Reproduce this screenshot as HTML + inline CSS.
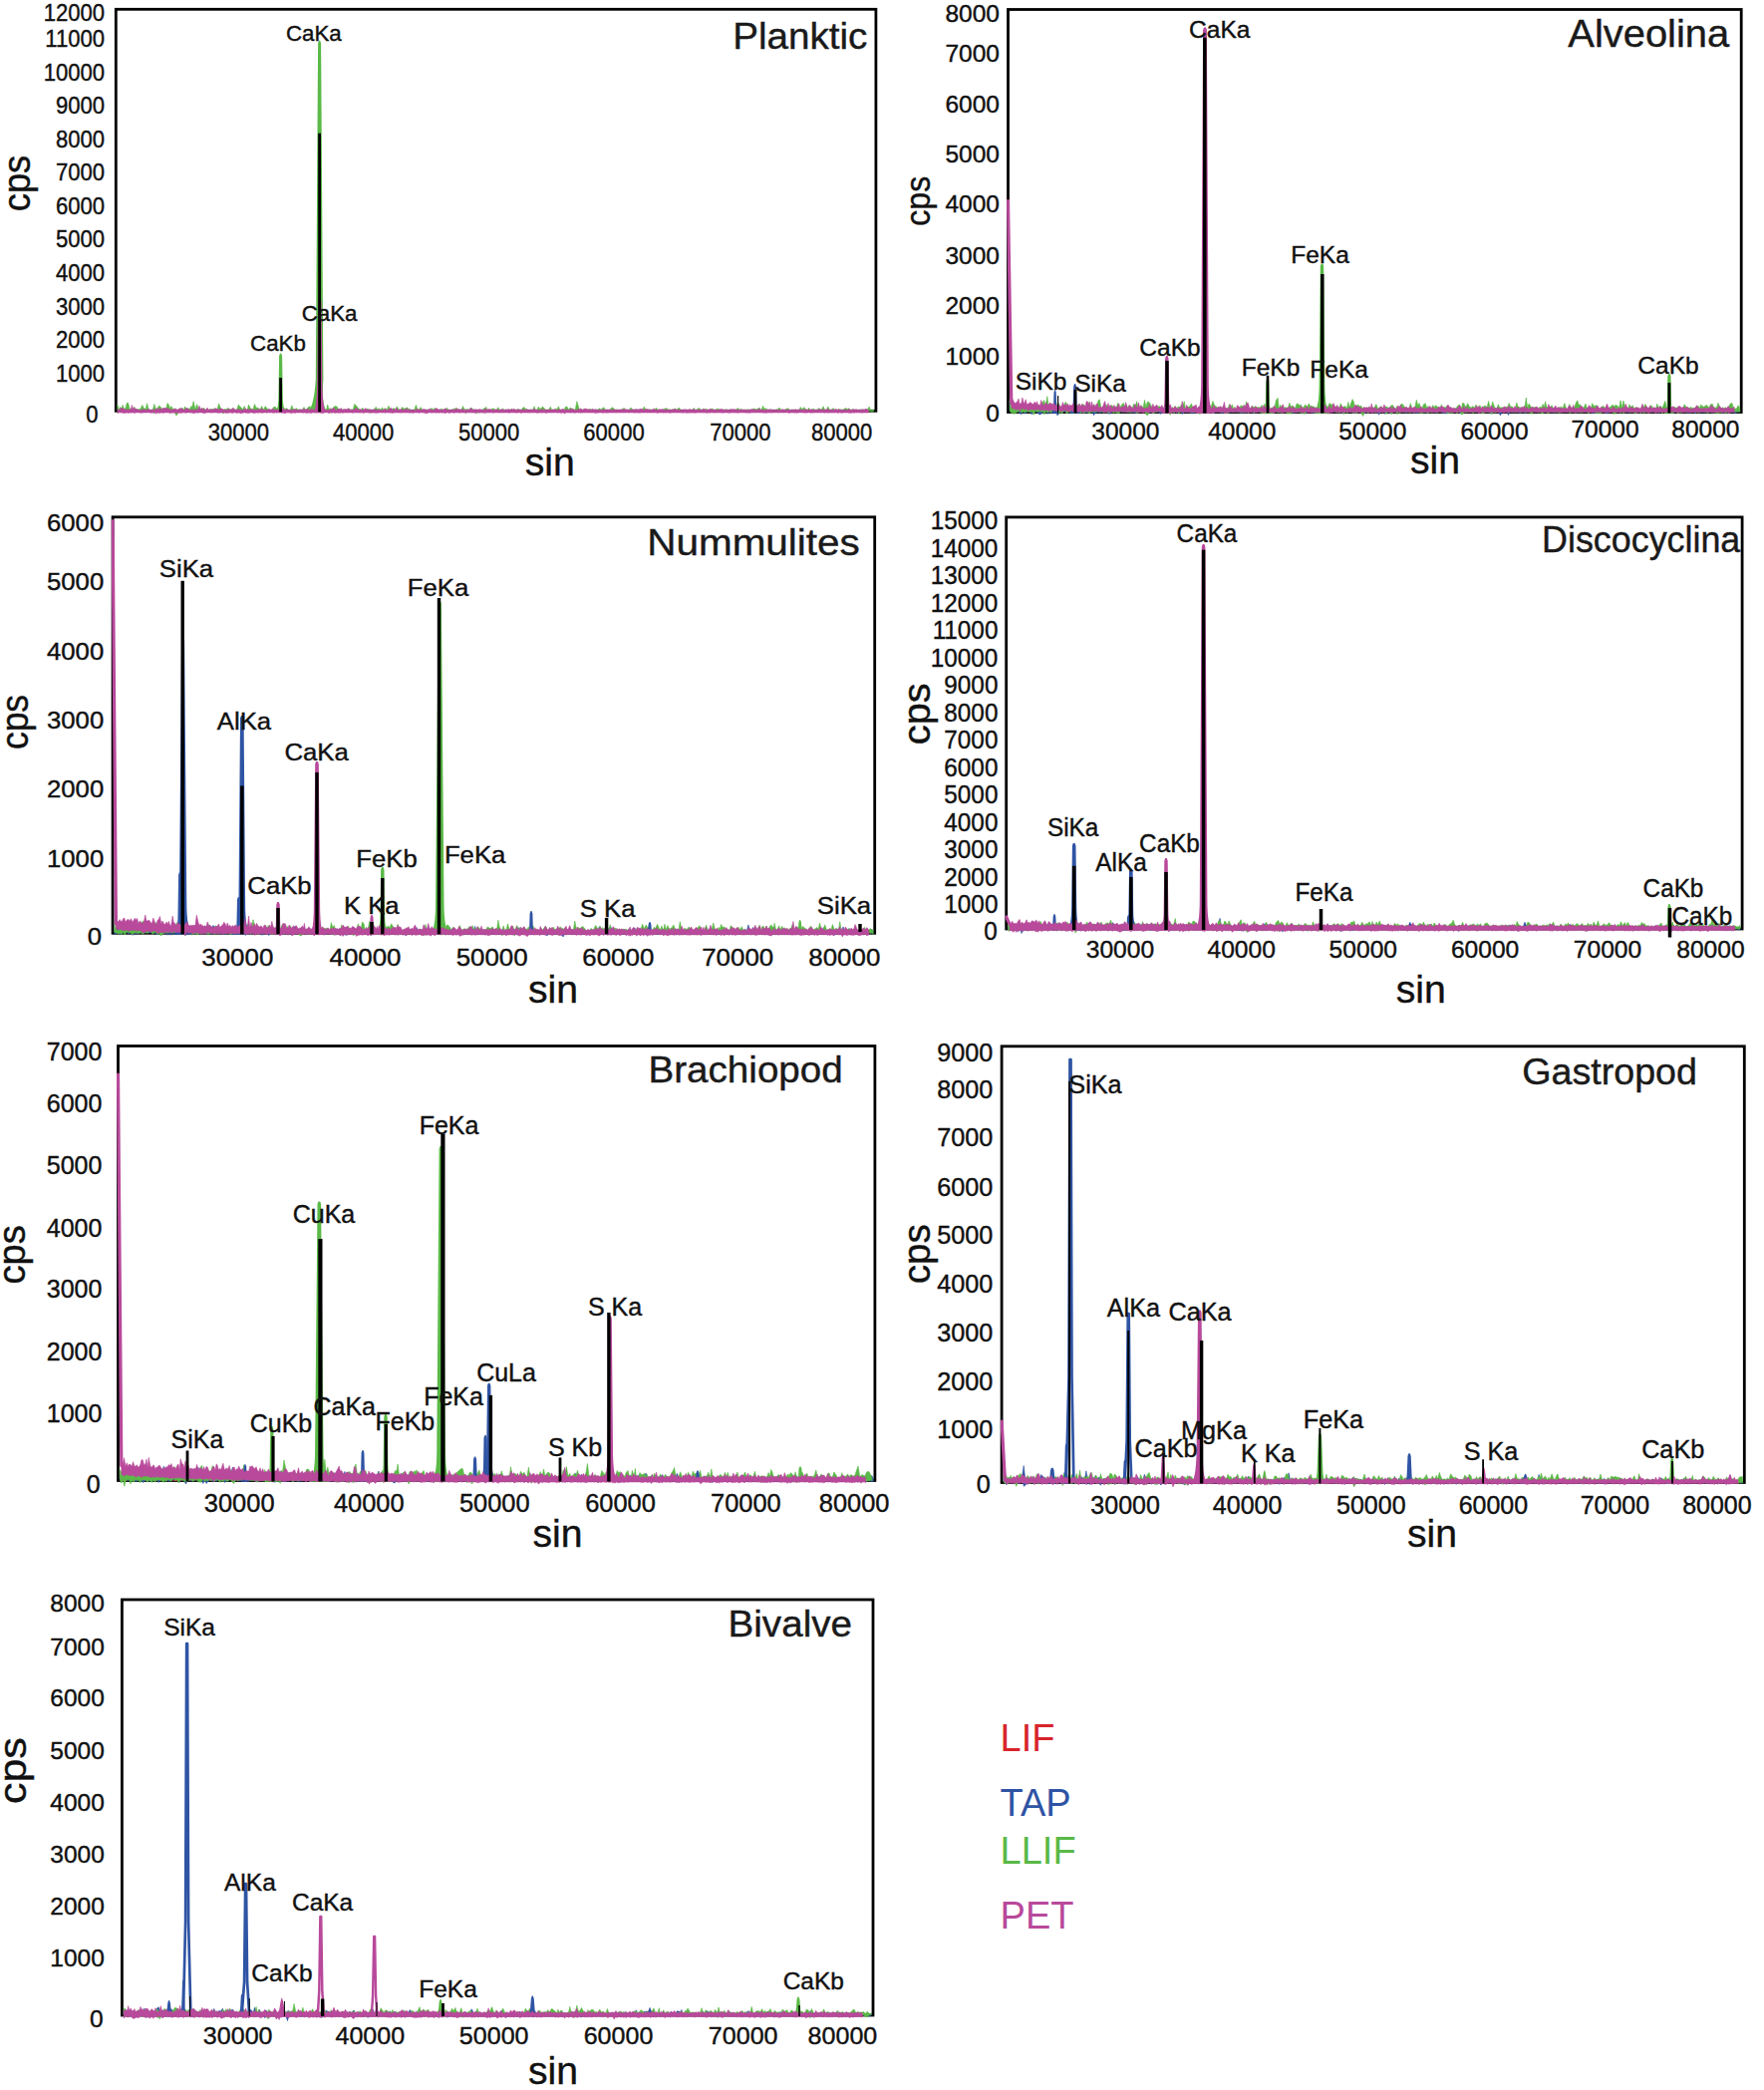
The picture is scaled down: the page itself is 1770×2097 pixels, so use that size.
<!DOCTYPE html>
<html><head><meta charset="utf-8"><title>WDS spectra</title>
<style>html,body{margin:0;padding:0;background:#fff}svg{display:block}text{font-family:"Liberation Sans",sans-serif}</style>
</head><body>
<svg width="1770" height="2097" viewBox="0 0 1770 2097">
<rect width="1770" height="2097" fill="#fff"/>
<rect x="116.3" y="9.3" width="762.6" height="403.0" fill="none" stroke="#000" stroke-width="2.8"/>
<clipPath id="c1"><rect x="114.89999999999999" y="7.9" width="764.0" height="411.0"/></clipPath>
<g clip-path="url(#c1)">
<path d="M117.9,406.0 L119.4,411.4 L120.5,408.3 L122.0,410.1 L123.1,406.3 L124.4,410.2 L125.9,409.7 L127.3,404.4 L128.5,404.1 L130.2,410.6 L131.8,410.4 L133.3,410.2 L134.8,408.3 L136.2,411.2 L137.6,410.5 L139.5,410.9 L141.3,409.6 L142.8,406.4 L144.4,409.8 L146.2,410.2 L147.6,404.7 L149.1,411.0 L150.7,411.6 L152.0,411.8 L153.7,410.2 L154.8,405.4 L156.4,410.4 L157.7,410.4 L159.2,407.4 L160.4,407.5 L162.1,409.6 L163.3,410.6 L165.2,409.2 L166.6,411.0 L168.0,404.6 L169.3,406.0 L170.5,409.7 L172.0,407.6 L173.5,410.9 L175.0,409.8 L176.5,411.1 L177.7,411.6 L179.0,411.1 L180.8,410.7 L182.5,408.9 L184.2,411.8 L185.5,407.8 L186.8,411.1 L188.5,409.1 L190.2,411.2 L191.6,407.7 L192.9,408.3 L194.1,402.8 L196.0,410.8 L197.6,405.7 L199.4,410.6 L201.1,410.0 L202.6,411.1 L204.5,409.1 L206.3,411.8 L207.9,410.7 L209.7,411.7 L211.2,410.7 L213.0,410.7 L214.5,410.4 L216.1,409.5 L217.8,412.3 L219.5,404.9 L221.4,409.5 L223.2,411.0 L224.3,411.3 L226.1,410.5 L227.3,410.8 L229.2,409.3 L230.6,411.1 L232.3,411.5 L233.5,409.1 L234.9,411.4 L236.4,411.1 L237.7,411.5 L239.3,405.9 L240.4,407.8 L242.1,408.9 L243.5,411.0 L245.3,407.4 L246.6,413.0 L248.3,411.2 L249.4,406.1 L251.2,409.3 L252.9,410.9 L254.3,409.7 L255.5,405.4 L256.9,409.1 L258.0,408.9 L259.6,409.8 L261.0,411.2 L262.7,407.6 L264.4,411.4 L266.1,407.7 L267.8,409.3 L269.2,411.4 L270.6,411.3 L272.3,411.9 L273.4,410.9 L274.9,408.0 L276.6,408.6 L278.1,410.7 L279.5,408.7 L281.2,412.1 L282.8,411.7 L284.5,408.4 L285.9,410.8 L287.2,409.4 L288.7,410.7 L289.8,412.7 L291.4,411.2 L292.8,406.8 L294.3,410.8 L296.0,410.9 L297.3,409.6 L299.1,411.5 L300.7,411.1 L302.0,411.1 L303.8,410.9 L305.0,408.4 L306.3,411.0 L307.7,411.1 L309.3,408.6 L311.1,407.7 L312.3,410.9 L313.7,410.0 L315.2,409.9 L317.0,410.1 L318.4,411.6 L320.2,410.7 L321.4,410.9 L322.9,406.1 L324.7,409.1 L325.8,411.6 L327.4,411.7 L328.7,406.0 L330.3,411.7 L331.7,409.4 L333.4,410.9 L335.3,407.9 L336.4,407.4 L338.3,408.2 L339.7,411.6 L340.9,410.3 L342.6,411.0 L344.3,411.1 L345.7,411.6 L346.9,411.3 L348.7,411.1 L350.0,409.7 L351.4,411.1 L352.8,411.1 L354.3,411.3 L355.6,405.4 L357.5,407.0 L359.2,409.2 L360.9,411.2 L362.5,411.6 L363.8,409.0 L365.0,412.7 L366.6,410.9 L368.1,410.2 L369.3,410.6 L371.0,411.2 L372.8,411.9 L374.5,411.1 L375.8,410.9 L377.2,408.2 L379.0,411.4 L380.1,409.6 L382.0,411.8 L383.5,408.8 L384.8,411.2 L386.7,409.4 L388.2,411.4 L389.9,407.2 L391.3,410.4 L392.7,411.3 L393.9,410.2 L395.2,409.4 L396.8,412.1 L398.3,407.8 L400.2,410.9 L402.0,411.9 L403.6,408.4 L405.4,410.0 L407.1,409.8 L408.8,408.8 L410.2,411.3 L411.4,410.4 L412.7,411.7 L414.0,412.5 L415.7,411.7 L417.4,406.3 L418.8,410.8 L420.5,411.3 L422.0,408.6 L423.5,411.2 L424.9,411.6 L426.7,411.5 L428.3,411.8 L429.8,411.2 L431.0,412.0 L432.3,410.2 L433.4,409.4 L434.7,411.8 L436.2,409.3 L437.9,411.1 L439.1,411.4 L440.4,412.3 L442.0,411.1 L443.4,410.1 L445.2,411.9 L446.7,411.7 L448.2,408.9 L449.7,411.5 L451.2,411.3 L452.7,412.3 L453.9,411.4 L455.1,410.1 L456.5,410.2 L457.9,409.1 L459.6,411.1 L461.2,411.7 L463.0,411.6 L464.5,407.4 L465.7,410.2 L467.1,411.3 L468.8,410.5 L470.3,411.3 L471.7,409.8 L473.4,409.2 L475.1,412.0 L476.3,411.7 L477.8,411.6 L479.6,412.0 L480.8,412.0 L482.3,411.8 L483.5,411.8 L485.3,410.0 L486.5,409.8 L487.8,408.3 L488.9,411.8 L490.5,411.1 L492.3,411.4 L494.1,410.0 L495.5,409.9 L497.2,411.5 L498.4,411.5 L499.9,408.7 L501.2,411.2 L502.9,411.4 L504.3,410.2 L506.1,411.3 L507.8,411.8 L509.1,411.4 L510.3,411.1 L511.6,412.2 L513.0,410.3 L514.2,411.1 L515.4,411.3 L516.7,412.1 L518.0,411.3 L519.8,410.6 L521.4,411.9 L523.1,411.6 L524.3,409.6 L525.8,408.4 L527.2,410.3 L528.4,410.3 L529.8,411.5 L531.7,412.3 L533.1,411.2 L534.6,411.3 L536.2,407.7 L537.3,411.7 L538.6,411.9 L540.4,408.1 L541.8,410.6 L543.2,409.2 L544.6,408.1 L546.0,409.5 L547.8,411.8 L549.1,412.1 L550.8,410.9 L552.3,408.1 L553.7,411.7 L555.2,411.9 L556.9,410.1 L558.7,410.7 L560.5,407.8 L561.7,411.9 L563.2,411.9 L565.0,411.2 L566.3,410.8 L567.7,407.9 L569.1,408.2 L570.5,411.2 L572.2,409.0 L573.7,410.1 L575.3,410.2 L577.1,411.9 L578.9,402.7 L580.5,408.3 L581.6,411.6 L583.0,411.8 L584.7,411.6 L585.8,410.4 L587.6,412.0 L589.1,411.5 L590.6,411.8 L592.2,410.0 L593.8,411.9 L595.1,411.7 L596.9,411.0 L598.6,411.6 L600.0,411.1 L601.3,409.7 L603.1,411.0 L604.7,409.5 L606.0,408.7 L607.5,411.7 L609.0,412.3 L610.9,411.8 L612.3,411.0 L614.1,408.7 L615.7,409.7 L617.2,411.5 L618.7,411.2 L620.2,412.3 L622.1,411.2 L623.6,411.5 L624.8,410.6 L626.0,409.2 L627.1,410.9 L628.4,411.1 L630.0,411.7 L631.2,411.8 L633.0,408.9 L634.8,410.9 L636.3,412.1 L637.6,411.2 L638.9,411.3 L640.1,411.2 L641.8,411.6 L643.3,411.1 L644.9,410.7 L646.4,408.0 L647.8,411.5 L649.1,410.2 L650.3,411.9 L651.9,411.0 L653.2,411.8 L655.0,411.3 L656.9,411.3 L658.4,409.1 L660.0,411.4 L661.3,412.3 L663.1,411.5 L664.9,411.2 L666.3,410.6 L667.8,409.7 L669.3,409.8 L670.7,411.4 L671.9,411.0 L673.3,411.8 L674.9,410.8 L676.5,410.9 L677.7,409.8 L678.9,411.6 L680.4,409.7 L681.6,409.2 L682.9,411.4 L684.2,412.5 L685.4,412.3 L687.0,411.9 L688.4,411.5 L690.2,411.7 L691.5,411.3 L693.0,412.0 L694.5,411.3 L696.2,409.4 L697.9,412.0 L699.1,411.2 L700.9,409.4 L702.4,410.1 L704.0,412.8 L705.3,409.9 L706.9,411.5 L708.4,410.2 L710.1,411.3 L711.4,411.8 L712.8,410.6 L714.5,410.0 L715.9,411.0 L717.4,412.1 L719.0,410.2 L720.2,410.3 L721.9,410.8 L723.4,411.5 L725.2,411.3 L727.1,411.5 L728.5,410.7 L729.8,411.5 L731.3,412.0 L732.6,411.2 L734.1,411.8 L735.9,411.9 L737.5,411.8 L738.8,411.2 L740.5,409.2 L741.9,411.7 L743.6,410.5 L745.2,411.4 L747.1,411.9 L748.3,411.6 L749.7,411.0 L751.2,411.4 L752.7,411.9 L754.5,411.0 L756.4,409.9 L757.7,410.6 L759.1,410.8 L761.0,409.8 L762.4,409.3 L763.8,412.3 L765.6,407.3 L766.9,410.5 L768.3,409.5 L769.9,411.4 L771.6,411.6 L772.8,411.2 L774.4,411.4 L775.5,412.0 L777.2,411.8 L778.3,412.0 L779.7,410.7 L781.0,410.5 L782.1,409.0 L783.6,411.4 L785.4,411.6 L786.9,412.0 L788.5,410.4 L790.3,409.7 L792.1,411.1 L793.7,411.4 L795.2,411.6 L797.1,411.8 L798.8,411.9 L800.4,411.1 L801.9,411.9 L803.2,408.4 L804.9,410.8 L806.8,408.6 L808.6,411.5 L810.3,411.4 L811.6,409.2 L813.3,411.8 L814.7,411.7 L816.0,410.1 L817.4,411.1 L818.6,411.7 L819.8,411.6 L821.6,409.4 L823.1,410.9 L824.7,410.6 L826.1,407.8 L827.9,411.9 L829.2,411.7 L830.8,407.9 L832.6,411.7 L834.2,411.4 L836.0,409.5 L837.6,411.8 L839.2,410.7 L841.0,411.8 L842.6,410.6 L844.2,411.5 L845.5,411.0 L847.1,410.6 L848.8,409.3 L850.1,410.8 L851.7,409.7 L853.4,411.2 L854.6,411.7 L856.0,410.4 L857.3,411.9 L858.6,411.9 L860.5,411.7 L862.2,411.6 L864.0,411.1 L865.3,411.0 L867.1,411.6 L868.2,410.8 L869.5,411.6 L870.7,410.4 L872.2,408.1 L873.5,411.2 L874.8,411.7 L876.6,410.9 L876.9,412.1 L875.1,413.2 L873.8,412.7 L872.5,412.2 L871.0,412.4 L869.8,411.9 L868.5,413.5 L867.4,412.0 L865.6,412.6 L864.3,412.0 L862.5,412.7 L860.8,411.8 L858.9,411.7 L857.6,412.0 L856.3,412.2 L854.9,411.6 L853.7,412.3 L852.0,413.1 L850.4,411.6 L849.1,411.9 L847.4,410.9 L845.8,412.0 L844.5,412.0 L842.9,412.1 L841.3,412.5 L839.5,412.8 L837.9,412.5 L836.3,413.3 L834.5,412.2 L832.9,411.3 L831.1,411.8 L829.5,411.5 L828.2,413.3 L826.4,411.7 L825.0,411.9 L823.4,411.8 L821.9,412.3 L820.1,412.0 L818.9,413.1 L817.7,412.0 L816.3,412.2 L815.0,411.9 L813.6,411.9 L811.9,412.0 L810.6,412.0 L808.9,412.1 L807.1,412.1 L805.2,411.8 L803.5,412.0 L802.2,412.3 L800.7,411.7 L799.1,412.4 L797.4,412.2 L795.5,412.4 L794.0,412.3 L792.4,412.8 L790.6,412.9 L788.8,411.9 L787.2,412.3 L785.7,411.9 L783.9,412.0 L782.4,412.7 L781.3,412.2 L780.0,411.9 L778.6,412.5 L777.5,411.6 L775.8,412.7 L774.7,412.1 L773.1,412.3 L771.9,412.5 L770.2,412.0 L768.6,412.9 L767.2,411.7 L765.9,412.1 L764.1,412.0 L762.7,413.5 L761.3,412.7 L759.4,412.7 L758.0,411.7 L756.7,412.9 L754.8,412.6 L753.0,412.0 L751.5,411.3 L750.0,412.0 L748.6,411.9 L747.4,411.8 L745.5,412.0 L743.9,411.9 L742.2,413.0 L740.8,411.9 L739.1,412.7 L737.8,412.3 L736.2,412.0 L734.4,412.0 L732.9,411.9 L731.6,412.6 L730.1,413.2 L728.8,412.0 L727.4,412.0 L725.5,411.8 L723.7,412.1 L722.2,412.3 L720.5,412.0 L719.3,413.5 L717.7,413.3 L716.2,412.0 L714.8,412.6 L713.1,411.8 L711.7,413.0 L710.4,412.6 L708.7,413.2 L707.2,413.1 L705.6,412.1 L704.3,412.1 L702.7,412.1 L701.2,412.0 L699.4,411.9 L698.2,412.6 L696.5,413.1 L694.8,412.1 L693.3,411.9 L691.8,411.7 L690.5,412.7 L688.7,412.8 L687.3,412.0 L685.7,412.9 L684.5,412.3 L683.2,412.8 L681.9,413.1 L680.7,411.9 L679.2,413.4 L678.0,412.4 L676.8,412.1 L675.2,412.9 L673.6,411.8 L672.2,413.1 L671.0,412.2 L669.6,411.8 L668.1,411.9 L666.6,412.0 L665.2,412.1 L663.4,413.7 L661.6,411.6 L660.3,412.9 L658.7,411.7 L657.2,411.9 L655.3,412.0 L653.5,412.6 L652.2,413.4 L650.6,412.4 L649.4,413.1 L648.1,413.5 L646.7,411.8 L645.2,412.3 L643.6,413.8 L642.1,411.8 L640.4,412.7 L639.2,412.8 L637.9,412.0 L636.6,412.7 L635.1,412.3 L633.3,413.0 L631.5,411.7 L630.3,412.6 L628.7,412.7 L627.4,412.7 L626.3,412.2 L625.1,412.1 L623.9,412.1 L622.4,413.0 L620.5,412.1 L619.0,412.2 L617.5,413.2 L616.0,412.3 L614.4,412.1 L612.6,412.6 L611.2,411.9 L609.3,412.5 L607.8,412.0 L606.3,412.0 L605.0,413.1 L603.4,412.5 L601.6,412.2 L600.3,412.1 L598.9,411.9 L597.2,413.1 L595.4,413.3 L594.1,412.0 L592.5,411.9 L590.9,412.0 L589.4,411.6 L587.9,412.7 L586.1,412.2 L585.0,414.2 L583.3,413.0 L581.9,412.1 L580.8,412.2 L579.2,412.3 L577.4,414.2 L575.6,412.6 L574.0,412.1 L572.5,412.4 L570.8,412.0 L569.4,411.8 L568.0,411.5 L566.6,412.8 L565.3,412.5 L563.5,411.9 L562.0,411.7 L560.8,412.1 L559.0,412.5 L557.2,412.1 L555.5,411.7 L554.0,413.0 L552.6,412.9 L551.1,411.8 L549.4,411.8 L548.1,412.2 L546.3,411.9 L544.9,412.1 L543.5,412.4 L542.1,411.9 L540.7,412.0 L538.9,412.1 L537.6,412.6 L536.5,411.8 L534.9,412.2 L533.4,412.5 L532.0,412.1 L530.1,411.9 L528.7,412.5 L527.5,412.0 L526.1,413.6 L524.6,411.8 L523.4,413.7 L521.7,411.8 L520.1,413.2 L518.3,411.8 L517.0,411.4 L515.7,412.1 L514.5,411.8 L513.3,413.4 L511.9,413.0 L510.6,412.8 L509.4,412.7 L508.1,411.8 L506.4,412.5 L504.6,413.0 L503.2,413.2 L501.5,413.1 L500.2,412.1 L498.7,411.9 L497.5,411.8 L495.8,411.4 L494.4,412.1 L492.6,411.9 L490.8,412.2 L489.2,413.0 L488.1,414.3 L486.8,413.7 L485.6,413.7 L483.8,412.6 L482.6,412.3 L481.1,414.4 L479.9,413.4 L478.1,414.8 L476.6,411.5 L475.4,412.7 L473.7,412.5 L472.0,411.9 L470.6,412.6 L469.1,411.9 L467.4,415.0 L466.0,412.2 L464.8,412.5 L463.3,411.9 L461.5,413.0 L459.9,412.1 L458.2,413.0 L456.8,412.0 L455.4,412.0 L454.2,413.6 L453.0,411.9 L451.5,412.4 L450.0,412.0 L448.5,412.5 L447.0,412.0 L445.5,413.0 L443.7,411.7 L442.3,413.3 L440.7,413.5 L439.4,413.6 L438.2,412.0 L436.5,412.2 L435.0,411.3 L433.7,412.2 L432.6,413.4 L431.3,412.0 L430.1,412.6 L428.6,411.6 L427.0,411.7 L425.2,412.3 L423.8,413.7 L422.3,412.0 L420.8,412.4 L419.1,411.5 L417.7,411.7 L416.0,413.2 L414.3,412.2 L413.0,412.1 L411.7,412.0 L410.5,411.9 L409.1,411.7 L407.4,412.7 L405.7,412.1 L403.9,412.1 L402.3,413.1 L400.5,412.3 L398.6,412.0 L397.1,412.9 L395.5,412.1 L394.2,412.8 L393.0,412.2 L391.6,411.8 L390.2,411.7 L388.5,412.9 L387.0,413.4 L385.1,413.3 L383.8,411.4 L382.3,412.0 L380.4,412.7 L379.3,412.3 L377.5,411.3 L376.1,411.5 L374.8,411.5 L373.1,412.9 L371.3,414.4 L369.6,412.0 L368.4,412.3 L366.9,412.6 L365.3,413.1 L364.1,413.5 L362.8,412.8 L361.2,411.6 L359.5,413.1 L357.8,412.0 L355.9,413.4 L354.6,412.1 L353.1,413.1 L351.7,412.1 L350.3,413.0 L349.0,411.7 L347.2,411.8 L346.0,413.8 L344.6,413.2 L342.9,412.7 L341.2,412.0 L340.0,411.4 L338.6,412.5 L336.7,413.2 L335.6,414.2 L333.7,411.5 L332.0,414.4 L330.6,411.9 L329.0,413.1 L327.7,413.1 L326.1,411.7 L325.0,412.3 L323.2,411.5 L321.7,412.0 L320.5,411.7 L318.7,413.1 L317.3,412.1 L315.5,413.9 L314.0,412.8 L312.6,412.0 L311.4,412.0 L309.6,411.9 L308.0,412.1 L306.6,411.5 L305.3,413.5 L304.1,411.6 L302.3,411.9 L301.0,413.3 L299.4,411.4 L297.6,411.4 L296.3,413.7 L294.6,411.9 L293.1,413.1 L291.7,411.9 L290.1,412.1 L289.0,411.7 L287.5,411.4 L286.2,414.0 L284.8,411.6 L283.1,413.0 L281.5,412.2 L279.8,411.7 L278.4,412.2 L276.9,412.1 L275.2,412.1 L273.7,413.7 L272.6,412.2 L270.9,412.4 L269.5,412.1 L268.1,412.1 L266.4,413.5 L264.7,411.9 L263.0,412.0 L261.3,412.0 L259.9,411.9 L258.3,413.4 L257.2,412.8 L255.8,411.6 L254.6,411.7 L253.2,411.7 L251.5,412.0 L249.7,412.0 L248.6,413.3 L246.9,411.8 L245.6,412.0 L243.8,411.5 L242.4,411.9 L240.7,412.8 L239.6,411.6 L238.0,412.1 L236.7,411.8 L235.2,411.9 L233.8,412.8 L232.6,412.9 L230.9,413.5 L229.5,411.6 L227.6,411.5 L226.4,411.5 L224.6,414.7 L223.5,414.8 L221.7,411.8 L219.8,413.6 L218.1,412.2 L216.4,412.3 L214.8,412.4 L213.3,413.2 L211.5,413.2 L210.0,412.7 L208.2,413.0 L206.6,411.9 L204.8,412.1 L202.9,412.5 L201.4,412.1 L199.7,413.1 L197.9,413.9 L196.3,412.4 L194.4,414.0 L193.2,411.4 L191.9,411.8 L190.5,413.3 L188.8,411.4 L187.1,412.0 L185.8,411.7 L184.5,411.6 L182.8,412.5 L181.1,411.7 L179.3,411.4 L178.0,415.7 L176.8,417.1 L175.3,412.7 L173.8,413.0 L172.3,414.6 L170.8,412.0 L169.6,411.8 L168.3,411.9 L166.9,411.9 L165.5,411.6 L163.6,411.5 L162.4,412.1 L160.7,411.8 L159.5,412.3 L158.0,414.3 L156.7,412.5 L155.1,412.3 L154.0,414.8 L152.3,411.7 L151.0,411.8 L149.4,412.2 L147.9,413.1 L146.5,411.3 L144.7,412.1 L143.1,411.9 L141.6,411.6 L139.8,411.9 L137.9,412.1 L136.5,412.8 L135.1,413.7 L133.6,412.0 L132.1,413.9 L130.5,411.1 L128.8,412.1 L127.6,412.5 L126.2,413.2 L124.7,412.3 L123.4,412.4 L122.3,411.8 L120.8,411.3 L119.7,412.8 L118.2,414.3Z" fill="#5ab947" stroke="#5ab947" stroke-width="0.6" stroke-linejoin="round"/>
<path d="M276.1,413.5 Q279.6,411.0 279.5,395.1 L280.1,357.0 L281.0,354.5 L282.2,354.5 L283.1,357.0 L283.7,395.1 Q283.6,411.0 287.1,413.5 Z" fill="#5ab947"/>
<path d="M307.6,413.5 Q314.9,411.0 316.8,380.5 L319.1,43.3 L320.0,40.8 L321.2,40.8 L322.1,43.3 L324.4,380.5 Q322.3,411.0 329.6,413.5 Z" fill="#5ab947"/>
<path d="M117.9,410.7 L119.3,411.3 L120.8,410.0 L122.3,409.6 L123.7,409.5 L124.8,410.9 L126.0,410.9 L127.5,410.7 L128.5,411.5 L129.9,410.5 L131.1,411.3 L132.4,406.4 L133.4,411.3 L134.6,408.7 L136.0,410.7 L137.0,410.2 L138.4,411.3 L139.6,411.3 L141.0,411.8 L142.3,411.3 L143.5,410.7 L144.5,410.7 L145.9,411.3 L147.0,411.5 L148.0,411.1 L149.1,410.1 L150.1,411.3 L151.1,411.3 L152.5,411.5 L153.7,410.4 L154.8,411.4 L156.2,410.7 L157.6,409.6 L158.6,411.3 L159.9,409.8 L161.2,409.8 L162.5,411.3 L164.0,409.1 L165.1,410.3 L166.1,409.1 L167.4,410.0 L168.7,409.6 L170.0,411.0 L171.3,410.9 L172.3,411.1 L173.6,410.8 L175.0,410.6 L176.4,410.0 L177.6,411.2 L178.7,411.0 L180.2,409.7 L181.7,409.9 L182.7,410.2 L184.0,410.8 L185.2,412.0 L186.3,409.7 L187.5,409.4 L188.7,410.6 L189.7,410.7 L190.9,411.3 L191.9,411.1 L193.3,411.4 L194.5,411.1 L195.9,411.4 L197.3,410.6 L198.7,411.5 L200.0,407.2 L201.4,411.5 L202.3,409.3 L203.7,410.3 L205.2,411.0 L206.7,411.2 L208.1,409.1 L209.4,411.7 L210.8,410.5 L211.8,411.1 L213.1,410.9 L214.5,410.6 L215.4,411.1 L216.4,409.8 L217.8,410.3 L218.8,410.5 L220.1,411.3 L221.0,409.7 L222.4,410.3 L223.9,410.8 L224.9,411.4 L226.4,411.4 L227.7,411.1 L229.2,410.6 L230.6,411.1 L231.8,410.8 L232.9,410.6 L234.3,409.4 L235.2,410.8 L236.2,411.4 L237.2,411.1 L238.5,410.6 L239.7,410.9 L241.0,411.1 L242.3,411.5 L243.8,411.2 L245.1,411.3 L246.2,409.5 L247.4,411.3 L248.8,410.3 L250.2,411.5 L251.5,410.5 L252.6,410.6 L253.7,411.3 L255.0,411.1 L256.1,411.2 L257.4,411.3 L258.5,410.5 L259.9,411.3 L261.1,410.3 L262.3,410.1 L263.2,411.0 L264.4,410.9 L265.8,411.1 L267.2,411.2 L268.6,411.3 L270.1,410.2 L271.1,411.2 L272.4,410.9 L273.6,409.9 L274.9,411.1 L276.3,411.2 L277.3,411.1 L278.2,411.1 L279.2,411.1 L280.5,411.6 L281.4,410.1 L282.8,409.2 L283.8,410.3 L285.1,410.7 L286.2,411.1 L287.3,411.1 L288.5,410.5 L289.5,411.3 L290.8,411.5 L292.3,411.3 L293.5,411.1 L294.5,411.2 L295.9,410.3 L296.8,411.3 L298.2,411.4 L299.3,411.4 L300.6,411.3 L301.6,410.9 L302.6,411.2 L303.6,411.3 L304.7,410.0 L306.0,411.1 L306.9,411.3 L308.2,410.1 L309.6,410.6 L310.6,411.6 L311.8,410.7 L313.1,410.1 L314.4,411.4 L315.4,411.4 L316.7,410.1 L318.0,411.3 L319.3,410.8 L320.7,411.5 L321.7,410.8 L323.0,411.2 L324.2,410.7 L325.2,411.2 L326.1,411.1 L327.3,411.2 L328.5,411.5 L329.7,411.8 L331.0,409.9 L331.9,410.9 L332.9,411.1 L333.9,409.6 L335.0,409.1 L336.5,411.3 L337.9,411.5 L338.9,410.1 L340.2,410.3 L341.3,410.5 L342.3,409.4 L343.3,411.6 L344.2,410.9 L345.2,410.7 L346.5,410.6 L348.0,411.0 L349.5,409.7 L351.0,411.2 L352.5,411.3 L353.6,411.2 L354.8,411.1 L356.1,410.7 L357.2,408.9 L358.6,410.9 L360.1,411.0 L361.1,410.5 L362.1,411.0 L363.4,411.2 L364.6,411.2 L365.6,410.6 L367.1,409.7 L368.5,411.2 L369.7,410.9 L370.8,411.2 L371.9,410.8 L373.0,411.5 L374.4,411.4 L375.6,410.1 L376.7,411.3 L378.2,411.4 L379.2,411.0 L380.3,411.2 L381.2,411.2 L382.5,411.5 L383.5,411.8 L384.9,411.3 L386.1,410.0 L387.1,411.2 L388.3,411.3 L389.3,411.8 L390.3,410.2 L391.6,409.8 L392.5,409.2 L393.6,411.3 L394.7,411.2 L396.1,411.3 L397.5,409.3 L398.9,411.5 L400.1,411.0 L401.4,411.0 L402.7,410.5 L403.7,411.0 L405.2,411.2 L406.1,411.2 L407.5,410.0 L408.5,410.3 L409.6,411.7 L410.6,410.4 L411.9,411.4 L412.9,411.7 L414.2,411.2 L415.4,411.4 L416.8,411.7 L418.1,410.5 L419.1,410.7 L420.5,410.9 L421.5,411.1 L422.7,411.3 L423.9,410.9 L425.0,410.5 L426.2,410.7 L427.7,411.4 L429.2,411.3 L430.1,411.0 L431.3,410.0 L432.7,411.2 L433.8,411.3 L435.0,411.4 L436.1,411.2 L437.4,409.7 L438.8,409.9 L440.1,411.3 L441.2,410.7 L442.2,411.2 L443.4,411.4 L444.4,411.5 L445.7,410.3 L446.9,410.1 L448.1,411.1 L449.3,411.2 L450.8,411.2 L451.9,411.4 L452.9,411.4 L454.0,410.8 L455.4,411.4 L456.3,410.9 L457.3,410.4 L458.4,410.3 L459.5,410.7 L460.8,410.4 L461.8,411.2 L462.9,410.8 L464.0,410.7 L464.9,410.9 L466.4,411.4 L467.8,411.2 L469.1,411.3 L470.2,411.3 L471.3,410.8 L472.7,409.2 L474.1,411.5 L475.2,411.1 L476.4,410.7 L477.6,410.9 L478.9,411.2 L480.4,411.0 L481.6,410.6 L482.9,411.3 L484.2,411.5 L485.6,411.4 L486.7,409.9 L488.1,411.3 L489.4,410.7 L490.7,410.7 L492.0,410.7 L493.5,411.2 L494.5,411.4 L496.0,411.5 L497.3,411.1 L498.2,410.7 L499.6,411.3 L500.8,411.6 L502.0,411.3 L503.0,411.3 L504.0,410.3 L504.9,411.2 L506.4,411.6 L507.3,410.9 L508.5,411.0 L509.6,411.0 L510.9,410.6 L511.8,411.6 L513.3,410.6 L514.4,410.9 L515.8,410.3 L517.0,411.1 L517.9,411.4 L519.3,411.3 L520.4,410.4 L521.6,411.4 L522.8,411.3 L523.8,411.3 L524.8,411.0 L525.8,411.3 L527.3,411.2 L528.4,410.7 L529.5,411.2 L530.6,411.4 L531.8,411.0 L533.2,411.2 L534.4,411.3 L535.8,410.2 L537.0,411.0 L538.4,411.2 L539.8,411.2 L540.9,411.5 L542.3,411.2 L543.3,411.2 L544.4,410.3 L545.5,411.4 L546.6,410.9 L547.8,411.4 L549.3,411.4 L550.6,411.0 L552.0,410.9 L553.2,411.2 L554.5,410.9 L555.7,411.3 L557.1,410.7 L558.3,411.4 L559.7,411.3 L560.6,411.1 L561.7,410.5 L562.9,411.5 L564.0,410.6 L565.1,410.6 L566.0,411.0 L567.5,411.7 L568.7,410.5 L570.1,411.5 L571.1,411.5 L572.2,410.6 L573.3,410.2 L574.8,410.7 L576.1,411.5 L577.3,411.3 L578.3,411.3 L579.3,411.4 L580.3,410.3 L581.5,411.1 L582.6,409.8 L583.9,411.0 L585.4,411.3 L586.5,410.0 L587.8,409.9 L588.8,410.8 L589.7,410.4 L590.9,410.9 L592.0,411.1 L593.1,411.4 L594.5,410.0 L595.7,411.4 L597.2,410.7 L598.1,411.2 L599.0,411.1 L600.4,411.4 L601.8,411.1 L603.0,411.5 L603.9,411.2 L605.0,411.1 L606.4,410.9 L607.4,411.1 L608.4,411.2 L609.6,411.2 L610.9,411.3 L612.0,410.8 L613.1,411.2 L614.3,411.2 L615.5,411.1 L616.5,410.8 L617.5,411.3 L618.4,411.3 L619.6,411.4 L620.8,411.1 L621.9,411.5 L623.3,410.8 L624.4,410.9 L625.5,410.9 L627.0,410.5 L628.4,411.2 L629.5,411.1 L630.5,411.0 L631.9,411.1 L633.2,411.2 L634.3,411.1 L635.4,410.9 L636.5,411.2 L638.0,410.3 L639.0,411.3 L639.9,410.8 L641.0,411.0 L642.4,410.3 L643.7,410.4 L644.9,410.5 L645.9,411.5 L647.1,411.3 L648.5,410.1 L649.7,411.3 L650.9,410.7 L652.4,411.2 L653.3,411.4 L654.6,411.2 L655.8,409.9 L657.1,411.1 L658.1,411.3 L659.2,411.4 L660.7,411.1 L662.0,410.8 L663.1,410.9 L664.1,410.7 L665.4,410.8 L666.5,411.2 L667.4,411.2 L668.7,411.0 L670.2,411.2 L671.5,411.3 L672.4,411.1 L673.6,411.4 L674.8,411.2 L676.2,410.4 L677.1,410.6 L678.4,411.0 L679.6,411.2 L680.6,410.9 L682.0,411.1 L683.5,411.4 L685.0,411.2 L686.4,411.1 L687.4,410.8 L688.8,411.2 L690.0,411.3 L691.0,411.1 L692.4,410.6 L693.4,411.3 L694.8,411.2 L696.1,410.5 L697.4,411.4 L698.8,411.1 L700.1,411.2 L701.3,411.3 L702.3,410.8 L703.5,411.3 L704.8,411.3 L706.2,410.3 L707.5,410.8 L708.6,411.6 L709.7,411.0 L710.7,411.5 L711.8,410.5 L713.2,410.6 L714.1,411.1 L715.3,411.1 L716.2,411.0 L717.6,411.6 L718.7,411.2 L720.1,411.2 L721.5,411.3 L722.5,410.5 L723.6,410.6 L725.1,410.8 L726.6,411.6 L727.6,411.1 L728.8,411.3 L730.0,411.2 L731.3,411.4 L732.6,411.1 L733.5,410.3 L734.5,411.5 L735.4,410.0 L736.6,411.3 L737.6,410.7 L738.9,411.0 L740.0,411.2 L741.1,411.4 L742.0,410.9 L742.9,411.2 L744.4,411.0 L745.4,411.4 L746.9,411.1 L748.2,411.4 L749.5,411.4 L750.7,411.3 L752.2,411.2 L753.1,411.3 L754.1,410.3 L755.2,411.1 L756.6,410.7 L757.6,411.3 L758.7,411.2 L760.2,411.3 L761.5,410.1 L762.4,410.9 L763.3,411.3 L764.4,410.8 L765.4,411.3 L766.6,411.4 L767.7,411.5 L768.8,411.5 L769.8,410.8 L771.0,411.2 L772.2,410.9 L773.2,410.9 L774.2,411.0 L775.3,411.4 L776.3,411.3 L777.6,411.4 L778.9,411.2 L780.4,411.2 L781.4,411.1 L782.8,411.4 L784.0,411.3 L785.3,410.7 L786.7,411.3 L787.7,411.2 L789.1,411.2 L790.3,411.2 L791.6,410.7 L792.6,411.8 L793.9,411.3 L794.8,411.2 L796.0,411.2 L797.2,411.3 L798.2,410.7 L799.1,411.3 L800.4,411.4 L801.5,411.0 L802.6,410.7 L804.0,411.2 L805.3,411.2 L806.5,411.1 L807.6,411.3 L808.7,410.3 L809.6,411.6 L810.9,411.1 L812.3,411.1 L813.5,411.3 L814.8,410.4 L815.8,411.4 L816.8,411.3 L818.1,411.3 L819.2,411.2 L820.6,411.2 L821.5,411.0 L822.6,410.5 L823.8,411.3 L825.1,411.0 L826.2,410.9 L827.3,411.3 L828.6,411.3 L829.8,410.4 L830.9,410.5 L832.1,411.4 L833.5,411.3 L834.5,411.2 L835.7,411.2 L837.0,411.2 L838.2,410.4 L839.3,411.2 L840.5,411.2 L841.5,410.3 L842.6,411.7 L843.8,411.1 L845.0,411.7 L846.2,411.3 L847.6,411.2 L848.9,411.2 L850.2,411.5 L851.3,410.3 L852.6,411.0 L853.5,411.4 L854.4,411.6 L855.6,410.9 L856.7,410.8 L858.1,411.1 L859.2,410.7 L860.5,411.4 L862.0,411.3 L862.9,411.1 L864.0,411.4 L865.2,410.9 L866.2,410.9 L867.6,411.0 L868.9,410.1 L870.0,410.9 L871.4,411.3 L871.7,414.0 L870.3,414.1 L869.2,414.0 L867.9,414.0 L866.5,414.0 L865.5,414.3 L864.3,414.1 L863.2,414.1 L862.3,414.0 L860.8,413.9 L859.5,414.0 L858.4,413.9 L857.0,414.2 L855.9,413.9 L854.7,414.2 L853.8,414.3 L852.9,414.3 L851.6,414.2 L850.5,414.0 L849.2,414.0 L847.9,414.0 L846.5,414.0 L845.3,414.3 L844.1,414.2 L842.9,413.9 L841.8,414.0 L840.8,414.4 L839.6,413.9 L838.5,414.0 L837.3,414.0 L836.0,414.1 L834.8,414.1 L833.8,414.0 L832.4,414.1 L831.2,414.2 L830.1,414.0 L828.9,414.0 L827.6,414.2 L826.5,414.1 L825.4,413.9 L824.1,414.0 L822.9,414.0 L821.8,413.8 L820.9,414.1 L819.5,414.0 L818.4,414.0 L817.1,413.9 L816.1,414.2 L815.1,414.0 L813.8,414.3 L812.6,414.0 L811.2,413.9 L809.9,413.9 L809.0,414.4 L807.9,413.9 L806.8,414.2 L805.6,413.9 L804.3,413.9 L802.9,413.8 L801.8,413.9 L800.7,414.0 L799.4,414.4 L798.5,413.9 L797.5,414.3 L796.3,414.0 L795.1,414.1 L794.2,414.0 L792.9,414.0 L791.9,414.6 L790.6,414.0 L789.4,413.9 L788.0,414.0 L787.0,413.9 L785.6,414.1 L784.3,413.9 L783.1,413.9 L781.7,414.1 L780.7,414.0 L779.2,413.9 L777.9,414.0 L776.6,413.9 L775.6,413.9 L774.5,414.2 L773.5,414.1 L772.5,414.0 L771.3,414.1 L770.1,414.0 L769.1,414.2 L768.0,414.3 L766.9,414.1 L765.7,414.3 L764.7,413.9 L763.6,414.1 L762.7,413.9 L761.8,414.0 L760.5,413.9 L759.0,414.0 L757.9,414.0 L756.9,413.9 L755.5,414.0 L754.4,414.0 L753.4,414.1 L752.5,414.2 L751.0,414.3 L749.8,414.1 L748.5,414.2 L747.2,413.9 L745.7,414.0 L744.7,414.0 L743.2,413.9 L742.3,414.0 L741.4,414.1 L740.3,414.5 L739.2,414.0 L737.9,414.1 L736.9,414.1 L735.7,414.1 L734.8,414.1 L733.8,413.9 L732.9,414.2 L731.6,414.3 L730.3,414.0 L729.1,414.0 L727.9,414.0 L726.9,414.0 L725.4,414.3 L723.9,414.1 L722.8,414.1 L721.8,413.9 L720.4,414.1 L719.0,414.0 L717.9,414.0 L716.5,414.2 L715.6,413.9 L714.4,413.9 L713.5,413.9 L712.1,414.2 L711.0,413.9 L710.0,414.2 L708.9,414.3 L707.8,414.1 L706.5,414.1 L705.1,414.1 L703.8,413.9 L702.6,414.1 L701.6,414.1 L700.4,413.9 L699.1,414.1 L697.7,414.3 L696.4,414.2 L695.1,413.9 L693.7,414.2 L692.7,414.0 L691.3,414.3 L690.3,414.1 L689.1,414.4 L687.7,413.9 L686.7,414.1 L685.3,414.2 L683.8,414.0 L682.3,414.0 L680.9,414.0 L679.9,414.1 L678.7,414.0 L677.4,414.0 L676.5,414.0 L675.1,413.9 L673.9,414.0 L672.7,414.3 L671.8,414.2 L670.5,414.0 L669.0,413.9 L667.7,414.2 L666.8,414.0 L665.7,414.2 L664.4,413.9 L663.4,414.0 L662.3,414.0 L661.0,414.0 L659.5,414.6 L658.4,413.9 L657.4,414.0 L656.1,414.0 L654.9,414.0 L653.6,414.0 L652.7,414.0 L651.2,414.0 L650.0,414.0 L648.8,414.0 L647.4,413.9 L646.2,414.0 L645.2,414.1 L644.0,413.9 L642.7,414.1 L641.3,414.3 L640.2,413.9 L639.3,414.2 L638.3,413.9 L636.8,414.2 L635.7,414.0 L634.6,414.0 L633.5,413.9 L632.2,413.9 L630.8,414.1 L629.8,413.9 L628.7,413.9 L627.3,414.0 L625.8,414.0 L624.7,414.1 L623.6,414.0 L622.2,414.0 L621.1,414.0 L619.9,413.9 L618.7,414.1 L617.8,414.1 L616.8,414.1 L615.8,413.9 L614.6,414.1 L613.4,414.1 L612.3,414.0 L611.2,414.1 L609.9,414.1 L608.7,414.3 L607.7,414.1 L606.7,414.1 L605.3,414.2 L604.2,414.2 L603.3,413.9 L602.1,414.0 L600.7,414.0 L599.3,414.3 L598.4,414.2 L597.5,414.5 L596.0,414.0 L594.8,414.0 L593.4,414.1 L592.3,414.0 L591.2,414.0 L590.0,414.0 L589.1,414.0 L588.1,413.9 L586.8,414.0 L585.7,413.9 L584.2,413.9 L582.9,414.2 L581.8,414.0 L580.6,414.1 L579.6,413.9 L578.6,414.0 L577.6,414.1 L576.4,414.2 L575.1,414.1 L573.6,413.9 L572.5,414.2 L571.4,414.0 L570.4,413.9 L569.0,414.0 L567.8,414.0 L566.3,414.9 L565.4,414.2 L564.3,413.9 L563.2,414.5 L562.0,414.1 L560.9,413.9 L560.0,414.3 L558.6,413.9 L557.4,413.9 L556.0,413.9 L554.8,414.0 L553.5,414.0 L552.3,414.1 L550.9,414.0 L549.6,414.0 L548.1,414.4 L546.9,414.0 L545.8,414.0 L544.7,414.0 L543.6,414.2 L542.6,414.0 L541.2,414.1 L540.1,414.2 L538.7,414.2 L537.3,414.0 L536.1,413.9 L534.7,414.1 L533.5,414.0 L532.1,414.1 L530.9,414.0 L529.8,414.1 L528.7,414.0 L527.6,414.0 L526.1,414.1 L525.1,413.9 L524.1,413.9 L523.1,414.4 L521.9,413.9 L520.7,413.9 L519.6,414.1 L518.2,414.3 L517.3,414.0 L516.1,414.0 L514.7,414.0 L513.6,413.9 L512.1,414.0 L511.2,414.3 L509.9,414.0 L508.8,414.0 L507.6,413.9 L506.7,414.0 L505.2,414.1 L504.3,414.0 L503.3,414.1 L502.3,414.1 L501.1,414.1 L499.9,414.0 L498.5,413.9 L497.6,413.9 L496.3,414.0 L494.8,414.2 L493.8,414.0 L492.3,413.9 L491.0,414.0 L489.7,413.9 L488.4,413.9 L487.0,414.0 L485.9,414.4 L484.5,414.0 L483.2,414.1 L481.9,413.9 L480.7,414.0 L479.2,413.9 L477.9,413.9 L476.7,414.6 L475.5,414.0 L474.4,414.1 L473.0,414.0 L471.6,413.9 L470.5,414.0 L469.4,414.0 L468.1,414.0 L466.7,414.0 L465.2,414.1 L464.3,414.0 L463.2,413.9 L462.1,414.0 L461.1,414.3 L459.8,413.9 L458.7,413.8 L457.6,414.0 L456.6,414.0 L455.7,414.4 L454.3,413.9 L453.2,413.9 L452.2,413.9 L451.1,414.4 L449.6,414.1 L448.4,413.9 L447.2,414.4 L446.0,414.4 L444.7,413.9 L443.7,414.3 L442.5,414.0 L441.5,414.0 L440.4,414.3 L439.1,413.9 L437.7,414.2 L436.4,414.0 L435.3,414.0 L434.1,414.0 L433.0,414.2 L431.6,413.9 L430.4,414.0 L429.5,414.2 L428.0,414.8 L426.5,414.6 L425.3,414.0 L424.2,414.0 L423.0,413.9 L421.8,413.9 L420.8,414.3 L419.4,414.1 L418.4,413.9 L417.1,414.0 L415.7,413.9 L414.5,414.5 L413.2,414.1 L412.2,414.1 L410.9,414.3 L409.9,414.0 L408.8,414.1 L407.8,414.0 L406.4,413.9 L405.5,414.1 L404.0,414.0 L403.0,414.0 L401.7,414.2 L400.4,414.0 L399.2,414.1 L397.8,413.9 L396.4,414.1 L395.0,414.1 L393.9,414.6 L392.8,414.1 L391.9,414.3 L390.6,414.1 L389.6,414.0 L388.6,413.9 L387.4,414.0 L386.4,414.2 L385.2,414.0 L383.8,414.0 L382.8,414.0 L381.5,413.9 L380.6,413.9 L379.5,414.2 L378.5,414.3 L377.0,414.3 L375.9,414.2 L374.7,413.8 L373.3,414.4 L372.2,413.9 L371.1,414.1 L370.0,414.2 L368.8,413.8 L367.4,414.0 L365.9,413.9 L364.9,414.6 L363.7,414.1 L362.4,414.0 L361.4,414.1 L360.4,414.1 L358.9,414.1 L357.5,413.9 L356.4,414.0 L355.1,414.0 L353.9,414.3 L352.8,414.1 L351.3,413.9 L349.8,414.1 L348.3,414.0 L346.8,414.0 L345.5,413.9 L344.5,414.2 L343.6,414.3 L342.6,413.9 L341.6,414.3 L340.5,414.2 L339.2,414.3 L338.2,413.9 L336.8,414.4 L335.3,414.0 L334.2,413.9 L333.2,414.3 L332.2,414.0 L331.3,414.0 L330.0,414.6 L328.8,414.0 L327.6,413.6 L326.4,413.9 L325.5,413.9 L324.5,414.5 L323.3,414.5 L322.0,414.3 L321.0,414.1 L319.6,414.0 L318.3,414.2 L317.0,414.0 L315.7,414.0 L314.7,414.0 L313.4,414.0 L312.1,414.4 L310.9,414.3 L309.9,414.1 L308.5,414.3 L307.2,414.5 L306.3,414.0 L305.0,414.0 L303.9,414.3 L302.9,413.9 L301.9,414.0 L300.9,413.8 L299.6,414.1 L298.5,414.1 L297.1,413.9 L296.2,414.6 L294.8,414.0 L293.8,414.2 L292.6,414.5 L291.1,414.3 L289.8,413.9 L288.8,414.0 L287.6,413.9 L286.5,414.8 L285.4,414.4 L284.1,414.2 L283.1,414.2 L281.7,414.0 L280.8,414.0 L279.5,414.0 L278.5,414.0 L277.6,414.2 L276.6,413.9 L275.2,414.2 L273.9,414.2 L272.7,413.9 L271.4,414.0 L270.4,414.0 L268.9,413.9 L267.5,414.2 L266.1,413.8 L264.7,414.0 L263.5,414.3 L262.6,414.3 L261.4,414.0 L260.2,414.0 L258.8,414.2 L257.7,414.0 L256.4,414.2 L255.3,414.4 L254.0,414.4 L252.9,413.8 L251.8,413.9 L250.5,414.2 L249.1,414.4 L247.7,414.2 L246.5,414.2 L245.4,413.8 L244.1,414.2 L242.6,414.4 L241.3,414.7 L240.0,414.0 L238.8,414.2 L237.5,414.6 L236.5,413.9 L235.5,413.9 L234.6,414.0 L233.2,414.6 L232.1,414.1 L230.9,414.1 L229.5,414.2 L228.0,414.3 L226.7,414.4 L225.2,413.9 L224.2,413.9 L222.7,414.1 L221.3,414.0 L220.4,414.5 L219.1,413.9 L218.1,414.3 L216.7,413.8 L215.7,414.0 L214.8,414.0 L213.4,414.0 L212.1,414.2 L211.1,413.9 L209.7,413.9 L208.4,413.9 L207.0,414.1 L205.5,414.5 L204.0,414.4 L202.6,413.9 L201.7,413.9 L200.3,413.8 L199.0,414.2 L197.6,413.9 L196.2,414.2 L194.8,414.5 L193.6,414.5 L192.2,414.1 L191.2,414.0 L190.0,414.0 L189.0,413.8 L187.8,413.8 L186.6,414.6 L185.5,414.0 L184.3,413.9 L183.0,414.0 L182.0,414.4 L180.5,414.2 L179.0,414.2 L177.9,414.3 L176.7,414.0 L175.3,414.4 L173.9,414.0 L172.6,414.1 L171.6,414.1 L170.3,414.7 L169.0,413.8 L167.7,413.9 L166.4,414.0 L165.4,413.9 L164.3,414.3 L162.8,414.2 L161.5,414.0 L160.2,414.6 L158.9,414.1 L157.9,414.1 L156.5,414.9 L155.1,413.9 L154.0,414.0 L152.8,414.1 L151.4,414.4 L150.4,413.9 L149.4,414.0 L148.3,413.8 L147.3,413.9 L146.2,414.1 L144.8,413.8 L143.8,414.0 L142.6,414.3 L141.3,414.3 L139.9,414.0 L138.7,413.8 L137.3,413.9 L136.3,414.0 L134.9,414.4 L133.7,414.0 L132.7,413.9 L131.4,414.2 L130.2,414.0 L128.8,414.4 L127.8,414.1 L126.3,414.2 L125.1,414.4 L124.0,414.5 L122.6,414.0 L121.1,414.0 L119.6,413.8 L118.2,414.7Z" fill="#b8499b" stroke="#b8499b" stroke-width="0.6" stroke-linejoin="round"/>
<path d="M313.9,413.5 Q318.2,411.0 318.3,380.5 L319.1,302.5 L320.0,300.0 L321.6,300.0 L322.5,302.5 L323.3,380.5 Q323.4,411.0 327.7,413.5 Z" fill="#b8499b"/>
</g>
<rect x="280.20" y="379.0" width="2.8" height="34.3" fill="#000"/>
<rect x="319.20" y="133.7" width="2.8" height="279.6" fill="#000"/>
<text transform="translate(105.0,21.2) scale(0.935,1)" font-size="23.6" text-anchor="end" fill="#111" stroke="#111" stroke-width="0.4">12000</text>
<text transform="translate(105.0,46.8) scale(0.935,1)" font-size="23.6" text-anchor="end" fill="#111" stroke="#111" stroke-width="0.4">11000</text>
<text transform="translate(105.0,80.6) scale(0.935,1)" font-size="23.6" text-anchor="end" fill="#111" stroke="#111" stroke-width="0.4">10000</text>
<text transform="translate(105.0,114.0) scale(0.935,1)" font-size="23.6" text-anchor="end" fill="#111" stroke="#111" stroke-width="0.4">9000</text>
<text transform="translate(105.0,147.7) scale(0.935,1)" font-size="23.6" text-anchor="end" fill="#111" stroke="#111" stroke-width="0.4">8000</text>
<text transform="translate(105.0,181.4) scale(0.935,1)" font-size="23.6" text-anchor="end" fill="#111" stroke="#111" stroke-width="0.4">7000</text>
<text transform="translate(105.0,215.0) scale(0.935,1)" font-size="23.6" text-anchor="end" fill="#111" stroke="#111" stroke-width="0.4">6000</text>
<text transform="translate(105.0,248.2) scale(0.935,1)" font-size="23.6" text-anchor="end" fill="#111" stroke="#111" stroke-width="0.4">5000</text>
<text transform="translate(105.0,282.4) scale(0.935,1)" font-size="23.6" text-anchor="end" fill="#111" stroke="#111" stroke-width="0.4">4000</text>
<text transform="translate(105.0,316.1) scale(0.935,1)" font-size="23.6" text-anchor="end" fill="#111" stroke="#111" stroke-width="0.4">3000</text>
<text transform="translate(105.0,349.2) scale(0.935,1)" font-size="23.6" text-anchor="end" fill="#111" stroke="#111" stroke-width="0.4">2000</text>
<text transform="translate(105.0,383.4) scale(0.935,1)" font-size="23.6" text-anchor="end" fill="#111" stroke="#111" stroke-width="0.4">1000</text>
<text transform="translate(92.3,424.2) scale(0.935,1)" font-size="23.6" text-anchor="middle" fill="#111" stroke="#111" stroke-width="0.4">0</text>
<text transform="translate(239.4,441.7) scale(0.935,1)" font-size="23.6" text-anchor="middle" fill="#111" stroke="#111" stroke-width="0.4">30000</text>
<text transform="translate(364.7,441.7) scale(0.935,1)" font-size="23.6" text-anchor="middle" fill="#111" stroke="#111" stroke-width="0.4">40000</text>
<text transform="translate(490.6,441.7) scale(0.935,1)" font-size="23.6" text-anchor="middle" fill="#111" stroke="#111" stroke-width="0.4">50000</text>
<text transform="translate(616.0,441.7) scale(0.935,1)" font-size="23.6" text-anchor="middle" fill="#111" stroke="#111" stroke-width="0.4">60000</text>
<text transform="translate(742.8,441.7) scale(0.935,1)" font-size="23.6" text-anchor="middle" fill="#111" stroke="#111" stroke-width="0.4">70000</text>
<text transform="translate(844.7,441.7) scale(0.935,1)" font-size="23.6" text-anchor="middle" fill="#111" stroke="#111" stroke-width="0.4">80000</text>
<text transform="translate(551.7,476.6) scale(1.030,1)" font-size="38" text-anchor="middle" fill="#111" stroke="#111" stroke-width="0.4">sin</text>
<text transform="translate(29.9,184.0) rotate(-90) scale(0.915,1)" font-size="39.7" text-anchor="middle" fill="#111" stroke="#111" stroke-width="0.4">cps</text>
<text transform="translate(870.4,48.5) scale(1.030,1)" font-size="37.5" text-anchor="end" fill="#1a1a1a" stroke="#1a1a1a" stroke-width="0.4">Planktic</text>
<text transform="translate(314.8,40.5) scale(0.970,1)" font-size="23" text-anchor="middle" fill="#111" stroke="#111" stroke-width="0.4">CaKa</text>
<text transform="translate(330.6,322.4) scale(0.970,1)" font-size="23" text-anchor="middle" fill="#111" stroke="#111" stroke-width="0.4">CaKa</text>
<text transform="translate(279.0,351.5) scale(0.970,1)" font-size="23" text-anchor="middle" fill="#111" stroke="#111" stroke-width="0.4">CaKb</text>
<rect x="1011.5" y="9.5" width="735.7" height="404.0" fill="none" stroke="#000" stroke-width="2.8"/>
<clipPath id="c2"><rect x="1010.1" y="8.1" width="737.1" height="412.0"/></clipPath>
<g clip-path="url(#c2)">
<path d="M1013.1,403.3 L1015.0,411.8 L1016.7,412.1 L1018.4,406.9 L1019.8,411.3 L1021.4,409.9 L1022.6,412.0 L1024.3,410.1 L1026.2,411.5 L1028.2,410.1 L1029.8,413.4 L1031.3,408.8 L1033.2,412.0 L1035.0,409.8 L1036.5,409.0 L1038.2,412.4 L1040.1,412.1 L1042.0,409.9 L1043.5,411.4 L1045.4,411.9 L1047.1,410.2 L1048.4,411.6 L1049.8,411.6 L1051.3,406.5 L1052.8,412.8 L1054.0,413.1 L1055.8,410.1 L1057.5,412.2 L1058.8,412.6 L1060.8,412.1 L1062.5,411.4 L1063.7,412.6 L1065.7,411.9 L1067.4,411.2 L1069.0,411.6 L1070.8,412.1 L1072.2,412.9 L1073.6,408.2 L1075.2,412.3 L1076.5,409.4 L1078.5,412.6 L1079.7,412.3 L1081.4,410.2 L1082.8,412.4 L1084.7,409.5 L1086.2,413.3 L1087.5,409.1 L1089.3,409.6 L1090.9,412.7 L1092.5,413.8 L1094.4,412.4 L1095.9,412.9 L1097.2,413.6 L1098.5,409.0 L1099.8,412.4 L1101.3,412.6 L1103.1,410.5 L1105.0,413.2 L1106.9,412.6 L1108.5,411.5 L1110.1,412.7 L1112.0,412.8 L1113.9,412.0 L1115.9,412.4 L1117.8,413.5 L1119.6,413.4 L1121.4,412.2 L1122.8,412.0 L1124.2,413.0 L1125.4,410.4 L1127.2,413.3 L1128.9,411.7 L1130.7,412.0 L1132.5,411.7 L1134.0,410.2 L1135.6,412.9 L1137.3,413.2 L1139.2,412.7 L1140.7,412.0 L1142.3,410.6 L1143.7,412.8 L1145.0,411.7 L1146.3,412.8 L1148.2,410.8 L1149.6,411.4 L1151.1,413.1 L1152.8,413.3 L1154.8,413.4 L1156.6,409.8 L1158.0,413.1 L1159.4,411.0 L1160.7,411.0 L1162.2,409.5 L1163.8,412.2 L1165.5,411.6 L1166.9,412.1 L1168.3,412.5 L1169.8,412.4 L1171.4,412.3 L1172.8,412.2 L1174.4,413.3 L1176.0,413.1 L1177.9,413.1 L1179.2,411.7 L1181.1,411.3 L1182.4,412.7 L1183.7,408.3 L1185.1,413.2 L1186.3,411.4 L1188.1,411.9 L1189.4,411.0 L1190.9,413.3 L1192.5,411.7 L1194.2,412.1 L1195.7,413.3 L1197.3,412.7 L1199.1,413.0 L1200.4,411.8 L1202.2,412.9 L1204.1,410.6 L1205.4,413.0 L1207.3,411.1 L1209.2,412.7 L1210.7,413.3 L1212.0,412.7 L1213.5,413.1 L1214.9,412.2 L1216.4,412.9 L1218.0,411.9 L1219.3,413.4 L1221.1,410.8 L1222.9,412.6 L1224.4,412.8 L1225.9,414.2 L1227.2,411.3 L1228.9,410.7 L1230.8,411.8 L1232.2,412.9 L1233.8,412.5 L1235.1,413.0 L1236.6,413.1 L1238.3,412.3 L1239.5,412.7 L1241.1,413.5 L1242.9,412.5 L1244.2,412.9 L1246.2,411.0 L1247.7,411.8 L1249.7,412.9 L1251.0,412.3 L1252.8,411.2 L1254.3,412.5 L1256.1,412.2 L1257.6,413.4 L1259.3,409.8 L1261.2,411.5 L1262.7,412.0 L1264.1,412.6 L1265.5,412.7 L1267.1,411.9 L1268.6,410.7 L1270.1,410.1 L1271.8,410.9 L1273.8,413.1 L1275.3,413.0 L1277.3,411.0 L1279.2,410.8 L1280.6,412.7 L1282.3,413.2 L1284.1,413.2 L1285.8,411.9 L1287.4,408.9 L1289.2,412.8 L1290.5,413.0 L1292.5,412.1 L1294.0,413.2 L1295.8,412.8 L1297.7,413.1 L1299.6,412.7 L1301.5,413.0 L1303.1,412.7 L1305.0,409.7 L1306.4,412.9 L1308.1,412.7 L1309.7,412.5 L1311.1,411.8 L1312.5,411.4 L1314.0,413.1 L1315.8,410.2 L1317.1,411.6 L1318.9,412.4 L1320.1,411.8 L1321.4,411.8 L1323.0,412.2 L1324.3,412.0 L1325.5,411.9 L1327.2,413.2 L1329.0,412.1 L1330.8,413.3 L1332.0,412.2 L1334.0,409.2 L1335.9,412.7 L1337.2,413.2 L1338.5,412.8 L1339.9,410.8 L1341.8,411.6 L1343.2,413.6 L1345.1,413.4 L1346.4,412.1 L1348.3,413.2 L1349.6,409.1 L1351.1,413.4 L1352.8,412.2 L1354.1,413.0 L1355.6,413.0 L1356.8,412.5 L1358.6,412.7 L1360.0,409.5 L1361.3,411.7 L1362.8,413.0 L1364.7,413.0 L1366.1,412.7 L1367.5,413.2 L1369.5,411.5 L1371.1,413.1 L1373.1,411.5 L1374.7,413.3 L1376.5,412.8 L1378.4,413.7 L1380.3,411.6 L1381.7,412.6 L1383.3,413.2 L1385.2,411.0 L1386.6,412.8 L1388.1,412.3 L1389.6,413.0 L1390.9,411.4 L1392.7,412.4 L1394.1,413.2 L1395.5,412.8 L1397.4,409.5 L1399.3,413.1 L1401.3,413.2 L1402.6,412.8 L1403.9,410.9 L1405.8,412.2 L1407.5,413.0 L1409.3,412.8 L1410.7,412.3 L1412.6,409.3 L1414.0,413.0 L1415.9,412.7 L1417.2,412.7 L1419.0,412.9 L1420.2,412.8 L1421.9,413.4 L1423.4,412.8 L1424.8,412.9 L1426.4,412.2 L1427.9,412.3 L1429.6,413.4 L1430.9,411.9 L1432.7,411.5 L1433.9,413.3 L1435.8,412.7 L1437.6,410.9 L1439.0,412.3 L1440.8,409.6 L1442.1,413.4 L1443.8,410.8 L1445.0,411.9 L1446.4,412.2 L1448.4,412.8 L1450.0,412.3 L1451.7,413.0 L1453.5,413.0 L1455.1,413.7 L1456.7,412.9 L1458.6,410.5 L1459.9,413.0 L1461.7,413.1 L1463.0,412.8 L1464.9,412.7 L1466.4,411.5 L1467.7,412.7 L1469.5,411.9 L1471.1,407.2 L1472.7,413.0 L1474.3,412.3 L1475.6,412.9 L1477.5,413.2 L1479.4,413.2 L1481.1,409.2 L1482.5,412.9 L1484.1,413.2 L1485.5,413.0 L1487.0,412.8 L1488.5,410.2 L1490.4,413.1 L1491.8,412.5 L1493.2,412.9 L1495.1,413.3 L1496.8,413.0 L1498.4,413.4 L1500.0,413.2 L1501.5,411.2 L1503.3,412.8 L1505.2,412.8 L1506.8,413.3 L1508.7,410.3 L1510.5,410.9 L1511.9,413.1 L1513.3,412.8 L1514.7,412.3 L1516.6,412.8 L1517.9,412.8 L1519.6,413.1 L1521.0,413.5 L1522.8,411.6 L1524.4,412.8 L1525.9,412.7 L1527.8,412.8 L1529.8,413.1 L1531.8,411.4 L1533.6,412.1 L1535.2,413.2 L1536.7,411.4 L1538.6,413.1 L1540.0,413.1 L1541.9,412.9 L1543.8,413.1 L1545.6,412.5 L1547.2,411.2 L1548.8,411.7 L1550.3,413.2 L1551.8,413.2 L1553.3,412.6 L1554.7,412.9 L1555.9,412.7 L1557.4,413.3 L1558.8,411.7 L1560.2,412.8 L1562.0,413.2 L1563.6,412.8 L1565.1,412.9 L1566.7,413.9 L1568.7,412.1 L1570.4,411.5 L1572.2,412.7 L1574.0,413.3 L1575.9,413.1 L1577.7,413.4 L1579.6,412.9 L1581.0,411.5 L1582.3,413.6 L1583.6,412.6 L1585.0,412.8 L1586.2,412.8 L1587.5,412.8 L1588.8,412.9 L1590.6,412.8 L1592.1,413.3 L1593.6,413.0 L1595.6,413.0 L1597.4,412.9 L1599.1,413.0 L1600.3,410.5 L1601.6,412.5 L1603.3,413.0 L1604.6,411.3 L1606.5,412.8 L1607.7,413.2 L1609.4,412.6 L1611.2,411.5 L1613.2,413.0 L1614.8,413.3 L1616.6,412.9 L1618.2,412.2 L1619.4,413.1 L1621.1,412.2 L1622.7,412.8 L1624.4,412.0 L1626.3,413.0 L1628.2,413.6 L1629.4,413.5 L1631.0,412.8 L1632.7,413.4 L1634.6,411.8 L1636.5,413.4 L1637.9,413.4 L1639.4,413.4 L1641.1,413.0 L1642.8,413.1 L1644.6,413.6 L1646.4,412.9 L1648.0,413.0 L1649.6,412.8 L1651.0,411.8 L1652.6,411.2 L1654.2,411.6 L1656.1,412.7 L1658.0,413.4 L1659.7,410.8 L1661.1,412.3 L1662.6,410.6 L1664.4,412.6 L1665.9,411.2 L1667.8,412.0 L1669.7,411.0 L1671.4,412.2 L1672.9,412.3 L1674.8,413.0 L1676.6,412.4 L1678.2,413.4 L1680.1,412.8 L1681.6,413.0 L1683.2,413.0 L1684.8,412.9 L1686.6,412.2 L1688.1,410.8 L1690.0,411.2 L1691.5,412.8 L1693.1,413.5 L1694.4,413.4 L1696.0,413.3 L1697.3,412.8 L1699.2,413.0 L1700.6,411.9 L1702.5,412.7 L1704.4,413.2 L1705.9,413.7 L1707.6,412.4 L1709.6,412.1 L1711.1,412.0 L1712.4,412.0 L1714.1,412.9 L1715.7,411.2 L1717.5,412.5 L1719.2,411.0 L1721.2,412.6 L1722.8,412.7 L1724.1,412.5 L1725.4,411.4 L1726.9,409.0 L1728.8,412.4 L1730.4,413.5 L1731.9,412.5 L1733.2,410.5 L1734.7,412.6 L1736.3,412.6 L1737.8,413.4 L1739.6,412.7 L1741.4,413.6 L1742.7,412.8 L1744.1,411.1 L1745.5,411.8 L1745.8,413.1 L1744.4,413.2 L1743.0,412.7 L1741.7,414.9 L1739.9,414.0 L1738.1,413.0 L1736.6,413.2 L1735.0,413.2 L1733.5,413.2 L1732.2,413.5 L1730.7,413.2 L1729.1,414.4 L1727.2,413.8 L1725.7,413.3 L1724.4,413.2 L1723.1,413.7 L1721.5,413.2 L1719.5,413.7 L1717.8,414.0 L1716.0,413.4 L1714.4,413.2 L1712.7,413.1 L1711.4,413.8 L1709.9,414.0 L1707.9,412.9 L1706.2,414.4 L1704.7,412.8 L1702.8,413.0 L1700.9,415.0 L1699.5,413.2 L1697.6,413.2 L1696.3,414.4 L1694.7,413.2 L1693.4,414.2 L1691.8,413.2 L1690.3,413.6 L1688.4,413.4 L1686.9,413.1 L1685.1,413.6 L1683.5,413.0 L1681.9,413.5 L1680.4,413.3 L1678.5,413.8 L1676.9,414.5 L1675.1,412.9 L1673.2,413.3 L1671.7,413.4 L1670.0,412.9 L1668.1,413.3 L1666.2,413.2 L1664.7,414.5 L1662.9,413.3 L1661.4,414.1 L1660.0,413.2 L1658.3,413.0 L1656.4,413.6 L1654.5,413.9 L1652.9,413.7 L1651.3,413.0 L1649.9,413.1 L1648.3,413.2 L1646.7,414.6 L1644.9,413.1 L1643.1,413.3 L1641.4,413.8 L1639.7,413.3 L1638.2,413.0 L1636.8,413.4 L1634.9,414.0 L1633.0,413.2 L1631.3,412.7 L1629.7,413.6 L1628.5,413.0 L1626.6,413.2 L1624.7,413.1 L1623.0,413.9 L1621.4,413.1 L1619.7,413.7 L1618.5,413.8 L1616.9,413.3 L1615.1,413.2 L1613.5,414.8 L1611.5,415.0 L1609.7,413.1 L1608.0,413.3 L1606.8,413.7 L1604.9,414.1 L1603.6,414.2 L1601.9,413.1 L1600.6,413.5 L1599.4,414.9 L1597.7,414.0 L1595.9,413.1 L1593.9,413.1 L1592.4,413.4 L1590.9,413.3 L1589.1,413.1 L1587.8,413.1 L1586.5,412.9 L1585.3,413.2 L1583.9,413.1 L1582.6,414.2 L1581.3,413.5 L1579.9,413.3 L1578.0,413.7 L1576.2,413.1 L1574.3,412.8 L1572.5,413.2 L1570.7,413.5 L1569.0,413.6 L1567.0,412.6 L1565.4,413.6 L1563.9,413.8 L1562.3,413.3 L1560.5,413.1 L1559.1,414.1 L1557.7,413.9 L1556.2,413.7 L1555.0,413.1 L1553.6,413.3 L1552.1,413.1 L1550.6,413.9 L1549.1,413.2 L1547.5,413.4 L1545.9,413.1 L1544.1,413.2 L1542.2,413.0 L1540.3,412.7 L1538.9,413.1 L1537.0,413.4 L1535.5,413.0 L1533.9,413.2 L1532.1,413.7 L1530.1,414.5 L1528.1,413.2 L1526.2,413.9 L1524.7,414.5 L1523.1,413.2 L1521.3,413.2 L1519.9,413.7 L1518.2,413.9 L1516.9,413.3 L1515.0,413.0 L1513.6,416.5 L1512.2,412.9 L1510.8,413.2 L1509.0,413.5 L1507.1,413.2 L1505.5,416.9 L1503.6,413.2 L1501.8,413.3 L1500.3,413.1 L1498.7,413.2 L1497.1,415.1 L1495.4,414.8 L1493.5,413.2 L1492.1,412.1 L1490.7,413.8 L1488.8,413.3 L1487.3,412.9 L1485.8,413.3 L1484.4,413.1 L1482.8,413.2 L1481.4,413.2 L1479.7,413.1 L1477.8,413.1 L1475.9,413.3 L1474.6,413.2 L1473.0,413.1 L1471.4,413.1 L1469.8,413.2 L1468.0,413.4 L1466.7,413.7 L1465.2,414.7 L1463.3,413.2 L1462.0,413.9 L1460.2,412.8 L1458.9,413.3 L1457.0,413.5 L1455.4,412.9 L1453.8,413.0 L1452.0,414.7 L1450.3,414.9 L1448.7,414.5 L1446.7,414.1 L1445.3,413.2 L1444.1,412.7 L1442.4,412.7 L1441.1,414.6 L1439.3,412.8 L1437.9,414.0 L1436.1,413.1 L1434.2,413.2 L1433.0,414.9 L1431.2,413.8 L1429.9,413.4 L1428.2,414.0 L1426.7,413.8 L1425.1,413.2 L1423.7,413.2 L1422.2,415.1 L1420.5,413.6 L1419.3,414.7 L1417.5,413.7 L1416.2,413.7 L1414.3,412.8 L1412.9,413.3 L1411.0,414.6 L1409.6,413.3 L1407.8,413.6 L1406.1,413.2 L1404.2,413.4 L1402.9,412.8 L1401.6,412.8 L1399.6,412.9 L1397.7,413.2 L1395.8,413.2 L1394.4,414.2 L1393.0,413.2 L1391.2,413.6 L1389.9,415.4 L1388.4,413.3 L1386.9,414.0 L1385.5,413.2 L1383.6,416.2 L1382.0,413.2 L1380.6,414.1 L1378.7,413.3 L1376.8,412.5 L1375.0,413.5 L1373.4,413.1 L1371.4,413.1 L1369.8,414.7 L1367.8,413.8 L1366.4,414.0 L1365.0,413.8 L1363.1,412.3 L1361.6,414.2 L1360.3,413.1 L1358.9,414.5 L1357.1,414.1 L1355.9,413.3 L1354.4,413.0 L1353.1,413.2 L1351.4,414.0 L1349.9,413.2 L1348.6,415.1 L1346.7,414.2 L1345.4,413.1 L1343.5,413.1 L1342.1,413.1 L1340.2,413.8 L1338.8,412.5 L1337.5,413.0 L1336.2,412.9 L1334.3,413.2 L1332.3,413.6 L1331.1,412.9 L1329.3,413.9 L1327.5,413.4 L1325.8,413.2 L1324.6,413.0 L1323.3,413.3 L1321.7,413.3 L1320.4,413.1 L1319.2,413.9 L1317.4,414.7 L1316.1,413.1 L1314.3,413.5 L1312.8,413.0 L1311.4,412.9 L1310.0,415.1 L1308.4,413.0 L1306.7,413.2 L1305.3,413.2 L1303.4,413.2 L1301.8,413.6 L1299.9,413.7 L1298.0,414.3 L1296.1,413.5 L1294.3,412.9 L1292.8,413.0 L1290.8,412.9 L1289.5,413.0 L1287.7,413.1 L1286.1,413.3 L1284.4,413.9 L1282.6,413.2 L1280.9,413.0 L1279.5,413.2 L1277.6,412.9 L1275.6,413.7 L1274.1,413.0 L1272.1,414.0 L1270.4,413.1 L1268.9,413.2 L1267.4,413.2 L1265.8,413.2 L1264.4,413.4 L1263.0,413.2 L1261.5,413.5 L1259.6,413.2 L1257.9,415.0 L1256.4,413.2 L1254.6,413.3 L1253.1,412.9 L1251.3,413.0 L1250.0,414.0 L1248.0,414.0 L1246.5,414.1 L1244.5,414.4 L1243.2,413.5 L1241.4,413.2 L1239.8,413.0 L1238.6,413.2 L1236.9,413.5 L1235.4,413.1 L1234.1,414.0 L1232.5,412.7 L1231.1,414.0 L1229.2,413.1 L1227.5,414.5 L1226.2,414.3 L1224.7,414.0 L1223.2,413.5 L1221.4,413.0 L1219.6,412.9 L1218.3,414.4 L1216.7,414.3 L1215.2,412.8 L1213.8,413.2 L1212.3,413.1 L1211.0,414.2 L1209.5,413.1 L1207.6,413.1 L1205.7,413.0 L1204.4,412.9 L1202.5,412.9 L1200.7,414.6 L1199.4,412.8 L1197.6,415.1 L1196.0,414.5 L1194.5,414.3 L1192.8,413.2 L1191.2,412.8 L1189.7,413.8 L1188.4,413.2 L1186.6,415.6 L1185.4,413.5 L1184.0,413.2 L1182.7,413.8 L1181.4,414.2 L1179.5,413.3 L1178.2,413.9 L1176.3,413.1 L1174.7,413.6 L1173.1,412.8 L1171.7,413.1 L1170.1,413.2 L1168.6,414.1 L1167.2,414.1 L1165.8,414.1 L1164.1,415.4 L1162.5,413.0 L1161.0,413.3 L1159.7,413.2 L1158.3,412.9 L1156.9,412.7 L1155.1,413.3 L1153.1,414.6 L1151.4,414.9 L1149.9,413.8 L1148.5,413.1 L1146.6,413.5 L1145.3,413.0 L1144.0,413.5 L1142.6,412.8 L1141.0,413.2 L1139.5,414.9 L1137.6,413.4 L1135.9,414.2 L1134.3,413.4 L1132.8,413.8 L1131.0,412.9 L1129.2,413.4 L1127.5,413.5 L1125.7,413.3 L1124.5,413.1 L1123.1,413.1 L1121.7,413.1 L1119.9,412.8 L1118.1,412.8 L1116.2,413.3 L1114.2,415.0 L1112.3,415.1 L1110.4,412.5 L1108.8,413.1 L1107.2,413.1 L1105.3,413.8 L1103.4,414.1 L1101.6,413.3 L1100.1,414.2 L1098.8,414.7 L1097.5,416.7 L1096.2,412.5 L1094.7,414.2 L1092.8,413.7 L1091.2,414.4 L1089.6,413.6 L1087.8,414.5 L1086.5,413.8 L1085.0,414.3 L1083.1,413.2 L1081.7,413.4 L1080.0,413.1 L1078.8,413.1 L1076.8,414.6 L1075.5,413.2 L1073.9,412.8 L1072.5,413.2 L1071.1,413.9 L1069.3,413.3 L1067.7,412.7 L1066.0,414.7 L1064.0,413.0 L1062.8,413.6 L1061.1,416.9 L1059.1,413.1 L1057.8,413.9 L1056.1,412.8 L1054.3,414.0 L1053.1,412.9 L1051.6,415.4 L1050.1,413.1 L1048.7,413.2 L1047.4,413.6 L1045.7,414.2 L1043.8,416.0 L1042.3,415.4 L1040.4,413.2 L1038.5,413.1 L1036.8,413.1 L1035.3,415.9 L1033.5,412.8 L1031.6,412.7 L1030.1,413.5 L1028.5,415.2 L1026.5,412.6 L1024.6,415.9 L1022.9,414.0 L1021.7,413.0 L1020.1,413.4 L1018.7,413.3 L1017.0,413.2 L1015.3,412.7 L1013.4,413.0Z" fill="#2f54a4" stroke="#2f54a4" stroke-width="0.6" stroke-linejoin="round"/>
<path d="M1013.1,401.9 L1014.5,408.6 L1015.9,408.2 L1017.3,405.1 L1018.8,409.2 L1020.2,403.9 L1021.5,410.6 L1023.0,409.4 L1024.8,409.7 L1026.1,407.5 L1027.4,405.8 L1029.1,408.8 L1030.4,408.5 L1032.2,409.0 L1033.9,409.2 L1035.3,410.0 L1037.1,405.6 L1038.4,404.2 L1040.1,408.9 L1041.6,406.4 L1043.0,406.9 L1044.8,408.6 L1046.2,403.8 L1047.5,401.6 L1049.2,407.3 L1050.8,397.7 L1052.3,408.9 L1053.9,403.9 L1055.6,409.6 L1057.1,406.6 L1058.7,408.8 L1060.0,409.1 L1061.2,403.5 L1062.3,404.5 L1063.6,407.6 L1065.1,408.1 L1066.6,409.2 L1068.4,404.7 L1069.7,403.3 L1071.0,407.5 L1072.2,407.8 L1073.9,409.1 L1075.2,408.4 L1076.6,409.0 L1078.1,408.7 L1079.9,407.5 L1081.3,408.8 L1082.5,405.2 L1083.7,409.3 L1085.0,408.3 L1086.3,405.4 L1087.5,405.9 L1089.1,408.4 L1090.8,410.0 L1092.4,403.6 L1093.6,408.5 L1095.4,409.8 L1096.6,408.9 L1097.7,405.5 L1099.0,409.1 L1100.6,407.3 L1102.0,401.8 L1103.3,400.8 L1104.8,408.7 L1106.3,410.0 L1107.7,409.1 L1109.1,406.3 L1110.7,406.6 L1112.1,408.6 L1113.5,408.9 L1115.2,406.3 L1116.9,408.0 L1118.7,408.4 L1120.0,409.7 L1121.6,404.2 L1122.8,408.6 L1124.1,408.4 L1125.8,405.7 L1127.4,404.3 L1129.2,410.2 L1130.5,406.4 L1131.8,409.6 L1133.2,406.3 L1134.5,408.1 L1136.0,409.9 L1137.6,405.3 L1139.3,407.5 L1140.7,402.6 L1142.1,409.6 L1143.3,409.0 L1145.1,406.6 L1146.8,409.9 L1148.6,401.3 L1149.9,409.0 L1151.3,403.3 L1153.0,403.4 L1154.8,406.4 L1156.2,408.8 L1157.7,410.4 L1159.2,408.7 L1160.5,408.4 L1162.2,407.7 L1163.8,407.8 L1165.1,409.9 L1166.2,408.9 L1167.4,409.2 L1168.8,407.7 L1169.9,410.8 L1171.4,405.8 L1172.6,405.9 L1173.9,409.0 L1175.0,410.7 L1176.5,408.5 L1177.8,409.8 L1179.0,407.3 L1180.8,410.3 L1182.3,407.7 L1183.9,409.5 L1185.3,405.8 L1186.6,407.2 L1188.3,402.7 L1189.4,410.0 L1191.0,408.1 L1192.2,408.3 L1194.0,407.6 L1195.4,404.9 L1196.7,408.7 L1198.2,409.1 L1199.4,408.5 L1200.9,409.2 L1202.5,411.4 L1204.3,407.9 L1206.2,406.8 L1207.5,404.5 L1209.1,405.8 L1210.4,405.9 L1211.7,409.5 L1212.8,409.8 L1214.0,409.3 L1215.2,408.2 L1216.9,402.4 L1218.8,407.1 L1220.4,408.0 L1221.5,408.9 L1223.2,408.2 L1224.5,410.4 L1226.2,409.6 L1227.4,407.4 L1228.8,409.3 L1230.3,409.8 L1232.1,409.6 L1233.6,405.6 L1234.7,409.2 L1236.5,405.8 L1237.6,411.5 L1238.8,408.2 L1240.5,410.0 L1242.0,409.2 L1243.5,409.9 L1245.0,406.8 L1246.7,407.5 L1248.1,407.2 L1249.4,408.6 L1250.6,402.7 L1251.8,409.0 L1253.6,410.3 L1254.8,409.4 L1256.5,406.9 L1257.9,409.1 L1259.4,407.5 L1261.2,408.8 L1262.7,408.6 L1264.5,409.1 L1266.2,406.4 L1267.3,410.2 L1269.0,405.2 L1270.2,410.0 L1271.6,409.0 L1273.3,409.5 L1274.9,410.3 L1276.3,408.9 L1277.9,408.7 L1279.2,408.3 L1280.4,401.8 L1282.1,399.3 L1283.3,410.2 L1284.6,406.5 L1285.8,407.5 L1287.2,407.9 L1288.6,408.7 L1290.4,408.9 L1292.2,409.6 L1293.9,404.3 L1295.2,408.3 L1296.3,407.0 L1297.7,407.4 L1299.4,410.0 L1301.2,404.9 L1302.5,405.2 L1304.0,407.0 L1305.1,405.8 L1306.7,409.4 L1308.0,408.4 L1309.8,405.9 L1311.7,408.7 L1313.2,404.9 L1314.9,407.6 L1316.6,407.6 L1318.5,408.2 L1319.7,408.7 L1320.8,409.6 L1322.0,407.5 L1323.2,403.8 L1325.0,409.1 L1326.2,409.1 L1327.4,403.6 L1329.0,411.5 L1330.8,407.1 L1332.5,408.4 L1333.9,404.7 L1335.7,405.6 L1337.4,406.5 L1339.0,408.8 L1340.2,408.2 L1342.0,407.5 L1343.8,409.4 L1345.4,404.8 L1346.9,409.1 L1348.0,408.2 L1349.8,407.4 L1351.5,409.7 L1352.8,403.3 L1354.2,409.0 L1355.4,405.0 L1357.1,400.6 L1358.5,403.5 L1359.6,410.1 L1361.3,407.0 L1362.8,406.1 L1364.2,407.7 L1365.5,407.0 L1367.3,409.4 L1369.0,408.8 L1370.5,409.9 L1372.3,409.1 L1373.8,408.6 L1375.6,410.2 L1377.4,408.8 L1379.2,409.1 L1380.8,405.5 L1382.4,409.6 L1384.2,409.2 L1386.1,407.5 L1387.2,409.7 L1389.1,409.3 L1390.6,407.7 L1392.4,408.8 L1394.3,409.3 L1395.8,406.8 L1397.6,406.6 L1398.8,408.9 L1400.3,410.2 L1401.7,407.6 L1403.1,409.1 L1404.3,409.0 L1406.0,405.3 L1407.3,405.4 L1408.8,407.5 L1410.0,409.0 L1411.7,408.7 L1413.6,410.4 L1415.4,404.7 L1416.6,409.3 L1418.1,409.5 L1419.6,409.5 L1421.3,401.2 L1422.8,407.0 L1424.2,404.6 L1425.4,409.4 L1427.3,408.7 L1428.5,405.7 L1430.3,404.7 L1431.7,409.4 L1433.0,407.4 L1434.3,409.1 L1436.0,410.1 L1437.8,406.6 L1439.0,409.1 L1440.4,406.8 L1441.8,407.8 L1443.4,408.8 L1445.1,409.6 L1446.4,405.9 L1447.6,409.0 L1448.8,408.5 L1450.2,408.9 L1452.1,406.9 L1453.8,408.8 L1455.6,408.8 L1457.2,410.6 L1458.7,410.3 L1460.1,409.8 L1461.7,408.8 L1462.9,406.9 L1464.4,406.0 L1466.3,410.9 L1467.5,404.4 L1469.1,404.8 L1470.3,409.2 L1471.5,407.3 L1472.6,404.7 L1474.5,408.0 L1476.3,409.1 L1477.9,407.4 L1479.3,409.7 L1481.0,405.9 L1482.3,409.6 L1483.6,408.1 L1484.9,406.7 L1486.2,409.2 L1487.7,408.9 L1489.1,407.4 L1490.6,407.1 L1492.0,409.1 L1493.6,402.4 L1495.0,408.8 L1496.5,409.4 L1497.6,402.9 L1499.0,406.7 L1500.2,409.5 L1501.9,409.7 L1503.4,405.7 L1504.6,408.8 L1506.2,408.9 L1508.0,408.7 L1509.8,409.6 L1511.3,407.9 L1512.6,409.0 L1514.1,404.5 L1515.7,408.2 L1517.2,407.8 L1518.9,409.9 L1520.4,410.1 L1521.9,404.1 L1523.2,408.1 L1524.9,408.7 L1526.7,409.1 L1528.3,408.8 L1530.0,408.1 L1531.3,399.0 L1532.7,409.2 L1534.1,405.0 L1535.5,407.1 L1537.0,409.3 L1538.5,408.7 L1540.0,408.5 L1541.2,409.0 L1542.3,408.7 L1543.9,410.0 L1545.0,408.0 L1546.5,409.2 L1548.1,405.6 L1549.4,408.7 L1550.6,402.8 L1551.9,408.5 L1553.2,408.3 L1554.4,408.7 L1556.0,408.0 L1557.2,406.7 L1558.4,409.8 L1560.2,409.4 L1561.9,410.4 L1563.3,408.7 L1565.0,408.9 L1566.6,408.2 L1568.3,409.5 L1569.8,404.6 L1571.6,410.1 L1573.3,410.5 L1574.7,405.5 L1576.4,409.7 L1578.2,408.6 L1579.5,409.3 L1580.9,405.3 L1582.6,401.8 L1584.3,406.6 L1585.5,405.7 L1587.3,408.8 L1589.1,409.1 L1591.0,405.1 L1592.1,409.0 L1593.9,409.2 L1595.1,409.2 L1596.4,410.2 L1597.6,404.7 L1598.8,406.5 L1600.2,407.7 L1601.6,406.2 L1603.4,409.0 L1605.2,410.3 L1606.8,408.8 L1608.5,407.0 L1610.3,409.4 L1611.6,408.1 L1613.2,409.6 L1614.9,408.9 L1616.3,408.1 L1618.1,406.1 L1619.4,407.8 L1621.1,406.5 L1622.9,407.1 L1624.5,409.6 L1626.1,401.7 L1627.4,409.2 L1628.9,402.1 L1630.6,408.6 L1632.3,410.2 L1633.7,410.1 L1634.9,405.8 L1636.5,408.6 L1638.1,406.7 L1640.0,410.2 L1641.4,408.4 L1643.0,409.3 L1644.2,412.6 L1645.8,409.9 L1646.9,409.0 L1648.0,406.9 L1649.2,408.4 L1651.0,405.4 L1652.8,409.8 L1653.9,409.1 L1655.5,408.9 L1656.7,406.4 L1658.3,409.0 L1660.1,409.0 L1661.5,410.8 L1662.7,405.2 L1664.5,409.2 L1665.7,407.0 L1667.5,409.3 L1669.0,407.3 L1670.8,402.2 L1672.3,409.6 L1673.7,410.3 L1675.1,400.2 L1676.7,408.5 L1678.3,410.1 L1680.2,408.2 L1681.7,409.3 L1683.6,408.5 L1684.8,408.7 L1686.0,409.5 L1687.2,409.3 L1688.7,409.2 L1690.4,405.7 L1691.6,408.1 L1693.1,408.8 L1694.8,409.4 L1696.5,408.4 L1698.3,409.6 L1699.4,409.4 L1700.9,409.2 L1702.5,407.3 L1704.3,407.4 L1705.6,409.4 L1706.7,406.0 L1708.2,407.5 L1709.9,408.3 L1711.8,406.4 L1713.1,407.1 L1714.7,409.2 L1716.5,405.7 L1718.4,405.4 L1719.5,409.7 L1720.8,408.8 L1722.3,409.3 L1724.0,404.3 L1725.7,408.8 L1727.4,410.9 L1728.6,408.7 L1730.0,409.9 L1731.4,408.6 L1732.7,409.8 L1734.2,408.7 L1736.1,405.2 L1737.8,404.2 L1739.4,408.9 L1740.9,410.3 L1742.7,409.5 L1744.1,406.8 L1745.6,409.1 L1745.9,413.1 L1744.4,413.2 L1743.0,413.0 L1741.2,413.2 L1739.7,412.8 L1738.1,412.8 L1736.4,413.7 L1734.5,414.3 L1733.0,413.8 L1731.7,414.5 L1730.3,414.1 L1728.9,413.0 L1727.7,414.1 L1726.0,414.1 L1724.3,414.3 L1722.6,415.2 L1721.1,413.8 L1719.8,414.0 L1718.7,413.6 L1716.8,413.2 L1715.0,413.6 L1713.4,414.5 L1712.1,413.7 L1710.2,413.3 L1708.5,412.9 L1707.0,413.2 L1705.9,413.1 L1704.6,414.2 L1702.8,413.4 L1701.2,413.4 L1699.7,413.1 L1698.6,413.1 L1696.8,413.4 L1695.1,413.3 L1693.4,413.2 L1691.9,414.1 L1690.7,413.0 L1689.0,413.1 L1687.5,413.8 L1686.3,414.3 L1685.1,413.6 L1683.9,415.1 L1682.0,413.1 L1680.5,413.0 L1678.6,413.2 L1677.0,413.1 L1675.4,413.5 L1674.0,413.2 L1672.6,414.1 L1671.1,413.4 L1669.3,413.5 L1667.8,414.6 L1666.0,413.1 L1664.8,412.9 L1663.0,413.6 L1661.8,413.8 L1660.4,413.6 L1658.6,412.8 L1657.0,413.3 L1655.8,413.6 L1654.2,413.5 L1653.1,414.0 L1651.3,413.2 L1649.5,414.8 L1648.3,413.1 L1647.2,413.9 L1646.1,414.4 L1644.5,413.1 L1643.3,413.8 L1641.7,414.2 L1640.3,414.5 L1638.4,413.1 L1636.8,413.7 L1635.2,413.5 L1634.0,412.7 L1632.6,412.8 L1630.9,413.1 L1629.2,414.9 L1627.7,412.9 L1626.4,414.6 L1624.8,413.0 L1623.2,413.4 L1621.4,414.0 L1619.7,415.8 L1618.4,413.4 L1616.6,413.4 L1615.2,413.1 L1613.5,413.5 L1611.9,413.1 L1610.6,413.4 L1608.8,413.1 L1607.1,414.1 L1605.5,415.1 L1603.7,414.1 L1601.9,414.7 L1600.5,414.1 L1599.1,413.1 L1597.9,413.3 L1596.7,413.2 L1595.4,413.2 L1594.2,415.0 L1592.4,413.3 L1591.3,413.1 L1589.4,412.9 L1587.6,413.9 L1585.8,413.8 L1584.6,413.9 L1582.9,413.2 L1581.2,414.0 L1579.8,413.5 L1578.5,413.1 L1576.7,413.7 L1575.0,414.4 L1573.6,413.1 L1571.9,413.4 L1570.1,412.3 L1568.6,412.8 L1566.9,413.2 L1565.3,414.2 L1563.6,414.0 L1562.2,413.6 L1560.5,414.0 L1558.7,413.0 L1557.5,413.3 L1556.3,413.0 L1554.7,414.1 L1553.5,414.6 L1552.2,414.1 L1550.9,413.2 L1549.7,413.1 L1548.4,414.5 L1546.8,414.7 L1545.3,413.3 L1544.2,414.2 L1542.6,413.3 L1541.5,413.0 L1540.3,413.0 L1538.8,412.7 L1537.3,415.3 L1535.8,414.2 L1534.4,413.8 L1533.0,413.2 L1531.6,413.8 L1530.3,413.3 L1528.6,413.1 L1527.0,413.2 L1525.2,414.0 L1523.5,412.6 L1522.2,414.0 L1520.7,413.0 L1519.2,413.3 L1517.5,413.2 L1516.0,413.2 L1514.4,413.0 L1512.9,413.4 L1511.6,413.1 L1510.1,412.9 L1508.3,413.3 L1506.5,413.1 L1504.9,412.8 L1503.7,412.9 L1502.2,413.5 L1500.5,414.1 L1499.3,414.0 L1497.9,413.0 L1496.8,415.7 L1495.3,413.1 L1493.9,413.7 L1492.3,413.6 L1490.9,412.9 L1489.4,414.2 L1488.0,414.5 L1486.5,414.6 L1485.2,413.4 L1483.9,414.2 L1482.6,413.1 L1481.3,413.2 L1479.6,413.2 L1478.2,414.5 L1476.6,413.3 L1474.8,413.6 L1472.9,413.2 L1471.8,413.7 L1470.6,414.0 L1469.4,413.1 L1467.8,415.5 L1466.6,416.0 L1464.7,413.0 L1463.2,413.4 L1462.0,414.8 L1460.4,413.0 L1459.0,413.1 L1457.5,414.6 L1455.9,414.0 L1454.1,414.8 L1452.4,414.6 L1450.5,413.5 L1449.1,413.6 L1447.9,413.3 L1446.7,413.2 L1445.4,412.6 L1443.7,413.3 L1442.1,414.2 L1440.7,413.2 L1439.3,413.1 L1438.1,413.2 L1436.3,414.1 L1434.6,413.1 L1433.3,414.5 L1432.0,413.8 L1430.6,413.8 L1428.8,413.7 L1427.6,414.0 L1425.7,414.7 L1424.5,414.0 L1423.1,413.8 L1421.6,413.0 L1419.9,414.0 L1418.4,413.4 L1416.9,413.0 L1415.7,413.8 L1413.9,414.0 L1412.0,412.8 L1410.3,413.7 L1409.1,413.4 L1407.6,413.2 L1406.3,412.9 L1404.6,414.7 L1403.4,413.3 L1402.0,415.7 L1400.6,413.1 L1399.1,413.0 L1397.9,413.2 L1396.1,415.8 L1394.6,413.3 L1392.7,413.5 L1390.9,415.5 L1389.4,412.8 L1387.5,413.2 L1386.4,412.8 L1384.5,414.0 L1382.7,413.2 L1381.1,413.9 L1379.5,414.1 L1377.7,413.1 L1375.9,413.2 L1374.1,412.9 L1372.6,415.1 L1370.8,412.4 L1369.3,413.5 L1367.6,417.5 L1365.8,414.1 L1364.5,413.1 L1363.1,413.1 L1361.6,414.5 L1359.9,414.3 L1358.8,413.3 L1357.4,414.3 L1355.7,412.9 L1354.5,412.9 L1353.1,413.3 L1351.8,414.5 L1350.1,412.9 L1348.3,415.6 L1347.2,413.1 L1345.7,413.3 L1344.1,414.3 L1342.3,413.7 L1340.5,413.8 L1339.3,412.9 L1337.7,413.1 L1336.0,413.2 L1334.2,413.0 L1332.8,415.5 L1331.1,412.9 L1329.3,413.2 L1327.7,413.3 L1326.5,413.0 L1325.3,413.7 L1323.5,414.2 L1322.3,413.3 L1321.1,413.3 L1320.0,413.5 L1318.8,413.6 L1316.9,413.0 L1315.2,413.3 L1313.5,413.0 L1312.0,412.8 L1310.1,414.5 L1308.3,415.6 L1307.0,413.7 L1305.4,414.8 L1304.3,413.3 L1302.8,413.3 L1301.5,413.5 L1299.7,413.5 L1298.0,413.3 L1296.6,413.7 L1295.5,415.5 L1294.2,414.1 L1292.5,415.2 L1290.7,413.8 L1288.9,413.2 L1287.5,412.9 L1286.1,414.3 L1284.9,413.8 L1283.6,413.8 L1282.4,414.0 L1280.7,413.1 L1279.5,413.2 L1278.2,413.6 L1276.6,413.5 L1275.2,413.5 L1273.6,413.7 L1271.9,413.0 L1270.5,414.1 L1269.3,415.3 L1267.6,413.1 L1266.5,413.4 L1264.8,413.8 L1263.0,413.0 L1261.5,412.9 L1259.7,413.6 L1258.2,414.2 L1256.8,413.0 L1255.1,413.1 L1253.9,413.4 L1252.1,414.5 L1250.9,413.1 L1249.7,412.4 L1248.4,413.0 L1247.0,414.1 L1245.3,413.3 L1243.8,413.5 L1242.3,413.1 L1240.8,413.1 L1239.1,413.0 L1237.9,413.3 L1236.8,413.1 L1235.0,412.8 L1233.9,412.3 L1232.4,414.7 L1230.6,413.3 L1229.1,414.7 L1227.7,413.1 L1226.5,413.6 L1224.8,413.2 L1223.5,412.8 L1221.8,412.8 L1220.7,413.1 L1219.1,412.8 L1217.2,414.8 L1215.5,412.9 L1214.3,413.3 L1213.1,413.0 L1212.0,414.8 L1210.7,413.1 L1209.4,413.2 L1207.8,413.2 L1206.5,413.7 L1204.6,415.0 L1202.8,415.2 L1201.2,413.0 L1199.7,413.0 L1198.5,414.0 L1197.0,413.3 L1195.7,413.5 L1194.3,413.3 L1192.5,413.1 L1191.3,413.0 L1189.7,412.7 L1188.6,413.1 L1186.9,412.9 L1185.6,413.2 L1184.2,413.6 L1182.6,414.8 L1181.1,413.2 L1179.3,413.1 L1178.1,414.6 L1176.8,413.8 L1175.3,413.6 L1174.2,416.3 L1172.9,414.2 L1171.7,414.5 L1170.2,414.2 L1169.1,413.5 L1167.7,414.3 L1166.5,413.5 L1165.4,413.1 L1164.1,412.9 L1162.5,412.9 L1160.8,413.2 L1159.5,413.3 L1158.0,414.5 L1156.5,415.0 L1155.1,412.9 L1153.3,413.3 L1151.6,416.6 L1150.2,416.2 L1148.9,413.5 L1147.1,412.8 L1145.4,412.8 L1143.6,413.4 L1142.4,413.3 L1141.0,414.9 L1139.6,413.0 L1137.9,413.2 L1136.3,413.0 L1134.8,413.6 L1133.5,413.8 L1132.1,413.4 L1130.8,413.7 L1129.5,412.8 L1127.7,412.8 L1126.1,413.1 L1124.4,412.7 L1123.1,414.7 L1121.9,414.3 L1120.3,414.5 L1119.0,413.3 L1117.2,414.5 L1115.5,412.9 L1113.8,413.6 L1112.4,413.9 L1111.0,413.8 L1109.4,412.1 L1108.0,414.5 L1106.6,413.3 L1105.1,413.1 L1103.6,413.0 L1102.3,413.1 L1100.9,412.8 L1099.3,413.5 L1098.0,413.0 L1096.9,412.9 L1095.7,413.6 L1093.9,414.1 L1092.7,414.9 L1091.1,412.7 L1089.4,413.8 L1087.8,413.9 L1086.6,414.3 L1085.3,412.7 L1084.0,415.3 L1082.8,413.2 L1081.6,413.4 L1080.2,413.0 L1078.4,414.4 L1076.9,414.6 L1075.5,415.1 L1074.2,413.3 L1072.5,413.0 L1071.3,414.5 L1070.0,414.7 L1068.7,411.5 L1066.9,413.1 L1065.4,414.9 L1063.9,413.0 L1062.6,415.7 L1061.5,413.0 L1060.3,414.4 L1059.0,413.1 L1057.4,412.6 L1055.9,413.1 L1054.2,414.1 L1052.6,413.1 L1051.1,413.9 L1049.5,412.6 L1047.8,416.0 L1046.5,412.5 L1045.1,413.3 L1043.3,412.6 L1041.9,413.0 L1040.4,413.0 L1038.7,412.6 L1037.4,416.3 L1035.6,412.9 L1034.2,413.2 L1032.5,413.2 L1030.7,413.0 L1029.4,413.2 L1027.7,413.7 L1026.4,413.2 L1025.1,413.6 L1023.3,412.7 L1021.8,413.0 L1020.5,413.2 L1019.1,414.6 L1017.6,415.4 L1016.2,414.0 L1014.8,414.4 L1013.4,412.4Z" fill="#5ab947" stroke="#5ab947" stroke-width="0.6" stroke-linejoin="round"/>
<path d="M1053.9,414.7 Q1057.2,412.2 1057.1,406.9 L1057.5,393.5 L1058.4,391.0 L1058.8,391.0 L1059.7,393.5 L1060.1,406.9 Q1060.0,412.2 1063.3,414.7 Z" fill="#2f54a4"/>
<path d="M1072.5,414.7 Q1076.8,412.2 1076.7,405.1 L1077.2,387.5 L1078.1,385.0 L1079.1,385.0 L1080.0,387.5 L1080.5,405.1 Q1080.4,412.2 1084.7,414.7 Z" fill="#2f54a4"/>
<path d="M1264.6,414.7 Q1269.9,412.2 1269.8,403.6 L1270.3,382.5 L1271.2,380.0 L1272.4,380.0 L1273.3,382.5 L1273.8,403.6 Q1273.7,412.2 1279.0,414.7 Z" fill="#5ab947"/>
<path d="M1318.4,414.7 Q1323.7,412.2 1323.7,381.7 L1324.8,266.9 L1325.7,264.4 L1327.3,264.4 L1328.2,266.9 L1329.3,381.7 Q1329.3,412.2 1334.6,414.7 Z" fill="#5ab947"/>
<path d="M1669.8,414.7 Q1672.9,412.2 1672.8,402.1 L1673.3,377.5 L1674.2,375.0 L1675.6,375.0 L1676.5,377.5 L1677.0,402.1 Q1676.9,412.2 1680.0,414.7 Z" fill="#5ab947"/>
<path d="M1011.5,201.7 L1014.8,404.9" stroke="#b8499b" stroke-width="3.2" fill="none" stroke-linecap="round"/>
<path d="M1014.7,403.9 L1015.9,400.6 L1016.9,402.3 L1018.3,404.7 L1019.4,404.0 L1020.8,403.0 L1022.0,400.1 L1022.9,405.0 L1023.9,404.9 L1024.9,404.5 L1025.9,399.1 L1026.8,402.7 L1028.0,405.5 L1029.1,400.8 L1030.6,406.1 L1031.7,405.1 L1032.8,404.5 L1033.9,403.5 L1034.9,404.5 L1036.0,405.6 L1037.2,405.6 L1038.1,403.2 L1039.6,405.2 L1040.5,402.7 L1041.6,406.5 L1042.5,406.0 L1043.7,406.7 L1044.7,401.5 L1046.1,406.0 L1047.4,406.5 L1048.6,405.6 L1049.6,403.7 L1051.0,406.3 L1052.1,406.0 L1053.4,404.2 L1054.8,405.2 L1056.1,405.4 L1057.3,404.3 L1058.7,406.6 L1060.1,406.8 L1061.4,406.0 L1062.9,406.5 L1064.3,408.1 L1065.3,407.7 L1066.4,403.5 L1067.8,407.3 L1068.9,405.6 L1070.3,406.9 L1071.5,404.9 L1072.5,408.0 L1073.4,405.9 L1074.7,407.1 L1076.0,406.2 L1077.0,404.7 L1078.0,406.0 L1079.0,407.5 L1080.2,407.2 L1081.2,406.2 L1082.2,408.5 L1083.1,404.9 L1084.4,407.5 L1085.6,405.5 L1086.8,407.5 L1087.9,406.4 L1089.0,408.3 L1090.2,402.7 L1091.4,402.9 L1092.6,407.0 L1093.6,403.0 L1094.6,408.7 L1095.5,402.9 L1096.7,408.0 L1098.0,406.3 L1099.2,408.1 L1100.2,405.2 L1101.3,404.8 L1102.6,409.9 L1103.8,408.2 L1105.3,408.9 L1106.7,407.7 L1107.8,404.4 L1108.7,402.5 L1109.7,408.1 L1110.9,409.2 L1111.9,404.5 L1113.2,408.6 L1114.1,406.4 L1115.5,408.9 L1116.6,409.7 L1117.8,406.4 L1118.9,408.6 L1119.9,407.9 L1121.3,408.8 L1122.8,404.8 L1123.8,409.2 L1125.3,408.9 L1126.4,408.1 L1127.8,407.8 L1128.7,407.6 L1129.7,403.7 L1130.8,408.1 L1131.8,410.7 L1133.1,406.5 L1134.3,407.4 L1135.7,409.0 L1136.6,409.8 L1137.6,409.4 L1138.9,405.4 L1140.1,408.2 L1141.3,409.5 L1142.6,403.9 L1143.6,409.6 L1144.8,406.9 L1145.9,408.6 L1147.3,409.6 L1148.6,410.1 L1149.9,409.5 L1150.9,409.0 L1152.3,409.8 L1153.3,405.7 L1154.7,409.2 L1155.6,409.6 L1156.8,405.3 L1157.9,408.3 L1159.3,407.6 L1160.7,406.0 L1161.9,409.3 L1163.4,409.9 L1164.5,408.4 L1165.9,406.5 L1167.0,409.5 L1168.2,409.9 L1169.4,409.5 L1170.6,409.4 L1171.9,407.6 L1173.3,407.0 L1174.4,406.0 L1175.5,409.5 L1176.7,409.8 L1177.9,409.2 L1179.2,408.0 L1180.5,408.9 L1182.0,410.4 L1183.1,409.8 L1184.2,408.0 L1185.2,409.9 L1186.2,402.6 L1187.3,409.1 L1188.6,409.9 L1189.7,409.6 L1190.7,406.3 L1191.8,409.1 L1193.0,409.3 L1194.1,410.3 L1195.6,409.3 L1196.6,407.9 L1197.7,407.8 L1198.7,407.1 L1200.2,406.2 L1201.1,410.2 L1202.1,408.6 L1203.3,407.8 L1204.8,409.3 L1205.8,409.3 L1207.2,409.2 L1208.3,407.3 L1209.3,409.1 L1210.6,408.6 L1211.8,407.5 L1212.9,406.0 L1214.1,406.5 L1215.5,409.9 L1216.6,409.6 L1218.0,406.7 L1219.2,409.6 L1220.2,409.1 L1221.2,409.6 L1222.4,408.2 L1223.3,409.1 L1224.8,407.4 L1225.8,409.5 L1227.2,408.5 L1228.4,403.3 L1229.3,408.6 L1230.4,409.5 L1231.5,410.3 L1232.4,408.9 L1233.4,409.8 L1234.4,405.6 L1235.6,409.9 L1236.9,409.7 L1237.9,410.1 L1239.0,409.7 L1240.3,410.3 L1241.5,406.7 L1242.6,407.3 L1244.1,409.2 L1245.0,409.7 L1245.9,408.7 L1246.9,409.6 L1248.2,406.3 L1249.1,408.2 L1250.2,407.3 L1251.1,404.7 L1252.3,404.3 L1253.8,409.5 L1255.1,409.8 L1256.3,407.6 L1257.7,410.1 L1259.2,409.0 L1260.5,408.3 L1261.8,409.5 L1263.1,410.3 L1264.3,409.3 L1265.5,408.3 L1267.0,409.8 L1267.9,406.7 L1269.3,409.1 L1270.3,408.3 L1271.3,411.0 L1272.6,405.9 L1273.7,409.6 L1274.7,410.3 L1276.0,409.4 L1277.4,410.4 L1278.5,406.8 L1279.6,409.6 L1280.7,409.8 L1282.1,410.5 L1283.2,409.3 L1284.7,408.6 L1285.9,409.2 L1287.2,405.6 L1288.2,409.4 L1289.2,410.8 L1290.4,409.7 L1291.7,409.0 L1292.7,409.6 L1294.1,407.3 L1295.2,410.0 L1296.4,410.0 L1297.5,407.9 L1298.6,409.5 L1299.7,409.9 L1301.0,410.0 L1302.3,409.9 L1303.5,409.5 L1304.6,409.9 L1305.8,407.3 L1306.8,410.0 L1307.9,409.7 L1309.3,409.8 L1310.3,409.8 L1311.6,407.5 L1312.7,410.5 L1313.8,410.4 L1314.9,407.7 L1315.8,409.2 L1316.9,408.8 L1318.2,409.1 L1319.5,409.8 L1320.9,409.0 L1322.1,409.9 L1323.6,409.4 L1324.6,410.3 L1326.1,409.2 L1327.1,410.3 L1328.3,408.3 L1329.7,405.9 L1330.7,409.5 L1331.7,410.6 L1332.6,409.8 L1333.9,407.1 L1334.8,409.2 L1335.7,410.3 L1336.6,409.6 L1337.9,404.6 L1339.4,407.4 L1340.5,409.7 L1341.7,406.5 L1343.2,408.9 L1344.5,409.2 L1345.8,406.9 L1347.3,408.7 L1348.4,409.4 L1349.8,410.1 L1351.0,410.0 L1352.0,410.2 L1353.2,410.0 L1354.6,408.2 L1356.0,410.2 L1357.3,409.4 L1358.3,409.0 L1359.8,406.5 L1360.9,406.4 L1362.3,408.5 L1363.6,408.3 L1364.8,408.7 L1366.2,409.8 L1367.1,410.8 L1368.2,409.0 L1369.4,408.7 L1370.8,409.2 L1371.8,408.5 L1372.7,410.0 L1374.0,407.9 L1375.2,409.7 L1376.2,405.0 L1377.3,409.5 L1378.7,409.8 L1379.9,408.5 L1381.1,409.9 L1382.1,410.9 L1383.1,410.3 L1384.0,409.6 L1385.0,408.1 L1386.5,408.6 L1387.6,409.9 L1388.9,405.8 L1390.1,409.7 L1391.0,410.2 L1392.1,409.9 L1393.2,409.5 L1394.4,409.1 L1395.4,408.1 L1396.9,410.9 L1398.0,408.3 L1399.2,409.5 L1400.4,410.6 L1401.6,409.8 L1403.0,406.8 L1404.2,409.0 L1405.5,406.3 L1406.6,409.9 L1407.9,409.6 L1409.0,408.9 L1410.1,409.1 L1411.2,408.3 L1412.6,409.7 L1413.7,409.8 L1414.9,407.3 L1415.9,409.2 L1417.0,409.1 L1417.9,409.6 L1419.1,408.1 L1420.0,408.7 L1420.9,408.9 L1422.1,410.0 L1423.6,409.8 L1424.7,409.6 L1425.7,407.6 L1426.9,409.9 L1428.3,409.7 L1429.4,410.3 L1430.6,410.0 L1431.7,409.5 L1432.6,409.7 L1433.8,408.6 L1434.8,407.4 L1436.1,409.9 L1437.5,408.6 L1439.0,409.4 L1439.9,410.6 L1441.2,410.4 L1442.6,409.5 L1443.9,408.1 L1445.0,409.1 L1446.3,407.5 L1447.8,408.3 L1449.0,409.3 L1450.0,409.9 L1451.3,410.2 L1452.4,406.6 L1453.4,406.4 L1454.6,408.9 L1456.0,408.7 L1457.3,409.8 L1458.7,409.1 L1459.6,410.1 L1461.0,410.2 L1461.9,410.1 L1463.0,409.2 L1464.4,406.7 L1465.6,408.0 L1466.9,410.8 L1468.0,409.7 L1469.0,407.8 L1470.0,410.4 L1471.2,409.7 L1472.5,408.4 L1473.7,411.2 L1475.2,410.1 L1476.7,409.7 L1478.0,410.1 L1479.3,409.1 L1480.7,409.6 L1481.8,407.3 L1482.9,409.5 L1483.9,407.5 L1485.2,409.6 L1486.6,409.4 L1487.5,407.7 L1488.9,409.9 L1489.8,409.7 L1491.3,408.0 L1492.3,410.1 L1493.5,407.9 L1494.8,410.3 L1496.3,406.7 L1497.5,408.4 L1498.6,409.8 L1500.0,409.6 L1501.4,410.0 L1502.9,408.5 L1503.8,409.8 L1504.7,409.8 L1505.7,410.1 L1507.1,410.0 L1508.4,409.3 L1509.5,407.8 L1510.5,408.4 L1511.5,410.4 L1512.8,408.2 L1514.2,407.7 L1515.4,409.3 L1516.7,409.5 L1517.9,409.5 L1518.9,409.8 L1520.0,407.6 L1520.9,409.6 L1522.1,408.9 L1523.1,408.4 L1524.4,410.2 L1525.6,410.0 L1527.1,408.2 L1528.3,409.7 L1529.3,407.2 L1530.6,410.0 L1531.7,408.5 L1533.0,409.8 L1534.0,411.0 L1535.1,408.9 L1536.2,409.5 L1537.6,407.9 L1538.9,409.7 L1539.9,409.6 L1541.4,408.1 L1542.4,408.4 L1543.5,409.5 L1544.7,410.3 L1545.7,409.5 L1546.8,409.5 L1548.1,409.9 L1549.1,408.3 L1550.2,409.2 L1551.3,410.1 L1552.8,410.1 L1553.8,405.6 L1554.9,408.2 L1556.2,408.3 L1557.4,409.5 L1558.6,409.4 L1559.5,409.0 L1560.9,407.1 L1562.4,409.9 L1563.6,408.6 L1565.0,409.5 L1566.2,409.6 L1567.5,410.1 L1568.6,409.8 L1569.6,409.7 L1570.9,409.3 L1571.9,410.0 L1573.1,410.0 L1574.1,407.3 L1575.1,407.6 L1576.0,407.9 L1577.4,410.6 L1578.7,406.4 L1579.7,410.0 L1580.6,409.9 L1581.7,409.7 L1583.1,409.6 L1584.4,409.5 L1585.6,408.3 L1587.0,407.3 L1588.5,409.6 L1589.9,410.1 L1591.2,410.9 L1592.4,409.5 L1593.6,408.4 L1594.7,406.6 L1595.9,408.5 L1597.2,409.3 L1598.7,409.0 L1599.7,409.8 L1600.6,410.7 L1601.8,408.3 L1603.2,407.0 L1604.4,409.8 L1605.5,409.8 L1606.5,408.4 L1607.8,409.1 L1609.2,409.6 L1610.2,409.7 L1611.4,408.1 L1612.5,405.2 L1613.6,407.9 L1614.8,409.9 L1616.2,409.9 L1617.3,410.5 L1618.7,408.0 L1619.7,409.5 L1620.7,409.7 L1622.0,410.7 L1623.4,409.8 L1624.7,409.1 L1626.0,410.2 L1627.5,409.8 L1628.7,408.6 L1629.9,409.6 L1631.2,405.3 L1632.6,408.8 L1633.6,409.2 L1635.0,409.5 L1636.1,408.4 L1637.0,408.8 L1638.0,409.2 L1639.2,409.5 L1640.2,410.2 L1641.5,409.1 L1642.5,409.0 L1643.5,408.9 L1644.6,409.2 L1645.7,410.0 L1646.6,409.9 L1648.0,405.3 L1649.1,409.2 L1650.3,409.4 L1651.2,408.0 L1652.4,407.8 L1653.5,409.5 L1654.5,410.1 L1655.5,407.1 L1657.0,409.3 L1658.4,409.6 L1659.4,408.9 L1660.6,409.2 L1662.1,409.6 L1663.4,408.0 L1664.5,410.2 L1665.9,407.8 L1667.1,409.7 L1668.0,410.2 L1669.2,410.0 L1670.5,410.0 L1671.6,409.9 L1672.6,409.8 L1673.7,408.7 L1674.9,408.0 L1676.4,408.5 L1677.7,408.6 L1679.1,407.7 L1680.4,410.1 L1681.7,409.6 L1683.0,410.0 L1684.4,407.5 L1685.8,407.7 L1687.2,409.0 L1688.2,408.9 L1689.4,408.2 L1690.6,409.9 L1692.1,408.4 L1693.5,408.4 L1694.5,409.8 L1695.4,409.9 L1696.4,410.5 L1697.7,410.2 L1699.2,409.8 L1700.4,409.6 L1701.4,408.7 L1702.5,406.7 L1703.9,409.5 L1705.0,409.8 L1706.2,409.9 L1707.4,410.0 L1708.7,410.1 L1709.7,409.6 L1711.0,409.8 L1712.5,409.8 L1713.6,409.8 L1715.1,408.8 L1716.0,409.5 L1717.1,406.5 L1718.1,408.7 L1719.3,407.9 L1720.6,410.5 L1721.6,410.6 L1722.7,410.2 L1723.6,409.9 L1725.1,407.5 L1726.3,408.4 L1727.3,409.6 L1728.8,409.5 L1729.8,410.2 L1730.7,409.6 L1731.8,409.9 L1732.9,409.6 L1734.1,407.5 L1735.2,409.5 L1736.2,409.6 L1737.6,409.8 L1739.1,409.8 L1740.0,408.1 L1740.3,413.9 L1739.4,413.2 L1737.9,413.3 L1736.5,414.1 L1735.5,413.6 L1734.4,414.6 L1733.2,413.3 L1732.1,413.3 L1731.0,413.4 L1730.1,413.2 L1729.1,414.1 L1727.6,413.7 L1726.6,413.1 L1725.4,413.3 L1723.9,413.6 L1723.0,413.8 L1721.9,413.8 L1720.9,413.8 L1719.6,413.6 L1718.4,413.9 L1717.4,413.3 L1716.3,413.4 L1715.4,413.6 L1713.9,413.4 L1712.8,413.4 L1711.3,413.3 L1710.0,413.2 L1709.0,413.2 L1707.7,413.3 L1706.5,413.2 L1705.3,413.4 L1704.2,413.6 L1702.8,413.2 L1701.7,413.5 L1700.7,413.5 L1699.5,413.3 L1698.0,413.9 L1696.7,413.4 L1695.7,413.5 L1694.8,414.1 L1693.8,413.8 L1692.4,413.3 L1690.9,413.4 L1689.7,413.4 L1688.5,414.2 L1687.5,413.2 L1686.1,413.5 L1684.7,414.1 L1683.3,413.8 L1682.0,413.3 L1680.7,413.3 L1679.4,413.4 L1678.0,413.1 L1676.7,413.5 L1675.2,413.3 L1674.0,413.4 L1672.9,413.2 L1671.9,413.3 L1670.8,413.9 L1669.5,413.6 L1668.3,413.8 L1667.4,413.4 L1666.2,413.4 L1664.8,414.0 L1663.7,413.3 L1662.4,413.9 L1660.9,414.3 L1659.7,413.4 L1658.7,413.1 L1657.3,413.7 L1655.8,413.2 L1654.8,414.6 L1653.8,414.2 L1652.7,413.5 L1651.5,413.3 L1650.6,413.2 L1649.4,413.4 L1648.3,413.4 L1646.9,413.4 L1646.0,413.7 L1644.9,413.4 L1643.8,413.3 L1642.8,414.4 L1641.8,413.2 L1640.5,413.2 L1639.5,413.9 L1638.3,413.6 L1637.3,413.5 L1636.4,413.2 L1635.3,413.3 L1633.9,413.3 L1632.9,413.3 L1631.5,413.6 L1630.2,413.2 L1629.0,413.8 L1627.8,413.2 L1626.3,413.3 L1625.0,414.2 L1623.7,413.3 L1622.3,413.3 L1621.0,413.5 L1620.0,413.3 L1619.0,413.6 L1617.6,413.4 L1616.5,413.6 L1615.1,413.6 L1613.9,413.3 L1612.8,413.7 L1611.7,413.6 L1610.5,414.2 L1609.5,413.3 L1608.1,413.7 L1606.8,413.4 L1605.8,413.5 L1604.7,413.4 L1603.5,413.3 L1602.1,413.3 L1600.9,413.5 L1600.0,413.9 L1599.0,413.6 L1597.5,413.9 L1596.2,413.9 L1595.0,413.1 L1593.9,413.9 L1592.7,413.3 L1591.5,413.3 L1590.2,413.4 L1588.8,413.3 L1587.3,413.3 L1585.9,413.3 L1584.7,413.8 L1583.4,413.3 L1582.0,413.3 L1580.9,414.6 L1580.0,413.3 L1579.0,413.4 L1577.7,413.4 L1576.3,413.3 L1575.4,413.8 L1574.4,413.1 L1573.4,413.3 L1572.2,413.6 L1571.2,413.6 L1569.9,413.2 L1568.9,413.7 L1567.8,413.9 L1566.5,413.8 L1565.3,413.5 L1563.9,413.3 L1562.7,413.5 L1561.2,413.4 L1559.8,413.3 L1558.9,413.6 L1557.7,413.4 L1556.5,413.5 L1555.2,413.4 L1554.1,413.4 L1553.1,413.4 L1551.6,413.5 L1550.5,413.4 L1549.4,413.4 L1548.4,413.4 L1547.1,413.2 L1546.0,413.2 L1545.0,413.3 L1543.8,413.4 L1542.7,413.8 L1541.7,413.4 L1540.2,413.7 L1539.2,413.1 L1537.9,413.3 L1536.5,413.1 L1535.4,413.5 L1534.3,413.6 L1533.3,413.2 L1532.0,413.6 L1530.9,413.2 L1529.6,413.3 L1528.6,413.3 L1527.4,413.4 L1525.9,413.3 L1524.7,413.2 L1523.4,413.4 L1522.4,413.4 L1521.2,413.1 L1520.3,414.1 L1519.2,413.1 L1518.2,413.2 L1517.0,413.4 L1515.7,413.2 L1514.5,413.4 L1513.1,413.7 L1511.8,413.6 L1510.8,413.9 L1509.8,413.8 L1508.7,414.5 L1507.4,413.2 L1506.0,413.5 L1505.0,413.3 L1504.1,414.0 L1503.2,413.8 L1501.7,413.5 L1500.3,413.2 L1498.9,413.9 L1497.8,413.5 L1496.6,413.2 L1495.1,414.0 L1493.8,413.4 L1492.6,413.3 L1491.6,413.4 L1490.1,413.9 L1489.2,413.3 L1487.8,413.2 L1486.9,413.7 L1485.5,413.9 L1484.2,414.5 L1483.2,414.0 L1482.1,413.2 L1481.0,413.4 L1479.6,413.2 L1478.3,413.2 L1477.0,413.6 L1475.5,413.4 L1474.0,413.3 L1472.8,413.3 L1471.5,413.3 L1470.3,413.2 L1469.3,413.9 L1468.3,413.2 L1467.2,413.2 L1465.9,413.2 L1464.7,413.2 L1463.3,413.5 L1462.2,413.2 L1461.3,413.7 L1459.9,413.4 L1459.0,413.9 L1457.6,413.5 L1456.3,413.3 L1454.9,413.9 L1453.7,413.4 L1452.7,413.3 L1451.6,413.3 L1450.3,414.0 L1449.3,413.7 L1448.1,413.5 L1446.6,413.3 L1445.3,413.3 L1444.2,413.2 L1442.9,413.2 L1441.5,413.8 L1440.2,413.3 L1439.3,414.0 L1437.8,413.7 L1436.4,413.2 L1435.1,413.3 L1434.1,413.6 L1432.9,413.8 L1432.0,413.2 L1430.9,413.3 L1429.7,413.5 L1428.6,413.3 L1427.2,413.6 L1426.0,413.7 L1425.0,413.6 L1423.9,413.8 L1422.4,413.3 L1421.2,413.4 L1420.3,413.5 L1419.4,413.8 L1418.2,413.9 L1417.3,413.3 L1416.2,413.6 L1415.2,413.4 L1414.0,413.4 L1412.9,413.3 L1411.5,413.4 L1410.4,413.3 L1409.3,413.3 L1408.2,413.3 L1406.9,413.6 L1405.8,413.5 L1404.5,413.3 L1403.3,413.3 L1401.9,413.1 L1400.7,413.3 L1399.5,413.4 L1398.3,413.5 L1397.2,414.0 L1395.7,413.6 L1394.7,414.1 L1393.5,413.2 L1392.4,413.3 L1391.3,413.3 L1390.4,413.6 L1389.2,413.4 L1387.9,414.0 L1386.8,413.7 L1385.3,413.5 L1384.3,413.2 L1383.4,414.5 L1382.4,413.3 L1381.4,414.1 L1380.2,413.4 L1379.0,413.4 L1377.6,414.3 L1376.5,414.3 L1375.5,413.9 L1374.3,413.6 L1373.0,414.1 L1372.1,413.4 L1371.1,413.2 L1369.7,413.3 L1368.5,414.1 L1367.4,412.7 L1366.5,413.8 L1365.1,413.2 L1363.9,414.1 L1362.6,413.5 L1361.2,413.3 L1360.1,413.4 L1358.6,414.7 L1357.6,413.3 L1356.3,413.1 L1354.9,413.7 L1353.5,413.2 L1352.3,413.3 L1351.3,413.3 L1350.1,413.6 L1348.7,413.5 L1347.6,413.7 L1346.1,414.1 L1344.8,413.3 L1343.5,413.2 L1342.0,414.0 L1340.8,413.3 L1339.7,412.9 L1338.2,413.3 L1336.9,413.5 L1336.0,414.3 L1335.1,414.1 L1334.2,414.1 L1332.9,414.4 L1332.0,413.5 L1331.0,414.3 L1330.0,413.7 L1328.6,413.8 L1327.4,413.4 L1326.4,413.7 L1324.9,413.4 L1323.9,413.4 L1322.4,413.4 L1321.2,413.5 L1319.8,413.8 L1318.5,413.3 L1317.2,413.6 L1316.1,414.2 L1315.2,413.9 L1314.1,413.3 L1313.0,414.5 L1311.9,413.6 L1310.6,413.1 L1309.6,413.1 L1308.2,414.5 L1307.1,413.8 L1306.1,413.3 L1304.9,413.2 L1303.8,413.2 L1302.6,412.9 L1301.3,413.8 L1300.0,413.5 L1298.9,413.9 L1297.8,413.3 L1296.7,413.0 L1295.5,413.7 L1294.4,413.4 L1293.0,413.4 L1292.0,413.2 L1290.7,413.4 L1289.5,413.3 L1288.5,413.6 L1287.5,414.6 L1286.2,413.8 L1285.0,413.5 L1283.5,413.4 L1282.4,413.1 L1281.0,413.2 L1279.9,413.1 L1278.8,414.1 L1277.7,414.5 L1276.3,413.3 L1275.0,414.0 L1274.0,413.0 L1272.9,413.7 L1271.6,413.7 L1270.6,413.6 L1269.6,413.2 L1268.2,414.7 L1267.3,413.3 L1265.8,413.2 L1264.6,413.2 L1263.4,413.2 L1262.1,413.1 L1260.8,414.1 L1259.5,413.8 L1258.0,413.3 L1256.6,413.2 L1255.4,413.8 L1254.1,413.5 L1252.6,414.1 L1251.4,413.7 L1250.5,413.1 L1249.4,414.4 L1248.5,413.2 L1247.2,413.3 L1246.2,413.6 L1245.3,414.0 L1244.4,412.7 L1242.9,413.4 L1241.8,413.2 L1240.6,413.2 L1239.3,413.3 L1238.2,413.0 L1237.2,413.4 L1235.9,413.3 L1234.7,413.2 L1233.7,413.2 L1232.7,413.2 L1231.8,413.3 L1230.7,414.9 L1229.6,414.0 L1228.7,414.5 L1227.5,413.0 L1226.1,413.3 L1225.1,413.9 L1223.6,413.4 L1222.7,413.3 L1221.5,413.2 L1220.5,413.7 L1219.5,413.3 L1218.3,414.4 L1216.9,413.6 L1215.8,413.5 L1214.4,413.2 L1213.2,413.4 L1212.1,413.3 L1210.9,413.0 L1209.6,413.1 L1208.6,413.1 L1207.5,414.6 L1206.1,413.1 L1205.1,413.4 L1203.6,413.5 L1202.4,413.2 L1201.4,413.9 L1200.5,414.6 L1199.0,413.3 L1198.0,413.4 L1196.9,413.4 L1195.9,413.6 L1194.4,413.2 L1193.3,413.3 L1192.1,414.0 L1191.0,413.2 L1190.0,413.7 L1188.9,412.9 L1187.6,414.1 L1186.5,413.2 L1185.5,413.2 L1184.5,413.2 L1183.4,413.1 L1182.3,413.1 L1180.8,413.8 L1179.5,413.2 L1178.2,413.2 L1177.0,414.1 L1175.8,413.0 L1174.7,412.8 L1173.6,414.4 L1172.2,413.0 L1170.9,413.1 L1169.7,413.7 L1168.5,413.3 L1167.3,413.1 L1166.2,413.1 L1164.8,413.1 L1163.7,412.7 L1162.2,412.9 L1161.0,412.9 L1159.6,413.0 L1158.2,412.9 L1157.1,414.4 L1155.9,413.9 L1155.0,413.2 L1153.6,413.2 L1152.6,414.0 L1151.2,414.0 L1150.2,412.9 L1148.9,413.0 L1147.6,414.3 L1146.2,413.9 L1145.1,413.5 L1143.9,412.5 L1142.9,414.3 L1141.6,413.0 L1140.4,413.6 L1139.2,412.9 L1137.9,413.1 L1136.9,412.9 L1136.0,412.9 L1134.6,413.6 L1133.4,412.8 L1132.1,413.0 L1131.1,413.3 L1130.0,413.5 L1129.0,412.8 L1128.1,413.2 L1126.7,413.3 L1125.6,412.7 L1124.1,412.7 L1123.1,413.2 L1121.6,412.7 L1120.2,413.0 L1119.2,412.8 L1118.1,413.0 L1116.9,413.1 L1115.8,413.1 L1114.4,413.6 L1113.5,413.8 L1112.2,412.7 L1111.2,412.8 L1110.0,414.5 L1109.0,412.8 L1108.1,414.0 L1107.0,413.1 L1105.6,412.4 L1104.1,412.7 L1102.9,412.8 L1101.6,412.9 L1100.5,412.5 L1099.5,412.6 L1098.3,412.5 L1097.0,412.7 L1095.8,412.3 L1094.9,413.4 L1093.9,412.7 L1092.9,413.1 L1091.7,412.6 L1090.5,412.9 L1089.3,413.2 L1088.2,412.3 L1087.1,414.1 L1085.9,413.5 L1084.7,412.5 L1083.4,413.0 L1082.5,413.1 L1081.5,413.6 L1080.5,411.9 L1079.3,412.1 L1078.3,413.1 L1077.3,413.6 L1076.3,412.4 L1075.0,412.0 L1073.7,412.2 L1072.8,413.4 L1071.8,412.4 L1070.6,412.7 L1069.2,412.0 L1068.1,411.9 L1066.7,412.0 L1065.6,412.8 L1064.6,413.3 L1063.2,411.7 L1061.7,411.9 L1060.4,412.4 L1059.0,411.7 L1057.6,412.2 L1056.4,411.4 L1055.1,411.4 L1053.7,411.7 L1052.4,413.0 L1051.3,411.4 L1049.9,411.4 L1048.9,411.5 L1047.7,411.7 L1046.4,411.3 L1045.0,411.3 L1044.0,412.0 L1042.8,411.1 L1041.9,410.6 L1040.8,411.0 L1039.9,410.9 L1038.4,411.6 L1037.5,410.9 L1036.3,411.0 L1035.2,410.9 L1034.2,411.1 L1033.1,410.7 L1032.0,412.2 L1030.9,411.6 L1029.4,410.0 L1028.3,411.0 L1027.1,410.5 L1026.2,409.8 L1025.2,410.4 L1024.2,410.1 L1023.2,412.8 L1022.3,410.2 L1021.1,410.7 L1019.7,411.6 L1018.6,409.9 L1017.2,410.5 L1016.2,409.5 L1015.0,409.5Z" fill="#b8499b" stroke="#b8499b" stroke-width="0.6" stroke-linejoin="round"/>
<path d="M1165.1,414.7 Q1168.6,412.2 1168.5,396.7 L1169.1,359.5 L1170.0,357.0 L1171.6,357.0 L1172.5,359.5 L1173.1,396.7 Q1173.0,412.2 1176.5,414.7 Z" fill="#b8499b"/>
<path d="M1200.0,414.7 Q1205.3,412.2 1205.2,381.7 L1207.1,30.1 L1208.0,27.6 L1210.0,27.6 L1210.9,30.1 L1212.8,381.7 Q1212.7,412.2 1218.0,414.7 Z" fill="#b8499b"/>
</g>
<rect x="1061.00" y="397.0" width="1.2" height="17.5" fill="#000"/>
<rect x="1077.60" y="391.0" width="2.8" height="23.5" fill="#000"/>
<rect x="1169.30" y="362.0" width="3.4" height="52.5" fill="#000"/>
<rect x="1207.00" y="37.6" width="3.6" height="376.9" fill="#000"/>
<rect x="1270.70" y="376.8" width="2.6" height="37.7" fill="#000"/>
<rect x="1325.10" y="275.0" width="3.4" height="139.5" fill="#000"/>
<rect x="1673.50" y="384.0" width="2.8" height="30.5" fill="#000"/>
<text transform="translate(1003.0,22.4)" font-size="24.5" text-anchor="end" fill="#111" stroke="#111" stroke-width="0.4">8000</text>
<text transform="translate(1003.0,62.3)" font-size="24.5" text-anchor="end" fill="#111" stroke="#111" stroke-width="0.4">7000</text>
<text transform="translate(1003.0,112.6)" font-size="24.5" text-anchor="end" fill="#111" stroke="#111" stroke-width="0.4">6000</text>
<text transform="translate(1003.0,162.7)" font-size="24.5" text-anchor="end" fill="#111" stroke="#111" stroke-width="0.4">5000</text>
<text transform="translate(1003.0,213.4)" font-size="24.5" text-anchor="end" fill="#111" stroke="#111" stroke-width="0.4">4000</text>
<text transform="translate(1003.0,265.1)" font-size="24.5" text-anchor="end" fill="#111" stroke="#111" stroke-width="0.4">3000</text>
<text transform="translate(1003.0,315.2)" font-size="24.5" text-anchor="end" fill="#111" stroke="#111" stroke-width="0.4">2000</text>
<text transform="translate(1003.0,365.9)" font-size="24.5" text-anchor="end" fill="#111" stroke="#111" stroke-width="0.4">1000</text>
<text transform="translate(996.0,422.7)" font-size="24.5" text-anchor="middle" fill="#111" stroke="#111" stroke-width="0.4">0</text>
<text transform="translate(1129.4,441.4)" font-size="24.5" text-anchor="middle" fill="#111" stroke="#111" stroke-width="0.4">30000</text>
<text transform="translate(1246.3,441.4)" font-size="24.5" text-anchor="middle" fill="#111" stroke="#111" stroke-width="0.4">40000</text>
<text transform="translate(1377.3,441.4)" font-size="24.5" text-anchor="middle" fill="#111" stroke="#111" stroke-width="0.4">50000</text>
<text transform="translate(1499.5,441.4)" font-size="24.5" text-anchor="middle" fill="#111" stroke="#111" stroke-width="0.4">60000</text>
<text transform="translate(1610.5,439.0)" font-size="24.5" text-anchor="middle" fill="#111" stroke="#111" stroke-width="0.4">70000</text>
<text transform="translate(1711.4,439.0)" font-size="24.5" text-anchor="middle" fill="#111" stroke="#111" stroke-width="0.4">80000</text>
<text transform="translate(1440.0,474.9) scale(1.030,1)" font-size="38" text-anchor="middle" fill="#111" stroke="#111" stroke-width="0.4">sin</text>
<text transform="translate(933.3,201.7) rotate(-90) scale(0.905,1)" font-size="35.5" text-anchor="middle" fill="#111" stroke="#111" stroke-width="0.4">cps</text>
<text transform="translate(1735.2,47.1) scale(1.050,1)" font-size="38" text-anchor="end" fill="#1a1a1a" stroke="#1a1a1a" stroke-width="0.4">Alveolina</text>
<text transform="translate(1223.7,37.6)" font-size="24.5" text-anchor="middle" fill="#111" stroke="#111" stroke-width="0.4">CaKa</text>
<text transform="translate(1324.5,264.4)" font-size="24.5" text-anchor="middle" fill="#111" stroke="#111" stroke-width="0.4">FeKa</text>
<text transform="translate(1174.0,357.0)" font-size="24.5" text-anchor="middle" fill="#111" stroke="#111" stroke-width="0.4">CaKb</text>
<text transform="translate(1044.5,391.0)" font-size="24.5" text-anchor="middle" fill="#111" stroke="#111" stroke-width="0.4">SiKb</text>
<text transform="translate(1104.0,393.0)" font-size="24.5" text-anchor="middle" fill="#111" stroke="#111" stroke-width="0.4">SiKa</text>
<text transform="translate(1275.0,377.0)" font-size="24.5" text-anchor="middle" fill="#111" stroke="#111" stroke-width="0.4">FeKb</text>
<text transform="translate(1343.6,379.0)" font-size="24.5" text-anchor="middle" fill="#111" stroke="#111" stroke-width="0.4">FeKa</text>
<text transform="translate(1674.0,375.0)" font-size="24.5" text-anchor="middle" fill="#111" stroke="#111" stroke-width="0.4">CaKb</text>
<rect x="113.1" y="518.8" width="764.6" height="417.5" fill="none" stroke="#000" stroke-width="2.8"/>
<clipPath id="c3"><rect x="111.69999999999999" y="517.4" width="766.0" height="425.5"/></clipPath>
<g clip-path="url(#c3)">
<path d="M114.7,932.2 L116.4,932.1 L117.8,929.2 L119.5,930.1 L121.3,932.8 L122.7,926.8 L124.6,933.2 L126.2,927.1 L127.6,929.6 L129.2,933.4 L131.1,933.7 L132.8,929.7 L134.5,932.9 L135.9,927.5 L137.8,933.3 L139.7,925.8 L141.1,926.8 L142.6,926.6 L144.1,933.7 L145.5,926.9 L147.2,933.7 L149.1,934.0 L150.6,929.5 L152.1,933.1 L153.3,933.7 L155.1,933.0 L157.1,933.0 L158.6,933.4 L160.1,932.9 L161.5,932.2 L163.1,933.2 L164.9,934.9 L166.6,930.8 L168.3,931.2 L169.7,931.7 L171.0,933.6 L172.5,934.0 L173.7,927.7 L175.7,931.4 L177.4,934.0 L178.7,933.9 L180.6,934.0 L182.3,928.7 L184.0,934.2 L185.5,933.3 L186.9,932.2 L188.8,928.9 L190.5,932.7 L192.1,934.3 L193.3,932.3 L195.2,930.6 L196.7,934.1 L198.2,930.9 L199.4,932.2 L200.9,932.2 L202.5,933.7 L203.9,934.8 L205.5,928.8 L207.3,933.5 L209.0,929.8 L210.7,928.3 L212.5,932.3 L213.9,928.4 L215.6,930.1 L216.8,933.1 L218.6,932.6 L220.5,933.4 L222.3,934.2 L223.8,930.8 L225.6,931.4 L227.2,934.9 L228.5,933.6 L230.3,932.8 L231.7,933.1 L233.5,935.1 L234.9,930.6 L236.4,934.3 L237.9,934.5 L239.6,935.1 L241.4,930.8 L243.2,934.7 L244.5,933.7 L246.4,933.7 L248.2,932.7 L249.7,935.8 L251.2,934.3 L252.8,934.1 L254.0,929.4 L255.5,933.1 L257.3,933.0 L259.0,934.2 L260.8,934.2 L262.5,931.4 L264.4,932.3 L266.1,934.4 L267.3,934.1 L268.8,933.9 L270.4,933.7 L271.9,935.3 L273.2,933.9 L275.0,933.2 L276.9,933.8 L278.2,935.0 L280.0,929.4 L281.6,934.9 L283.3,934.4 L285.1,929.6 L286.7,934.4 L288.3,934.4 L290.2,931.0 L291.7,933.8 L293.2,931.3 L294.8,930.4 L296.7,929.4 L298.3,933.3 L299.6,935.3 L301.3,934.2 L302.7,930.8 L304.3,934.8 L306.1,932.3 L307.5,934.7 L308.8,934.5 L310.3,934.0 L311.5,932.3 L312.9,934.5 L314.7,934.2 L316.1,934.0 L317.6,930.9 L318.8,933.0 L320.0,935.0 L321.6,932.2 L323.0,935.6 L324.9,932.2 L326.9,932.2 L328.5,932.0 L330.3,934.7 L332.0,934.2 L333.8,931.4 L335.1,933.7 L337.0,935.7 L338.5,931.9 L340.1,933.3 L341.4,932.1 L342.7,932.4 L344.6,935.2 L345.9,930.2 L347.9,932.5 L349.3,932.5 L351.1,934.7 L353.0,935.3 L354.6,934.1 L355.8,935.4 L357.5,933.6 L359.1,932.7 L360.9,929.3 L362.5,935.8 L364.1,933.8 L365.5,932.8 L366.9,936.2 L368.4,934.8 L369.8,932.6 L371.1,933.9 L373.0,934.5 L374.6,934.9 L376.2,931.0 L378.1,932.9 L379.4,932.7 L381.4,931.6 L382.6,935.4 L383.9,934.4 L385.3,931.8 L387.2,933.6 L389.0,935.7 L390.4,930.9 L391.9,935.1 L393.5,934.7 L395.5,935.0 L397.3,936.1 L398.9,935.5 L400.6,931.3 L402.0,934.6 L403.5,935.9 L404.9,933.0 L406.3,934.5 L407.9,934.3 L409.1,934.0 L410.9,932.6 L412.3,933.4 L413.8,934.5 L415.1,933.1 L416.8,933.8 L418.1,930.6 L419.8,934.5 L421.2,933.4 L423.1,933.0 L425.1,934.2 L426.9,934.3 L428.7,935.0 L430.3,933.5 L432.2,931.8 L433.6,934.0 L435.5,934.0 L437.5,934.6 L439.1,934.7 L440.7,934.7 L442.7,930.3 L444.7,934.3 L446.2,934.7 L447.8,935.8 L449.3,934.5 L451.1,930.3 L452.6,933.7 L454.5,934.5 L456.0,935.1 L457.4,933.9 L458.6,934.8 L460.6,935.5 L462.5,935.4 L464.0,935.9 L465.9,934.8 L467.1,933.6 L468.7,935.3 L469.9,931.0 L471.7,932.9 L473.3,931.1 L475.0,933.2 L476.7,929.4 L477.9,934.1 L479.4,931.2 L480.8,933.4 L482.3,933.8 L483.6,932.2 L485.5,933.5 L487.5,934.7 L489.1,935.4 L490.6,934.7 L492.4,934.5 L494.0,934.2 L495.7,932.8 L497.4,935.3 L499.3,935.3 L501.0,933.7 L503.0,934.8 L504.8,934.7 L506.4,935.8 L508.0,933.7 L509.7,934.9 L511.7,932.6 L513.4,934.4 L514.8,934.7 L516.5,934.9 L517.8,935.2 L519.4,933.6 L521.0,930.6 L522.3,934.5 L524.2,935.1 L525.6,935.2 L527.6,933.5 L529.3,934.4 L530.8,934.3 L532.4,935.4 L534.2,935.6 L535.8,934.5 L537.2,934.3 L539.0,934.5 L540.9,934.0 L542.5,934.4 L544.2,933.8 L545.5,933.5 L547.1,931.6 L548.3,934.6 L549.9,935.3 L551.4,933.6 L552.8,935.6 L554.3,932.9 L556.0,934.5 L557.3,934.9 L559.1,934.5 L560.3,933.7 L562.0,934.9 L563.3,936.2 L564.9,934.3 L566.5,931.2 L567.7,934.7 L569.2,932.5 L570.4,933.1 L572.0,934.1 L573.8,937.7 L575.5,932.5 L577.0,936.1 L578.8,934.5 L580.5,934.5 L582.0,933.0 L583.4,934.0 L584.8,932.5 L586.0,934.5 L587.4,934.1 L589.2,934.5 L590.7,935.2 L592.4,934.8 L594.2,934.9 L596.1,932.5 L598.0,932.6 L599.9,935.0 L601.3,929.6 L603.3,934.5 L604.6,933.1 L606.1,933.9 L607.7,934.8 L609.5,933.1 L611.5,930.8 L613.1,930.4 L615.0,933.1 L616.3,932.8 L618.0,934.4 L619.9,934.7 L621.3,935.1 L622.9,934.1 L624.2,932.6 L625.8,933.3 L627.0,935.2 L628.6,934.5 L630.5,932.8 L632.1,932.4 L633.4,934.7 L635.2,932.4 L636.8,930.8 L638.7,934.8 L640.5,932.2 L642.2,934.5 L643.4,933.6 L645.1,931.8 L646.8,932.4 L648.3,934.3 L649.8,935.5 L651.6,934.2 L653.4,935.0 L654.7,933.0 L656.7,934.9 L658.4,935.3 L659.7,934.1 L661.3,935.4 L662.6,935.9 L664.0,932.4 L665.7,932.5 L667.3,931.2 L669.0,935.1 L670.5,932.2 L672.0,933.9 L673.9,934.9 L675.1,934.4 L676.5,934.4 L677.8,936.2 L679.7,931.8 L681.1,934.6 L682.4,934.5 L684.2,934.1 L685.7,935.1 L687.5,935.0 L689.0,935.0 L690.2,934.9 L691.7,930.6 L693.6,932.6 L695.5,934.8 L697.3,935.6 L699.2,934.8 L700.9,935.0 L702.7,934.5 L704.4,933.8 L706.1,935.4 L707.4,935.9 L709.3,931.2 L710.7,934.7 L712.7,933.7 L714.3,932.5 L715.5,934.3 L716.8,935.7 L718.6,935.3 L720.6,933.2 L722.3,932.9 L724.1,935.3 L726.1,934.4 L727.9,934.1 L729.9,935.8 L731.8,935.2 L733.4,934.9 L734.7,935.3 L736.1,934.8 L738.0,935.3 L739.3,934.6 L741.2,932.3 L743.0,935.6 L744.4,934.8 L746.1,933.4 L747.6,932.1 L749.1,934.7 L750.9,927.9 L752.3,933.0 L754.0,934.8 L755.7,930.4 L757.1,933.0 L758.8,932.4 L760.2,933.2 L761.7,935.2 L763.1,934.6 L764.6,932.0 L766.4,934.6 L768.0,935.2 L769.3,934.7 L770.6,932.7 L772.1,935.2 L774.0,934.8 L775.9,930.2 L777.4,933.4 L779.3,934.0 L781.1,934.8 L782.9,932.3 L784.5,935.4 L786.3,934.4 L787.6,933.2 L789.4,935.0 L791.1,934.9 L792.7,935.5 L794.7,933.1 L796.6,934.7 L798.5,934.9 L800.0,932.7 L801.3,933.6 L802.9,935.8 L804.8,934.4 L806.7,933.7 L808.6,935.0 L810.5,932.9 L812.1,934.8 L813.8,934.5 L815.5,933.3 L816.8,935.5 L818.1,932.5 L820.0,932.6 L821.4,934.1 L823.3,934.6 L824.9,935.0 L826.4,930.6 L827.9,933.5 L829.8,934.9 L831.1,933.2 L832.5,934.7 L834.0,933.0 L835.3,934.3 L836.7,934.7 L838.5,932.6 L840.3,935.0 L841.6,934.4 L843.3,934.5 L844.6,933.6 L846.1,929.9 L847.6,935.0 L849.0,934.5 L850.7,934.5 L852.2,931.6 L853.7,935.1 L855.1,934.3 L856.7,932.2 L858.6,932.1 L860.0,935.6 L861.5,935.1 L862.9,936.0 L864.5,933.9 L865.9,934.7 L867.3,934.0 L869.0,935.1 L870.8,934.7 L872.6,935.6 L874.3,932.3 L875.9,935.0 L876.2,936.0 L874.6,935.8 L872.9,935.7 L871.1,936.4 L869.3,937.9 L867.6,936.9 L866.2,936.9 L864.8,936.6 L863.2,936.4 L861.8,935.8 L860.3,936.8 L858.9,936.0 L857.0,936.4 L855.4,935.8 L854.0,936.4 L852.5,935.9 L851.0,936.1 L849.3,935.8 L847.9,936.1 L846.4,936.0 L844.9,936.5 L843.6,937.7 L841.9,936.8 L840.6,936.3 L838.8,936.6 L837.0,938.6 L835.6,936.2 L834.3,935.9 L832.8,936.7 L831.4,936.8 L830.1,937.6 L828.2,936.6 L826.7,937.3 L825.2,936.0 L823.6,936.0 L821.7,935.9 L820.3,936.3 L818.4,935.9 L817.1,937.9 L815.8,935.9 L814.1,937.7 L812.4,936.4 L810.8,936.8 L808.9,936.3 L807.0,935.9 L805.1,936.6 L803.2,937.0 L801.6,936.0 L800.3,937.1 L798.8,937.7 L796.9,936.0 L795.0,936.2 L793.0,936.2 L791.4,936.0 L789.7,937.0 L787.9,937.1 L786.6,936.2 L784.8,936.1 L783.2,937.0 L781.4,937.3 L779.6,936.4 L777.7,936.4 L776.2,937.0 L774.3,937.2 L772.4,936.5 L770.9,936.1 L769.6,935.5 L768.3,935.7 L766.7,936.0 L764.9,936.0 L763.4,936.0 L762.0,936.0 L760.5,936.9 L759.1,935.8 L757.4,936.2 L756.0,936.8 L754.3,937.5 L752.6,935.7 L751.2,937.0 L749.4,936.0 L747.9,937.1 L746.4,936.0 L744.7,936.2 L743.3,936.0 L741.5,935.8 L739.6,936.1 L738.3,935.8 L736.4,936.0 L735.0,937.4 L733.7,937.5 L732.1,936.4 L730.2,936.5 L728.2,936.5 L726.4,936.1 L724.4,935.9 L722.6,935.9 L720.9,936.4 L718.9,937.4 L717.1,936.9 L715.8,936.1 L714.6,937.4 L713.0,935.9 L711.0,936.0 L709.6,936.4 L707.7,935.9 L706.4,936.5 L704.7,937.3 L703.0,936.6 L701.2,936.1 L699.5,935.9 L697.6,935.9 L695.8,936.4 L693.9,937.4 L692.0,936.0 L690.5,935.9 L689.3,936.9 L687.8,936.8 L686.0,935.7 L684.5,936.0 L682.7,935.9 L681.4,936.5 L680.0,935.9 L678.1,936.6 L676.8,937.7 L675.4,935.9 L674.2,936.0 L672.3,936.1 L670.8,936.5 L669.3,936.0 L667.6,936.5 L666.0,935.8 L664.3,936.0 L662.9,936.0 L661.6,936.5 L660.0,935.9 L658.7,936.1 L657.0,935.9 L655.0,936.5 L653.7,936.0 L651.9,935.9 L650.1,936.1 L648.6,936.6 L647.1,937.1 L645.4,937.2 L643.7,937.0 L642.5,935.8 L640.8,936.3 L639.0,937.3 L637.1,936.9 L635.5,935.2 L633.7,936.4 L632.4,935.7 L630.8,937.4 L628.9,935.9 L627.3,936.0 L626.1,935.9 L624.5,937.5 L623.2,935.8 L621.6,936.0 L620.2,936.5 L618.3,936.9 L616.6,936.0 L615.3,937.9 L613.4,936.7 L611.8,935.8 L609.8,936.4 L608.0,937.6 L606.4,937.1 L604.9,936.0 L603.6,936.4 L601.6,936.3 L600.2,936.4 L598.3,936.0 L596.4,936.9 L594.5,935.4 L592.7,935.6 L591.0,936.1 L589.5,936.0 L587.7,936.7 L586.3,935.7 L585.1,935.9 L583.7,936.4 L582.3,936.3 L580.8,935.5 L579.1,937.0 L577.3,936.3 L575.8,936.0 L574.1,936.0 L572.3,935.8 L570.7,936.1 L569.5,937.0 L568.0,935.9 L566.8,936.1 L565.2,939.9 L563.6,938.5 L562.3,935.9 L560.6,935.8 L559.4,935.8 L557.6,936.0 L556.3,936.3 L554.6,936.5 L553.1,936.6 L551.7,935.8 L550.2,938.1 L548.6,938.7 L547.4,936.1 L545.8,936.1 L544.5,936.5 L542.8,936.0 L541.2,936.6 L539.3,936.3 L537.5,935.8 L536.1,936.3 L534.5,936.8 L532.7,937.4 L531.1,935.9 L529.6,935.9 L527.9,935.7 L525.9,936.0 L524.5,936.2 L522.6,936.9 L521.3,935.9 L519.7,937.1 L518.1,936.7 L516.8,937.4 L515.1,935.8 L513.7,935.9 L512.0,935.3 L510.0,937.9 L508.3,935.9 L506.7,936.0 L505.1,936.0 L503.3,936.2 L501.3,937.7 L499.6,936.2 L497.7,935.9 L496.0,937.4 L494.3,937.5 L492.7,936.5 L490.9,936.5 L489.4,937.3 L487.8,936.8 L485.8,937.7 L483.9,936.5 L482.6,935.5 L481.1,936.0 L479.7,936.1 L478.2,937.1 L477.0,936.5 L475.3,936.0 L473.6,935.8 L472.0,936.1 L470.2,936.0 L469.0,936.6 L467.4,935.9 L466.2,936.0 L464.3,936.4 L462.8,936.6 L460.9,936.0 L458.9,936.8 L457.7,937.0 L456.3,937.1 L454.8,935.8 L452.9,937.2 L451.4,936.8 L449.6,936.0 L448.1,936.0 L446.5,935.9 L445.0,936.6 L443.0,935.9 L441.0,936.7 L439.4,936.3 L437.8,935.8 L435.8,936.2 L433.9,936.4 L432.5,938.3 L430.6,935.9 L429.0,936.0 L427.2,936.3 L425.4,937.0 L423.4,936.4 L421.5,936.5 L420.1,936.4 L418.4,935.6 L417.1,936.4 L415.4,936.0 L414.1,936.1 L412.6,936.1 L411.2,935.4 L409.4,936.7 L408.2,936.6 L406.6,938.5 L405.2,936.0 L403.8,936.0 L402.3,935.5 L400.9,936.3 L399.2,937.1 L397.6,936.8 L395.8,936.0 L393.8,936.1 L392.2,935.5 L390.7,936.3 L389.3,936.1 L387.5,935.9 L385.6,936.4 L384.2,936.8 L382.9,936.5 L381.7,935.3 L379.7,936.3 L378.4,936.1 L376.5,935.7 L374.9,936.0 L373.3,936.5 L371.4,935.6 L370.1,936.6 L368.7,936.5 L367.2,936.0 L365.8,936.0 L364.4,935.8 L362.8,937.3 L361.2,935.5 L359.4,936.5 L357.8,937.0 L356.1,935.9 L354.9,936.0 L353.3,935.8 L351.4,937.3 L349.6,935.7 L348.2,938.2 L346.2,937.9 L344.9,935.8 L343.0,936.1 L341.7,938.6 L340.4,936.4 L338.8,936.6 L337.3,936.8 L335.4,938.1 L334.1,936.3 L332.3,935.8 L330.6,936.2 L328.8,936.0 L327.2,937.6 L325.2,936.8 L323.3,935.6 L321.9,934.8 L320.3,935.5 L319.1,936.3 L317.9,937.0 L316.4,936.9 L315.0,938.0 L313.2,935.9 L311.8,936.1 L310.6,936.0 L309.1,936.1 L307.8,936.5 L306.4,937.0 L304.6,936.0 L303.0,935.8 L301.6,937.2 L299.9,936.1 L298.6,936.3 L297.0,935.8 L295.1,935.9 L293.5,935.7 L292.0,936.5 L290.5,937.6 L288.6,935.8 L287.0,936.5 L285.4,936.1 L283.6,938.2 L281.9,936.0 L280.3,936.5 L278.5,936.0 L277.2,935.6 L275.3,936.8 L273.5,936.6 L272.2,935.9 L270.7,938.0 L269.1,938.3 L267.6,935.5 L266.4,935.8 L264.7,936.9 L262.8,938.3 L261.1,935.7 L259.3,936.1 L257.6,935.8 L255.8,935.5 L254.3,935.6 L253.1,936.1 L251.5,936.2 L250.0,935.8 L248.5,936.4 L246.7,938.4 L244.8,936.9 L243.5,935.3 L241.7,936.0 L239.9,936.3 L238.2,935.9 L236.7,937.9 L235.2,936.3 L233.8,937.3 L232.0,937.9 L230.6,937.0 L228.8,935.3 L227.5,936.3 L225.9,937.7 L224.1,936.8 L222.6,936.8 L220.8,936.9 L218.9,936.0 L217.1,935.7 L215.9,935.3 L214.2,936.4 L212.8,936.2 L211.0,937.1 L209.3,935.7 L207.6,937.5 L205.8,935.5 L204.2,936.0 L202.8,935.7 L201.2,935.6 L199.7,937.2 L198.5,937.2 L197.0,935.7 L195.5,936.9 L193.6,936.6 L192.4,937.4 L190.8,936.0 L189.1,935.5 L187.2,937.6 L185.8,938.6 L184.3,936.0 L182.6,936.3 L180.9,935.3 L179.0,935.8 L177.7,936.1 L176.0,936.0 L174.0,935.8 L172.8,936.7 L171.3,938.3 L170.0,935.6 L168.6,938.3 L166.9,935.8 L165.2,937.1 L163.4,935.9 L161.8,938.4 L160.4,936.0 L158.9,937.3 L157.4,937.6 L155.4,936.0 L153.6,935.8 L152.4,936.1 L150.9,936.0 L149.4,936.1 L147.5,935.7 L145.8,935.9 L144.4,936.0 L142.9,936.9 L141.4,935.3 L140.0,936.6 L138.1,936.5 L136.2,937.1 L134.8,935.8 L133.1,938.4 L131.4,935.2 L129.5,936.9 L127.9,936.0 L126.5,935.8 L124.9,935.2 L123.0,936.6 L121.6,936.0 L119.8,937.7 L118.1,936.1 L116.7,936.2 L115.0,937.9Z" fill="#2f54a4" stroke="#2f54a4" stroke-width="0.6" stroke-linejoin="round"/>
<path d="M114.7,933.3 L115.9,927.5 L117.5,933.4 L118.9,933.4 L120.3,931.8 L121.5,925.7 L123.1,931.8 L124.8,932.2 L126.2,932.4 L127.5,931.2 L129.3,929.8 L130.7,931.0 L132.1,928.0 L133.3,929.3 L135.1,931.6 L136.9,925.2 L138.7,931.9 L140.0,932.4 L141.4,933.2 L142.7,924.6 L144.4,924.2 L145.9,931.7 L147.5,932.3 L148.9,933.6 L150.3,926.1 L151.5,931.4 L153.0,928.2 L154.6,928.7 L156.3,925.4 L158.0,933.1 L159.1,932.3 L160.5,930.3 L162.0,933.1 L163.7,932.3 L165.2,933.4 L166.7,930.5 L168.6,931.4 L170.5,930.2 L172.2,930.3 L173.8,929.6 L175.6,932.9 L177.2,925.5 L179.1,930.7 L180.5,932.4 L182.1,930.2 L183.7,929.0 L185.5,932.5 L187.2,933.2 L188.5,933.2 L189.7,932.0 L191.5,933.2 L193.3,932.0 L194.9,928.3 L196.3,930.0 L198.1,932.0 L199.6,932.5 L201.5,932.0 L203.0,929.9 L204.2,933.1 L206.1,929.6 L207.3,930.8 L208.7,926.2 L210.5,932.8 L211.8,932.3 L213.5,930.7 L215.2,932.4 L216.6,928.5 L218.2,930.1 L219.7,932.9 L221.0,931.5 L222.6,932.0 L224.2,934.3 L225.8,932.5 L227.3,933.6 L228.6,928.8 L230.4,931.6 L231.7,932.3 L233.5,929.0 L235.2,932.6 L236.6,932.2 L238.5,928.2 L240.0,930.4 L241.8,933.7 L243.6,928.2 L245.0,932.6 L246.3,930.2 L247.9,927.6 L249.6,932.4 L251.3,932.5 L252.7,930.7 L254.0,922.8 L255.2,927.4 L256.6,931.5 L258.2,932.6 L259.7,933.3 L260.9,931.6 L262.5,933.8 L263.8,932.8 L265.2,932.2 L266.5,928.4 L268.0,932.1 L269.2,928.4 L270.8,932.1 L272.1,932.0 L273.8,929.6 L275.2,931.1 L277.1,933.3 L278.2,932.7 L279.4,932.3 L281.3,932.6 L282.6,928.6 L283.8,927.3 L284.9,926.4 L286.6,931.9 L288.4,929.5 L290.1,933.2 L291.5,928.9 L292.8,931.9 L294.2,932.6 L295.9,933.1 L297.8,933.3 L299.3,932.7 L300.7,932.2 L301.8,933.3 L303.1,930.3 L304.5,931.8 L306.2,933.3 L307.5,931.9 L308.9,932.1 L310.1,931.8 L312.0,932.5 L313.4,934.2 L314.6,931.7 L316.1,933.0 L317.6,928.0 L318.8,934.0 L320.1,930.8 L321.3,928.8 L322.7,931.4 L323.9,933.6 L325.2,931.3 L326.7,932.0 L328.0,931.0 L329.7,932.2 L331.0,934.4 L332.3,925.6 L333.9,930.3 L335.4,928.6 L336.5,932.4 L338.3,932.4 L339.8,933.9 L341.3,933.7 L342.8,927.8 L344.2,933.0 L346.0,932.7 L347.4,934.1 L349.3,928.9 L350.7,932.1 L352.5,934.0 L354.3,931.2 L356.1,934.7 L357.9,932.5 L359.3,926.8 L360.7,930.9 L362.3,932.2 L363.4,925.0 L365.0,926.5 L366.4,934.1 L367.6,930.0 L368.9,933.9 L370.7,924.5 L372.2,926.9 L373.4,929.1 L375.1,928.3 L376.7,932.4 L378.0,933.9 L379.6,932.2 L381.2,931.2 L382.5,923.5 L384.2,933.6 L385.6,933.0 L386.9,930.1 L388.0,930.4 L389.5,928.9 L391.0,930.9 L392.6,926.8 L394.3,929.4 L396.2,933.0 L397.7,934.1 L399.2,927.2 L400.8,933.5 L402.2,932.4 L403.8,934.2 L405.1,932.5 L406.4,933.9 L407.8,932.4 L409.0,930.5 L410.4,936.2 L411.8,932.6 L413.0,932.5 L414.3,932.9 L416.1,933.2 L417.8,932.6 L419.3,934.8 L421.0,931.9 L422.4,933.1 L424.2,932.2 L425.8,933.3 L427.0,927.5 L428.1,932.9 L429.5,933.1 L430.8,931.6 L432.5,932.8 L433.8,931.3 L434.9,932.5 L436.7,932.6 L437.8,933.0 L439.2,932.5 L440.6,932.5 L442.1,927.9 L443.7,932.0 L445.4,932.8 L446.7,931.8 L448.5,927.9 L450.1,928.5 L451.9,932.5 L453.2,931.9 L454.8,930.1 L456.6,933.2 L457.9,933.4 L459.8,932.9 L461.5,928.5 L463.0,933.8 L464.7,932.2 L466.1,932.0 L467.6,932.1 L469.0,933.2 L470.9,929.4 L472.4,932.5 L474.2,928.6 L475.4,933.4 L476.7,931.3 L478.2,932.9 L479.4,929.7 L480.7,931.1 L482.5,932.8 L484.0,933.3 L485.8,932.9 L487.5,932.7 L489.3,929.9 L490.9,931.1 L492.4,931.6 L494.2,929.8 L495.5,932.2 L497.1,932.9 L498.5,933.1 L499.9,923.2 L501.1,929.5 L502.5,933.7 L503.6,933.7 L505.2,928.9 L507.0,934.6 L508.4,931.4 L509.5,926.8 L511.2,933.1 L513.0,931.8 L514.5,929.0 L515.8,932.6 L517.4,932.2 L518.7,928.5 L519.8,930.8 L521.1,932.8 L522.5,933.0 L523.8,930.7 L525.0,934.2 L526.4,933.5 L527.8,931.7 L529.2,932.6 L530.3,929.8 L532.1,933.7 L533.3,930.6 L534.9,928.7 L536.5,934.1 L538.0,931.8 L539.6,934.0 L541.4,934.0 L543.0,932.0 L544.6,933.0 L546.2,930.5 L547.9,929.6 L549.2,933.0 L551.0,933.8 L552.7,931.4 L554.2,931.5 L555.4,930.1 L556.6,932.8 L557.9,932.3 L559.4,931.6 L560.7,931.4 L562.2,930.0 L563.9,931.5 L565.8,932.5 L567.0,930.8 L568.5,934.2 L570.1,934.4 L571.7,933.3 L572.8,933.1 L574.1,932.5 L575.3,933.5 L576.8,924.1 L578.6,933.5 L579.7,930.1 L581.4,931.5 L582.9,931.1 L584.6,929.3 L586.1,930.9 L587.2,932.3 L588.5,934.0 L590.0,934.1 L591.7,933.4 L593.0,931.3 L594.8,934.2 L596.2,931.4 L597.6,928.4 L599.1,930.7 L600.9,933.0 L602.1,929.1 L603.5,932.6 L604.8,930.5 L606.2,933.1 L607.9,929.3 L609.1,929.6 L610.6,933.4 L612.2,927.7 L613.6,933.2 L615.1,933.2 L616.4,931.2 L618.2,931.4 L619.4,933.4 L620.7,932.4 L622.3,932.5 L624.0,933.4 L625.2,932.3 L626.8,932.5 L628.1,932.3 L629.5,933.2 L631.3,933.0 L632.5,934.2 L633.9,933.1 L635.0,933.2 L636.2,933.5 L637.4,934.3 L639.0,931.3 L640.3,933.5 L641.9,932.4 L643.2,931.8 L644.6,927.2 L646.4,931.7 L648.3,928.0 L650.0,931.6 L651.7,927.9 L653.1,933.0 L654.6,933.4 L656.4,930.3 L657.7,931.6 L659.5,927.3 L660.7,930.0 L662.4,933.3 L663.9,929.0 L665.7,934.3 L666.9,927.2 L668.4,932.6 L670.0,928.6 L671.8,932.5 L673.2,931.2 L674.5,930.4 L675.8,928.0 L677.5,932.5 L679.3,933.2 L680.8,934.0 L682.3,924.6 L683.6,930.9 L685.3,933.1 L687.2,931.3 L689.0,932.7 L690.7,930.4 L692.0,930.8 L693.3,933.2 L694.4,933.8 L695.9,932.8 L697.7,933.5 L699.0,932.2 L700.6,930.0 L702.1,928.8 L703.6,933.0 L705.5,933.5 L706.8,933.4 L708.6,928.1 L710.3,933.8 L712.0,933.1 L713.3,932.3 L714.6,931.2 L715.8,926.1 L717.2,931.7 L718.6,932.6 L719.9,935.1 L721.1,930.4 L722.4,932.2 L723.6,927.4 L725.1,930.5 L726.9,929.9 L728.6,933.1 L730.3,933.4 L731.5,934.4 L733.3,928.7 L734.9,930.0 L736.1,932.9 L737.8,932.9 L739.6,933.1 L741.0,930.2 L742.8,932.8 L744.3,929.6 L745.8,933.7 L746.9,933.1 L748.3,932.9 L749.6,933.3 L751.2,934.9 L752.8,933.3 L754.2,933.2 L755.9,932.8 L757.7,929.8 L759.6,932.6 L761.0,930.5 L762.2,928.1 L763.6,934.8 L764.8,929.5 L766.3,929.6 L767.5,932.4 L768.9,929.1 L770.3,933.0 L771.8,931.1 L773.3,928.2 L774.5,928.6 L775.8,932.6 L777.1,926.3 L778.4,932.0 L780.0,933.4 L781.5,928.8 L783.2,932.9 L784.6,929.1 L786.1,932.9 L787.3,930.7 L788.8,932.2 L790.0,933.4 L791.3,932.2 L792.4,932.3 L793.7,931.3 L795.2,927.5 L796.7,932.8 L798.0,933.2 L799.6,933.4 L800.9,929.8 L802.5,932.5 L804.0,932.0 L805.2,929.4 L807.0,930.7 L808.4,931.8 L810.2,934.4 L811.8,932.7 L813.5,928.9 L814.7,933.2 L816.5,932.7 L818.2,931.7 L819.9,930.4 L821.1,932.5 L822.5,926.0 L823.7,930.6 L825.0,933.5 L826.2,932.5 L827.7,927.8 L829.5,933.1 L831.2,932.8 L832.6,931.4 L833.9,933.4 L835.4,927.5 L837.2,932.8 L838.4,932.0 L839.9,931.4 L841.4,932.9 L842.8,924.7 L844.1,933.8 L845.7,932.5 L847.1,933.1 L848.4,933.5 L849.6,933.9 L851.1,931.7 L852.8,932.6 L854.0,933.1 L855.8,932.7 L857.6,932.8 L858.9,933.4 L860.5,932.7 L862.1,934.9 L863.3,932.6 L864.6,934.0 L866.1,933.4 L867.5,930.3 L868.7,933.8 L870.2,932.8 L872.1,933.0 L873.3,931.5 L874.5,933.0 L875.9,932.8 L876.2,937.4 L874.8,936.1 L873.6,936.5 L872.4,936.0 L870.5,936.2 L869.0,937.5 L867.8,936.7 L866.4,936.0 L864.9,937.0 L863.6,936.0 L862.4,936.9 L860.8,935.9 L859.2,936.2 L857.9,935.7 L856.1,935.9 L854.3,937.0 L853.1,935.9 L851.4,935.8 L849.9,936.3 L848.7,936.3 L847.4,936.6 L846.0,936.2 L844.4,936.7 L843.1,936.6 L841.7,935.9 L840.2,936.1 L838.7,936.6 L837.5,936.2 L835.7,936.8 L834.2,936.1 L832.9,935.9 L831.5,937.8 L829.8,935.9 L828.0,937.0 L826.5,936.5 L825.3,935.9 L824.0,936.3 L822.8,935.9 L821.4,935.6 L820.2,936.0 L818.5,937.7 L816.8,937.2 L815.0,936.0 L813.8,936.4 L812.1,936.7 L810.5,935.7 L808.7,935.9 L807.3,935.6 L805.5,936.9 L804.3,936.0 L802.8,936.7 L801.2,936.0 L799.9,935.9 L798.3,936.0 L797.0,937.0 L795.5,935.9 L794.0,936.0 L792.7,935.9 L791.6,936.0 L790.3,935.5 L789.1,936.7 L787.6,936.3 L786.4,937.4 L784.9,936.4 L783.5,936.8 L781.8,936.1 L780.3,936.3 L778.7,935.6 L777.4,936.5 L776.1,936.7 L774.8,936.9 L773.6,936.0 L772.1,936.3 L770.6,936.8 L769.2,935.9 L767.8,935.7 L766.6,935.9 L765.1,936.4 L763.9,936.5 L762.5,935.9 L761.3,935.8 L759.9,937.1 L758.0,936.4 L756.2,937.1 L754.5,937.8 L753.1,935.6 L751.5,935.5 L749.9,936.1 L748.6,936.6 L747.2,936.9 L746.1,936.8 L744.6,937.4 L743.1,936.3 L741.3,935.7 L739.9,935.9 L738.1,935.7 L736.4,935.7 L735.2,935.9 L733.6,938.0 L731.8,936.2 L730.6,936.5 L728.9,936.0 L727.2,936.1 L725.4,937.7 L723.9,936.7 L722.7,935.9 L721.4,935.9 L720.2,935.9 L718.9,937.3 L717.5,936.1 L716.1,936.3 L714.9,936.8 L713.6,936.2 L712.3,935.9 L710.6,936.6 L708.9,936.0 L707.1,936.5 L705.8,936.0 L703.9,936.3 L702.4,938.3 L700.9,936.1 L699.3,936.6 L698.0,937.2 L696.2,935.9 L694.7,936.6 L693.6,936.0 L692.3,936.1 L691.0,935.6 L689.3,936.2 L687.5,936.4 L685.6,936.7 L683.9,936.0 L682.6,935.9 L681.1,937.3 L679.6,936.8 L677.8,935.9 L676.1,936.5 L674.8,936.0 L673.5,936.6 L672.1,936.0 L670.3,937.9 L668.7,935.8 L667.2,937.4 L666.0,937.0 L664.2,935.6 L662.7,937.2 L661.0,935.0 L659.8,936.1 L658.0,935.9 L656.7,937.8 L654.9,936.1 L653.4,936.9 L652.0,938.2 L650.3,936.0 L648.6,936.3 L646.7,936.3 L644.9,935.9 L643.5,936.8 L642.2,936.8 L640.6,936.1 L639.3,936.1 L637.7,937.2 L636.5,936.2 L635.3,937.6 L634.2,936.0 L632.8,936.7 L631.6,936.7 L629.8,936.0 L628.4,937.0 L627.1,937.3 L625.5,935.8 L624.3,936.0 L622.6,936.6 L621.0,936.9 L619.7,936.5 L618.5,938.0 L616.7,937.5 L615.4,936.1 L613.9,935.9 L612.5,937.1 L610.9,936.5 L609.4,936.7 L608.2,935.9 L606.5,935.8 L605.1,936.3 L603.8,935.9 L602.4,936.7 L601.2,937.7 L599.4,937.0 L597.9,935.8 L596.5,936.0 L595.1,936.0 L593.3,935.8 L592.0,936.2 L590.3,935.6 L588.8,936.1 L587.5,935.6 L586.4,936.1 L584.9,935.9 L583.2,935.8 L581.7,936.0 L580.0,935.9 L578.9,937.2 L577.1,935.8 L575.6,935.2 L574.4,935.9 L573.1,936.4 L572.0,937.0 L570.4,937.4 L568.8,936.0 L567.3,936.0 L566.1,935.9 L564.2,935.7 L562.5,935.8 L561.0,938.4 L559.7,936.0 L558.2,935.7 L556.9,936.4 L555.7,935.7 L554.5,935.5 L553.0,936.3 L551.3,937.3 L549.5,936.9 L548.2,936.0 L546.5,936.3 L544.9,936.5 L543.3,936.1 L541.7,936.1 L539.9,936.1 L538.3,935.8 L536.8,936.0 L535.2,935.9 L533.6,936.5 L532.4,937.6 L530.6,935.8 L529.5,935.7 L528.1,935.6 L526.7,937.4 L525.3,936.6 L524.1,935.9 L522.8,935.8 L521.4,936.0 L520.1,936.1 L519.0,936.1 L517.7,936.5 L516.1,938.9 L514.8,935.9 L513.3,935.9 L511.5,936.4 L509.8,935.9 L508.7,935.7 L507.3,935.6 L505.5,935.7 L503.9,938.7 L502.8,936.2 L501.4,936.6 L500.2,935.7 L498.8,937.8 L497.4,935.7 L495.8,936.0 L494.5,936.1 L492.7,937.7 L491.2,936.6 L489.6,936.9 L487.8,936.3 L486.1,936.3 L484.3,936.2 L482.8,937.0 L481.0,936.1 L479.7,935.7 L478.5,936.2 L477.0,936.0 L475.7,936.3 L474.5,936.9 L472.7,937.8 L471.2,937.2 L469.3,936.1 L467.9,936.8 L466.4,937.0 L465.0,936.5 L463.3,938.4 L461.8,935.9 L460.1,937.1 L458.2,936.1 L456.9,935.9 L455.1,935.7 L453.5,936.1 L452.2,936.6 L450.4,935.5 L448.8,935.7 L447.0,936.4 L445.7,936.6 L444.0,937.8 L442.4,936.8 L440.9,936.6 L439.5,938.0 L438.1,935.9 L437.0,935.9 L435.2,937.3 L434.1,936.4 L432.8,935.9 L431.1,937.6 L429.8,936.9 L428.4,935.7 L427.3,935.8 L426.1,938.4 L424.5,938.0 L422.7,937.2 L421.3,935.8 L419.6,935.9 L418.1,935.6 L416.4,936.0 L414.6,935.9 L413.3,936.8 L412.1,936.0 L410.7,935.9 L409.3,936.4 L408.1,935.9 L406.7,936.4 L405.4,936.9 L404.1,935.7 L402.5,935.7 L401.1,938.0 L399.5,937.3 L398.0,935.9 L396.5,938.1 L394.6,935.5 L392.9,937.1 L391.3,935.7 L389.8,935.6 L388.3,935.8 L387.2,936.5 L385.9,936.7 L384.5,935.9 L382.8,936.9 L381.5,937.7 L379.9,936.7 L378.3,937.0 L377.0,935.9 L375.4,937.2 L373.7,936.7 L372.5,938.7 L371.0,935.6 L369.2,937.0 L367.9,936.0 L366.7,936.9 L365.3,936.6 L363.7,936.4 L362.6,937.5 L361.0,937.2 L359.6,936.8 L358.2,936.0 L356.4,936.7 L354.6,938.9 L352.8,936.1 L351.0,937.0 L349.6,936.2 L347.7,935.9 L346.3,937.3 L344.5,937.0 L343.1,937.3 L341.6,935.9 L340.1,936.1 L338.6,935.8 L336.8,937.9 L335.7,937.6 L334.2,937.9 L332.6,936.5 L331.3,935.9 L330.0,936.6 L328.3,935.0 L327.0,936.3 L325.5,935.6 L324.2,937.0 L323.0,935.4 L321.6,936.2 L320.4,935.8 L319.1,937.2 L317.9,935.6 L316.4,937.1 L314.9,936.7 L313.7,935.3 L312.3,935.6 L310.4,938.1 L309.2,936.3 L307.8,936.8 L306.5,935.7 L304.8,936.3 L303.4,938.0 L302.1,938.8 L301.0,938.9 L299.6,936.5 L298.1,935.9 L296.2,936.6 L294.5,935.7 L293.1,937.1 L291.8,935.9 L290.4,935.8 L288.7,935.8 L286.9,936.1 L285.2,936.4 L284.1,937.4 L282.9,935.9 L281.6,935.2 L279.7,937.5 L278.5,936.4 L277.4,935.7 L275.5,935.7 L274.1,937.4 L272.4,937.6 L271.1,937.1 L269.5,935.9 L268.3,936.5 L266.8,935.8 L265.5,935.8 L264.1,936.0 L262.8,935.4 L261.2,936.4 L260.0,936.9 L258.5,937.6 L256.9,935.8 L255.5,935.8 L254.3,935.9 L253.0,935.4 L251.6,937.6 L249.9,936.7 L248.2,935.7 L246.6,937.4 L245.3,936.8 L243.9,935.8 L242.1,935.7 L240.3,936.9 L238.8,937.4 L236.9,936.0 L235.5,936.6 L233.8,935.9 L232.0,937.6 L230.7,937.1 L228.9,935.6 L227.6,936.7 L226.1,935.9 L224.5,936.7 L222.9,935.5 L221.3,935.4 L220.0,935.9 L218.5,936.9 L216.9,936.1 L215.5,937.6 L213.8,935.8 L212.1,936.4 L210.8,936.0 L209.0,937.7 L207.6,936.4 L206.4,936.0 L204.5,936.5 L203.3,936.0 L201.8,936.9 L199.9,935.9 L198.4,938.1 L196.6,936.9 L195.2,936.6 L193.6,937.7 L191.8,938.0 L190.0,936.3 L188.8,936.0 L187.5,936.4 L185.8,937.4 L184.0,935.7 L182.4,935.5 L180.8,934.6 L179.4,936.4 L177.5,935.7 L175.9,935.6 L174.1,936.2 L172.5,935.8 L170.8,935.6 L168.9,935.8 L167.0,936.0 L165.5,936.1 L164.0,936.6 L162.3,938.3 L160.8,938.3 L159.4,935.4 L158.3,937.8 L156.6,935.7 L154.9,935.6 L153.3,937.4 L151.8,935.2 L150.6,934.6 L149.2,935.6 L147.8,936.3 L146.2,935.7 L144.7,936.1 L143.0,937.6 L141.7,936.0 L140.3,935.9 L139.0,936.4 L137.2,936.1 L135.4,935.9 L133.6,936.7 L132.4,937.6 L131.0,935.7 L129.6,936.0 L127.8,935.0 L126.5,935.9 L125.1,938.0 L123.4,935.3 L121.8,937.6 L120.6,936.2 L119.2,937.0 L117.8,936.6 L116.2,935.7 L115.0,935.9Z" fill="#5ab947" stroke="#5ab947" stroke-width="0.6" stroke-linejoin="round"/>
<path d="M174.2,937.5 Q178.5,935.0 178.5,918.0 L179.1,877.5 L180.0,875.0 L181.2,875.0 L182.1,877.5 L182.7,918.0 Q182.7,935.0 187.0,937.5 Z" fill="#2f54a4"/>
<path d="M173.6,937.5 Q179.9,935.0 179.9,904.5 L182.1,642.5 L183.0,640.0 L184.2,640.0 L185.1,642.5 L187.3,904.5 Q187.3,935.0 193.6,937.5 Z" fill="#2f54a4"/>
<path d="M234.6,937.5 Q237.6,935.0 237.5,925.5 L238.0,902.5 L238.9,900.0 L240.1,900.0 L241.0,902.5 L241.5,925.5 Q241.4,935.0 244.4,937.5 Z" fill="#2f54a4"/>
<path d="M234.2,937.5 Q239.5,935.0 239.5,904.5 L241.0,720.5 L241.9,718.0 L243.7,718.0 L244.6,720.5 L246.1,904.5 Q246.1,935.0 251.4,937.5 Z" fill="#2f54a4"/>
<path d="M376.2,937.5 Q381.5,935.0 381.5,916.5 L382.1,872.5 L383.0,870.0 L384.6,870.0 L385.5,872.5 L386.1,916.5 Q386.1,935.0 391.4,937.5 Z" fill="#5ab947"/>
<path d="M430.8,937.5 Q437.1,935.0 437.1,904.5 L439.7,605.5 L440.6,603.0 L442.0,603.0 L442.9,605.5 L445.5,904.5 Q445.5,935.0 451.8,937.5 Z" fill="#5ab947"/>
<path d="M528.5,937.5 Q531.3,935.0 531.2,929.8 L531.6,916.5 L532.5,914.0 L533.5,914.0 L534.4,916.5 L534.8,929.8 Q534.7,935.0 537.5,937.5 Z" fill="#2f54a4"/>
<path d="M647.8,937.5 Q650.3,935.0 650.2,933.0 L650.6,927.5 L651.5,925.0 L652.5,925.0 L653.4,927.5 L653.8,933.0 Q653.7,935.0 656.2,937.5 Z" fill="#2f54a4"/>
<path d="M798.5,937.5 Q801.1,935.0 801.0,932.5 L801.4,925.5 L802.3,923.0 L803.1,923.0 L804.0,925.5 L804.4,932.5 Q804.3,935.0 806.9,937.5 Z" fill="#5ab947"/>
<path d="M113.1,522.7 L116.4,926.8" stroke="#b8499b" stroke-width="3.2" fill="none" stroke-linecap="round"/>
<path d="M116.3,925.8 L117.4,925.2 L118.8,924.4 L120.2,922.6 L121.2,924.4 L122.3,924.6 L123.6,921.8 L124.8,921.1 L125.8,925.0 L127.1,923.6 L128.5,922.1 L129.9,924.3 L131.4,921.7 L132.9,925.3 L133.8,924.0 L135.3,921.2 L136.4,923.2 L137.6,921.3 L138.8,926.7 L140.2,924.1 L141.7,925.4 L143.1,926.6 L144.4,924.9 L145.8,918.0 L146.9,924.0 L147.9,924.0 L148.8,923.5 L149.9,923.4 L151.1,925.6 L152.4,926.7 L153.8,921.1 L154.9,924.2 L156.3,927.7 L157.3,926.2 L158.3,923.0 L159.4,922.2 L160.4,919.4 L161.8,926.9 L163.0,924.0 L164.5,926.9 L165.7,927.6 L167.0,925.1 L168.4,927.3 L169.4,924.3 L170.7,928.8 L171.8,928.2 L173.2,919.1 L174.1,924.9 L175.6,926.8 L177.0,928.4 L178.4,925.5 L179.4,927.2 L180.7,927.5 L181.8,927.7 L183.2,927.5 L184.4,927.7 L185.5,927.9 L186.7,925.9 L188.1,925.1 L189.0,928.1 L190.1,928.9 L191.2,928.3 L192.3,928.8 L193.7,928.2 L195.0,928.8 L196.0,928.3 L197.3,918.2 L198.5,923.4 L199.8,928.7 L201.2,926.9 L202.5,928.4 L203.4,928.7 L204.6,929.4 L205.9,929.1 L207.0,929.9 L208.2,924.9 L209.6,929.2 L210.9,928.8 L212.0,929.4 L213.1,930.3 L214.6,930.4 L215.9,929.9 L217.0,929.7 L218.4,929.1 L219.5,926.9 L220.6,930.6 L221.9,929.2 L223.3,928.2 L224.8,925.3 L226.0,927.1 L227.1,930.1 L228.2,926.0 L229.6,929.8 L230.8,928.3 L232.0,930.5 L233.4,928.6 L234.7,930.0 L236.2,927.8 L237.1,929.6 L238.5,930.3 L239.9,928.3 L241.0,929.8 L242.0,927.8 L243.5,930.7 L244.6,927.5 L246.0,921.9 L247.1,929.6 L248.3,930.3 L249.6,919.0 L250.7,930.4 L252.1,925.4 L253.4,931.1 L254.5,928.4 L255.5,926.7 L256.4,929.8 L257.5,926.3 L259.0,929.0 L260.5,930.0 L261.6,929.1 L262.6,929.4 L263.9,931.4 L265.0,928.2 L266.3,928.4 L267.4,930.5 L268.3,930.7 L269.4,930.5 L270.6,928.1 L271.5,930.9 L272.8,924.4 L274.3,930.9 L275.3,931.0 L276.3,930.4 L277.2,931.4 L278.4,930.9 L279.4,931.1 L280.4,931.5 L281.7,931.2 L282.9,930.7 L283.9,926.5 L285.0,927.3 L286.1,926.5 L287.6,930.6 L288.7,931.6 L290.2,928.0 L291.6,931.1 L292.5,931.1 L293.7,930.0 L294.8,928.7 L296.1,931.9 L297.1,928.5 L298.3,930.2 L299.4,931.9 L300.9,930.9 L302.1,931.1 L303.4,928.9 L304.5,930.9 L305.4,926.4 L306.3,932.0 L307.5,932.4 L309.0,931.4 L309.9,929.8 L311.1,931.5 L312.2,932.3 L313.6,931.1 L314.8,929.4 L316.2,931.8 L317.4,931.6 L318.4,931.7 L319.7,930.7 L321.2,931.5 L322.5,932.1 L323.8,929.8 L324.7,931.4 L325.9,932.0 L327.2,932.7 L328.2,931.8 L329.2,930.9 L330.7,932.6 L331.9,931.4 L333.1,932.0 L334.5,930.8 L335.6,931.8 L336.9,931.5 L338.1,932.0 L339.2,932.4 L340.2,931.6 L341.6,931.5 L342.7,931.5 L343.7,928.5 L344.7,928.5 L345.7,931.1 L347.2,930.1 L348.6,929.4 L349.9,931.5 L351.1,931.1 L352.3,931.5 L353.7,929.4 L355.2,930.3 L356.3,931.3 L357.3,931.7 L358.8,929.6 L359.8,929.8 L361.2,929.4 L362.3,930.6 L363.4,931.8 L364.7,932.9 L365.9,932.0 L367.3,931.8 L368.6,931.7 L370.0,929.9 L371.0,934.1 L372.4,932.4 L373.7,931.7 L375.1,929.4 L376.2,929.9 L377.4,932.3 L378.4,929.4 L379.5,932.2 L380.4,928.6 L381.4,931.1 L382.6,927.0 L384.0,930.1 L385.1,930.2 L386.4,931.2 L387.9,931.9 L389.2,932.3 L390.2,931.1 L391.4,932.2 L392.6,932.4 L393.5,930.9 L394.9,930.0 L395.9,931.4 L397.0,930.0 L398.0,932.6 L398.9,928.3 L399.9,930.2 L401.0,929.8 L402.3,930.6 L403.2,932.8 L404.2,933.4 L405.4,931.9 L406.3,932.2 L407.7,931.1 L408.7,931.6 L409.9,929.7 L411.1,932.4 L412.1,932.2 L413.2,931.3 L414.5,932.2 L415.7,928.9 L416.7,928.2 L417.8,932.2 L419.3,932.8 L420.5,932.1 L421.4,932.3 L422.6,932.6 L423.9,932.9 L425.1,927.7 L426.3,930.4 L427.7,932.1 L428.7,930.8 L429.8,926.6 L430.7,930.2 L431.9,933.1 L433.2,929.6 L434.5,931.6 L435.8,931.8 L437.1,932.3 L438.6,932.4 L439.9,932.8 L440.9,930.7 L441.9,929.9 L443.3,931.5 L444.7,930.7 L445.7,931.5 L446.9,932.2 L448.2,932.4 L449.4,932.5 L450.5,933.2 L451.5,932.6 L452.9,933.3 L454.2,931.7 L455.7,930.5 L456.7,931.3 L457.6,932.6 L458.7,932.9 L459.6,931.8 L460.6,929.4 L461.9,931.3 L463.3,932.7 L464.5,933.6 L465.9,931.9 L467.3,932.4 L468.6,932.3 L470.0,932.8 L471.4,930.2 L472.9,929.4 L473.9,932.3 L475.4,932.9 L476.7,932.5 L477.9,932.8 L479.1,929.7 L480.6,932.9 L481.6,933.1 L483.1,929.2 L484.4,933.5 L485.4,932.4 L486.4,932.6 L487.7,932.7 L489.1,932.0 L490.5,933.1 L491.6,932.0 L492.8,932.7 L494.1,931.3 L495.1,932.6 L496.5,932.6 L497.9,931.0 L499.0,932.8 L500.1,933.4 L501.3,931.1 L502.3,932.2 L503.6,932.9 L504.7,932.4 L506.2,933.2 L507.7,932.8 L509.1,932.5 L510.1,932.9 L511.5,932.6 L512.5,929.8 L513.7,928.6 L515.2,932.5 L516.3,932.7 L517.3,932.6 L518.4,929.8 L519.8,932.6 L521.1,933.3 L522.5,930.1 L523.7,932.8 L524.8,930.7 L526.0,929.6 L527.4,932.5 L528.9,933.4 L530.0,932.6 L531.1,932.5 L532.4,931.3 L533.7,932.8 L535.2,933.2 L536.6,930.7 L538.1,933.1 L539.1,932.3 L540.2,932.6 L541.3,933.2 L542.2,929.5 L543.4,932.1 L544.7,933.3 L545.8,933.1 L547.1,929.2 L548.2,931.3 L549.1,933.0 L550.2,932.8 L551.6,930.4 L552.8,932.5 L554.0,930.3 L555.1,932.6 L556.3,932.9 L557.2,933.1 L558.3,932.8 L559.7,929.0 L561.1,932.9 L562.2,930.8 L563.2,933.2 L564.7,931.7 L566.1,933.8 L567.2,930.2 L568.1,929.3 L569.2,933.0 L570.4,931.8 L571.7,928.5 L573.2,932.8 L574.6,932.4 L575.5,933.1 L576.9,931.8 L577.9,933.4 L579.1,930.4 L580.2,931.8 L581.4,932.6 L582.8,930.9 L584.0,931.1 L585.0,933.2 L586.0,932.4 L587.3,933.1 L588.5,933.5 L589.9,932.5 L591.0,932.8 L591.9,933.9 L593.2,932.5 L594.4,932.5 L595.7,933.0 L597.0,932.9 L598.1,931.0 L599.1,932.9 L600.0,931.7 L601.4,932.1 L602.5,930.6 L603.9,932.5 L605.3,933.2 L606.6,931.5 L607.9,930.8 L609.0,933.0 L610.3,932.8 L611.7,932.6 L613.0,931.5 L614.0,932.3 L615.3,929.6 L616.8,933.1 L617.8,933.4 L619.1,931.6 L620.1,933.0 L621.6,931.8 L622.6,933.2 L623.6,931.8 L624.9,932.8 L625.9,932.9 L627.0,932.5 L628.1,933.4 L629.5,933.7 L630.7,932.8 L632.2,930.1 L633.2,933.7 L634.3,931.9 L635.5,930.4 L637.0,931.9 L638.4,934.0 L639.6,930.0 L640.9,931.6 L642.3,931.0 L643.3,932.9 L644.3,930.9 L645.3,932.6 L646.7,931.8 L647.8,933.3 L649.0,931.1 L650.3,932.6 L651.8,932.6 L653.1,932.9 L654.5,932.9 L655.9,932.2 L657.0,932.9 L658.1,931.4 L659.0,931.0 L660.0,933.1 L661.4,932.8 L662.9,932.9 L664.2,933.3 L665.4,932.0 L666.8,933.2 L668.2,933.1 L669.4,933.8 L670.8,931.5 L671.8,932.7 L673.2,933.3 L674.6,931.1 L676.0,934.4 L677.2,931.5 L678.3,932.2 L679.6,932.8 L680.5,931.9 L681.7,932.8 L682.9,933.0 L684.2,929.3 L685.3,932.7 L686.4,931.9 L687.8,933.3 L688.7,933.1 L689.8,932.4 L690.8,932.6 L692.2,932.1 L693.7,929.9 L695.1,933.1 L696.4,932.4 L697.6,931.4 L698.6,930.3 L699.7,931.8 L700.9,932.8 L702.0,931.7 L703.5,930.0 L704.8,933.3 L705.9,930.3 L707.1,934.1 L708.4,930.4 L709.5,934.0 L710.9,932.7 L711.9,931.3 L713.0,928.3 L714.3,933.1 L715.5,933.1 L716.4,932.0 L717.3,932.1 L718.4,932.6 L719.6,931.0 L720.6,933.4 L721.8,933.4 L723.3,933.6 L724.6,933.1 L726.1,931.7 L727.4,932.8 L728.8,930.6 L730.0,932.6 L731.3,932.8 L732.2,933.2 L733.2,932.2 L734.3,929.9 L735.4,931.7 L736.8,930.8 L737.8,933.1 L738.9,931.1 L740.1,930.6 L741.1,933.1 L742.6,932.7 L743.8,934.1 L744.9,932.8 L746.3,933.3 L747.7,932.7 L748.6,933.6 L749.9,933.6 L750.9,931.2 L751.9,931.0 L753.0,931.9 L754.1,933.1 L755.1,930.9 L756.5,932.8 L757.7,928.2 L759.2,931.4 L760.1,932.9 L761.4,929.9 L762.7,929.6 L764.2,934.5 L765.5,930.4 L766.8,931.7 L768.1,931.6 L769.1,929.0 L770.1,931.8 L771.4,931.1 L772.7,931.6 L773.8,934.2 L775.2,933.6 L776.7,931.3 L777.8,933.2 L779.3,933.0 L780.4,931.8 L781.6,931.1 L782.5,933.0 L783.6,932.5 L784.8,932.8 L786.0,931.1 L787.3,931.8 L788.7,932.5 L789.8,931.1 L790.7,933.3 L792.0,933.3 L793.1,931.1 L794.6,932.7 L795.9,924.6 L797.1,932.8 L798.6,929.3 L799.8,930.3 L801.1,932.5 L802.5,931.9 L803.9,932.8 L805.3,931.9 L806.5,932.5 L807.9,932.7 L809.4,932.0 L810.5,933.8 L812.0,930.7 L813.2,932.2 L814.5,930.0 L815.6,932.6 L817.0,933.1 L818.3,933.1 L819.7,932.0 L820.9,933.0 L821.8,933.4 L823.3,930.6 L824.7,930.9 L826.1,932.8 L827.4,933.0 L828.8,933.6 L830.2,932.8 L831.2,933.1 L832.5,931.9 L833.7,932.2 L834.8,932.7 L836.0,932.9 L837.3,932.8 L838.8,931.9 L840.1,933.1 L841.5,931.6 L842.7,930.0 L843.8,933.4 L845.0,931.5 L846.2,932.8 L847.2,932.8 L848.4,930.0 L849.7,932.1 L850.8,932.8 L851.7,933.0 L853.1,932.5 L854.3,931.1 L855.6,933.0 L856.6,932.5 L858.0,927.6 L859.4,930.7 L860.5,933.3 L861.5,933.2 L862.7,931.9 L863.8,934.0 L865.2,932.0 L866.2,931.1 L867.1,932.2 L868.4,932.7 L869.5,930.8 L870.6,931.3 L871.6,933.3 L871.9,938.0 L870.9,938.2 L869.8,938.8 L868.7,937.7 L867.4,937.3 L866.5,938.2 L865.5,937.6 L864.1,938.2 L863.0,938.5 L861.8,938.5 L860.8,938.2 L859.7,937.6 L858.3,937.8 L856.9,938.3 L855.9,938.2 L854.6,938.2 L853.4,938.1 L852.0,937.8 L851.1,938.0 L850.0,938.6 L848.7,938.1 L847.5,938.1 L846.5,937.8 L845.3,939.9 L844.1,937.6 L843.0,937.7 L841.8,938.0 L840.4,937.6 L839.1,937.7 L837.6,937.8 L836.3,938.7 L835.1,937.9 L834.0,937.8 L832.8,938.6 L831.5,938.0 L830.5,938.3 L829.1,937.7 L827.7,937.8 L826.4,937.8 L825.0,937.8 L823.6,937.7 L822.1,937.6 L821.2,938.1 L820.0,938.5 L818.6,937.6 L817.3,938.5 L815.9,937.5 L814.8,937.7 L813.5,937.7 L812.3,938.5 L810.8,938.1 L809.7,937.5 L808.2,937.6 L806.8,938.2 L805.6,938.0 L804.2,938.4 L802.8,938.3 L801.4,937.7 L800.1,937.9 L798.9,937.8 L797.4,938.1 L796.2,937.8 L794.9,938.3 L793.4,937.8 L792.3,937.7 L791.0,938.1 L790.1,937.7 L789.0,937.8 L787.6,937.8 L786.3,937.7 L785.1,938.0 L783.9,937.5 L782.8,937.7 L781.9,938.1 L780.7,938.1 L779.6,937.6 L778.1,937.8 L777.0,937.6 L775.5,937.7 L774.1,939.0 L773.0,938.7 L771.7,938.4 L770.4,938.1 L769.4,937.8 L768.4,937.9 L767.1,938.1 L765.8,937.7 L764.5,937.8 L763.0,937.4 L761.7,937.8 L760.4,937.9 L759.5,938.2 L758.0,938.2 L756.8,938.0 L755.4,937.5 L754.4,937.9 L753.3,937.9 L752.2,937.7 L751.2,937.8 L750.2,937.6 L748.9,937.8 L748.0,937.9 L746.6,938.0 L745.2,938.1 L744.1,937.7 L742.9,937.8 L741.4,937.6 L740.4,937.9 L739.2,937.7 L738.1,938.6 L737.1,937.9 L735.7,937.8 L734.6,938.2 L733.5,937.5 L732.5,937.7 L731.6,938.3 L730.3,937.7 L729.1,937.7 L727.7,937.9 L726.4,938.4 L724.9,937.6 L723.6,938.5 L722.1,937.6 L720.9,937.6 L719.9,937.8 L718.7,938.5 L717.6,937.8 L716.7,938.0 L715.8,937.8 L714.6,937.8 L713.3,937.7 L712.2,937.6 L711.2,937.7 L709.8,937.6 L708.7,937.9 L707.4,937.7 L706.2,937.9 L705.1,937.6 L703.8,938.4 L702.3,937.7 L701.2,937.9 L700.0,938.0 L698.9,938.1 L697.9,937.8 L696.7,938.0 L695.4,937.8 L694.0,937.7 L692.5,938.2 L691.1,938.1 L690.1,938.0 L689.0,938.1 L688.1,937.7 L686.7,937.8 L685.6,937.7 L684.5,938.2 L683.2,937.6 L682.0,938.3 L680.8,937.9 L679.9,937.6 L678.6,938.1 L677.5,937.8 L676.3,938.3 L674.9,937.8 L673.5,937.8 L672.1,937.8 L671.1,938.4 L669.7,938.8 L668.5,938.3 L667.1,937.6 L665.7,938.9 L664.5,937.6 L663.2,937.7 L661.7,937.7 L660.3,937.6 L659.3,937.5 L658.4,937.5 L657.3,937.7 L656.2,937.5 L654.8,938.5 L653.4,937.7 L652.1,938.2 L650.6,938.2 L649.3,939.3 L648.1,937.5 L647.0,937.7 L645.6,938.8 L644.6,937.6 L643.6,938.1 L642.6,939.1 L641.2,937.7 L639.9,938.0 L638.7,939.0 L637.3,937.7 L635.8,937.5 L634.6,938.5 L633.5,937.9 L632.5,939.1 L631.0,938.6 L629.8,937.8 L628.4,938.8 L627.3,937.7 L626.2,937.5 L625.2,937.6 L623.9,937.6 L622.9,938.4 L621.9,938.6 L620.4,937.5 L619.4,937.7 L618.1,938.6 L617.1,937.7 L615.6,937.7 L614.3,937.4 L613.3,938.4 L612.0,937.7 L610.6,938.1 L609.3,938.2 L608.2,937.7 L606.9,937.5 L605.6,938.5 L604.2,937.5 L602.8,937.6 L601.7,938.9 L600.3,938.6 L599.4,938.1 L598.4,937.7 L597.3,937.7 L596.0,938.1 L594.7,937.9 L593.5,937.7 L592.2,938.7 L591.3,938.5 L590.2,937.8 L588.8,938.4 L587.6,938.2 L586.3,937.6 L585.3,937.6 L584.3,937.5 L583.1,938.3 L581.7,937.8 L580.5,938.0 L579.4,937.8 L578.2,938.5 L577.2,937.6 L575.8,937.4 L574.9,937.9 L573.5,937.6 L572.0,937.7 L570.7,937.6 L569.5,937.7 L568.4,937.8 L567.5,937.8 L566.4,937.8 L565.0,938.0 L563.5,938.0 L562.5,938.5 L561.4,938.5 L560.0,938.1 L558.6,937.6 L557.5,937.5 L556.6,937.8 L555.4,938.1 L554.3,938.6 L553.1,938.0 L551.9,937.8 L550.5,937.5 L549.4,937.6 L548.5,937.8 L547.4,938.4 L546.1,937.8 L545.0,937.7 L543.7,937.6 L542.5,937.9 L541.6,938.6 L540.5,937.7 L539.4,938.0 L538.4,937.7 L536.9,938.0 L535.5,938.0 L534.0,937.6 L532.7,938.0 L531.4,937.7 L530.3,938.1 L529.2,939.7 L527.7,938.6 L526.3,938.0 L525.1,937.9 L524.0,937.4 L522.8,938.2 L521.4,939.1 L520.1,938.5 L518.7,937.8 L517.6,937.7 L516.6,937.9 L515.5,937.7 L514.0,938.2 L512.8,937.4 L511.8,937.7 L510.4,938.1 L509.4,937.8 L508.0,938.8 L506.5,937.7 L505.0,937.8 L503.9,938.1 L502.6,937.6 L501.6,937.6 L500.4,937.7 L499.3,937.7 L498.2,937.9 L496.8,937.8 L495.4,937.7 L494.4,937.6 L493.1,937.6 L491.9,938.1 L490.8,938.5 L489.4,938.7 L488.0,937.6 L486.7,938.4 L485.7,937.2 L484.7,937.7 L483.4,937.9 L481.9,937.7 L480.9,937.4 L479.4,938.0 L478.2,937.6 L477.0,938.4 L475.7,937.7 L474.2,938.1 L473.2,938.1 L471.7,937.8 L470.3,937.6 L468.9,937.8 L467.6,937.6 L466.2,937.5 L464.8,938.3 L463.6,937.7 L462.2,939.3 L460.9,938.8 L459.9,937.5 L459.0,937.9 L457.9,938.2 L457.0,937.7 L456.0,937.8 L454.5,938.6 L453.2,938.0 L451.8,937.5 L450.8,938.1 L449.7,937.6 L448.5,937.6 L447.2,938.2 L446.0,937.5 L445.0,937.1 L443.6,937.7 L442.2,937.9 L441.2,937.7 L440.2,937.6 L438.9,937.4 L437.4,937.6 L436.1,939.0 L434.8,937.3 L433.5,937.9 L432.2,939.1 L431.0,938.1 L430.1,938.3 L429.0,937.7 L428.0,938.4 L426.6,937.9 L425.4,937.9 L424.2,938.8 L422.9,938.5 L421.7,937.6 L420.8,937.5 L419.6,937.9 L418.1,938.1 L417.0,938.4 L416.0,937.6 L414.8,937.6 L413.5,938.4 L412.4,937.9 L411.4,937.6 L410.2,937.6 L409.0,937.6 L408.0,938.7 L406.6,938.3 L405.7,937.3 L404.5,938.4 L403.5,937.5 L402.6,937.5 L401.3,937.7 L400.2,937.6 L399.2,938.3 L398.3,937.9 L397.3,937.6 L396.2,938.2 L395.2,937.4 L393.8,937.8 L392.9,937.2 L391.7,937.5 L390.5,938.4 L389.5,937.7 L388.2,938.1 L386.7,937.8 L385.4,939.1 L384.3,937.5 L382.9,938.1 L381.7,937.8 L380.7,937.6 L379.8,937.7 L378.7,937.3 L377.7,937.5 L376.5,937.5 L375.4,938.0 L374.0,937.5 L372.7,938.2 L371.3,938.3 L370.3,937.9 L368.9,938.8 L367.6,937.5 L366.2,937.8 L365.0,937.7 L363.7,938.2 L362.6,938.0 L361.5,937.8 L360.1,938.3 L359.1,938.2 L357.6,939.4 L356.6,937.5 L355.5,937.5 L354.0,937.4 L352.6,937.6 L351.4,937.8 L350.2,937.3 L348.9,938.1 L347.5,938.0 L346.0,937.3 L345.0,938.4 L344.0,939.4 L343.0,937.2 L341.9,938.7 L340.5,938.2 L339.5,937.5 L338.4,937.4 L337.2,938.0 L335.9,938.0 L334.8,937.3 L333.4,937.2 L332.2,937.4 L331.0,937.3 L329.5,937.1 L328.5,937.2 L327.5,937.2 L326.2,937.2 L325.0,938.4 L324.1,937.3 L322.8,937.4 L321.5,937.2 L320.0,938.1 L318.7,937.2 L317.7,937.3 L316.5,937.7 L315.1,938.9 L313.9,937.3 L312.5,937.0 L311.4,937.3 L310.2,937.3 L309.3,937.3 L307.8,936.9 L306.6,937.9 L305.7,937.1 L304.8,937.3 L303.7,937.7 L302.4,937.9 L301.2,936.6 L299.7,937.6 L298.6,937.0 L297.4,937.3 L296.4,937.1 L295.1,937.5 L294.0,938.2 L292.8,938.9 L291.9,936.8 L290.5,937.0 L289.0,938.2 L287.9,937.2 L286.4,936.9 L285.3,937.3 L284.2,937.0 L283.2,937.1 L282.0,938.2 L280.7,938.9 L279.7,937.4 L278.7,937.5 L277.5,936.7 L276.6,937.2 L275.6,936.9 L274.6,936.7 L273.1,937.1 L271.8,937.4 L270.9,936.5 L269.7,936.9 L268.6,937.4 L267.7,937.1 L266.6,937.6 L265.3,936.8 L264.2,936.8 L262.9,936.9 L261.9,936.8 L260.8,936.9 L259.3,937.5 L257.8,937.0 L256.7,936.9 L255.8,938.5 L254.8,936.9 L253.7,936.7 L252.4,936.6 L251.0,936.7 L249.9,937.0 L248.6,937.3 L247.4,937.5 L246.3,937.2 L244.9,936.5 L243.8,936.6 L242.3,937.5 L241.3,936.6 L240.2,936.4 L238.8,936.4 L237.4,936.5 L236.5,937.0 L235.0,936.8 L233.7,936.3 L232.3,936.4 L231.1,936.5 L229.9,937.1 L228.5,936.6 L227.4,936.6 L226.3,936.8 L225.1,936.8 L223.6,937.4 L222.2,936.3 L220.9,937.2 L219.8,936.2 L218.7,936.2 L217.3,936.7 L216.2,936.4 L214.9,936.4 L213.4,936.4 L212.3,936.5 L211.2,936.5 L209.9,935.6 L208.5,936.1 L207.3,935.6 L206.2,937.3 L204.9,936.2 L203.7,937.0 L202.8,936.7 L201.5,936.9 L200.1,936.2 L198.8,936.1 L197.6,936.0 L196.3,936.2 L195.3,935.6 L194.0,937.0 L192.6,936.4 L191.5,935.6 L190.4,936.7 L189.3,935.8 L188.4,936.0 L187.0,935.3 L185.8,938.5 L184.7,936.4 L183.5,937.3 L182.1,935.5 L181.0,935.3 L179.7,935.2 L178.7,935.6 L177.3,935.4 L175.9,935.1 L174.4,934.6 L173.5,935.7 L172.1,935.7 L171.0,934.7 L169.7,935.1 L168.7,936.0 L167.3,934.8 L166.0,935.2 L164.8,936.0 L163.3,935.7 L162.1,935.5 L160.7,935.5 L159.7,935.3 L158.6,937.0 L157.6,935.4 L156.6,934.4 L155.2,933.9 L154.1,934.3 L152.7,934.3 L151.4,935.2 L150.2,935.0 L149.1,934.2 L148.2,934.2 L147.2,934.6 L146.1,934.9 L144.7,935.8 L143.4,935.7 L142.0,934.7 L140.5,933.6 L139.1,933.7 L137.9,933.5 L136.7,934.3 L135.6,933.3 L134.1,933.2 L133.2,933.4 L131.7,933.3 L130.2,933.8 L128.8,934.4 L127.4,932.9 L126.1,933.5 L125.1,933.2 L123.9,933.7 L122.6,933.4 L121.5,932.5 L120.5,932.6 L119.1,932.6 L117.7,932.6 L116.6,932.0Z" fill="#b8499b" stroke="#b8499b" stroke-width="0.6" stroke-linejoin="round"/>
<path d="M274.0,937.5 Q276.9,935.0 276.8,927.0 L277.3,907.5 L278.2,905.0 L279.8,905.0 L280.7,907.5 L281.2,927.0 Q281.1,935.0 284.0,937.5 Z" fill="#b8499b"/>
<path d="M310.7,937.5 Q315.0,935.0 314.9,904.5 L316.2,766.5 L317.1,764.0 L318.9,764.0 L319.8,766.5 L321.1,904.5 Q321.0,935.0 325.3,937.5 Z" fill="#b8499b"/>
<path d="M368.5,937.5 Q371.2,935.0 371.1,931.0 L371.5,920.5 L372.4,918.0 L373.6,918.0 L374.5,920.5 L374.9,931.0 Q374.8,935.0 377.5,937.5 Z" fill="#b8499b"/>
</g>
<rect x="181.50" y="582.8" width="3.4" height="354.5" fill="#000"/>
<rect x="241.10" y="788.5" width="3.4" height="148.8" fill="#000"/>
<rect x="277.30" y="911.0" width="3.4" height="26.3" fill="#000"/>
<rect x="316.30" y="775.0" width="3.4" height="162.3" fill="#000"/>
<rect x="371.30" y="925.0" width="3.4" height="12.3" fill="#000"/>
<rect x="382.10" y="881.0" width="3.4" height="56.3" fill="#000"/>
<rect x="438.80" y="600.0" width="3.4" height="337.3" fill="#000"/>
<rect x="606.90" y="921.0" width="3.4" height="16.3" fill="#000"/>
<rect x="861.30" y="927.0" width="3.4" height="8.0" fill="#000"/>
<text transform="translate(104.2,533.3) scale(1.050,1)" font-size="24.5" text-anchor="end" fill="#111" stroke="#111" stroke-width="0.4">6000</text>
<text transform="translate(104.2,591.9) scale(1.050,1)" font-size="24.5" text-anchor="end" fill="#111" stroke="#111" stroke-width="0.4">5000</text>
<text transform="translate(104.2,661.7) scale(1.050,1)" font-size="24.5" text-anchor="end" fill="#111" stroke="#111" stroke-width="0.4">4000</text>
<text transform="translate(104.2,731.0) scale(1.050,1)" font-size="24.5" text-anchor="end" fill="#111" stroke="#111" stroke-width="0.4">3000</text>
<text transform="translate(104.2,800.2) scale(1.050,1)" font-size="24.5" text-anchor="end" fill="#111" stroke="#111" stroke-width="0.4">2000</text>
<text transform="translate(104.2,869.7) scale(1.050,1)" font-size="24.5" text-anchor="end" fill="#111" stroke="#111" stroke-width="0.4">1000</text>
<text transform="translate(95.0,947.7) scale(1.050,1)" font-size="24.5" text-anchor="middle" fill="#111" stroke="#111" stroke-width="0.4">0</text>
<text transform="translate(238.3,968.6) scale(1.065,1)" font-size="24.3" text-anchor="middle" fill="#111" stroke="#111" stroke-width="0.4">30000</text>
<text transform="translate(366.5,968.6) scale(1.065,1)" font-size="24.3" text-anchor="middle" fill="#111" stroke="#111" stroke-width="0.4">40000</text>
<text transform="translate(493.6,968.6) scale(1.065,1)" font-size="24.3" text-anchor="middle" fill="#111" stroke="#111" stroke-width="0.4">50000</text>
<text transform="translate(620.3,968.6) scale(1.065,1)" font-size="24.3" text-anchor="middle" fill="#111" stroke="#111" stroke-width="0.4">60000</text>
<text transform="translate(740.2,968.6) scale(1.065,1)" font-size="24.3" text-anchor="middle" fill="#111" stroke="#111" stroke-width="0.4">70000</text>
<text transform="translate(847.3,968.6) scale(1.065,1)" font-size="24.3" text-anchor="middle" fill="#111" stroke="#111" stroke-width="0.4">80000</text>
<text transform="translate(555.0,1006.0) scale(1.030,1)" font-size="38" text-anchor="middle" fill="#111" stroke="#111" stroke-width="0.4">sin</text>
<text transform="translate(27.8,724.5) rotate(-90) scale(0.920,1)" font-size="38.5" text-anchor="middle" fill="#111" stroke="#111" stroke-width="0.4">cps</text>
<text transform="translate(862.8,556.7) scale(1.076,1)" font-size="37.6" text-anchor="end" fill="#1a1a1a" stroke="#1a1a1a" stroke-width="0.4">Nummulites</text>
<text transform="translate(187.0,579.0) scale(1.050,1)" font-size="24.5" text-anchor="middle" fill="#111" stroke="#111" stroke-width="0.4">SiKa</text>
<text transform="translate(439.5,598.0) scale(1.050,1)" font-size="24.5" text-anchor="middle" fill="#111" stroke="#111" stroke-width="0.4">FeKa</text>
<text transform="translate(245.0,732.0) scale(1.050,1)" font-size="24.5" text-anchor="middle" fill="#111" stroke="#111" stroke-width="0.4">AlKa</text>
<text transform="translate(317.6,763.0) scale(1.050,1)" font-size="24.5" text-anchor="middle" fill="#111" stroke="#111" stroke-width="0.4">CaKa</text>
<text transform="translate(388.0,870.0) scale(1.050,1)" font-size="24.5" text-anchor="middle" fill="#111" stroke="#111" stroke-width="0.4">FeKb</text>
<text transform="translate(476.6,866.0) scale(1.050,1)" font-size="24.5" text-anchor="middle" fill="#111" stroke="#111" stroke-width="0.4">FeKa</text>
<text transform="translate(280.5,897.0) scale(1.050,1)" font-size="24.5" text-anchor="middle" fill="#111" stroke="#111" stroke-width="0.4">CaKb</text>
<text transform="translate(372.8,917.0) scale(1.050,1)" font-size="24.5" text-anchor="middle" fill="#111" stroke="#111" stroke-width="0.4">K Ka</text>
<text transform="translate(609.6,920.0) scale(1.050,1)" font-size="24.5" text-anchor="middle" fill="#111" stroke="#111" stroke-width="0.4">S Ka</text>
<text transform="translate(847.0,917.0) scale(1.050,1)" font-size="24.5" text-anchor="middle" fill="#111" stroke="#111" stroke-width="0.4">SiKa</text>
<rect x="1009.7" y="518.9" width="738.4" height="413.1" fill="none" stroke="#000" stroke-width="2.8"/>
<clipPath id="c4"><rect x="1008.3000000000001" y="517.5" width="739.8" height="421.1"/></clipPath>
<g clip-path="url(#c4)">
<path d="M1011.3,929.1 L1012.6,930.5 L1013.9,929.8 L1015.3,925.9 L1016.7,929.6 L1018.6,927.0 L1019.9,929.6 L1021.5,929.8 L1023.4,930.0 L1024.7,930.1 L1026.4,929.5 L1028.4,928.7 L1029.9,930.1 L1031.8,928.8 L1033.5,929.3 L1034.7,929.9 L1036.7,927.8 L1038.2,926.9 L1039.6,929.8 L1041.0,928.9 L1042.5,929.6 L1043.9,928.9 L1045.2,927.4 L1046.5,930.6 L1048.1,929.3 L1049.5,926.8 L1050.9,929.5 L1052.2,925.4 L1053.7,927.3 L1055.3,928.5 L1057.3,930.1 L1059.1,930.6 L1061.1,928.9 L1062.8,925.8 L1064.5,928.6 L1066.3,927.5 L1067.5,929.0 L1069.4,930.9 L1070.9,927.2 L1072.1,927.3 L1073.8,928.6 L1075.0,927.9 L1076.5,929.4 L1078.5,929.0 L1080.1,930.9 L1082.0,929.2 L1083.8,927.9 L1085.4,930.2 L1086.6,930.1 L1088.2,928.6 L1090.0,927.3 L1091.5,928.1 L1093.4,929.3 L1095.2,930.4 L1096.5,929.4 L1098.2,930.4 L1100.1,928.8 L1101.3,925.6 L1103.2,928.9 L1104.9,927.1 L1106.6,930.4 L1108.0,928.3 L1109.8,930.1 L1111.8,928.5 L1113.2,930.0 L1115.0,930.4 L1116.3,925.6 L1118.0,930.1 L1119.9,927.6 L1121.3,929.0 L1123.0,928.7 L1124.3,928.5 L1126.3,930.3 L1128.0,926.6 L1129.7,930.1 L1131.6,930.3 L1133.0,930.7 L1134.5,930.2 L1136.5,929.5 L1137.9,930.7 L1139.7,927.4 L1141.2,928.2 L1142.9,928.8 L1144.6,927.7 L1146.3,930.5 L1148.2,927.3 L1150.0,930.7 L1151.2,930.3 L1152.6,929.9 L1154.4,926.7 L1155.6,928.8 L1157.4,928.3 L1159.3,930.2 L1161.0,928.5 L1162.9,930.4 L1164.4,930.0 L1165.8,930.1 L1167.3,930.5 L1168.7,930.5 L1170.0,929.2 L1171.9,930.8 L1173.4,931.9 L1175.3,926.9 L1177.0,929.7 L1178.8,927.5 L1180.0,930.4 L1181.5,929.2 L1183.5,931.4 L1185.2,930.8 L1186.5,930.9 L1188.3,927.6 L1189.7,930.1 L1191.2,930.8 L1192.7,928.3 L1194.5,930.4 L1196.0,930.4 L1197.5,930.6 L1199.4,930.3 L1201.0,928.8 L1202.3,930.8 L1203.6,931.2 L1204.9,930.4 L1206.3,930.8 L1208.2,930.3 L1209.7,929.6 L1211.6,931.7 L1213.3,927.5 L1215.2,929.8 L1216.5,931.4 L1217.9,930.8 L1219.4,928.4 L1220.7,930.5 L1222.1,928.1 L1224.1,921.3 L1225.5,930.9 L1227.2,930.8 L1228.5,930.6 L1229.9,930.6 L1231.6,926.9 L1233.3,930.8 L1234.9,930.8 L1236.5,930.8 L1237.8,928.1 L1239.4,930.6 L1240.9,929.9 L1242.6,930.8 L1244.5,930.1 L1245.7,930.3 L1247.0,930.3 L1248.6,930.4 L1249.9,930.3 L1251.7,931.7 L1253.4,929.0 L1255.0,928.9 L1256.3,930.9 L1257.6,931.2 L1259.0,930.9 L1260.3,927.7 L1262.1,931.2 L1263.8,929.3 L1265.7,931.0 L1267.3,929.4 L1269.1,926.6 L1270.9,931.3 L1272.4,930.5 L1274.4,930.1 L1276.2,930.8 L1278.1,930.5 L1279.5,930.8 L1281.4,930.5 L1282.7,929.3 L1283.9,929.0 L1285.3,930.3 L1286.5,929.5 L1288.1,930.9 L1290.0,930.9 L1291.3,929.6 L1292.8,930.2 L1294.1,929.2 L1295.9,929.5 L1297.8,929.8 L1299.7,931.5 L1301.1,930.9 L1302.7,929.6 L1304.1,929.9 L1305.6,931.2 L1307.5,930.7 L1309.0,929.0 L1310.9,929.5 L1312.8,929.0 L1314.4,929.5 L1316.4,929.7 L1317.6,929.9 L1318.9,929.9 L1320.5,931.0 L1322.3,930.9 L1324.1,927.9 L1326.1,929.3 L1327.8,929.6 L1329.1,930.8 L1330.7,930.7 L1332.4,926.8 L1333.8,930.4 L1335.6,930.4 L1337.1,930.8 L1338.7,929.4 L1340.4,929.2 L1341.7,930.5 L1343.5,928.6 L1345.3,930.7 L1346.8,931.9 L1348.1,931.3 L1350.0,929.3 L1351.8,930.8 L1353.3,930.6 L1354.8,930.6 L1356.7,930.7 L1358.6,931.1 L1360.4,931.0 L1362.1,931.1 L1363.9,930.8 L1365.4,931.4 L1367.1,931.2 L1368.8,931.8 L1370.4,930.9 L1372.2,928.7 L1373.6,929.7 L1375.0,930.6 L1376.5,930.0 L1377.8,930.8 L1379.4,931.1 L1380.7,930.8 L1382.4,930.8 L1384.0,929.7 L1385.7,930.3 L1387.1,930.4 L1388.9,928.3 L1390.5,930.7 L1391.9,930.3 L1393.1,930.1 L1394.8,930.0 L1396.5,930.8 L1398.5,931.6 L1399.7,928.6 L1401.2,930.8 L1403.1,931.4 L1404.7,931.4 L1406.4,930.9 L1408.2,931.0 L1409.6,931.0 L1411.0,930.5 L1412.3,930.7 L1413.9,929.5 L1415.6,929.4 L1417.4,930.6 L1419.2,928.3 L1420.8,930.8 L1422.0,931.2 L1423.9,930.7 L1425.5,930.6 L1427.5,931.4 L1428.7,929.5 L1430.4,931.0 L1432.2,930.9 L1433.5,930.9 L1435.3,929.0 L1437.1,930.1 L1438.9,931.0 L1440.2,930.3 L1441.6,930.6 L1443.1,929.7 L1444.7,930.4 L1446.2,929.7 L1448.0,929.3 L1449.8,929.8 L1451.6,928.9 L1452.9,930.9 L1454.3,930.6 L1455.7,930.6 L1457.0,930.5 L1458.8,928.8 L1460.1,930.2 L1461.8,931.2 L1463.1,928.6 L1464.7,929.7 L1466.4,931.1 L1468.2,930.5 L1469.5,931.3 L1471.2,930.0 L1472.5,931.0 L1473.9,931.0 L1475.3,929.6 L1476.6,930.9 L1478.1,928.6 L1480.1,931.0 L1482.0,928.0 L1483.6,931.5 L1485.3,929.5 L1487.0,931.0 L1488.8,930.9 L1490.6,928.4 L1492.5,929.9 L1494.4,929.0 L1496.1,931.1 L1497.8,929.5 L1499.2,930.0 L1500.7,930.8 L1502.3,930.3 L1503.7,930.3 L1505.2,931.0 L1506.8,931.3 L1508.0,930.0 L1509.9,930.3 L1511.6,930.3 L1513.0,929.3 L1514.5,927.9 L1516.4,930.8 L1518.2,930.7 L1520.1,931.0 L1521.5,931.1 L1523.4,930.8 L1525.0,929.9 L1527.0,931.2 L1528.5,930.9 L1529.8,931.4 L1531.3,928.5 L1533.1,930.8 L1534.6,930.8 L1536.1,930.7 L1537.4,930.2 L1539.3,929.7 L1541.1,928.7 L1542.5,931.2 L1544.5,929.4 L1546.2,929.1 L1547.5,930.9 L1549.2,931.1 L1550.8,930.9 L1552.3,929.2 L1553.7,929.5 L1555.5,931.0 L1557.0,931.6 L1558.3,931.2 L1560.2,930.8 L1561.5,929.5 L1562.8,930.3 L1564.4,931.2 L1566.4,930.9 L1567.7,929.8 L1569.7,932.0 L1571.0,930.0 L1572.4,930.2 L1573.6,929.2 L1575.5,927.4 L1577.0,930.8 L1578.7,930.8 L1580.5,929.7 L1582.4,931.6 L1584.0,930.4 L1585.5,931.0 L1587.1,931.1 L1588.6,931.5 L1590.3,930.5 L1591.5,930.3 L1593.1,930.7 L1594.5,930.0 L1596.4,928.5 L1598.0,930.0 L1599.8,930.2 L1601.2,930.3 L1602.8,930.3 L1604.5,930.0 L1606.4,930.8 L1608.3,929.7 L1610.0,930.0 L1611.5,928.8 L1613.2,930.8 L1615.2,931.0 L1616.4,930.7 L1618.1,928.6 L1619.4,930.8 L1621.0,930.8 L1622.8,930.2 L1624.3,930.3 L1626.2,931.1 L1628.2,929.0 L1629.5,930.7 L1630.9,930.1 L1632.4,930.5 L1633.6,931.6 L1635.5,929.8 L1636.9,932.0 L1638.9,929.6 L1640.3,930.9 L1641.6,930.8 L1642.9,929.4 L1644.8,930.8 L1646.2,930.3 L1647.6,931.5 L1649.3,929.9 L1651.0,930.6 L1652.2,929.9 L1653.7,930.6 L1655.2,930.8 L1656.6,931.0 L1658.3,931.1 L1660.2,929.7 L1661.5,928.9 L1662.8,930.7 L1664.3,931.2 L1665.5,930.6 L1667.4,931.0 L1668.7,931.0 L1670.5,929.6 L1671.8,928.5 L1673.4,929.8 L1674.7,930.8 L1676.0,930.8 L1677.3,930.9 L1678.9,930.8 L1680.5,930.5 L1682.0,929.6 L1683.3,927.8 L1684.8,931.2 L1686.6,930.4 L1688.6,931.1 L1690.2,927.5 L1691.6,929.9 L1692.9,931.4 L1694.3,929.0 L1695.9,930.4 L1697.3,931.2 L1698.8,930.9 L1700.2,930.8 L1701.5,931.2 L1703.1,929.8 L1704.4,929.7 L1706.0,929.7 L1707.4,930.4 L1708.9,930.9 L1710.8,929.5 L1712.8,929.3 L1714.7,930.9 L1715.9,931.2 L1717.5,930.8 L1719.3,931.4 L1720.6,930.7 L1722.2,930.0 L1724.2,929.4 L1726.0,930.4 L1727.3,930.7 L1729.1,930.8 L1730.5,929.1 L1732.3,930.4 L1733.8,930.6 L1735.6,930.7 L1737.6,930.8 L1738.9,931.0 L1740.6,930.6 L1742.3,930.5 L1743.7,931.0 L1745.5,930.5 L1745.8,932.9 L1744.0,932.5 L1742.6,931.7 L1740.9,931.8 L1739.2,931.6 L1737.9,931.7 L1735.9,933.0 L1734.1,932.3 L1732.6,931.7 L1730.8,931.5 L1729.4,931.5 L1727.6,931.6 L1726.3,932.8 L1724.5,931.8 L1722.5,932.8 L1720.9,931.6 L1719.6,931.6 L1717.8,932.1 L1716.2,932.6 L1715.0,931.7 L1713.1,931.9 L1711.1,931.6 L1709.2,932.3 L1707.7,931.8 L1706.3,931.8 L1704.7,931.7 L1703.4,931.6 L1701.8,932.4 L1700.5,931.7 L1699.1,931.5 L1697.6,931.7 L1696.2,932.8 L1694.6,931.4 L1693.2,931.8 L1691.9,932.1 L1690.5,932.8 L1688.9,932.0 L1686.9,931.4 L1685.1,933.2 L1683.6,931.8 L1682.3,932.3 L1680.8,931.5 L1679.2,931.3 L1677.6,932.8 L1676.3,931.4 L1675.0,931.6 L1673.7,932.5 L1672.1,931.5 L1670.8,931.8 L1669.0,932.4 L1667.7,931.6 L1665.8,931.7 L1664.6,932.9 L1663.1,931.6 L1661.8,932.2 L1660.5,931.7 L1658.6,931.4 L1656.9,931.7 L1655.5,931.4 L1654.0,932.8 L1652.5,932.2 L1651.3,932.3 L1649.6,931.8 L1647.9,931.8 L1646.5,931.5 L1645.1,931.6 L1643.2,931.6 L1641.9,931.8 L1640.6,931.7 L1639.2,933.0 L1637.2,931.6 L1635.8,933.9 L1633.9,931.8 L1632.7,931.4 L1631.2,931.6 L1629.8,931.5 L1628.5,931.9 L1626.5,932.6 L1624.6,931.6 L1623.1,931.8 L1621.3,931.9 L1619.7,931.6 L1618.4,931.7 L1616.7,931.7 L1615.5,931.7 L1613.5,932.5 L1611.8,932.5 L1610.3,932.6 L1608.6,932.2 L1606.7,931.8 L1604.8,931.7 L1603.1,931.7 L1601.5,931.6 L1600.1,931.7 L1598.3,932.2 L1596.7,932.4 L1594.8,931.5 L1593.4,931.5 L1591.8,931.9 L1590.6,931.6 L1588.9,932.0 L1587.4,932.6 L1585.8,932.1 L1584.3,932.7 L1582.7,932.0 L1580.8,931.4 L1579.0,932.2 L1577.3,932.3 L1575.8,932.4 L1573.9,933.2 L1572.7,931.9 L1571.3,932.5 L1570.0,933.4 L1568.0,933.0 L1566.7,932.5 L1564.7,931.6 L1563.1,931.6 L1561.8,931.5 L1560.5,931.4 L1558.6,931.8 L1557.3,931.6 L1555.8,931.8 L1554.0,931.5 L1552.6,931.7 L1551.1,932.1 L1549.5,932.0 L1547.8,931.7 L1546.5,932.1 L1544.8,932.9 L1542.8,931.7 L1541.4,931.5 L1539.6,931.7 L1537.7,932.4 L1536.4,931.4 L1534.9,931.8 L1533.4,932.9 L1531.6,931.4 L1530.1,932.1 L1528.8,932.0 L1527.3,931.8 L1525.3,931.7 L1523.7,932.7 L1521.8,931.5 L1520.4,931.8 L1518.5,931.6 L1516.7,932.4 L1514.8,931.6 L1513.3,931.6 L1511.9,931.4 L1510.2,931.5 L1508.3,931.5 L1507.1,932.1 L1505.5,931.7 L1504.0,933.4 L1502.6,932.8 L1501.0,932.3 L1499.5,931.8 L1498.1,931.8 L1496.4,931.8 L1494.7,932.5 L1492.8,931.3 L1490.9,931.1 L1489.1,932.5 L1487.3,932.5 L1485.6,932.3 L1483.9,933.1 L1482.3,931.6 L1480.4,931.4 L1478.4,931.7 L1476.9,932.6 L1475.6,932.3 L1474.2,932.3 L1472.8,931.5 L1471.5,931.3 L1469.8,932.4 L1468.5,932.8 L1466.7,931.8 L1465.0,931.8 L1463.4,934.5 L1462.1,932.1 L1460.4,931.6 L1459.1,932.5 L1457.3,931.8 L1456.0,932.2 L1454.6,932.1 L1453.2,931.7 L1451.9,932.9 L1450.1,931.5 L1448.3,931.7 L1446.5,931.8 L1445.0,931.8 L1443.4,932.1 L1441.9,932.6 L1440.5,931.7 L1439.2,933.2 L1437.4,933.1 L1435.6,932.9 L1433.8,932.0 L1432.5,933.1 L1430.7,932.8 L1429.0,932.8 L1427.8,931.9 L1425.8,931.6 L1424.2,932.6 L1422.3,932.2 L1421.1,933.5 L1419.5,931.3 L1417.7,932.5 L1415.9,933.1 L1414.2,932.7 L1412.6,931.4 L1411.3,933.2 L1409.9,932.2 L1408.5,932.9 L1406.7,931.5 L1405.0,931.6 L1403.4,931.6 L1401.5,931.4 L1400.0,931.8 L1398.8,931.4 L1396.8,931.9 L1395.1,931.7 L1393.4,932.2 L1392.2,932.1 L1390.8,932.7 L1389.2,931.3 L1387.4,931.7 L1386.0,932.0 L1384.3,931.7 L1382.7,933.0 L1381.0,931.6 L1379.7,932.0 L1378.1,932.5 L1376.8,931.8 L1375.3,933.0 L1373.9,931.7 L1372.5,931.5 L1370.7,931.5 L1369.1,931.3 L1367.4,933.1 L1365.7,931.7 L1364.2,933.1 L1362.4,932.2 L1360.7,931.8 L1358.9,931.8 L1357.0,933.7 L1355.1,932.2 L1353.6,932.7 L1352.1,930.6 L1350.3,931.3 L1348.4,932.7 L1347.1,931.8 L1345.6,934.8 L1343.8,932.9 L1342.0,931.6 L1340.7,931.7 L1339.0,932.6 L1337.4,932.4 L1335.9,931.7 L1334.1,931.7 L1332.7,932.1 L1331.0,931.6 L1329.4,933.0 L1328.1,932.7 L1326.4,932.3 L1324.4,931.4 L1322.6,931.9 L1320.8,933.6 L1319.2,932.6 L1317.9,933.3 L1316.7,931.8 L1314.7,931.6 L1313.1,931.8 L1311.2,933.4 L1309.3,932.5 L1307.8,931.8 L1305.9,931.7 L1304.4,931.1 L1303.0,931.6 L1301.4,931.6 L1300.0,931.7 L1298.1,932.1 L1296.2,931.4 L1294.4,931.5 L1293.1,932.5 L1291.6,931.6 L1290.3,933.0 L1288.4,932.8 L1286.8,935.1 L1285.6,931.7 L1284.2,932.2 L1283.0,931.3 L1281.7,932.1 L1279.8,931.7 L1278.4,931.4 L1276.5,932.8 L1274.7,931.3 L1272.7,933.4 L1271.2,932.1 L1269.4,933.2 L1267.6,931.6 L1266.0,931.5 L1264.1,931.6 L1262.4,932.4 L1260.6,931.5 L1259.3,931.2 L1257.9,932.2 L1256.6,932.3 L1255.3,931.7 L1253.7,931.8 L1252.0,931.5 L1250.2,931.8 L1248.9,931.5 L1247.3,934.5 L1246.0,931.8 L1244.8,932.6 L1242.9,933.7 L1241.2,932.9 L1239.7,932.6 L1238.1,931.7 L1236.8,931.5 L1235.2,931.7 L1233.6,932.2 L1231.9,932.9 L1230.2,932.5 L1228.8,932.0 L1227.5,931.5 L1225.8,931.8 L1224.4,930.7 L1222.4,931.2 L1221.0,932.0 L1219.7,931.8 L1218.2,931.1 L1216.8,932.1 L1215.5,931.4 L1213.6,932.4 L1211.9,931.3 L1210.0,931.6 L1208.5,932.8 L1206.6,933.1 L1205.2,932.9 L1203.9,933.3 L1202.6,931.5 L1201.3,931.6 L1199.7,931.5 L1197.8,933.7 L1196.3,931.5 L1194.8,930.3 L1193.0,931.8 L1191.5,933.1 L1190.0,933.2 L1188.6,931.3 L1186.8,932.0 L1185.5,931.2 L1183.8,931.0 L1181.8,931.8 L1180.3,932.7 L1179.1,932.1 L1177.3,931.7 L1175.6,933.7 L1173.7,932.7 L1172.2,931.2 L1170.3,931.8 L1169.0,934.2 L1167.6,931.4 L1166.1,931.5 L1164.7,932.0 L1163.2,933.5 L1161.3,932.0 L1159.6,931.2 L1157.7,932.1 L1155.9,931.0 L1154.7,933.9 L1152.9,932.2 L1151.5,931.4 L1150.3,931.5 L1148.5,931.3 L1146.6,934.1 L1144.9,932.2 L1143.2,931.6 L1141.5,931.3 L1140.0,931.8 L1138.2,931.7 L1136.8,932.4 L1134.8,932.1 L1133.3,932.9 L1131.9,931.8 L1130.0,931.4 L1128.3,931.6 L1126.6,934.2 L1124.6,932.0 L1123.3,931.7 L1121.6,931.7 L1120.2,931.4 L1118.3,932.3 L1116.6,933.1 L1115.3,931.6 L1113.5,931.9 L1112.1,931.6 L1110.1,932.6 L1108.3,931.6 L1106.9,931.3 L1105.2,931.6 L1103.5,931.7 L1101.6,932.2 L1100.4,933.4 L1098.5,933.2 L1096.8,931.6 L1095.5,933.2 L1093.7,931.3 L1091.8,931.6 L1090.3,931.8 L1088.5,932.2 L1086.9,933.3 L1085.7,933.1 L1084.1,934.0 L1082.3,932.8 L1080.4,932.8 L1078.8,932.2 L1076.8,931.5 L1075.3,931.2 L1074.1,932.7 L1072.4,932.2 L1071.2,931.4 L1069.7,931.6 L1067.8,931.7 L1066.6,931.7 L1064.8,932.1 L1063.1,932.6 L1061.4,931.8 L1059.4,931.7 L1057.6,933.4 L1055.6,932.3 L1054.0,931.5 L1052.5,932.8 L1051.2,932.7 L1049.8,930.8 L1048.4,933.2 L1046.8,931.7 L1045.5,932.2 L1044.2,932.0 L1042.8,932.4 L1041.3,931.8 L1039.9,932.0 L1038.5,931.6 L1037.0,931.9 L1035.0,931.0 L1033.8,933.0 L1032.1,932.1 L1030.2,933.6 L1028.7,933.1 L1026.7,933.5 L1025.0,936.5 L1023.7,931.8 L1021.8,934.7 L1020.2,931.9 L1018.9,932.8 L1017.0,933.6 L1015.6,931.5 L1014.2,931.7 L1012.9,933.6 L1011.6,932.5Z" fill="#2f54a4" stroke="#2f54a4" stroke-width="0.6" stroke-linejoin="round"/>
<path d="M1011.3,927.0 L1012.6,927.1 L1014.3,928.0 L1016.0,928.3 L1017.8,928.9 L1019.3,928.1 L1020.5,928.5 L1021.8,930.0 L1023.1,928.7 L1024.7,926.2 L1026.0,928.7 L1027.2,929.7 L1028.8,929.0 L1030.5,925.2 L1031.8,929.7 L1033.2,928.3 L1034.6,928.5 L1036.4,928.8 L1038.0,929.2 L1039.5,928.8 L1041.1,925.9 L1042.6,929.5 L1044.2,924.2 L1045.6,928.6 L1047.4,929.9 L1049.0,925.3 L1050.2,928.7 L1051.9,927.2 L1053.4,928.9 L1054.8,930.3 L1056.4,929.4 L1057.6,929.2 L1058.9,929.1 L1060.5,926.2 L1062.3,926.3 L1064.1,928.6 L1065.3,929.3 L1066.5,929.0 L1068.1,928.0 L1069.2,926.2 L1070.9,925.3 L1072.6,927.6 L1074.2,929.8 L1075.8,927.6 L1077.5,924.4 L1078.7,928.6 L1080.1,929.9 L1081.6,926.2 L1082.9,929.2 L1084.5,929.9 L1085.9,928.5 L1087.8,928.2 L1089.0,928.9 L1090.5,925.1 L1092.2,927.6 L1093.5,928.2 L1095.3,928.2 L1096.6,927.4 L1098.1,926.8 L1099.4,928.5 L1101.1,928.7 L1102.4,925.7 L1103.7,928.4 L1105.1,925.0 L1106.5,929.3 L1108.3,927.8 L1109.7,926.4 L1111.4,925.8 L1113.1,927.5 L1114.5,923.0 L1116.4,929.2 L1117.7,928.5 L1118.9,928.6 L1120.3,928.0 L1121.7,929.3 L1123.1,928.8 L1124.7,929.0 L1126.1,927.4 L1127.4,928.1 L1129.3,929.5 L1130.5,929.8 L1132.2,928.7 L1133.7,930.7 L1135.3,929.3 L1136.8,927.5 L1138.2,925.0 L1140.0,928.4 L1141.8,927.7 L1143.4,928.5 L1145.2,928.9 L1146.5,924.7 L1147.7,929.0 L1149.1,927.7 L1150.8,926.5 L1152.2,927.6 L1153.8,928.5 L1155.7,925.7 L1157.3,929.3 L1158.7,926.7 L1159.9,927.0 L1161.1,927.7 L1162.8,928.1 L1164.3,927.2 L1165.6,930.1 L1167.0,924.3 L1168.2,928.0 L1169.9,929.1 L1171.5,929.0 L1172.8,926.0 L1174.1,926.2 L1175.8,927.7 L1177.6,927.8 L1179.2,921.6 L1180.4,928.6 L1182.2,927.6 L1183.6,930.2 L1185.2,930.1 L1186.4,926.9 L1188.2,929.3 L1189.7,928.1 L1191.2,927.9 L1192.8,924.9 L1194.1,926.0 L1195.8,928.7 L1197.0,924.1 L1198.8,924.7 L1200.5,927.1 L1201.7,927.4 L1203.3,926.1 L1204.9,930.4 L1206.1,928.2 L1207.6,919.9 L1208.8,929.2 L1210.2,929.5 L1211.9,928.0 L1213.1,928.6 L1214.6,928.8 L1215.8,927.2 L1217.3,928.7 L1218.7,928.3 L1219.9,928.2 L1221.3,928.7 L1223.0,923.5 L1224.3,924.1 L1225.8,928.3 L1227.4,928.6 L1228.8,924.1 L1230.0,925.3 L1231.7,928.6 L1233.1,923.9 L1234.9,927.8 L1236.2,929.6 L1237.5,928.9 L1239.1,929.2 L1241.0,928.4 L1242.3,928.7 L1244.1,924.2 L1245.3,922.7 L1246.4,928.9 L1247.8,925.7 L1249.5,926.4 L1250.9,930.0 L1252.6,929.0 L1253.8,930.1 L1255.6,930.1 L1257.1,926.7 L1258.7,924.2 L1260.1,928.7 L1261.9,927.0 L1263.7,929.0 L1264.9,928.2 L1266.2,929.2 L1267.4,929.0 L1268.8,929.3 L1270.5,925.1 L1271.7,927.8 L1273.5,928.9 L1274.7,926.8 L1276.3,929.7 L1277.8,929.3 L1279.1,928.4 L1280.9,924.9 L1282.8,923.5 L1284.2,928.6 L1285.3,925.3 L1286.7,925.3 L1288.4,929.0 L1289.8,928.9 L1291.5,925.7 L1293.1,929.1 L1294.9,927.0 L1296.3,926.2 L1297.4,929.4 L1299.0,928.8 L1300.3,928.2 L1301.6,928.6 L1303.4,926.9 L1304.6,929.4 L1305.9,929.0 L1307.6,929.2 L1309.2,926.6 L1310.9,927.2 L1312.2,929.6 L1313.4,927.8 L1314.6,928.6 L1316.3,929.5 L1317.5,924.8 L1319.1,929.1 L1320.4,927.5 L1322.2,928.9 L1323.8,928.9 L1325.2,928.1 L1326.4,927.5 L1328.0,929.1 L1329.5,928.0 L1330.9,929.8 L1332.7,929.2 L1334.4,928.6 L1335.6,928.4 L1337.3,928.0 L1338.7,926.6 L1340.4,928.6 L1342.1,926.8 L1343.5,927.2 L1344.8,929.3 L1346.2,926.4 L1348.0,928.8 L1349.2,928.8 L1350.8,929.7 L1352.5,929.5 L1354.0,929.7 L1355.6,925.3 L1357.1,925.5 L1358.8,923.9 L1359.9,929.1 L1361.1,929.5 L1362.3,926.8 L1363.7,928.7 L1365.1,928.6 L1366.8,925.0 L1368.2,928.9 L1369.5,927.8 L1370.9,926.8 L1372.5,927.1 L1374.0,924.8 L1375.8,928.6 L1377.0,924.5 L1378.2,929.1 L1379.7,928.9 L1381.1,925.1 L1382.5,927.7 L1384.4,923.9 L1385.9,928.4 L1387.4,927.9 L1389.1,929.3 L1390.7,929.3 L1392.3,926.9 L1393.8,929.5 L1395.1,929.6 L1397.0,929.1 L1398.1,929.6 L1399.5,926.2 L1401.2,928.7 L1402.3,926.8 L1403.5,928.1 L1405.4,929.2 L1407.1,928.8 L1408.5,931.4 L1410.2,929.0 L1411.4,927.9 L1413.2,929.2 L1414.8,929.0 L1416.1,927.3 L1417.8,929.1 L1419.3,927.9 L1420.9,929.7 L1422.7,927.9 L1424.3,926.7 L1425.7,926.7 L1427.1,928.7 L1428.4,925.0 L1430.0,929.1 L1431.3,929.1 L1432.8,927.0 L1434.5,929.2 L1436.1,926.8 L1437.8,929.2 L1439.1,926.0 L1440.6,928.3 L1442.2,929.2 L1444.0,929.3 L1445.7,929.4 L1447.0,929.5 L1448.9,927.7 L1450.4,927.6 L1451.8,929.4 L1453.4,929.1 L1454.8,927.1 L1456.4,926.8 L1458.2,923.2 L1459.4,927.1 L1461.0,929.6 L1462.7,928.9 L1464.1,928.3 L1465.9,929.3 L1467.6,925.3 L1468.8,928.7 L1470.2,929.3 L1471.4,929.5 L1472.9,929.6 L1474.0,928.3 L1475.1,927.9 L1477.0,928.1 L1478.3,926.7 L1479.9,928.4 L1481.2,929.5 L1482.6,926.8 L1484.4,929.1 L1485.6,926.7 L1487.4,930.7 L1489.2,928.1 L1490.5,926.2 L1492.3,926.2 L1494.0,928.2 L1495.2,929.3 L1496.7,928.9 L1498.5,928.2 L1500.3,928.7 L1501.6,928.9 L1503.3,929.1 L1505.1,929.4 L1506.9,927.7 L1508.2,929.1 L1510.0,928.7 L1511.7,928.1 L1513.6,929.4 L1515.3,928.6 L1516.5,928.6 L1518.2,928.6 L1519.7,927.5 L1520.9,929.2 L1522.2,924.5 L1523.6,927.6 L1525.1,928.6 L1526.8,930.3 L1528.0,928.7 L1529.8,930.2 L1531.4,928.5 L1533.2,925.0 L1534.9,926.4 L1536.3,928.6 L1537.4,929.2 L1539.2,928.4 L1540.4,927.7 L1542.0,927.0 L1543.4,929.1 L1545.0,929.9 L1546.3,930.3 L1547.8,928.1 L1549.5,928.2 L1550.7,929.1 L1552.0,927.8 L1553.5,928.4 L1555.0,926.4 L1556.7,928.8 L1558.5,925.0 L1560.2,929.6 L1561.8,929.0 L1563.3,929.6 L1564.8,928.9 L1566.0,927.0 L1567.7,929.5 L1569.3,929.6 L1570.7,926.8 L1572.1,928.7 L1573.4,925.8 L1574.9,929.0 L1576.6,928.6 L1578.1,927.2 L1579.5,929.2 L1581.3,927.5 L1582.6,926.5 L1584.4,928.8 L1585.6,928.8 L1587.4,926.4 L1589.0,928.9 L1590.4,928.5 L1592.0,928.5 L1593.6,926.2 L1594.9,928.8 L1596.5,926.9 L1597.6,929.8 L1599.1,925.2 L1601.0,928.6 L1602.1,928.1 L1603.5,923.9 L1604.9,929.1 L1606.3,929.4 L1608.2,928.0 L1609.7,926.8 L1611.4,928.9 L1613.2,927.2 L1615.0,925.8 L1616.2,928.8 L1617.6,928.1 L1619.2,929.5 L1620.6,928.8 L1621.9,929.5 L1623.3,927.3 L1624.8,928.8 L1626.6,924.7 L1627.8,928.9 L1629.2,926.9 L1630.4,925.6 L1631.6,929.1 L1633.3,925.3 L1635.0,928.8 L1636.7,929.5 L1638.0,929.0 L1639.6,929.4 L1641.1,928.6 L1642.6,929.6 L1644.2,928.2 L1646.0,928.6 L1647.3,925.3 L1648.5,927.3 L1650.1,926.5 L1651.5,928.9 L1652.9,928.9 L1654.1,928.4 L1655.4,930.2 L1657.1,929.6 L1658.8,929.9 L1660.1,929.0 L1661.7,930.2 L1662.8,929.2 L1664.2,929.2 L1666.0,926.5 L1667.2,926.5 L1668.3,929.7 L1669.9,929.2 L1671.1,928.7 L1672.2,928.0 L1673.7,927.2 L1675.5,929.4 L1676.7,928.8 L1678.3,925.0 L1679.5,928.9 L1680.9,929.2 L1682.4,927.6 L1684.2,928.7 L1685.9,928.7 L1687.2,927.5 L1689.1,926.3 L1690.9,929.3 L1692.5,929.8 L1694.3,928.8 L1695.9,926.1 L1697.6,927.6 L1699.1,927.1 L1700.6,928.4 L1702.2,927.7 L1703.9,928.3 L1705.6,926.6 L1707.5,929.1 L1708.8,927.4 L1710.3,929.8 L1712.0,929.6 L1713.6,929.8 L1715.2,927.4 L1716.3,928.1 L1718.1,922.6 L1719.9,928.8 L1721.7,925.3 L1723.2,929.7 L1724.9,926.2 L1726.1,928.7 L1727.3,929.7 L1728.8,928.9 L1730.4,928.5 L1731.6,926.3 L1733.0,929.1 L1734.2,929.6 L1735.5,928.6 L1737.2,930.0 L1738.4,928.7 L1739.7,928.8 L1741.4,929.1 L1742.8,929.9 L1744.7,929.7 L1745.9,928.3 L1746.2,931.9 L1745.0,931.7 L1743.1,932.1 L1741.7,931.9 L1740.0,931.5 L1738.7,931.5 L1737.5,932.0 L1735.8,933.5 L1734.5,931.9 L1733.3,931.6 L1731.9,931.3 L1730.7,931.8 L1729.1,931.9 L1727.6,931.3 L1726.4,931.5 L1725.2,931.9 L1723.5,932.0 L1722.0,931.6 L1720.2,932.1 L1718.4,931.7 L1716.6,931.7 L1715.5,932.4 L1713.9,933.2 L1712.3,931.6 L1710.6,931.8 L1709.1,932.2 L1707.8,932.7 L1705.9,932.0 L1704.2,933.3 L1702.5,931.6 L1700.9,931.7 L1699.4,931.4 L1697.9,932.0 L1696.2,931.6 L1694.6,932.5 L1692.8,931.7 L1691.2,932.9 L1689.4,931.4 L1687.5,931.7 L1686.2,932.6 L1684.5,932.4 L1682.7,933.2 L1681.2,932.0 L1679.8,932.2 L1678.6,931.6 L1677.0,931.6 L1675.8,934.1 L1674.0,931.8 L1672.5,931.5 L1671.4,931.9 L1670.2,933.0 L1668.6,932.1 L1667.5,931.7 L1666.3,931.5 L1664.5,932.0 L1663.1,932.4 L1662.0,931.8 L1660.4,931.5 L1659.1,933.3 L1657.4,931.4 L1655.7,933.1 L1654.4,932.5 L1653.2,931.9 L1651.8,931.7 L1650.4,933.0 L1648.8,931.6 L1647.6,933.3 L1646.3,932.5 L1644.5,931.5 L1642.9,932.0 L1641.4,932.6 L1639.9,931.5 L1638.3,932.6 L1637.0,931.8 L1635.3,931.4 L1633.6,931.8 L1631.9,932.9 L1630.7,931.2 L1629.5,931.7 L1628.1,932.2 L1626.9,931.8 L1625.1,932.0 L1623.6,931.6 L1622.2,933.3 L1620.9,931.7 L1619.5,931.6 L1617.9,932.5 L1616.5,931.5 L1615.3,932.6 L1613.5,932.4 L1611.7,932.5 L1610.0,931.6 L1608.5,932.9 L1606.6,931.4 L1605.2,931.0 L1603.8,931.7 L1602.4,933.3 L1601.3,931.8 L1599.4,931.8 L1597.9,931.8 L1596.8,932.3 L1595.2,933.4 L1593.9,931.7 L1592.3,934.7 L1590.7,932.8 L1589.3,931.7 L1587.7,931.5 L1585.9,932.3 L1584.7,932.1 L1582.9,931.5 L1581.6,931.7 L1579.8,931.7 L1578.4,931.5 L1576.9,932.4 L1575.2,931.4 L1573.7,933.0 L1572.4,931.4 L1571.0,932.4 L1569.6,931.7 L1568.0,933.3 L1566.3,932.7 L1565.1,931.5 L1563.6,931.8 L1562.1,931.6 L1560.5,933.4 L1558.8,931.7 L1557.0,931.7 L1555.3,931.6 L1553.8,932.0 L1552.3,931.7 L1551.0,931.6 L1549.8,931.7 L1548.1,931.8 L1546.6,932.3 L1545.3,932.9 L1543.7,932.1 L1542.3,931.7 L1540.7,931.8 L1539.5,931.7 L1537.7,931.4 L1536.6,931.6 L1535.2,933.4 L1533.5,932.4 L1531.7,932.6 L1530.1,932.9 L1528.3,931.5 L1527.1,933.1 L1525.4,931.7 L1523.9,931.6 L1522.5,931.4 L1521.2,931.6 L1520.0,932.0 L1518.5,931.3 L1516.8,931.1 L1515.6,931.5 L1513.9,931.7 L1512.0,932.5 L1510.3,931.5 L1508.5,932.5 L1507.2,931.7 L1505.4,932.5 L1503.6,931.7 L1501.9,932.3 L1500.6,931.6 L1498.8,931.9 L1497.0,931.7 L1495.5,931.5 L1494.3,931.8 L1492.6,931.6 L1490.8,931.8 L1489.5,932.1 L1487.7,931.4 L1485.9,932.0 L1484.7,932.8 L1482.9,933.7 L1481.5,932.3 L1480.2,932.7 L1478.6,931.7 L1477.3,931.6 L1475.4,931.8 L1474.3,931.9 L1473.2,932.0 L1471.7,931.9 L1470.5,931.9 L1469.1,932.2 L1467.9,931.5 L1466.2,931.8 L1464.4,932.1 L1463.0,932.4 L1461.3,931.6 L1459.7,931.6 L1458.5,931.9 L1456.7,931.7 L1455.1,932.0 L1453.7,932.2 L1452.1,931.8 L1450.7,931.6 L1449.2,931.7 L1447.3,931.5 L1446.0,933.6 L1444.3,931.7 L1442.5,931.5 L1440.9,931.8 L1439.4,933.2 L1438.1,932.6 L1436.4,932.5 L1434.8,931.5 L1433.1,931.4 L1431.6,932.1 L1430.3,931.5 L1428.7,931.5 L1427.4,932.5 L1426.0,933.1 L1424.6,931.6 L1423.0,931.8 L1421.2,931.6 L1419.6,933.1 L1418.1,931.7 L1416.4,931.3 L1415.1,931.7 L1413.5,931.7 L1411.7,932.6 L1410.5,931.5 L1408.8,931.8 L1407.4,931.4 L1405.7,931.5 L1403.8,932.0 L1402.6,932.3 L1401.5,932.2 L1399.8,932.1 L1398.4,931.7 L1397.3,932.4 L1395.4,932.7 L1394.1,931.5 L1392.6,932.3 L1391.0,931.7 L1389.4,931.7 L1387.7,932.2 L1386.2,932.7 L1384.7,931.8 L1382.8,931.7 L1381.4,931.6 L1380.0,931.4 L1378.5,931.8 L1377.3,931.5 L1376.1,931.6 L1374.3,931.4 L1372.8,931.6 L1371.2,932.8 L1369.8,931.9 L1368.5,931.5 L1367.1,932.6 L1365.4,931.4 L1364.0,931.7 L1362.6,931.7 L1361.4,933.1 L1360.2,931.1 L1359.1,931.9 L1357.4,931.5 L1355.9,931.7 L1354.3,931.9 L1352.8,932.4 L1351.1,932.2 L1349.5,931.6 L1348.3,931.7 L1346.5,931.1 L1345.1,931.9 L1343.8,933.2 L1342.4,933.6 L1340.7,932.6 L1339.0,931.5 L1337.6,932.6 L1335.9,931.5 L1334.7,932.1 L1333.0,931.7 L1331.2,931.6 L1329.8,931.7 L1328.3,931.5 L1326.7,932.4 L1325.5,932.8 L1324.1,934.3 L1322.5,932.5 L1320.7,932.3 L1319.4,931.6 L1317.8,931.7 L1316.6,933.9 L1314.9,931.7 L1313.7,931.6 L1312.5,934.5 L1311.2,932.1 L1309.5,931.5 L1307.9,931.8 L1306.2,932.5 L1304.9,932.9 L1303.7,932.7 L1301.9,931.4 L1300.6,932.7 L1299.3,931.3 L1297.7,932.6 L1296.6,932.4 L1295.2,933.2 L1293.4,932.5 L1291.8,931.3 L1290.1,931.7 L1288.7,932.2 L1287.0,932.9 L1285.6,930.7 L1284.5,933.6 L1283.1,934.6 L1281.2,932.3 L1279.4,932.7 L1278.1,931.7 L1276.6,931.8 L1275.0,931.6 L1273.8,931.4 L1272.0,933.8 L1270.8,932.1 L1269.1,932.5 L1267.7,931.6 L1266.5,934.3 L1265.2,931.7 L1264.0,932.0 L1262.2,934.1 L1260.4,931.3 L1259.0,931.4 L1257.4,931.5 L1255.9,931.8 L1254.1,932.8 L1252.9,931.9 L1251.2,935.4 L1249.8,932.4 L1248.1,931.5 L1246.7,932.3 L1245.6,932.5 L1244.4,932.2 L1242.6,931.7 L1241.3,931.5 L1239.4,932.0 L1237.8,932.1 L1236.5,932.0 L1235.2,932.5 L1233.4,933.3 L1232.0,932.5 L1230.3,933.2 L1229.1,931.4 L1227.7,932.1 L1226.1,931.3 L1224.6,932.4 L1223.3,933.4 L1221.6,931.1 L1220.2,932.0 L1219.0,933.7 L1217.6,932.3 L1216.1,931.8 L1214.9,931.9 L1213.4,931.5 L1212.2,931.7 L1210.5,932.2 L1209.1,931.5 L1207.9,932.6 L1206.4,932.1 L1205.2,932.8 L1203.6,931.3 L1202.0,931.5 L1200.8,931.4 L1199.1,932.5 L1197.3,931.8 L1196.1,931.7 L1194.4,932.3 L1193.1,932.0 L1191.5,931.8 L1190.0,931.7 L1188.5,931.3 L1186.7,931.7 L1185.5,932.2 L1183.9,932.3 L1182.5,932.0 L1180.7,932.5 L1179.5,931.3 L1177.9,931.5 L1176.1,933.0 L1174.4,931.4 L1173.1,932.6 L1171.8,931.8 L1170.2,932.7 L1168.5,931.5 L1167.3,931.4 L1165.9,931.8 L1164.6,932.2 L1163.1,931.7 L1161.4,932.0 L1160.2,931.9 L1159.0,931.2 L1157.6,931.5 L1156.0,931.5 L1154.1,932.8 L1152.5,932.3 L1151.1,931.3 L1149.4,931.9 L1148.0,931.5 L1146.8,932.4 L1145.5,931.9 L1143.7,931.8 L1142.1,933.9 L1140.3,932.5 L1138.5,932.9 L1137.1,930.9 L1135.6,932.1 L1134.0,931.5 L1132.5,931.7 L1130.8,931.5 L1129.6,933.1 L1127.7,931.7 L1126.4,931.9 L1125.0,931.9 L1123.4,931.7 L1122.0,931.4 L1120.6,931.6 L1119.2,932.5 L1118.0,931.5 L1116.7,931.8 L1114.8,932.6 L1113.4,932.0 L1111.7,931.6 L1110.0,931.8 L1108.6,930.8 L1106.8,931.1 L1105.4,933.0 L1104.0,932.9 L1102.7,931.0 L1101.4,933.2 L1099.7,932.4 L1098.4,931.9 L1096.9,933.5 L1095.6,931.5 L1093.8,932.8 L1092.5,931.9 L1090.8,932.4 L1089.3,931.5 L1088.1,932.8 L1086.2,932.3 L1084.8,930.9 L1083.2,931.3 L1081.9,933.1 L1080.4,932.5 L1079.0,936.1 L1077.8,932.4 L1076.1,931.5 L1074.5,933.4 L1072.9,931.7 L1071.2,931.4 L1069.5,931.8 L1068.4,933.6 L1066.8,931.9 L1065.6,931.6 L1064.4,933.3 L1062.6,932.0 L1060.8,934.2 L1059.2,931.2 L1057.9,931.6 L1056.7,932.7 L1055.1,931.8 L1053.7,931.6 L1052.2,931.8 L1050.5,931.3 L1049.3,933.0 L1047.7,931.6 L1045.9,931.0 L1044.5,930.8 L1042.9,931.8 L1041.4,931.6 L1039.8,932.7 L1038.3,931.3 L1036.7,931.6 L1034.9,931.3 L1033.5,932.5 L1032.1,931.2 L1030.8,933.0 L1029.1,930.7 L1027.5,933.8 L1026.3,931.8 L1025.0,931.6 L1023.4,931.3 L1022.1,933.2 L1020.8,931.1 L1019.6,931.7 L1018.1,931.1 L1016.3,931.0 L1014.6,932.1 L1012.9,934.2 L1011.6,933.1Z" fill="#5ab947" stroke="#5ab947" stroke-width="0.6" stroke-linejoin="round"/>
<path d="M1053.8,933.2 Q1056.4,930.7 1056.3,927.6 L1056.7,919.5 L1057.6,917.0 L1058.4,917.0 L1059.3,919.5 L1059.7,927.6 Q1059.6,930.7 1062.2,933.2 Z" fill="#2f54a4"/>
<path d="M1070.9,933.2 Q1075.2,930.7 1075.2,906.3 L1075.9,848.5 L1076.8,846.0 L1078.6,846.0 L1079.5,848.5 L1080.2,906.3 Q1080.2,930.7 1084.5,933.2 Z" fill="#2f54a4"/>
<path d="M1128.1,933.2 Q1130.7,930.7 1130.6,927.9 L1131.0,920.5 L1131.9,918.0 L1133.1,918.0 L1134.0,920.5 L1134.4,927.9 Q1134.3,930.7 1136.9,933.2 Z" fill="#2f54a4"/>
<path d="M1127.1,933.2 Q1132.4,930.7 1132.4,914.1 L1133.0,874.5 L1133.9,872.0 L1135.7,872.0 L1136.6,874.5 L1137.2,914.1 Q1137.2,930.7 1142.5,933.2 Z" fill="#2f54a4"/>
<path d="M1410.9,933.2 Q1413.4,930.7 1413.2,930.0 L1413.6,927.5 L1414.5,925.0 L1415.1,925.0 L1416.0,927.5 L1416.4,930.0 Q1416.2,930.7 1418.7,933.2 Z" fill="#2f54a4"/>
<path d="M1526.1,933.2 Q1528.6,930.7 1528.4,930.0 L1528.8,927.5 L1529.7,925.0 L1530.3,925.0 L1531.2,927.5 L1531.6,930.0 Q1531.4,930.7 1533.9,933.2 Z" fill="#2f54a4"/>
<path d="M1568.4,933.2 Q1570.8,930.7 1570.6,930.6 L1571.0,929.5 L1571.9,927.0 L1572.1,927.0 L1573.0,929.5 L1573.4,930.6 Q1573.2,930.7 1575.6,933.2 Z" fill="#5ab947"/>
<path d="M1670.3,933.2 Q1673.1,930.7 1673.0,924.6 L1673.5,909.5 L1674.4,907.0 L1675.6,907.0 L1676.5,909.5 L1677.0,924.6 Q1676.9,930.7 1679.7,933.2 Z" fill="#5ab947"/>
<path d="M1009.7,920.0 L1013.0,927.4" stroke="#b8499b" stroke-width="3.2" fill="none" stroke-linecap="round"/>
<path d="M1012.9,926.4 L1014.2,926.7 L1015.7,924.2 L1016.8,926.6 L1018.2,926.5 L1019.5,926.4 L1020.5,926.4 L1021.6,923.9 L1023.1,922.5 L1024.4,926.9 L1025.8,925.2 L1027.3,926.9 L1028.8,925.6 L1030.0,922.8 L1031.5,926.4 L1032.6,925.1 L1033.8,926.6 L1035.3,923.9 L1036.5,924.1 L1037.5,924.9 L1038.9,924.4 L1039.9,922.9 L1041.2,926.8 L1042.3,923.8 L1043.6,926.7 L1044.9,926.9 L1046.0,927.6 L1047.3,925.1 L1048.7,923.8 L1049.7,927.2 L1051.2,927.6 L1052.6,924.4 L1053.7,926.2 L1055.1,927.1 L1056.3,927.0 L1057.5,926.9 L1058.7,925.6 L1060.1,927.0 L1061.5,926.9 L1062.7,925.9 L1064.1,926.1 L1065.5,927.3 L1066.6,925.1 L1068.0,925.4 L1069.2,924.5 L1070.2,926.2 L1071.5,927.3 L1073.0,926.7 L1074.5,926.3 L1075.6,927.3 L1076.8,927.5 L1077.8,925.4 L1079.0,925.0 L1080.1,922.8 L1081.4,926.9 L1082.8,926.5 L1083.7,925.7 L1084.8,925.1 L1086.2,928.3 L1087.6,927.2 L1088.8,927.5 L1089.8,928.0 L1091.0,927.8 L1092.3,926.1 L1093.5,925.1 L1094.6,925.1 L1095.5,926.9 L1096.9,927.6 L1097.8,927.6 L1099.2,927.3 L1100.3,927.7 L1101.5,925.1 L1102.7,928.0 L1104.0,925.9 L1105.1,927.7 L1106.5,927.4 L1107.6,927.9 L1108.7,928.0 L1109.6,927.0 L1111.0,927.2 L1112.4,927.5 L1113.4,926.1 L1114.6,926.3 L1115.9,928.5 L1117.4,926.5 L1118.5,927.2 L1119.7,927.3 L1120.9,926.0 L1122.3,928.1 L1123.4,927.8 L1124.8,927.2 L1126.2,926.9 L1127.4,927.7 L1128.4,924.7 L1129.5,925.5 L1130.6,927.7 L1131.6,925.7 L1132.5,927.9 L1133.8,927.7 L1134.7,927.2 L1135.7,925.7 L1136.9,927.5 L1138.4,927.4 L1139.4,927.9 L1140.7,926.7 L1141.8,926.8 L1142.8,926.0 L1144.1,928.1 L1145.3,928.4 L1146.5,926.7 L1147.8,926.8 L1149.3,928.1 L1150.8,926.4 L1151.7,927.6 L1152.8,927.5 L1154.1,927.7 L1155.4,925.9 L1156.6,927.7 L1157.8,927.0 L1158.7,927.6 L1159.6,928.2 L1160.5,928.2 L1161.7,925.1 L1162.8,928.6 L1163.9,928.1 L1165.3,926.7 L1166.3,925.3 L1167.6,926.9 L1168.9,927.3 L1169.9,928.2 L1171.4,926.8 L1172.7,928.2 L1173.6,923.8 L1175.0,927.7 L1176.1,928.7 L1177.6,928.0 L1178.5,926.5 L1179.5,925.8 L1181.0,928.3 L1182.5,926.9 L1183.4,927.5 L1184.8,926.1 L1186.0,928.3 L1187.2,926.4 L1188.1,927.4 L1189.1,928.0 L1190.3,927.0 L1191.4,928.6 L1192.5,926.4 L1194.0,927.4 L1195.5,926.6 L1196.5,927.8 L1197.7,928.0 L1199.1,926.8 L1200.5,925.9 L1201.5,927.9 L1202.4,928.0 L1203.4,928.1 L1204.9,926.9 L1206.1,925.6 L1207.2,928.2 L1208.4,926.3 L1209.8,926.1 L1211.2,928.0 L1212.5,928.7 L1214.0,927.9 L1214.9,928.5 L1216.1,926.8 L1217.3,926.6 L1218.5,928.7 L1219.6,927.0 L1220.6,925.8 L1222.1,928.4 L1223.2,928.1 L1224.5,926.4 L1226.0,927.9 L1227.3,927.4 L1228.3,928.2 L1229.2,928.0 L1230.2,928.2 L1231.2,927.0 L1232.6,928.0 L1233.6,927.7 L1234.8,928.0 L1236.3,929.0 L1237.8,928.6 L1238.7,926.8 L1239.9,928.4 L1241.4,928.2 L1242.8,925.6 L1243.9,928.3 L1245.1,928.3 L1246.4,927.0 L1247.8,927.0 L1249.0,927.2 L1250.3,928.8 L1251.4,926.5 L1252.4,928.3 L1253.9,929.3 L1254.8,928.1 L1256.0,927.6 L1257.3,928.2 L1258.3,926.4 L1259.4,928.1 L1260.9,926.7 L1262.3,928.3 L1263.5,928.6 L1264.7,928.4 L1266.0,928.5 L1267.3,926.2 L1268.3,928.2 L1269.4,928.5 L1270.6,928.3 L1271.6,927.6 L1272.9,928.1 L1273.8,927.4 L1274.8,926.9 L1275.9,927.8 L1277.2,927.7 L1278.6,928.4 L1279.6,928.6 L1281.1,927.9 L1282.2,928.3 L1283.2,928.2 L1284.4,926.7 L1285.6,928.3 L1286.5,928.7 L1287.6,927.1 L1288.9,929.1 L1290.0,929.0 L1291.3,928.3 L1292.4,928.9 L1293.4,928.5 L1294.3,927.9 L1295.3,926.8 L1296.6,927.3 L1298.0,928.3 L1299.4,928.8 L1300.7,928.5 L1302.0,929.2 L1303.5,928.5 L1304.4,928.3 L1305.5,928.1 L1307.0,928.4 L1308.4,928.6 L1309.8,928.7 L1310.9,928.2 L1312.2,928.8 L1313.5,928.9 L1314.7,928.5 L1315.6,928.7 L1316.8,927.9 L1317.9,929.1 L1319.2,928.4 L1320.7,926.5 L1321.8,928.6 L1322.9,926.2 L1324.0,927.6 L1325.3,929.1 L1326.7,927.8 L1327.9,928.6 L1328.9,927.5 L1330.0,928.9 L1331.0,928.6 L1331.9,926.8 L1333.3,928.7 L1334.5,928.5 L1335.5,928.5 L1336.6,928.7 L1337.6,928.3 L1339.0,927.9 L1340.1,928.5 L1341.2,927.4 L1342.2,927.3 L1343.3,928.9 L1344.4,928.5 L1345.7,928.7 L1346.6,929.5 L1347.8,927.2 L1349.2,928.8 L1350.2,929.0 L1351.2,928.7 L1352.4,927.4 L1353.5,927.1 L1354.6,927.2 L1356.1,929.1 L1357.6,928.6 L1358.8,927.2 L1359.8,927.4 L1361.2,929.0 L1362.5,927.3 L1363.7,928.7 L1364.9,929.0 L1366.4,928.9 L1367.6,927.2 L1368.7,928.4 L1369.9,929.4 L1371.0,928.6 L1372.4,928.5 L1373.7,928.7 L1374.8,928.8 L1375.7,928.3 L1376.9,928.1 L1378.2,927.0 L1379.6,927.9 L1381.0,928.6 L1382.4,928.1 L1383.7,928.5 L1385.0,928.2 L1386.4,927.5 L1387.4,927.6 L1388.6,928.1 L1389.5,928.1 L1390.7,928.6 L1392.2,928.3 L1393.1,926.8 L1394.3,928.8 L1395.6,927.9 L1397.0,929.0 L1398.4,928.4 L1399.4,928.8 L1400.9,928.3 L1402.1,929.6 L1403.3,929.0 L1404.4,928.7 L1405.6,928.3 L1407.0,928.2 L1408.1,928.3 L1409.0,929.3 L1410.2,929.2 L1411.3,929.1 L1412.3,928.9 L1413.3,927.8 L1414.2,928.6 L1415.2,929.3 L1416.5,927.6 L1417.9,925.7 L1418.8,927.9 L1419.8,928.7 L1421.0,928.9 L1422.2,929.0 L1423.7,929.1 L1424.9,928.3 L1426.3,927.6 L1427.6,928.2 L1429.1,928.8 L1430.0,927.6 L1430.9,929.0 L1432.4,929.0 L1433.6,928.8 L1435.1,927.0 L1436.1,929.0 L1437.1,929.0 L1438.4,929.8 L1439.8,929.0 L1440.8,927.9 L1441.8,928.7 L1442.8,928.6 L1444.2,926.3 L1445.5,928.5 L1446.4,928.5 L1447.4,928.4 L1448.8,928.3 L1450.0,928.0 L1451.0,929.6 L1452.3,929.2 L1453.2,928.9 L1454.6,929.0 L1456.0,929.1 L1456.9,928.9 L1458.2,929.1 L1459.6,928.7 L1460.9,929.0 L1461.9,929.1 L1462.9,929.3 L1464.1,928.4 L1465.4,928.4 L1466.6,928.6 L1467.7,928.1 L1468.9,928.7 L1470.1,928.3 L1471.0,926.5 L1472.5,929.0 L1473.9,929.0 L1475.2,929.0 L1476.2,928.2 L1477.2,927.9 L1478.4,929.1 L1479.6,927.9 L1480.8,929.0 L1482.1,929.2 L1483.5,929.3 L1484.7,927.9 L1486.1,929.1 L1487.1,929.2 L1488.6,929.1 L1489.6,929.0 L1490.9,928.4 L1492.2,928.8 L1493.5,928.7 L1495.0,929.3 L1496.2,929.3 L1497.2,928.9 L1498.6,928.0 L1499.7,929.0 L1500.8,927.9 L1502.0,929.1 L1503.0,929.4 L1504.5,928.8 L1505.8,929.0 L1506.9,929.1 L1508.3,928.5 L1509.2,929.0 L1510.6,928.0 L1511.8,929.4 L1512.9,928.9 L1514.1,929.2 L1515.1,928.7 L1516.4,928.3 L1517.7,927.8 L1518.7,928.3 L1520.1,929.0 L1521.2,929.2 L1522.5,929.3 L1524.0,929.1 L1525.3,928.7 L1526.7,929.3 L1527.7,929.3 L1529.0,929.2 L1530.0,929.2 L1531.3,928.8 L1532.6,929.3 L1534.0,927.8 L1535.2,928.3 L1536.4,928.2 L1537.8,929.0 L1538.9,927.7 L1539.9,928.7 L1541.3,929.1 L1542.7,928.5 L1544.0,929.4 L1545.4,928.8 L1546.7,929.2 L1547.7,928.7 L1548.6,929.7 L1549.9,929.1 L1551.3,928.8 L1552.7,929.6 L1553.9,929.1 L1555.1,927.8 L1556.1,927.3 L1557.6,928.1 L1558.5,928.0 L1559.8,928.9 L1560.8,929.2 L1561.8,928.9 L1563.2,928.9 L1564.4,929.8 L1565.4,928.8 L1566.7,928.0 L1568.2,929.2 L1569.4,929.4 L1570.7,928.8 L1572.0,928.5 L1573.0,929.9 L1574.2,927.7 L1575.3,928.4 L1576.5,927.9 L1577.6,929.0 L1578.6,928.9 L1580.0,928.5 L1581.3,929.5 L1582.5,929.4 L1583.4,929.3 L1584.5,928.5 L1585.9,929.0 L1586.9,927.8 L1588.0,929.4 L1589.5,928.5 L1590.6,929.5 L1592.0,928.7 L1593.4,929.3 L1594.4,929.2 L1595.6,928.2 L1596.6,928.4 L1597.6,929.2 L1598.8,928.7 L1599.9,928.3 L1601.0,929.0 L1602.4,928.7 L1603.7,929.4 L1605.2,929.1 L1606.5,929.2 L1607.6,928.7 L1608.9,929.0 L1610.3,929.4 L1611.5,928.9 L1612.5,929.2 L1613.8,929.5 L1615.2,929.2 L1616.4,928.6 L1617.9,928.0 L1618.9,929.8 L1620.4,927.1 L1621.4,929.2 L1622.5,929.5 L1623.7,929.7 L1624.8,929.2 L1625.9,929.5 L1627.2,928.1 L1628.1,929.4 L1629.1,929.2 L1630.1,928.2 L1631.4,928.8 L1632.5,929.0 L1633.9,929.4 L1634.9,928.1 L1636.3,928.9 L1637.2,928.8 L1638.4,928.8 L1639.4,929.5 L1640.5,929.1 L1641.4,928.7 L1642.6,929.4 L1643.7,929.3 L1644.8,929.4 L1645.9,929.2 L1647.2,928.8 L1648.2,927.6 L1649.7,929.0 L1651.0,929.7 L1652.4,929.4 L1653.4,929.5 L1654.8,929.4 L1656.1,929.4 L1657.2,928.6 L1658.3,929.5 L1659.5,929.4 L1660.8,928.7 L1661.8,928.7 L1663.2,927.9 L1664.2,929.3 L1665.4,928.9 L1666.8,929.4 L1668.2,928.7 L1669.5,929.3 L1670.4,928.8 L1671.4,928.8 L1672.4,929.3 L1673.4,929.4 L1674.6,929.3 L1676.0,928.7 L1676.9,929.3 L1678.4,929.4 L1679.4,928.4 L1680.4,929.5 L1681.6,928.9 L1682.9,929.0 L1684.4,929.9 L1685.6,929.6 L1687.0,929.2 L1688.4,929.3 L1689.8,929.4 L1690.9,929.8 L1692.2,929.7 L1693.3,929.3 L1694.8,929.8 L1695.8,929.4 L1696.8,929.4 L1698.0,928.2 L1699.2,928.7 L1700.3,929.7 L1701.4,929.2 L1702.7,929.6 L1704.1,929.5 L1705.2,929.0 L1706.6,928.7 L1707.7,928.9 L1708.8,929.7 L1710.2,929.3 L1711.3,928.8 L1712.3,928.6 L1713.7,929.4 L1715.0,929.5 L1716.4,928.9 L1717.9,928.4 L1719.4,929.3 L1720.3,929.1 L1721.3,929.5 L1722.4,929.3 L1723.8,929.8 L1725.3,927.5 L1726.4,929.6 L1727.8,929.8 L1729.3,929.4 L1730.6,929.4 L1731.9,928.3 L1733.0,929.5 L1734.5,929.4 L1735.9,929.1 L1737.2,929.3 L1738.4,929.5 L1739.4,929.1 L1740.6,929.5 L1740.9,933.3 L1739.7,934.0 L1738.7,933.3 L1737.5,934.1 L1736.2,933.2 L1734.8,933.5 L1733.3,933.8 L1732.2,933.4 L1730.9,934.0 L1729.6,933.4 L1728.1,933.5 L1726.7,933.5 L1725.6,933.4 L1724.1,933.3 L1722.7,933.8 L1721.6,933.4 L1720.6,933.4 L1719.7,933.5 L1718.2,933.4 L1716.7,933.2 L1715.3,933.5 L1714.0,934.6 L1712.6,934.1 L1711.6,933.4 L1710.5,933.3 L1709.1,934.0 L1708.0,933.6 L1706.9,934.0 L1705.5,934.3 L1704.4,933.4 L1703.0,933.5 L1701.7,933.7 L1700.6,933.6 L1699.5,933.6 L1698.3,933.5 L1697.1,934.0 L1696.1,933.9 L1695.1,933.2 L1693.6,933.4 L1692.5,933.4 L1691.2,933.6 L1690.1,934.0 L1688.7,934.0 L1687.3,934.0 L1685.9,933.6 L1684.7,933.8 L1683.2,933.9 L1681.9,933.6 L1680.7,933.4 L1679.7,933.4 L1678.7,933.3 L1677.2,934.5 L1676.3,934.0 L1674.9,933.7 L1673.7,933.5 L1672.7,933.5 L1671.7,933.5 L1670.7,933.3 L1669.8,934.1 L1668.5,933.1 L1667.1,933.7 L1665.7,934.4 L1664.5,934.2 L1663.5,933.5 L1662.1,933.6 L1661.1,933.4 L1659.8,933.4 L1658.6,933.3 L1657.5,933.2 L1656.4,933.8 L1655.1,934.0 L1653.7,934.1 L1652.7,933.2 L1651.3,933.7 L1650.0,933.9 L1648.5,933.2 L1647.5,933.5 L1646.2,933.5 L1645.1,933.6 L1644.0,934.1 L1642.9,933.5 L1641.7,933.3 L1640.8,933.7 L1639.7,933.3 L1638.7,934.5 L1637.5,933.1 L1636.6,933.7 L1635.2,934.1 L1634.2,933.5 L1632.8,934.0 L1631.7,933.4 L1630.4,934.1 L1629.4,933.6 L1628.4,933.4 L1627.5,933.3 L1626.2,933.5 L1625.1,933.2 L1624.0,933.4 L1622.8,933.5 L1621.7,933.2 L1620.7,933.5 L1619.2,933.9 L1618.2,934.0 L1616.7,933.5 L1615.5,933.4 L1614.1,933.7 L1612.8,933.6 L1611.8,933.9 L1610.6,934.2 L1609.2,933.4 L1607.9,933.4 L1606.8,933.5 L1605.5,933.8 L1604.0,933.5 L1602.7,933.4 L1601.3,933.3 L1600.2,933.6 L1599.1,933.6 L1597.9,933.8 L1596.9,933.3 L1595.9,933.9 L1594.7,933.4 L1593.7,933.7 L1592.3,934.0 L1590.9,934.2 L1589.8,933.8 L1588.3,933.6 L1587.2,933.5 L1586.2,933.4 L1584.8,933.0 L1583.7,933.3 L1582.8,933.4 L1581.6,933.6 L1580.3,933.4 L1578.9,933.3 L1577.9,933.8 L1576.8,933.6 L1575.6,933.5 L1574.5,933.4 L1573.3,933.8 L1572.3,934.4 L1571.0,933.4 L1569.7,933.5 L1568.5,933.9 L1567.0,933.7 L1565.7,933.5 L1564.7,933.4 L1563.5,933.8 L1562.1,933.9 L1561.1,933.2 L1560.1,933.3 L1558.8,933.3 L1557.9,934.3 L1556.4,933.7 L1555.4,934.2 L1554.2,933.4 L1553.0,933.5 L1551.6,933.6 L1550.2,933.3 L1548.9,933.6 L1548.0,933.4 L1547.0,933.7 L1545.7,933.3 L1544.3,933.4 L1543.0,933.5 L1541.6,934.2 L1540.2,933.4 L1539.2,933.6 L1538.1,933.7 L1536.7,933.7 L1535.5,933.5 L1534.3,933.5 L1532.9,934.3 L1531.6,934.2 L1530.3,933.4 L1529.3,933.7 L1528.0,933.4 L1527.0,933.9 L1525.6,933.3 L1524.3,934.3 L1522.8,934.6 L1521.5,933.4 L1520.4,933.3 L1519.0,934.1 L1518.0,933.7 L1516.7,933.9 L1515.4,933.4 L1514.4,933.6 L1513.2,933.4 L1512.1,934.1 L1510.9,934.0 L1509.5,933.9 L1508.6,933.2 L1507.2,933.5 L1506.1,933.3 L1504.8,933.7 L1503.3,933.4 L1502.3,933.3 L1501.1,934.2 L1500.0,933.4 L1498.9,933.5 L1497.5,934.0 L1496.5,934.0 L1495.3,932.7 L1493.8,933.8 L1492.5,933.5 L1491.2,933.4 L1489.9,933.5 L1488.9,933.3 L1487.4,933.6 L1486.4,933.3 L1485.0,933.6 L1483.8,933.3 L1482.4,934.2 L1481.1,933.8 L1479.9,933.3 L1478.7,933.5 L1477.5,933.1 L1476.5,933.4 L1475.5,933.3 L1474.2,933.9 L1472.8,933.6 L1471.3,933.3 L1470.4,933.2 L1469.2,933.4 L1468.0,933.5 L1466.9,933.4 L1465.7,933.3 L1464.4,934.0 L1463.2,933.6 L1462.2,933.7 L1461.2,933.3 L1459.9,933.4 L1458.5,934.4 L1457.2,933.4 L1456.3,933.3 L1454.9,933.6 L1453.5,933.4 L1452.6,934.1 L1451.3,933.8 L1450.3,933.8 L1449.1,933.3 L1447.7,933.3 L1446.7,933.4 L1445.8,933.4 L1444.5,934.0 L1443.1,934.3 L1442.1,933.4 L1441.1,933.2 L1440.1,934.3 L1438.7,933.7 L1437.4,933.5 L1436.4,933.5 L1435.4,933.4 L1433.9,934.1 L1432.7,933.6 L1431.2,934.0 L1430.3,933.6 L1429.4,933.5 L1427.9,934.1 L1426.6,933.3 L1425.2,933.5 L1424.0,934.5 L1422.5,933.7 L1421.3,933.5 L1420.1,933.9 L1419.1,933.4 L1418.2,933.8 L1416.8,933.4 L1415.5,933.4 L1414.5,933.4 L1413.6,933.3 L1412.6,934.3 L1411.6,933.9 L1410.5,933.4 L1409.3,933.4 L1408.4,933.4 L1407.3,933.3 L1405.9,933.9 L1404.7,932.9 L1403.6,933.7 L1402.4,934.0 L1401.2,933.4 L1399.7,934.1 L1398.7,933.4 L1397.3,934.3 L1395.9,933.8 L1394.6,934.1 L1393.4,933.4 L1392.5,933.9 L1391.0,933.2 L1389.8,933.4 L1388.9,933.3 L1387.7,933.3 L1386.7,933.7 L1385.3,933.4 L1384.0,933.4 L1382.7,934.1 L1381.3,933.9 L1379.9,934.1 L1378.5,934.0 L1377.2,933.6 L1376.0,934.5 L1375.1,933.8 L1374.0,933.4 L1372.7,933.4 L1371.3,933.2 L1370.2,933.8 L1369.0,933.4 L1367.9,933.4 L1366.7,933.9 L1365.2,933.3 L1364.0,934.1 L1362.8,933.5 L1361.5,933.5 L1360.1,933.0 L1359.1,933.6 L1357.9,933.2 L1356.4,932.7 L1354.9,934.3 L1353.8,933.4 L1352.7,933.2 L1351.5,933.5 L1350.5,933.6 L1349.5,933.3 L1348.1,933.7 L1346.9,934.3 L1346.0,933.3 L1344.7,933.9 L1343.6,934.0 L1342.5,933.3 L1341.5,934.0 L1340.4,934.3 L1339.3,933.5 L1337.9,933.7 L1336.9,933.1 L1335.8,934.7 L1334.8,933.4 L1333.6,933.6 L1332.2,934.9 L1331.3,933.4 L1330.3,933.2 L1329.2,934.9 L1328.2,933.3 L1327.0,933.8 L1325.6,933.4 L1324.3,933.3 L1323.2,933.5 L1322.1,934.7 L1321.0,933.5 L1319.5,933.4 L1318.2,933.3 L1317.1,933.5 L1315.9,934.3 L1315.0,933.6 L1313.8,933.4 L1312.5,933.3 L1311.2,933.3 L1310.1,933.5 L1308.7,933.3 L1307.3,934.3 L1305.8,933.5 L1304.7,933.3 L1303.8,933.4 L1302.3,933.8 L1301.0,933.2 L1299.7,933.3 L1298.3,934.1 L1296.9,933.4 L1295.6,934.6 L1294.6,933.8 L1293.7,933.7 L1292.7,933.1 L1291.6,934.1 L1290.3,934.1 L1289.2,934.7 L1287.9,933.5 L1286.8,933.3 L1285.9,933.3 L1284.7,934.6 L1283.5,934.2 L1282.5,933.2 L1281.4,934.2 L1279.9,933.7 L1278.9,934.7 L1277.5,933.4 L1276.2,934.3 L1275.1,933.1 L1274.1,933.3 L1273.2,933.4 L1271.9,933.4 L1270.9,933.9 L1269.7,933.5 L1268.6,933.7 L1267.6,933.7 L1266.3,933.4 L1265.0,933.4 L1263.8,933.5 L1262.6,933.5 L1261.2,934.7 L1259.7,934.1 L1258.6,933.3 L1257.6,933.4 L1256.3,933.4 L1255.1,933.7 L1254.2,933.7 L1252.7,935.1 L1251.7,933.9 L1250.6,933.2 L1249.3,933.5 L1248.1,933.5 L1246.7,933.4 L1245.4,934.2 L1244.2,933.2 L1243.1,933.3 L1241.7,933.4 L1240.2,934.0 L1239.0,933.4 L1238.1,933.6 L1236.6,935.3 L1235.1,933.4 L1233.9,933.5 L1232.9,934.1 L1231.5,933.2 L1230.5,934.1 L1229.5,933.3 L1228.6,933.2 L1227.6,933.5 L1226.3,935.0 L1224.8,933.5 L1223.5,933.3 L1222.4,934.0 L1220.9,934.5 L1219.9,934.1 L1218.8,932.9 L1217.6,933.9 L1216.4,933.8 L1215.2,933.3 L1214.3,933.3 L1212.8,933.4 L1211.5,933.5 L1210.1,933.3 L1208.7,934.8 L1207.5,934.1 L1206.4,934.0 L1205.2,933.2 L1203.7,933.3 L1202.7,933.5 L1201.8,933.2 L1200.8,933.8 L1199.4,933.1 L1198.0,933.4 L1196.8,933.4 L1195.8,933.1 L1194.3,933.4 L1192.8,934.2 L1191.7,933.4 L1190.6,933.2 L1189.4,934.0 L1188.4,933.9 L1187.5,934.4 L1186.3,934.2 L1185.1,933.4 L1183.7,934.8 L1182.8,933.5 L1181.3,933.2 L1179.8,933.4 L1178.8,933.8 L1177.9,933.6 L1176.4,933.5 L1175.3,933.1 L1173.9,933.2 L1173.0,935.0 L1171.7,933.4 L1170.2,933.5 L1169.2,933.2 L1167.9,933.3 L1166.6,933.3 L1165.6,933.4 L1164.2,933.5 L1163.1,933.9 L1162.0,934.2 L1160.8,934.4 L1159.9,934.5 L1159.0,933.5 L1158.1,933.5 L1156.9,933.8 L1155.7,933.0 L1154.4,933.4 L1153.1,933.2 L1152.0,933.1 L1151.1,933.2 L1149.6,933.9 L1148.1,934.0 L1146.8,934.6 L1145.6,933.7 L1144.4,933.3 L1143.1,933.5 L1142.1,933.6 L1141.0,934.0 L1139.7,933.2 L1138.7,933.9 L1137.2,933.7 L1136.0,932.9 L1135.0,934.9 L1134.1,934.3 L1132.8,933.5 L1131.9,934.0 L1130.9,933.1 L1129.8,934.0 L1128.7,933.1 L1127.7,933.6 L1126.5,933.3 L1125.1,934.7 L1123.7,935.3 L1122.6,934.4 L1121.2,934.2 L1120.0,933.5 L1118.8,933.8 L1117.7,933.3 L1116.2,934.3 L1114.9,933.3 L1113.7,933.4 L1112.7,934.1 L1111.3,933.9 L1109.9,933.3 L1109.0,933.3 L1107.9,933.5 L1106.8,933.6 L1105.4,933.4 L1104.3,934.1 L1103.0,933.4 L1101.8,933.4 L1100.6,934.2 L1099.5,934.3 L1098.1,933.0 L1097.2,933.3 L1095.8,934.4 L1094.9,933.7 L1093.8,933.3 L1092.6,934.1 L1091.3,933.4 L1090.1,933.9 L1089.1,935.1 L1087.9,933.7 L1086.5,933.2 L1085.1,934.1 L1084.0,933.7 L1083.1,933.1 L1081.7,933.1 L1080.4,934.2 L1079.3,933.7 L1078.1,933.2 L1077.1,933.7 L1075.9,935.0 L1074.8,933.8 L1073.3,933.0 L1071.8,934.3 L1070.5,934.0 L1069.5,934.5 L1068.3,933.4 L1066.9,932.9 L1065.8,934.1 L1064.4,933.3 L1063.0,933.3 L1061.8,933.0 L1060.4,933.8 L1059.0,932.9 L1057.8,934.0 L1056.6,933.0 L1055.4,933.5 L1054.0,933.0 L1052.9,933.5 L1051.5,934.5 L1050.0,933.2 L1049.0,933.6 L1047.6,933.5 L1046.3,934.1 L1045.2,934.5 L1043.9,933.7 L1042.6,933.7 L1041.5,935.2 L1040.2,934.3 L1039.2,934.9 L1037.8,933.2 L1036.8,933.2 L1035.6,933.9 L1034.1,933.3 L1032.9,933.4 L1031.8,934.3 L1030.3,933.6 L1029.1,933.3 L1027.6,933.3 L1026.1,934.2 L1024.7,934.2 L1023.4,933.2 L1021.9,934.1 L1020.8,933.5 L1019.8,935.4 L1018.5,933.0 L1017.1,935.2 L1016.0,934.5 L1014.5,933.4 L1013.2,934.1Z" fill="#b8499b" stroke="#b8499b" stroke-width="0.6" stroke-linejoin="round"/>
<path d="M1163.9,933.2 Q1167.7,930.7 1167.7,910.8 L1168.3,863.5 L1169.2,861.0 L1170.8,861.0 L1171.7,863.5 L1172.3,910.8 Q1172.3,930.7 1176.1,933.2 Z" fill="#b8499b"/>
<path d="M1198.6,933.2 Q1203.9,930.7 1203.8,900.2 L1205.8,548.5 L1206.7,546.0 L1208.5,546.0 L1209.4,548.5 L1211.4,900.2 Q1211.3,930.7 1216.6,933.2 Z" fill="#b8499b"/>
</g>
<rect x="1075.95" y="868.8" width="3.5" height="64.2" fill="#000"/>
<rect x="1133.05" y="880.0" width="3.5" height="53.0" fill="#000"/>
<rect x="1168.25" y="875.0" width="3.5" height="58.0" fill="#000"/>
<rect x="1205.85" y="551.7" width="3.5" height="381.3" fill="#000"/>
<rect x="1323.75" y="912.0" width="3.5" height="21.0" fill="#000"/>
<rect x="1673.75" y="911.0" width="3.5" height="29.5" fill="#000"/>
<text transform="translate(1001.4,531.0) scale(0.935,1)" font-size="26" text-anchor="end" fill="#111" stroke="#111" stroke-width="0.4">15000</text>
<text transform="translate(1001.4,558.8) scale(0.935,1)" font-size="26" text-anchor="end" fill="#111" stroke="#111" stroke-width="0.4">14000</text>
<text transform="translate(1001.4,586.3) scale(0.935,1)" font-size="26" text-anchor="end" fill="#111" stroke="#111" stroke-width="0.4">13000</text>
<text transform="translate(1001.4,613.8) scale(0.935,1)" font-size="26" text-anchor="end" fill="#111" stroke="#111" stroke-width="0.4">12000</text>
<text transform="translate(1001.4,641.2) scale(0.935,1)" font-size="26" text-anchor="end" fill="#111" stroke="#111" stroke-width="0.4">11000</text>
<text transform="translate(1001.4,668.7) scale(0.935,1)" font-size="26" text-anchor="end" fill="#111" stroke="#111" stroke-width="0.4">10000</text>
<text transform="translate(1001.4,696.2) scale(0.935,1)" font-size="26" text-anchor="end" fill="#111" stroke="#111" stroke-width="0.4">9000</text>
<text transform="translate(1001.4,723.7) scale(0.935,1)" font-size="26" text-anchor="end" fill="#111" stroke="#111" stroke-width="0.4">8000</text>
<text transform="translate(1001.4,751.1) scale(0.935,1)" font-size="26" text-anchor="end" fill="#111" stroke="#111" stroke-width="0.4">7000</text>
<text transform="translate(1001.4,778.6) scale(0.935,1)" font-size="26" text-anchor="end" fill="#111" stroke="#111" stroke-width="0.4">6000</text>
<text transform="translate(1001.4,806.1) scale(0.935,1)" font-size="26" text-anchor="end" fill="#111" stroke="#111" stroke-width="0.4">5000</text>
<text transform="translate(1001.4,833.6) scale(0.935,1)" font-size="26" text-anchor="end" fill="#111" stroke="#111" stroke-width="0.4">4000</text>
<text transform="translate(1001.4,861.1) scale(0.935,1)" font-size="26" text-anchor="end" fill="#111" stroke="#111" stroke-width="0.4">3000</text>
<text transform="translate(1001.4,888.5) scale(0.935,1)" font-size="26" text-anchor="end" fill="#111" stroke="#111" stroke-width="0.4">2000</text>
<text transform="translate(1001.4,916.0) scale(0.935,1)" font-size="26" text-anchor="end" fill="#111" stroke="#111" stroke-width="0.4">1000</text>
<text transform="translate(994.0,943.2) scale(0.935,1)" font-size="26" text-anchor="middle" fill="#111" stroke="#111" stroke-width="0.4">0</text>
<text transform="translate(1123.9,961.3) scale(1.025,1)" font-size="24" text-anchor="middle" fill="#111" stroke="#111" stroke-width="0.4">30000</text>
<text transform="translate(1245.7,961.3) scale(1.025,1)" font-size="24" text-anchor="middle" fill="#111" stroke="#111" stroke-width="0.4">40000</text>
<text transform="translate(1367.8,961.3) scale(1.025,1)" font-size="24" text-anchor="middle" fill="#111" stroke="#111" stroke-width="0.4">50000</text>
<text transform="translate(1490.1,961.3) scale(1.025,1)" font-size="24" text-anchor="middle" fill="#111" stroke="#111" stroke-width="0.4">60000</text>
<text transform="translate(1613.0,961.3) scale(1.025,1)" font-size="24" text-anchor="middle" fill="#111" stroke="#111" stroke-width="0.4">70000</text>
<text transform="translate(1716.4,961.3) scale(1.025,1)" font-size="24" text-anchor="middle" fill="#111" stroke="#111" stroke-width="0.4">80000</text>
<text transform="translate(1425.7,1006.0) scale(1.030,1)" font-size="38" text-anchor="middle" fill="#111" stroke="#111" stroke-width="0.4">sin</text>
<text transform="translate(932.8,716.3) rotate(-90) scale(1.010,1)" font-size="39.3" text-anchor="middle" fill="#111" stroke="#111" stroke-width="0.4">cps</text>
<text transform="translate(1746.3,553.9) scale(0.980,1)" font-size="36.6" text-anchor="end" fill="#1a1a1a" stroke="#1a1a1a" stroke-width="0.4">Discocyclina</text>
<text transform="translate(1211.0,544.0) scale(0.935,1)" font-size="26" text-anchor="middle" fill="#111" stroke="#111" stroke-width="0.4">CaKa</text>
<text transform="translate(1076.6,838.6) scale(0.935,1)" font-size="26" text-anchor="middle" fill="#111" stroke="#111" stroke-width="0.4">SiKa</text>
<text transform="translate(1173.5,855.0) scale(0.935,1)" font-size="26" text-anchor="middle" fill="#111" stroke="#111" stroke-width="0.4">CaKb</text>
<text transform="translate(1125.0,873.8) scale(0.935,1)" font-size="26" text-anchor="middle" fill="#111" stroke="#111" stroke-width="0.4">AlKa</text>
<text transform="translate(1328.5,904.0) scale(0.935,1)" font-size="26" text-anchor="middle" fill="#111" stroke="#111" stroke-width="0.4">FeKa</text>
<text transform="translate(1679.0,900.0) scale(0.935,1)" font-size="26" text-anchor="middle" fill="#111" stroke="#111" stroke-width="0.4">CaKb</text>
<text transform="translate(1707.8,927.5) scale(0.935,1)" font-size="26" text-anchor="middle" fill="#111" stroke="#111" stroke-width="0.4">CaKb</text>
<rect x="118.5" y="1049.5" width="759.4" height="436.0" fill="none" stroke="#000" stroke-width="2.8"/>
<clipPath id="c5"><rect x="117.1" y="1048.1" width="760.8" height="444.0"/></clipPath>
<g clip-path="url(#c5)">
<path d="M120.5,1485.2 H378.5" stroke="#d8242b" stroke-width="1.6" stroke-dasharray="7 4 3 5 9 6" fill="none"/>
<path d="M120.1,1481.4 L121.9,1478.9 L123.6,1478.2 L125.2,1480.0 L127.2,1479.6 L128.9,1479.7 L130.2,1472.0 L131.9,1480.3 L133.9,1477.4 L135.2,1477.0 L136.9,1480.6 L138.4,1483.8 L139.6,1480.1 L141.1,1480.4 L143.0,1478.0 L144.5,1481.2 L146.3,1476.2 L147.6,1481.2 L149.5,1481.4 L150.8,1476.8 L152.0,1475.6 L153.7,1478.4 L155.6,1476.0 L157.4,1475.3 L159.0,1476.1 L161.0,1474.3 L162.7,1481.5 L164.3,1471.0 L165.7,1478.0 L167.2,1479.1 L169.0,1481.9 L170.8,1481.0 L172.5,1476.0 L174.1,1478.5 L175.8,1480.9 L177.7,1482.0 L179.3,1477.2 L181.1,1481.1 L182.7,1481.4 L184.4,1480.9 L186.2,1479.8 L187.7,1480.7 L189.1,1480.5 L190.8,1481.7 L192.3,1481.1 L193.8,1476.1 L195.3,1483.7 L197.1,1481.7 L198.8,1472.0 L200.7,1479.3 L202.0,1482.8 L203.4,1481.9 L205.3,1481.9 L206.8,1482.6 L208.4,1477.6 L210.2,1480.9 L212.2,1480.7 L214.2,1481.6 L215.9,1481.2 L217.5,1481.8 L219.0,1481.4 L220.5,1475.0 L222.4,1482.7 L223.9,1478.4 L225.3,1482.0 L227.1,1482.3 L228.4,1482.9 L229.7,1483.3 L231.6,1479.1 L233.5,1472.0 L234.9,1483.2 L236.3,1479.8 L237.7,1481.7 L238.9,1477.4 L240.2,1482.4 L242.2,1481.8 L243.9,1484.1 L245.3,1482.4 L246.6,1481.3 L248.4,1481.9 L249.7,1482.3 L251.1,1481.4 L252.5,1476.9 L254.4,1482.7 L255.9,1481.4 L257.4,1477.6 L259.0,1479.4 L260.8,1482.5 L262.0,1478.9 L263.6,1478.3 L264.9,1480.7 L266.8,1480.4 L268.2,1481.2 L269.7,1477.3 L271.6,1478.3 L273.4,1479.8 L274.7,1484.3 L276.3,1482.2 L277.7,1483.1 L279.6,1480.8 L280.9,1485.1 L282.1,1475.8 L283.4,1481.9 L284.8,1483.4 L286.8,1480.4 L288.0,1482.2 L289.7,1479.5 L291.3,1483.0 L293.2,1482.4 L294.5,1482.2 L296.0,1481.2 L297.5,1482.8 L298.8,1481.3 L300.3,1482.8 L302.0,1481.8 L303.7,1477.3 L305.6,1482.5 L307.0,1482.5 L308.7,1481.2 L310.5,1478.2 L312.0,1482.2 L313.8,1479.1 L315.4,1477.2 L317.3,1483.3 L319.3,1485.0 L321.1,1482.5 L322.8,1484.4 L324.2,1481.1 L325.6,1482.7 L327.5,1483.1 L329.1,1480.5 L331.0,1480.6 L332.9,1483.7 L334.5,1482.9 L335.7,1482.7 L337.2,1476.9 L338.9,1484.2 L340.7,1483.2 L342.2,1483.9 L344.1,1482.6 L345.9,1476.4 L347.6,1483.0 L349.0,1478.8 L350.6,1480.6 L352.2,1482.8 L354.0,1483.9 L355.4,1484.0 L357.2,1482.3 L359.1,1482.6 L361.1,1482.8 L362.4,1481.1 L363.8,1481.1 L365.5,1479.5 L367.0,1480.1 L368.8,1480.8 L370.1,1481.2 L371.9,1482.7 L373.8,1478.8 L375.1,1480.8 L376.9,1482.6 L378.4,1479.8 L380.0,1476.0 L381.7,1482.8 L383.5,1480.2 L385.3,1481.8 L387.2,1483.0 L388.9,1480.7 L390.9,1483.6 L392.4,1482.6 L393.6,1482.7 L394.8,1481.2 L396.1,1483.1 L397.3,1484.0 L399.2,1484.2 L401.1,1484.4 L402.6,1478.1 L404.4,1485.0 L405.9,1482.9 L407.2,1481.3 L409.1,1480.3 L411.1,1483.2 L413.1,1481.1 L414.9,1483.9 L416.8,1482.9 L418.3,1483.5 L419.7,1483.5 L421.0,1485.4 L422.6,1484.1 L424.2,1480.3 L425.6,1484.1 L427.2,1483.3 L428.7,1479.8 L430.5,1483.8 L432.1,1482.2 L433.8,1481.5 L435.2,1478.6 L437.1,1482.9 L438.6,1483.4 L440.1,1481.6 L441.9,1483.1 L443.5,1482.4 L445.3,1483.9 L446.6,1479.3 L448.2,1484.1 L449.9,1482.2 L451.3,1478.6 L452.9,1481.9 L454.2,1480.9 L455.9,1483.3 L457.7,1484.1 L459.1,1484.1 L460.8,1484.4 L462.1,1483.0 L463.8,1484.4 L465.3,1480.1 L466.5,1480.5 L467.9,1483.7 L469.7,1484.5 L471.1,1478.8 L472.3,1484.0 L473.8,1480.6 L475.3,1479.5 L476.6,1479.9 L478.3,1480.4 L480.2,1484.0 L482.0,1483.9 L483.6,1484.9 L485.0,1483.1 L486.7,1481.9 L488.0,1481.7 L489.6,1484.3 L490.8,1483.7 L492.6,1480.0 L494.3,1484.9 L495.8,1482.1 L497.8,1480.6 L499.0,1481.1 L500.5,1481.2 L502.1,1483.4 L503.7,1478.7 L505.0,1484.1 L506.9,1482.0 L508.4,1483.5 L510.2,1484.4 L511.6,1483.2 L513.2,1483.3 L514.5,1482.8 L516.1,1484.6 L517.3,1482.0 L519.0,1483.5 L520.9,1481.5 L522.2,1483.4 L523.7,1483.6 L525.7,1480.3 L527.2,1483.3 L529.0,1480.8 L530.9,1482.5 L532.8,1483.4 L534.2,1483.8 L536.1,1483.4 L537.4,1483.2 L538.7,1480.2 L540.1,1482.3 L541.4,1484.3 L543.0,1480.4 L544.5,1484.7 L546.3,1480.6 L548.0,1480.0 L549.9,1482.9 L551.5,1480.3 L552.8,1484.2 L554.2,1483.5 L555.6,1481.6 L556.9,1484.4 L558.3,1483.6 L559.7,1483.6 L561.1,1483.4 L562.6,1484.9 L564.3,1483.9 L565.9,1481.8 L567.5,1482.1 L568.8,1483.1 L570.5,1483.7 L571.8,1483.9 L573.7,1484.4 L575.2,1483.6 L577.0,1478.1 L579.0,1480.7 L580.4,1482.2 L581.8,1483.9 L583.3,1479.1 L584.9,1484.1 L586.3,1483.9 L587.5,1484.0 L588.9,1479.3 L590.1,1482.2 L591.5,1482.3 L593.5,1481.3 L594.9,1482.0 L596.1,1483.9 L597.9,1480.9 L599.3,1481.6 L600.6,1483.3 L602.4,1483.4 L603.9,1484.4 L605.2,1480.3 L606.7,1483.1 L608.1,1483.4 L609.8,1483.7 L611.5,1483.5 L613.1,1480.3 L614.7,1482.4 L616.4,1483.6 L618.2,1481.7 L619.4,1483.0 L620.7,1483.4 L621.9,1484.1 L623.3,1483.7 L624.9,1483.8 L626.5,1484.7 L627.7,1484.5 L629.2,1484.2 L631.0,1483.7 L632.7,1479.9 L634.3,1483.6 L635.8,1485.6 L637.8,1480.1 L639.6,1482.6 L641.4,1479.6 L642.9,1478.8 L644.8,1484.5 L646.5,1480.9 L648.2,1478.1 L649.4,1481.6 L651.3,1483.2 L652.8,1483.7 L654.1,1482.3 L655.6,1483.4 L656.9,1484.0 L658.2,1484.6 L659.6,1482.8 L660.9,1483.6 L662.7,1481.6 L664.6,1479.6 L665.9,1484.3 L667.9,1484.1 L669.4,1482.2 L671.0,1484.0 L672.3,1482.4 L674.1,1483.7 L675.4,1482.0 L677.3,1484.0 L679.3,1478.2 L681.1,1483.9 L682.7,1482.5 L684.3,1483.2 L685.9,1482.1 L687.9,1480.9 L689.3,1484.4 L690.8,1483.7 L692.3,1483.6 L694.1,1483.0 L695.4,1483.6 L697.2,1483.9 L698.4,1478.5 L699.9,1483.0 L701.8,1481.2 L703.3,1483.7 L704.9,1483.8 L706.7,1480.8 L708.5,1482.7 L710.2,1484.0 L712.0,1484.0 L713.7,1482.3 L715.4,1483.9 L716.7,1482.6 L718.2,1483.6 L719.8,1484.5 L721.1,1484.4 L723.0,1481.1 L724.4,1483.3 L726.1,1483.5 L727.4,1481.2 L729.2,1483.5 L731.0,1482.8 L732.2,1484.6 L733.6,1483.6 L735.0,1484.5 L736.6,1484.1 L738.3,1483.7 L740.1,1484.0 L741.6,1483.5 L742.8,1484.9 L744.6,1485.2 L746.3,1481.7 L748.1,1479.9 L750.1,1484.7 L751.5,1482.2 L753.3,1483.6 L754.7,1484.9 L756.0,1483.8 L757.4,1483.8 L758.9,1484.3 L760.6,1484.8 L762.5,1483.4 L764.4,1483.7 L766.1,1484.1 L767.7,1482.1 L769.1,1483.6 L770.5,1483.9 L772.0,1482.7 L773.5,1482.2 L775.4,1480.5 L776.7,1483.5 L778.3,1483.7 L779.9,1481.4 L781.3,1480.5 L783.2,1485.0 L784.6,1483.5 L786.2,1482.0 L787.9,1481.3 L789.6,1483.9 L791.2,1485.2 L792.6,1484.0 L794.6,1483.0 L796.5,1484.1 L797.8,1481.5 L799.5,1481.0 L801.3,1483.6 L802.8,1481.7 L804.0,1482.9 L805.4,1484.1 L807.1,1483.7 L808.6,1480.9 L810.3,1484.2 L811.9,1484.0 L813.7,1483.8 L815.1,1484.3 L816.6,1484.4 L818.0,1482.6 L819.6,1484.1 L820.8,1481.6 L822.6,1482.2 L824.6,1484.8 L826.2,1483.7 L828.1,1483.7 L830.0,1483.7 L831.6,1482.6 L833.5,1483.0 L835.1,1483.2 L836.6,1484.3 L838.2,1480.2 L840.0,1484.4 L841.7,1484.2 L843.5,1482.5 L844.8,1482.8 L846.4,1484.5 L848.0,1483.8 L849.4,1484.0 L850.9,1483.2 L852.3,1483.8 L853.8,1483.3 L855.3,1484.0 L856.6,1482.0 L858.5,1483.9 L860.4,1484.5 L862.2,1483.8 L863.4,1483.7 L864.8,1483.3 L866.3,1484.1 L867.6,1480.6 L869.4,1484.7 L871.3,1483.3 L872.7,1484.4 L874.7,1480.4 L876.1,1482.9 L876.4,1486.0 L875.0,1486.5 L873.0,1486.1 L871.6,1485.7 L869.7,1485.3 L867.9,1485.2 L866.6,1485.1 L865.1,1485.4 L863.7,1485.9 L862.5,1485.6 L860.7,1485.8 L858.8,1485.1 L856.9,1486.1 L855.6,1485.3 L854.1,1486.8 L852.6,1485.6 L851.2,1485.1 L849.7,1485.0 L848.3,1486.2 L846.7,1484.7 L845.1,1485.0 L843.8,1485.2 L842.0,1485.8 L840.3,1486.5 L838.5,1485.2 L836.9,1485.3 L835.4,1486.5 L833.8,1485.6 L831.9,1485.5 L830.3,1485.1 L828.4,1485.2 L826.5,1485.2 L824.9,1485.0 L822.9,1485.3 L821.1,1486.2 L819.9,1485.5 L818.3,1485.2 L816.9,1485.2 L815.4,1485.4 L814.0,1485.8 L812.2,1485.3 L810.6,1485.9 L808.9,1485.7 L807.4,1486.0 L805.7,1485.9 L804.3,1486.2 L803.1,1485.2 L801.6,1485.1 L799.8,1486.3 L798.1,1486.3 L796.8,1485.2 L794.9,1485.3 L792.9,1485.1 L791.5,1485.3 L789.9,1485.0 L788.2,1485.3 L786.5,1485.4 L784.9,1485.1 L783.5,1485.6 L781.6,1484.9 L780.2,1485.7 L778.6,1485.8 L777.0,1486.0 L775.7,1485.2 L773.8,1485.7 L772.3,1485.2 L770.8,1485.2 L769.4,1485.1 L768.0,1487.4 L766.4,1485.4 L764.7,1485.1 L762.8,1485.3 L760.9,1485.1 L759.2,1485.2 L757.7,1485.3 L756.3,1485.2 L755.0,1484.9 L753.6,1486.5 L751.8,1485.3 L750.4,1485.3 L748.4,1485.9 L746.6,1485.3 L744.9,1485.2 L743.1,1485.2 L741.9,1485.0 L740.4,1485.1 L738.6,1485.4 L736.9,1485.0 L735.3,1485.2 L733.9,1485.1 L732.5,1485.1 L731.3,1486.4 L729.5,1484.9 L727.7,1486.2 L726.4,1485.0 L724.7,1485.0 L723.3,1485.3 L721.4,1485.1 L720.1,1485.2 L718.5,1486.0 L717.0,1485.1 L715.7,1486.9 L714.0,1487.6 L712.3,1485.9 L710.5,1486.3 L708.8,1486.8 L707.0,1485.2 L705.2,1485.1 L703.6,1485.9 L702.1,1485.5 L700.2,1485.0 L698.7,1485.1 L697.5,1485.5 L695.7,1484.9 L694.4,1485.3 L692.6,1486.1 L691.1,1485.7 L689.6,1484.5 L688.2,1484.8 L686.2,1485.2 L684.6,1485.2 L683.0,1486.1 L681.4,1485.2 L679.6,1485.2 L677.6,1485.1 L675.7,1485.1 L674.4,1485.8 L672.6,1485.4 L671.3,1485.0 L669.7,1485.7 L668.2,1485.4 L666.2,1485.7 L664.9,1487.2 L663.0,1485.3 L661.2,1487.7 L659.9,1485.3 L658.5,1485.8 L657.2,1485.3 L655.9,1486.0 L654.4,1485.9 L653.1,1486.4 L651.6,1486.5 L649.7,1487.0 L648.5,1485.9 L646.8,1485.2 L645.1,1485.2 L643.2,1485.0 L641.7,1485.2 L639.9,1485.2 L638.1,1486.0 L636.1,1485.0 L634.6,1484.9 L633.0,1485.8 L631.3,1484.9 L629.5,1485.1 L628.0,1485.3 L626.8,1485.2 L625.2,1485.3 L623.6,1487.0 L622.2,1487.3 L621.0,1485.8 L619.7,1485.3 L618.5,1486.0 L616.7,1485.9 L615.0,1485.1 L613.4,1486.1 L611.8,1485.2 L610.1,1484.9 L608.4,1485.1 L607.0,1485.9 L605.5,1485.4 L604.2,1484.9 L602.7,1485.0 L600.9,1486.1 L599.6,1485.4 L598.2,1485.1 L596.4,1486.8 L595.2,1485.5 L593.8,1484.9 L591.8,1485.5 L590.4,1485.7 L589.2,1485.3 L587.8,1485.3 L586.6,1486.3 L585.2,1485.2 L583.6,1485.6 L582.1,1485.1 L580.7,1486.1 L579.3,1486.3 L577.3,1485.1 L575.5,1485.2 L574.0,1485.0 L572.1,1486.4 L570.8,1486.5 L569.1,1484.7 L567.8,1486.9 L566.2,1485.2 L564.6,1485.1 L562.9,1485.3 L561.4,1485.9 L560.0,1485.0 L558.6,1485.0 L557.2,1487.0 L555.9,1485.7 L554.5,1485.4 L553.1,1485.3 L551.8,1485.9 L550.2,1485.1 L548.3,1486.1 L546.6,1485.8 L544.8,1485.9 L543.3,1485.1 L541.7,1485.0 L540.4,1485.2 L539.0,1485.3 L537.7,1485.4 L536.4,1485.6 L534.5,1484.9 L533.1,1485.0 L531.2,1485.0 L529.3,1485.0 L527.5,1485.4 L526.0,1485.1 L524.0,1486.6 L522.5,1485.9 L521.2,1485.3 L519.3,1484.3 L517.6,1484.9 L516.4,1485.9 L514.8,1485.4 L513.5,1485.2 L511.9,1485.0 L510.5,1485.1 L508.7,1485.0 L507.2,1485.1 L505.3,1485.2 L504.0,1485.3 L502.4,1484.9 L500.8,1485.0 L499.3,1485.2 L498.1,1486.2 L496.1,1485.2 L494.6,1485.4 L492.9,1486.4 L491.1,1485.2 L489.9,1484.9 L488.3,1485.3 L487.0,1485.8 L485.3,1485.1 L483.9,1486.0 L482.3,1485.3 L480.5,1486.2 L478.6,1485.3 L476.9,1485.3 L475.6,1486.2 L474.1,1486.0 L472.6,1485.6 L471.4,1485.1 L470.0,1486.3 L468.2,1485.7 L466.8,1485.3 L465.6,1486.1 L464.1,1484.8 L462.4,1486.2 L461.1,1486.1 L459.4,1485.3 L458.0,1485.7 L456.2,1485.2 L454.5,1485.8 L453.2,1485.8 L451.6,1485.3 L450.2,1485.2 L448.5,1484.8 L446.9,1485.9 L445.6,1485.1 L443.8,1485.2 L442.2,1485.3 L440.4,1485.2 L438.9,1485.1 L437.4,1485.1 L435.5,1487.3 L434.1,1486.3 L432.4,1485.2 L430.8,1485.2 L429.0,1487.2 L427.5,1484.6 L425.9,1485.7 L424.5,1485.8 L422.9,1485.3 L421.3,1485.5 L420.0,1485.2 L418.6,1486.1 L417.1,1485.2 L415.2,1486.5 L413.4,1485.4 L411.4,1485.2 L409.4,1485.2 L407.5,1486.2 L406.2,1486.4 L404.7,1486.5 L402.9,1485.3 L401.4,1486.3 L399.5,1484.6 L397.6,1486.4 L396.4,1487.7 L395.1,1487.9 L393.9,1486.4 L392.7,1485.3 L391.2,1485.2 L389.2,1485.7 L387.5,1485.3 L385.6,1484.9 L383.8,1485.2 L382.0,1485.8 L380.3,1485.1 L378.7,1486.2 L377.2,1485.2 L375.4,1485.6 L374.1,1485.2 L372.2,1484.7 L370.4,1485.6 L369.1,1485.0 L367.3,1484.9 L365.8,1485.7 L364.1,1486.6 L362.7,1485.4 L361.4,1486.1 L359.4,1485.0 L357.5,1485.7 L355.7,1484.8 L354.3,1486.8 L352.5,1485.6 L350.9,1486.7 L349.3,1485.2 L347.9,1485.2 L346.2,1485.1 L344.4,1486.9 L342.5,1485.0 L341.0,1485.3 L339.2,1485.2 L337.5,1485.2 L336.0,1486.3 L334.8,1485.2 L333.2,1484.5 L331.3,1487.1 L329.4,1485.5 L327.8,1485.1 L325.9,1485.9 L324.5,1486.6 L323.1,1485.5 L321.4,1485.6 L319.6,1485.1 L317.6,1485.6 L315.7,1485.1 L314.1,1486.0 L312.3,1485.4 L310.8,1485.2 L309.0,1485.4 L307.3,1485.1 L305.9,1485.7 L304.0,1485.2 L302.3,1484.9 L300.6,1487.0 L299.1,1486.2 L297.8,1485.2 L296.3,1485.6 L294.8,1485.7 L293.5,1486.4 L291.6,1485.2 L290.0,1485.1 L288.3,1485.8 L287.1,1486.5 L285.1,1486.3 L283.7,1485.7 L282.4,1486.3 L281.2,1485.0 L279.9,1485.3 L278.0,1484.6 L276.6,1487.1 L275.0,1487.1 L273.7,1485.9 L271.9,1486.4 L270.0,1485.1 L268.5,1486.6 L267.1,1486.0 L265.2,1485.9 L263.9,1485.0 L262.3,1484.8 L261.1,1485.6 L259.3,1485.0 L257.7,1486.9 L256.2,1486.3 L254.7,1484.7 L252.8,1485.1 L251.4,1485.2 L250.0,1485.2 L248.7,1485.2 L246.9,1486.4 L245.6,1485.2 L244.2,1485.3 L242.5,1485.6 L240.5,1485.7 L239.2,1485.8 L238.0,1485.2 L236.6,1485.2 L235.2,1484.6 L233.8,1485.3 L231.9,1484.8 L230.0,1485.0 L228.7,1485.5 L227.4,1485.7 L225.6,1487.5 L224.2,1485.1 L222.7,1486.0 L220.8,1484.5 L219.3,1484.8 L217.8,1486.2 L216.2,1485.1 L214.5,1486.9 L212.5,1485.0 L210.5,1485.2 L208.7,1486.5 L207.1,1488.5 L205.6,1485.1 L203.7,1488.5 L202.3,1484.7 L201.0,1485.3 L199.1,1485.0 L197.4,1485.0 L195.6,1484.8 L194.1,1485.7 L192.6,1486.6 L191.1,1485.0 L189.4,1485.6 L188.0,1485.7 L186.5,1489.1 L184.7,1485.2 L183.0,1485.0 L181.4,1484.7 L179.6,1487.4 L178.0,1484.3 L176.1,1484.6 L174.4,1484.8 L172.8,1485.4 L171.1,1485.0 L169.3,1486.8 L167.5,1484.6 L166.0,1485.9 L164.6,1485.2 L163.0,1485.4 L161.3,1484.4 L159.3,1487.4 L157.7,1485.1 L155.9,1485.6 L154.0,1484.9 L152.3,1485.3 L151.1,1486.9 L149.8,1485.2 L147.9,1486.9 L146.6,1484.5 L144.8,1486.6 L143.3,1487.4 L141.4,1485.3 L139.9,1484.5 L138.7,1485.6 L137.2,1486.3 L135.5,1486.2 L134.2,1485.1 L132.2,1485.0 L130.5,1485.2 L129.2,1485.4 L127.5,1485.1 L125.5,1485.3 L123.9,1485.2 L122.2,1485.3 L120.4,1484.8Z" fill="#2f54a4" stroke="#2f54a4" stroke-width="0.6" stroke-linejoin="round"/>
<path d="M120.1,1474.5 L121.3,1476.2 L123.2,1476.8 L124.5,1479.6 L126.1,1470.8 L127.7,1479.3 L129.4,1478.2 L130.7,1474.4 L132.5,1478.2 L134.1,1479.3 L135.8,1476.6 L137.2,1478.5 L138.8,1480.4 L140.2,1481.5 L142.0,1479.0 L143.7,1481.8 L145.5,1477.7 L147.0,1479.1 L148.5,1477.8 L149.6,1476.5 L150.9,1481.4 L152.0,1478.9 L153.4,1474.1 L155.2,1479.5 L156.5,1479.6 L158.3,1478.9 L159.6,1478.8 L161.1,1473.8 L162.5,1480.7 L164.0,1478.6 L165.4,1479.0 L166.6,1474.6 L168.3,1474.0 L169.5,1477.5 L171.4,1477.5 L172.5,1480.1 L174.2,1474.2 L175.7,1471.7 L177.5,1478.7 L179.1,1476.6 L180.3,1475.8 L181.9,1480.0 L183.7,1477.3 L185.1,1479.1 L186.9,1476.9 L188.4,1476.7 L190.0,1473.6 L191.7,1478.8 L193.1,1478.7 L194.9,1480.2 L196.5,1474.4 L197.6,1478.8 L198.8,1479.1 L200.1,1479.6 L201.3,1472.0 L202.7,1470.2 L204.1,1479.3 L205.2,1481.2 L206.5,1479.1 L207.8,1472.9 L209.2,1474.6 L210.6,1481.8 L212.0,1475.0 L213.2,1470.6 L215.0,1476.9 L216.2,1481.5 L217.4,1476.5 L218.6,1478.9 L220.4,1479.4 L221.9,1479.7 L223.6,1480.0 L224.9,1478.2 L226.2,1480.0 L227.6,1477.9 L229.4,1480.3 L231.0,1473.7 L232.7,1479.5 L234.3,1473.2 L236.0,1480.5 L237.4,1479.9 L238.6,1477.1 L240.3,1475.7 L241.7,1476.2 L242.9,1481.6 L244.7,1469.7 L246.2,1481.5 L247.9,1476.8 L249.2,1477.1 L250.5,1476.7 L251.8,1476.6 L253.5,1478.8 L255.3,1481.2 L256.7,1477.2 L258.3,1475.4 L260.1,1480.7 L261.6,1479.6 L262.9,1479.8 L264.3,1479.3 L265.9,1474.6 L267.1,1481.2 L268.5,1476.2 L270.2,1481.5 L271.5,1479.7 L272.9,1465.8 L274.7,1475.7 L275.9,1480.3 L277.7,1475.8 L279.1,1478.9 L280.8,1480.2 L282.0,1475.5 L283.5,1476.8 L285.0,1465.0 L286.7,1473.4 L288.3,1481.7 L289.7,1479.1 L290.8,1477.5 L292.3,1480.2 L293.5,1478.9 L295.4,1478.3 L296.7,1477.9 L298.3,1479.3 L299.9,1479.5 L301.3,1480.7 L302.5,1481.1 L304.3,1481.0 L306.2,1477.9 L307.9,1474.0 L309.7,1474.3 L310.8,1477.9 L312.1,1480.9 L313.5,1480.0 L314.8,1481.3 L316.2,1480.6 L317.8,1471.6 L319.2,1473.7 L320.8,1478.6 L322.3,1476.6 L324.1,1479.7 L325.9,1464.2 L327.2,1479.7 L328.8,1471.9 L330.3,1480.1 L331.7,1482.4 L333.5,1478.3 L335.0,1477.5 L336.8,1481.2 L338.1,1481.8 L339.3,1476.9 L340.9,1477.8 L342.1,1480.3 L343.9,1478.3 L345.6,1480.5 L346.7,1479.7 L348.1,1477.2 L349.8,1477.2 L351.1,1476.6 L352.5,1479.7 L354.3,1477.4 L355.5,1474.0 L357.0,1469.0 L358.5,1480.2 L359.7,1480.5 L361.0,1477.2 L362.2,1475.8 L363.6,1478.2 L365.0,1481.2 L366.9,1475.4 L368.4,1481.5 L369.8,1481.2 L371.0,1478.0 L372.5,1480.8 L374.1,1481.7 L375.5,1479.4 L377.3,1482.2 L379.0,1481.7 L380.1,1476.9 L381.9,1480.1 L383.8,1475.4 L385.6,1478.2 L387.3,1473.7 L388.6,1476.6 L389.9,1481.6 L391.1,1480.9 L392.7,1480.1 L394.3,1483.7 L395.4,1478.4 L396.6,1475.6 L398.0,1475.9 L399.1,1469.1 L400.6,1480.9 L402.3,1483.4 L403.5,1479.0 L404.8,1477.1 L406.6,1478.8 L408.2,1481.1 L409.9,1479.5 L411.4,1476.1 L412.7,1480.8 L413.9,1478.0 L415.4,1476.1 L416.6,1476.7 L417.9,1474.7 L419.2,1480.3 L420.3,1478.5 L422.1,1480.4 L423.4,1477.4 L425.2,1475.5 L426.4,1480.9 L428.0,1484.4 L429.5,1480.9 L431.0,1482.8 L432.8,1480.4 L434.0,1478.0 L435.7,1480.9 L436.9,1476.9 L438.8,1481.1 L440.3,1479.2 L441.5,1476.2 L442.7,1477.6 L444.2,1470.2 L445.5,1481.5 L446.8,1479.5 L448.5,1480.6 L450.2,1482.9 L452.1,1480.2 L453.6,1481.2 L455.3,1478.7 L456.8,1480.8 L458.2,1477.7 L460.0,1475.9 L461.6,1474.6 L463.2,1473.2 L464.5,1474.1 L465.8,1481.0 L467.3,1479.6 L468.5,1481.5 L470.3,1479.8 L471.5,1477.1 L473.3,1477.9 L474.8,1482.9 L476.7,1478.5 L477.9,1480.4 L479.7,1477.4 L480.9,1475.0 L482.8,1481.8 L484.6,1481.4 L486.3,1476.9 L487.6,1476.9 L489.3,1475.4 L491.0,1480.1 L492.8,1476.9 L494.0,1477.5 L495.1,1480.0 L496.5,1478.3 L498.0,1481.5 L499.2,1481.8 L500.8,1478.7 L502.0,1481.0 L503.3,1475.8 L505.1,1482.5 L506.7,1481.4 L508.3,1482.4 L510.1,1479.8 L511.3,1480.9 L512.5,1471.7 L513.7,1478.3 L515.1,1481.5 L516.5,1478.5 L517.9,1479.2 L519.7,1480.8 L520.9,1481.0 L522.6,1476.3 L524.2,1479.1 L526.0,1477.2 L527.5,1481.0 L528.7,1482.5 L530.4,1472.0 L531.8,1481.9 L533.1,1479.0 L534.5,1480.7 L536.2,1481.8 L537.9,1482.4 L539.7,1480.2 L541.0,1479.4 L542.2,1476.5 L543.8,1481.9 L545.6,1474.0 L547.1,1482.2 L548.3,1478.6 L549.7,1477.6 L551.1,1477.5 L552.6,1480.6 L553.8,1479.4 L555.0,1482.7 L556.8,1482.6 L558.1,1481.1 L559.4,1480.9 L560.8,1482.3 L562.1,1482.3 L563.8,1481.0 L565.2,1474.7 L567.0,1479.3 L568.4,1471.6 L570.0,1481.1 L571.8,1478.4 L573.4,1483.3 L575.1,1479.9 L576.6,1478.6 L577.8,1480.4 L579.5,1475.3 L581.3,1482.4 L583.0,1480.9 L584.2,1481.8 L585.6,1482.6 L586.9,1481.2 L588.2,1476.5 L589.4,1468.5 L591.0,1481.2 L592.2,1481.5 L593.8,1480.5 L595.5,1482.1 L597.0,1479.2 L598.8,1481.8 L600.6,1481.1 L602.2,1482.0 L603.8,1475.5 L605.0,1477.2 L606.8,1480.0 L608.1,1477.0 L609.6,1477.2 L611.0,1482.9 L612.5,1473.9 L614.0,1477.2 L615.4,1482.7 L616.5,1481.1 L617.8,1481.0 L619.2,1475.4 L620.8,1478.1 L622.1,1476.4 L623.7,1481.5 L625.6,1479.9 L627.0,1481.6 L628.2,1477.6 L630.0,1475.6 L631.7,1481.5 L633.2,1482.4 L634.4,1475.3 L636.1,1481.5 L637.4,1473.4 L638.6,1484.0 L640.4,1483.1 L642.0,1477.5 L643.4,1479.9 L645.1,1479.2 L646.6,1478.6 L648.0,1481.4 L649.1,1479.5 L650.9,1482.5 L652.2,1481.8 L654.0,1480.1 L655.1,1482.5 L656.5,1478.2 L657.8,1480.7 L659.5,1481.6 L661.3,1481.4 L662.6,1479.1 L664.4,1482.9 L665.9,1482.1 L667.7,1479.3 L669.4,1482.3 L670.9,1481.1 L672.7,1482.5 L674.0,1477.4 L675.3,1475.8 L676.6,1472.5 L678.0,1481.2 L679.8,1482.0 L681.1,1481.1 L682.7,1476.8 L684.5,1481.8 L686.0,1481.2 L687.6,1480.7 L688.9,1482.2 L690.5,1477.3 L692.1,1480.4 L693.9,1482.1 L695.3,1476.1 L696.8,1479.1 L698.2,1478.7 L699.8,1479.1 L701.4,1479.9 L702.6,1475.3 L704.5,1484.8 L706.2,1481.7 L707.5,1481.2 L709.1,1481.2 L710.8,1477.2 L712.4,1483.1 L713.8,1473.9 L715.1,1481.9 L716.8,1482.3 L718.1,1482.3 L720.0,1482.6 L721.3,1481.1 L722.9,1479.3 L724.5,1481.1 L726.0,1481.6 L727.5,1477.3 L728.8,1482.0 L730.2,1477.4 L731.6,1482.2 L732.8,1482.5 L734.5,1480.8 L736.0,1481.7 L737.3,1482.5 L738.5,1481.4 L739.9,1477.0 L741.5,1483.3 L743.2,1482.7 L744.5,1480.7 L745.9,1480.3 L747.6,1477.0 L749.5,1485.1 L751.1,1481.0 L752.9,1479.6 L754.5,1482.0 L755.8,1481.5 L757.5,1476.2 L758.7,1481.9 L760.1,1482.8 L761.7,1481.4 L763.2,1481.6 L764.9,1480.4 L766.7,1482.2 L768.0,1482.2 L769.8,1481.3 L771.1,1477.5 L772.5,1481.2 L773.7,1474.4 L775.0,1477.1 L776.2,1481.8 L777.9,1482.1 L779.6,1482.3 L781.2,1479.4 L782.9,1480.8 L784.6,1481.8 L786.2,1482.4 L787.4,1481.5 L789.0,1482.1 L790.5,1478.9 L791.9,1480.6 L793.3,1477.8 L795.2,1479.3 L796.4,1482.9 L798.1,1476.8 L799.7,1483.2 L800.8,1481.8 L802.4,1482.5 L804.1,1477.3 L805.3,1477.6 L807.0,1482.7 L808.5,1480.7 L809.7,1478.1 L811.0,1481.6 L812.8,1481.9 L814.2,1481.1 L815.9,1481.8 L817.4,1479.8 L818.8,1475.0 L820.6,1483.4 L822.4,1481.5 L824.2,1478.9 L826.1,1481.9 L827.7,1483.2 L829.3,1481.7 L831.1,1478.0 L832.2,1478.4 L833.4,1482.0 L835.2,1482.6 L836.8,1477.0 L838.7,1479.4 L840.3,1482.6 L841.6,1482.9 L843.4,1482.3 L844.8,1477.7 L846.1,1482.1 L847.8,1481.2 L849.2,1481.1 L850.5,1478.9 L852.0,1481.5 L853.3,1480.1 L854.8,1479.8 L855.9,1481.6 L857.4,1481.3 L859.1,1476.4 L861.0,1471.0 L862.8,1481.8 L864.6,1479.8 L866.1,1480.0 L867.9,1481.8 L869.2,1477.4 L870.7,1476.5 L872.0,1476.6 L873.5,1479.4 L874.9,1483.1 L875.2,1485.4 L873.8,1485.1 L872.3,1485.7 L871.0,1485.7 L869.5,1486.3 L868.2,1486.4 L866.4,1485.1 L864.9,1485.6 L863.1,1486.4 L861.3,1485.1 L859.4,1485.2 L857.7,1485.2 L856.2,1484.8 L855.1,1485.5 L853.6,1485.0 L852.3,1485.1 L850.8,1486.0 L849.5,1485.4 L848.1,1485.1 L846.4,1485.5 L845.1,1485.3 L843.7,1485.1 L841.9,1485.1 L840.6,1484.8 L839.0,1485.6 L837.1,1485.0 L835.5,1485.4 L833.7,1485.2 L832.5,1485.7 L831.4,1485.0 L829.6,1485.2 L828.0,1485.2 L826.4,1485.4 L824.5,1485.3 L822.7,1485.5 L820.9,1485.8 L819.1,1486.1 L817.7,1485.2 L816.2,1485.3 L814.5,1485.5 L813.1,1485.9 L811.3,1485.2 L810.0,1485.6 L808.8,1485.9 L807.3,1485.8 L805.6,1485.6 L804.4,1485.7 L802.7,1485.7 L801.1,1487.5 L800.0,1484.8 L798.4,1485.2 L796.7,1487.4 L795.5,1485.4 L793.6,1486.1 L792.2,1487.0 L790.8,1486.5 L789.3,1485.0 L787.7,1485.1 L786.5,1485.3 L784.9,1486.0 L783.2,1486.1 L781.5,1485.7 L779.9,1485.1 L778.2,1485.3 L776.5,1485.8 L775.3,1486.3 L774.0,1485.3 L772.8,1486.6 L771.4,1484.7 L770.1,1485.2 L768.3,1485.1 L767.0,1485.9 L765.2,1485.3 L763.5,1487.8 L762.0,1484.8 L760.4,1485.1 L759.0,1485.7 L757.8,1484.9 L756.1,1485.1 L754.8,1485.3 L753.2,1486.4 L751.4,1485.4 L749.8,1485.8 L747.9,1485.2 L746.2,1485.3 L744.8,1484.9 L743.5,1485.1 L741.8,1485.1 L740.2,1485.2 L738.8,1485.9 L737.6,1485.3 L736.3,1485.0 L734.8,1486.3 L733.1,1485.3 L731.9,1486.1 L730.5,1486.1 L729.1,1486.3 L727.8,1485.1 L726.3,1484.9 L724.8,1485.2 L723.2,1486.2 L721.6,1485.4 L720.3,1486.7 L718.4,1485.3 L717.1,1485.1 L715.4,1484.9 L714.1,1487.0 L712.7,1485.6 L711.1,1485.1 L709.4,1486.1 L707.8,1484.9 L706.5,1485.5 L704.8,1484.7 L702.9,1486.2 L701.7,1485.9 L700.1,1485.8 L698.5,1485.5 L697.1,1485.3 L695.6,1485.3 L694.2,1485.5 L692.4,1485.9 L690.8,1485.1 L689.2,1486.5 L687.9,1485.2 L686.3,1485.1 L684.8,1485.6 L683.0,1485.8 L681.4,1487.9 L680.1,1484.8 L678.3,1485.3 L676.9,1484.7 L675.6,1485.2 L674.3,1485.0 L673.0,1485.1 L671.2,1487.3 L669.7,1485.7 L668.0,1485.2 L666.2,1485.5 L664.7,1485.5 L662.9,1485.2 L661.6,1485.2 L659.8,1484.8 L658.1,1485.2 L656.8,1486.2 L655.4,1485.2 L654.3,1484.9 L652.5,1484.2 L651.2,1486.2 L649.4,1485.5 L648.3,1485.1 L646.9,1486.8 L645.4,1485.6 L643.7,1485.7 L642.3,1485.1 L640.7,1484.9 L638.9,1484.9 L637.7,1484.9 L636.4,1486.6 L634.7,1485.3 L633.5,1485.4 L632.0,1485.2 L630.3,1484.9 L628.5,1485.6 L627.3,1486.7 L625.9,1485.2 L624.0,1485.2 L622.4,1484.6 L621.1,1484.9 L619.5,1485.3 L618.1,1485.4 L616.8,1485.6 L615.7,1485.1 L614.3,1485.2 L612.8,1485.6 L611.3,1486.3 L609.9,1485.6 L608.4,1485.3 L607.1,1485.0 L605.3,1486.8 L604.1,1485.2 L602.5,1485.3 L600.9,1487.8 L599.1,1485.1 L597.3,1484.9 L595.8,1485.4 L594.1,1484.8 L592.5,1485.8 L591.3,1485.4 L589.7,1486.2 L588.5,1485.2 L587.2,1486.1 L585.9,1485.0 L584.5,1484.9 L583.3,1485.0 L581.6,1485.0 L579.8,1485.6 L578.1,1484.9 L576.9,1485.8 L575.4,1484.9 L573.7,1485.4 L572.1,1484.8 L570.3,1485.2 L568.7,1485.0 L567.3,1484.7 L565.5,1485.1 L564.1,1486.9 L562.4,1485.0 L561.1,1485.0 L559.7,1485.3 L558.4,1485.1 L557.1,1486.0 L555.3,1486.1 L554.1,1485.3 L552.9,1485.1 L551.4,1486.7 L550.0,1485.1 L548.6,1485.9 L547.4,1486.2 L545.9,1485.2 L544.1,1485.0 L542.5,1485.0 L541.3,1485.2 L540.0,1484.7 L538.2,1485.0 L536.5,1486.5 L534.8,1485.3 L533.4,1488.3 L532.1,1486.8 L530.7,1485.1 L529.0,1484.9 L527.8,1485.8 L526.3,1485.5 L524.5,1486.1 L522.9,1486.2 L521.2,1485.2 L520.0,1487.3 L518.2,1485.2 L516.8,1486.8 L515.4,1485.3 L514.0,1486.3 L512.8,1486.6 L511.6,1487.0 L510.4,1486.2 L508.6,1485.3 L507.0,1484.9 L505.4,1485.3 L503.6,1485.9 L502.3,1485.0 L501.1,1485.2 L499.5,1485.8 L498.3,1485.2 L496.8,1486.4 L495.4,1485.1 L494.3,1485.0 L493.1,1485.2 L491.3,1485.4 L489.6,1485.0 L487.9,1485.9 L486.6,1486.5 L484.9,1485.0 L483.1,1485.4 L481.2,1486.6 L480.0,1484.4 L478.2,1485.6 L477.0,1485.3 L475.1,1484.9 L473.6,1489.1 L471.8,1484.9 L470.6,1485.4 L468.8,1487.8 L467.6,1485.3 L466.1,1484.5 L464.8,1484.7 L463.5,1486.7 L461.9,1485.6 L460.3,1484.8 L458.5,1485.7 L457.1,1485.1 L455.6,1484.8 L453.9,1485.3 L452.4,1486.3 L450.5,1484.6 L448.8,1485.2 L447.1,1487.1 L445.8,1485.9 L444.5,1485.7 L443.0,1485.0 L441.8,1484.9 L440.6,1485.2 L439.1,1485.5 L437.2,1487.0 L436.0,1486.0 L434.3,1485.3 L433.1,1485.0 L431.3,1485.0 L429.8,1485.3 L428.3,1486.8 L426.7,1486.1 L425.5,1485.8 L423.7,1485.2 L422.4,1485.4 L420.6,1485.9 L419.5,1485.2 L418.2,1484.8 L416.9,1486.1 L415.7,1487.0 L414.2,1486.0 L413.0,1485.1 L411.7,1485.0 L410.2,1489.0 L408.5,1485.2 L406.9,1485.1 L405.1,1485.8 L403.8,1485.7 L402.6,1485.1 L400.9,1486.0 L399.4,1485.7 L398.3,1484.5 L396.9,1485.1 L395.7,1485.8 L394.6,1485.6 L393.0,1485.0 L391.4,1485.1 L390.2,1485.2 L388.9,1485.3 L387.6,1484.9 L385.9,1486.9 L384.1,1487.3 L382.2,1485.0 L380.4,1485.1 L379.3,1484.9 L377.6,1484.6 L375.8,1484.6 L374.4,1486.4 L372.8,1485.4 L371.3,1485.1 L370.1,1486.9 L368.7,1487.5 L367.2,1484.9 L365.3,1485.0 L363.9,1485.9 L362.5,1485.6 L361.3,1484.9 L360.0,1486.9 L358.8,1485.1 L357.3,1485.0 L355.8,1485.3 L354.6,1488.1 L352.8,1484.9 L351.4,1485.7 L350.1,1488.1 L348.4,1485.8 L347.0,1485.3 L345.9,1485.3 L344.2,1486.3 L342.4,1486.6 L341.2,1485.2 L339.6,1485.0 L338.4,1487.7 L337.1,1486.4 L335.3,1485.7 L333.8,1485.1 L332.0,1486.0 L330.6,1485.3 L329.1,1485.1 L327.5,1485.2 L326.2,1485.2 L324.4,1485.1 L322.6,1486.4 L321.1,1485.3 L319.5,1484.4 L318.1,1486.3 L316.5,1485.1 L315.1,1485.0 L313.8,1484.8 L312.4,1486.1 L311.1,1485.3 L310.0,1484.6 L308.2,1485.2 L306.5,1484.8 L304.6,1485.1 L302.8,1485.3 L301.6,1485.2 L300.2,1485.2 L298.6,1486.0 L297.0,1485.2 L295.7,1485.3 L293.8,1486.9 L292.6,1485.1 L291.1,1485.1 L290.0,1485.1 L288.6,1485.0 L287.0,1485.1 L285.3,1485.6 L283.8,1486.2 L282.3,1485.0 L281.1,1488.4 L279.4,1484.3 L278.0,1485.2 L276.2,1486.7 L275.0,1485.0 L273.2,1485.2 L271.8,1484.5 L270.5,1485.9 L268.8,1485.1 L267.4,1486.7 L266.2,1486.3 L264.6,1485.2 L263.2,1486.1 L261.9,1484.9 L260.4,1485.1 L258.6,1486.8 L257.0,1486.5 L255.6,1485.6 L253.8,1485.5 L252.1,1485.4 L250.8,1485.2 L249.5,1485.0 L248.2,1485.1 L246.5,1484.9 L245.0,1486.0 L243.2,1485.0 L242.0,1485.1 L240.6,1484.9 L238.9,1485.8 L237.7,1485.2 L236.3,1484.9 L234.6,1488.6 L233.0,1486.9 L231.3,1484.6 L229.7,1485.2 L227.9,1486.6 L226.5,1485.2 L225.2,1485.1 L223.9,1486.8 L222.2,1485.6 L220.7,1487.4 L218.9,1485.2 L217.7,1484.5 L216.5,1485.8 L215.3,1486.3 L213.5,1484.9 L212.3,1485.8 L210.9,1484.8 L209.5,1485.0 L208.1,1486.2 L206.8,1484.9 L205.5,1486.7 L204.4,1484.8 L203.0,1484.7 L201.6,1487.5 L200.4,1486.6 L199.1,1487.3 L197.9,1484.9 L196.8,1485.3 L195.2,1485.1 L193.4,1486.3 L192.0,1484.9 L190.3,1484.7 L188.7,1486.5 L187.2,1486.6 L185.4,1486.2 L184.0,1485.4 L182.2,1485.1 L180.6,1484.9 L179.4,1488.0 L177.8,1484.7 L176.0,1485.6 L174.5,1483.8 L172.8,1485.1 L171.7,1486.3 L169.8,1485.0 L168.6,1484.3 L166.9,1486.4 L165.7,1485.1 L164.3,1487.4 L162.8,1485.9 L161.4,1485.6 L159.9,1485.0 L158.6,1484.8 L156.8,1485.5 L155.5,1487.1 L153.7,1485.2 L152.3,1487.5 L151.2,1486.0 L149.9,1485.3 L148.8,1486.2 L147.3,1486.6 L145.8,1484.9 L144.0,1485.1 L142.3,1485.0 L140.5,1487.7 L139.1,1485.0 L137.5,1485.6 L136.1,1484.2 L134.4,1486.9 L132.8,1485.5 L131.0,1488.8 L129.7,1484.6 L128.0,1485.0 L126.4,1485.3 L124.8,1491.3 L123.5,1484.7 L121.6,1488.2 L120.4,1484.9Z" fill="#5ab947" stroke="#5ab947" stroke-width="0.6" stroke-linejoin="round"/>
<path d="M241.9,1486.7 Q244.5,1484.2 244.4,1480.7 L244.8,1471.5 L245.7,1469.0 L246.3,1469.0 L247.2,1471.5 L247.6,1480.7 Q247.5,1484.2 250.1,1486.7 Z" fill="#2f54a4"/>
<path d="M265.5,1486.7 Q270.8,1484.2 270.7,1469.3 L271.3,1433.5 L272.2,1431.0 L273.4,1431.0 L274.3,1433.5 L274.9,1469.3 Q274.8,1484.2 280.1,1486.7 Z" fill="#5ab947"/>
<path d="M309.8,1486.7 Q316.1,1484.2 316.1,1453.7 L318.5,1208.1 L319.4,1205.6 L321.2,1205.6 L322.1,1208.1 L324.5,1453.7 Q324.5,1484.2 330.8,1486.7 Z" fill="#5ab947"/>
<path d="M359.3,1486.7 Q362.2,1484.2 362.1,1476.5 L362.6,1457.5 L363.5,1455.0 L364.5,1455.0 L365.4,1457.5 L365.9,1476.5 Q365.8,1484.2 368.7,1486.7 Z" fill="#2f54a4"/>
<path d="M380.4,1486.7 Q384.7,1484.2 384.7,1465.7 L385.3,1421.5 L386.2,1419.0 L387.8,1419.0 L388.7,1421.5 L389.3,1465.7 Q389.3,1484.2 393.6,1486.7 Z" fill="#5ab947"/>
<path d="M432.1,1486.7 Q438.4,1484.2 438.3,1453.7 L440.6,1152.5 L441.5,1150.0 L443.7,1150.0 L444.6,1152.5 L446.9,1453.7 Q446.8,1484.2 453.1,1486.7 Z" fill="#5ab947"/>
<path d="M469.5,1486.7 Q474.8,1484.2 474.6,1478.4 L475.1,1464.0 L476.0,1461.5 L477.2,1461.5 L478.1,1464.0 L478.6,1478.4 Q478.4,1484.2 483.7,1486.7 Z" fill="#2f54a4"/>
<path d="M479.7,1486.7 Q485.0,1484.2 485.0,1472.0 L485.5,1442.5 L486.4,1440.0 L487.6,1440.0 L488.5,1442.5 L489.0,1472.0 Q489.0,1484.2 494.3,1486.7 Z" fill="#2f54a4"/>
<path d="M482.9,1486.7 Q488.2,1484.2 488.2,1456.3 L489.0,1390.2 L489.9,1387.7 L491.5,1387.7 L492.4,1390.2 L493.2,1456.3 Q493.2,1484.2 498.5,1486.7 Z" fill="#2f54a4"/>
<path d="M695.7,1486.7 Q698.2,1484.2 698.1,1482.6 L698.5,1478.0 L699.4,1475.5 L700.6,1475.5 L701.5,1478.0 L701.9,1482.6 Q701.8,1484.2 704.3,1486.7 Z" fill="#2f54a4"/>
<path d="M798.6,1486.7 Q801.2,1484.2 801.1,1481.4 L801.5,1474.0 L802.4,1471.5 L803.6,1471.5 L804.5,1474.0 L804.9,1481.4 Q804.8,1484.2 807.4,1486.7 Z" fill="#5ab947"/>
<path d="M118.5,1078.2 L121.8,1470.6" stroke="#b8499b" stroke-width="3.2" fill="none" stroke-linecap="round"/>
<path d="M121.7,1469.6 L123.1,1469.9 L124.5,1462.7 L125.9,1471.3 L127.3,1467.7 L128.5,1471.6 L129.5,1469.0 L131.0,1469.6 L132.3,1471.3 L133.5,1466.7 L134.8,1470.7 L135.9,1471.3 L137.3,1469.7 L138.5,1472.2 L139.6,1471.3 L140.7,1470.1 L142.0,1464.8 L143.2,1464.8 L144.5,1469.9 L146.0,1468.7 L146.9,1464.2 L148.2,1472.5 L149.2,1462.5 L150.6,1470.3 L152.0,1472.6 L153.5,1470.4 L154.5,1469.9 L155.7,1473.7 L157.1,1472.0 L158.5,1471.7 L159.7,1469.9 L160.6,1470.8 L161.7,1473.2 L163.1,1473.4 L164.5,1473.4 L165.6,1472.8 L166.9,1471.7 L168.0,1472.2 L169.4,1469.5 L170.8,1470.8 L172.0,1468.5 L173.0,1472.9 L174.1,1471.5 L175.5,1473.2 L176.6,1473.5 L177.6,1470.8 L179.0,1469.0 L180.3,1475.2 L181.2,1463.8 L182.6,1468.4 L183.9,1469.2 L184.8,1473.3 L186.0,1465.8 L187.0,1471.9 L188.2,1471.8 L189.1,1470.0 L190.1,1474.9 L191.2,1473.1 L192.4,1473.6 L193.6,1473.9 L195.1,1473.6 L196.5,1473.6 L197.6,1469.4 L199.1,1474.9 L200.4,1473.1 L201.8,1472.8 L202.7,1473.9 L203.9,1474.6 L204.8,1471.6 L205.7,1475.3 L207.2,1471.3 L208.5,1472.5 L209.4,1476.3 L210.9,1475.9 L211.9,1475.8 L213.3,1472.8 L214.7,1471.1 L216.0,1475.4 L217.2,1468.8 L218.3,1470.5 L219.2,1475.0 L220.4,1473.3 L221.4,1475.1 L222.6,1472.0 L223.9,1468.2 L225.0,1473.8 L225.9,1475.0 L227.0,1472.8 L228.0,1474.4 L229.0,1472.9 L230.3,1470.5 L231.2,1475.9 L232.4,1476.2 L233.8,1472.8 L235.3,1472.2 L236.4,1476.3 L237.4,1473.8 L238.3,1474.5 L239.7,1471.0 L240.7,1473.6 L242.0,1474.9 L243.4,1473.3 L244.4,1475.8 L245.4,1477.3 L246.8,1475.5 L248.2,1475.9 L249.7,1475.9 L250.9,1471.1 L251.9,1471.7 L253.2,1470.7 L254.5,1473.1 L255.9,1473.4 L257.1,1471.8 L258.5,1475.9 L259.9,1476.3 L261.0,1472.8 L262.4,1477.0 L263.7,1473.7 L264.9,1477.4 L266.1,1477.1 L267.0,1476.4 L268.2,1476.9 L269.4,1474.0 L270.4,1476.4 L271.7,1476.9 L273.0,1477.9 L273.9,1475.6 L275.3,1476.4 L276.5,1475.7 L277.6,1475.6 L278.9,1472.7 L280.1,1476.6 L281.6,1476.8 L282.9,1476.7 L283.9,1477.7 L285.2,1475.2 L286.2,1473.8 L287.4,1474.1 L288.9,1477.5 L290.1,1477.7 L291.5,1477.0 L292.7,1477.2 L293.7,1476.7 L294.6,1475.2 L295.8,1474.8 L297.0,1479.7 L298.2,1477.6 L299.6,1472.7 L300.5,1478.2 L301.8,1477.8 L303.3,1475.9 L304.6,1479.3 L305.6,1476.9 L306.6,1478.0 L308.1,1475.3 L309.4,1477.5 L310.8,1475.9 L312.0,1477.7 L313.0,1475.5 L314.1,1475.9 L315.3,1478.6 L316.5,1478.0 L317.5,1474.7 L319.0,1477.7 L319.9,1476.5 L321.3,1478.2 L322.7,1478.3 L324.2,1478.3 L325.6,1477.8 L326.9,1474.9 L328.3,1478.3 L329.7,1481.0 L330.7,1476.9 L331.7,1476.1 L333.0,1475.8 L334.3,1478.0 L335.8,1478.1 L336.8,1478.3 L338.0,1475.3 L339.0,1473.6 L340.3,1471.1 L341.3,1476.0 L342.5,1475.4 L343.7,1477.1 L344.8,1479.2 L346.3,1478.4 L347.7,1477.3 L348.7,1477.3 L349.7,1477.2 L350.7,1479.1 L351.9,1478.4 L352.9,1478.2 L354.3,1479.7 L355.4,1471.4 L356.8,1472.7 L358.1,1479.9 L359.1,1478.0 L360.3,1479.2 L361.2,1480.1 L362.6,1478.4 L363.6,1474.1 L364.7,1477.6 L365.9,1474.9 L367.0,1478.8 L367.9,1478.5 L369.0,1480.3 L370.1,1476.0 L371.4,1478.8 L372.3,1478.6 L373.5,1476.9 L374.5,1478.0 L375.9,1478.9 L377.1,1479.5 L378.1,1479.0 L379.4,1479.0 L380.5,1477.7 L381.4,1479.6 L382.3,1477.1 L383.4,1478.0 L384.4,1479.0 L385.4,1477.7 L386.6,1479.6 L388.0,1473.8 L389.0,1477.3 L390.5,1478.2 L391.4,1479.0 L392.8,1478.1 L394.0,1478.8 L395.5,1478.4 L396.7,1480.1 L398.2,1479.4 L399.6,1479.6 L400.8,1479.3 L402.2,1478.8 L403.5,1478.9 L404.7,1480.2 L406.2,1475.8 L407.7,1478.5 L408.9,1479.7 L410.3,1480.2 L411.7,1477.1 L412.8,1475.7 L414.0,1477.2 L415.5,1480.1 L416.9,1479.2 L417.9,1480.1 L419.4,1476.1 L420.6,1478.4 L421.9,1477.8 L422.8,1478.6 L424.0,1479.0 L425.5,1480.3 L426.9,1479.8 L428.1,1476.9 L429.4,1478.9 L430.9,1477.4 L432.3,1476.5 L433.4,1478.6 L434.5,1476.0 L435.9,1480.1 L436.8,1478.5 L438.1,1478.9 L439.5,1477.7 L440.7,1479.0 L442.1,1481.4 L443.3,1479.7 L444.2,1479.7 L445.1,1481.3 L446.3,1480.2 L447.2,1481.1 L448.4,1480.1 L449.6,1480.1 L450.7,1475.4 L452.1,1478.9 L453.5,1479.7 L454.9,1481.4 L456.0,1479.5 L457.3,1477.5 L458.2,1479.4 L459.6,1480.0 L460.6,1480.6 L461.8,1481.0 L462.8,1480.3 L464.1,1480.4 L465.2,1480.8 L466.2,1478.9 L467.4,1480.5 L468.5,1480.3 L469.5,1481.9 L470.7,1480.1 L471.9,1480.6 L473.1,1479.4 L474.6,1480.4 L475.6,1480.0 L476.8,1481.3 L478.0,1480.9 L479.2,1480.9 L480.2,1480.7 L481.1,1479.1 L482.5,1479.4 L483.6,1479.7 L484.8,1476.6 L486.0,1479.6 L487.5,1479.4 L488.6,1480.7 L490.0,1480.4 L491.2,1479.8 L492.3,1475.9 L493.3,1476.4 L494.3,1480.9 L495.4,1480.9 L496.4,1480.3 L497.6,1480.8 L498.6,1478.4 L500.0,1481.3 L500.9,1479.8 L502.2,1479.0 L503.5,1480.6 L504.9,1480.6 L506.2,1481.1 L507.7,1480.7 L509.1,1480.9 L510.5,1481.3 L511.7,1479.8 L512.9,1476.2 L514.2,1479.1 L515.7,1477.8 L516.6,1481.2 L517.5,1481.1 L518.5,1480.7 L519.5,1478.3 L520.5,1481.0 L521.5,1480.0 L522.9,1478.3 L524.3,1481.9 L525.6,1479.3 L526.9,1479.7 L528.2,1482.1 L529.6,1481.4 L530.7,1481.8 L531.9,1477.6 L532.8,1480.9 L534.1,1479.5 L535.4,1478.0 L536.4,1479.5 L537.8,1480.6 L538.9,1478.7 L540.2,1481.3 L541.4,1479.5 L542.8,1479.1 L544.0,1478.8 L545.5,1480.8 L546.8,1481.1 L548.0,1480.2 L549.2,1479.6 L550.6,1481.5 L552.1,1482.5 L553.4,1477.9 L554.7,1480.7 L555.9,1481.5 L556.9,1479.8 L558.1,1481.2 L559.5,1481.8 L560.9,1480.5 L561.8,1481.0 L563.3,1481.2 L564.3,1479.7 L565.4,1477.9 L566.8,1472.2 L568.0,1479.9 L569.3,1482.1 L570.4,1482.1 L571.3,1481.8 L572.3,1481.1 L573.2,1481.3 L574.4,1480.3 L575.7,1482.1 L576.6,1481.6 L578.0,1482.3 L578.9,1481.5 L579.8,1479.4 L581.2,1478.9 L582.1,1481.2 L583.2,1479.9 L584.5,1480.1 L585.6,1478.4 L586.8,1481.4 L587.8,1479.0 L589.1,1481.3 L590.3,1481.7 L591.8,1480.2 L593.0,1481.3 L594.5,1477.3 L595.5,1481.2 L596.5,1481.0 L597.6,1480.4 L598.8,1481.4 L599.8,1480.3 L601.3,1481.5 L602.7,1481.4 L603.8,1481.3 L605.3,1480.9 L606.7,1480.3 L608.0,1480.9 L609.4,1482.0 L610.6,1481.1 L611.9,1482.1 L613.1,1480.9 L614.2,1481.4 L615.6,1478.4 L617.0,1481.2 L618.4,1478.5 L619.8,1481.7 L620.8,1482.2 L622.0,1480.3 L623.2,1477.0 L624.6,1478.8 L625.9,1481.9 L626.9,1482.9 L628.0,1481.5 L629.0,1479.0 L629.9,1480.2 L630.9,1480.9 L632.3,1480.7 L633.5,1481.6 L634.5,1481.8 L635.5,1478.9 L636.7,1480.2 L637.7,1481.3 L638.8,1480.4 L639.9,1480.6 L641.2,1481.6 L642.6,1482.9 L643.8,1481.8 L645.1,1481.7 L646.2,1482.2 L647.2,1482.7 L648.2,1481.8 L649.6,1482.6 L650.9,1481.4 L652.0,1481.7 L653.3,1482.2 L654.4,1479.3 L655.3,1482.6 L656.3,1482.1 L657.3,1482.1 L658.5,1477.1 L659.7,1482.7 L661.0,1481.8 L662.4,1481.7 L663.8,1481.6 L665.1,1480.4 L666.4,1482.6 L667.9,1482.4 L668.8,1481.0 L669.7,1481.6 L670.7,1482.2 L672.2,1481.4 L673.4,1478.9 L674.9,1478.5 L675.8,1481.6 L677.3,1479.5 L678.4,1482.2 L679.7,1481.6 L680.7,1480.6 L682.1,1482.3 L683.5,1482.0 L684.6,1482.7 L685.8,1480.1 L687.0,1481.1 L688.2,1478.5 L689.2,1481.8 L690.5,1479.6 L691.7,1480.0 L692.6,1479.7 L693.6,1481.6 L694.7,1481.4 L696.1,1480.3 L697.5,1482.6 L698.7,1482.2 L700.1,1482.6 L701.2,1482.2 L702.4,1482.1 L703.9,1482.7 L705.3,1481.2 L706.6,1482.1 L708.0,1481.2 L709.3,1481.8 L710.3,1482.4 L711.7,1480.4 L712.7,1482.6 L714.1,1482.8 L715.3,1480.3 L716.4,1481.2 L717.4,1482.5 L718.6,1482.4 L719.7,1480.5 L721.1,1481.6 L722.6,1482.2 L724.0,1481.5 L725.2,1481.8 L726.2,1482.2 L727.3,1479.1 L728.4,1481.9 L729.8,1480.5 L731.2,1482.6 L732.3,1480.9 L733.5,1481.9 L734.6,1482.2 L735.8,1478.0 L737.1,1481.4 L738.6,1478.9 L740.1,1481.8 L741.3,1482.2 L742.7,1481.1 L743.9,1479.8 L745.3,1479.9 L746.7,1481.7 L747.8,1482.1 L749.2,1481.2 L750.6,1478.0 L751.6,1482.1 L753.0,1481.4 L754.1,1481.0 L755.5,1482.3 L757.0,1479.9 L758.2,1481.3 L759.5,1482.6 L761.0,1479.9 L762.4,1482.4 L763.4,1481.9 L764.3,1481.6 L765.6,1481.5 L767.1,1481.0 L768.5,1482.3 L769.9,1482.0 L771.4,1481.8 L772.8,1482.5 L773.9,1480.1 L775.4,1482.2 L776.9,1481.3 L777.9,1482.0 L779.0,1481.3 L780.1,1481.5 L781.5,1482.4 L782.7,1480.1 L784.0,1479.6 L785.0,1482.0 L786.1,1482.3 L787.3,1477.6 L788.6,1481.7 L789.8,1482.3 L791.2,1482.4 L792.2,1482.7 L793.5,1482.3 L794.8,1481.5 L796.0,1480.7 L797.4,1480.2 L798.9,1482.2 L799.9,1482.4 L801.1,1481.7 L802.1,1481.8 L803.1,1482.5 L804.6,1480.0 L805.9,1481.8 L806.9,1481.1 L808.1,1478.9 L809.3,1482.4 L810.3,1480.8 L811.4,1481.8 L812.7,1481.4 L813.8,1481.4 L814.8,1482.4 L816.1,1482.4 L817.5,1482.8 L818.9,1482.1 L819.8,1479.0 L821.2,1482.3 L822.2,1482.3 L823.6,1480.8 L824.7,1480.6 L826.1,1480.1 L827.3,1480.6 L828.3,1482.6 L829.7,1481.9 L830.7,1478.3 L831.7,1481.8 L832.9,1481.8 L834.4,1481.8 L835.7,1482.5 L836.8,1481.2 L837.7,1482.2 L839.1,1482.5 L840.4,1482.3 L841.3,1482.1 L842.3,1481.8 L843.7,1482.5 L844.9,1480.1 L845.9,1480.8 L847.0,1480.7 L848.4,1483.4 L849.4,1482.1 L850.7,1480.6 L852.2,1482.4 L853.6,1481.9 L854.9,1481.2 L856.1,1482.1 L857.0,1480.4 L858.0,1482.4 L859.0,1481.4 L860.2,1480.5 L861.5,1481.1 L862.6,1482.0 L863.6,1481.5 L865.1,1482.2 L866.2,1482.3 L867.4,1482.3 L868.5,1482.3 L868.8,1487.7 L867.7,1487.0 L866.5,1487.1 L865.4,1487.0 L863.9,1488.2 L862.9,1486.8 L861.8,1487.0 L860.5,1487.3 L859.3,1486.8 L858.3,1487.2 L857.3,1487.5 L856.4,1487.1 L855.2,1487.9 L853.9,1487.3 L852.5,1487.4 L851.0,1486.9 L849.7,1487.3 L848.7,1487.6 L847.3,1486.9 L846.2,1487.0 L845.2,1486.8 L844.0,1487.0 L842.6,1487.1 L841.6,1487.0 L840.7,1487.3 L839.4,1487.4 L838.0,1487.7 L837.1,1487.0 L836.0,1487.3 L834.7,1487.3 L833.2,1486.8 L832.0,1486.8 L831.0,1486.9 L830.0,1486.9 L828.6,1486.8 L827.6,1487.5 L826.4,1487.8 L825.0,1487.0 L823.9,1487.6 L822.5,1487.1 L821.5,1487.5 L820.1,1486.8 L819.2,1487.1 L817.8,1487.0 L816.4,1486.9 L815.1,1487.4 L814.1,1486.9 L813.0,1487.5 L811.7,1487.5 L810.6,1486.8 L809.6,1486.7 L808.4,1487.2 L807.2,1486.9 L806.2,1486.9 L804.9,1486.9 L803.4,1486.7 L802.4,1487.2 L801.4,1486.8 L800.2,1487.1 L799.2,1487.7 L797.7,1486.7 L796.3,1486.8 L795.1,1486.9 L793.8,1487.6 L792.5,1487.7 L791.5,1486.9 L790.1,1488.4 L788.9,1486.8 L787.6,1487.4 L786.4,1486.7 L785.3,1487.6 L784.3,1486.9 L783.0,1487.5 L781.8,1486.7 L780.4,1487.0 L779.3,1486.8 L778.2,1486.7 L777.2,1486.8 L775.7,1487.0 L774.2,1486.9 L773.1,1487.6 L771.7,1486.9 L770.2,1487.5 L768.8,1487.2 L767.4,1487.3 L765.9,1487.3 L764.6,1487.4 L763.7,1487.1 L762.7,1487.0 L761.3,1487.1 L759.8,1487.1 L758.5,1486.7 L757.3,1486.9 L755.8,1486.6 L754.4,1487.1 L753.3,1487.0 L751.9,1487.1 L750.9,1486.8 L749.5,1486.8 L748.1,1486.7 L747.0,1487.9 L745.6,1486.8 L744.2,1487.0 L743.0,1487.2 L741.6,1487.9 L740.4,1487.2 L738.9,1486.9 L737.4,1487.5 L736.1,1487.3 L734.9,1487.6 L733.8,1487.3 L732.6,1486.8 L731.5,1486.8 L730.1,1487.7 L728.7,1486.8 L727.6,1486.9 L726.5,1486.9 L725.5,1486.9 L724.3,1487.6 L722.9,1486.8 L721.4,1488.0 L720.0,1486.9 L718.9,1488.0 L717.7,1487.0 L716.7,1486.9 L715.6,1486.7 L714.4,1487.0 L713.0,1487.1 L712.0,1487.9 L710.6,1486.9 L709.6,1487.3 L708.3,1487.3 L706.9,1486.9 L705.6,1487.0 L704.2,1487.7 L702.7,1488.8 L701.5,1486.6 L700.4,1486.9 L699.0,1486.9 L697.8,1486.9 L696.4,1487.2 L695.0,1486.9 L693.9,1487.1 L692.9,1487.2 L692.0,1487.3 L690.8,1487.3 L689.5,1486.9 L688.5,1487.0 L687.3,1487.5 L686.1,1486.8 L684.9,1486.9 L683.8,1487.5 L682.4,1486.9 L681.0,1487.8 L680.0,1486.9 L678.7,1487.7 L677.6,1486.9 L676.1,1486.6 L675.2,1486.8 L673.7,1487.1 L672.5,1487.2 L671.0,1486.9 L670.0,1487.1 L669.1,1486.9 L668.2,1487.2 L666.7,1486.9 L665.4,1486.8 L664.1,1487.8 L662.7,1487.0 L661.3,1487.7 L660.0,1486.9 L658.8,1487.3 L657.6,1487.0 L656.6,1486.8 L655.6,1486.9 L654.7,1487.0 L653.6,1488.5 L652.3,1487.0 L651.2,1487.0 L649.9,1487.4 L648.5,1486.9 L647.5,1487.1 L646.5,1487.0 L645.4,1487.5 L644.1,1487.2 L642.9,1487.2 L641.5,1486.9 L640.2,1487.0 L639.1,1487.0 L638.0,1487.0 L637.0,1486.8 L635.8,1486.7 L634.8,1487.1 L633.8,1486.9 L632.6,1486.9 L631.2,1487.0 L630.2,1487.2 L629.3,1487.0 L628.3,1487.2 L627.2,1486.9 L626.2,1487.7 L624.9,1487.1 L623.5,1487.2 L622.3,1486.8 L621.1,1487.8 L620.1,1487.7 L618.7,1486.9 L617.3,1487.9 L615.9,1487.6 L614.5,1487.7 L613.4,1486.8 L612.2,1487.3 L610.9,1487.3 L609.7,1486.8 L608.3,1487.4 L607.0,1486.9 L605.6,1487.0 L604.1,1487.0 L603.0,1487.5 L601.6,1486.8 L600.1,1487.8 L599.1,1487.2 L597.9,1486.6 L596.8,1487.3 L595.8,1486.9 L594.8,1486.8 L593.3,1487.1 L592.1,1487.0 L590.6,1486.8 L589.4,1487.2 L588.1,1487.8 L587.1,1487.2 L585.9,1487.2 L584.8,1486.8 L583.5,1487.3 L582.4,1487.3 L581.5,1487.0 L580.1,1487.3 L579.2,1487.2 L578.3,1486.8 L576.9,1486.8 L576.0,1486.9 L574.7,1487.0 L573.5,1487.5 L572.6,1487.3 L571.6,1486.9 L570.7,1486.7 L569.6,1487.1 L568.3,1486.6 L567.1,1487.7 L565.7,1486.8 L564.6,1487.3 L563.6,1486.9 L562.1,1486.7 L561.2,1487.5 L559.8,1487.0 L558.4,1487.8 L557.2,1486.9 L556.2,1487.1 L555.0,1486.9 L553.7,1487.0 L552.4,1486.9 L550.9,1487.7 L549.5,1487.3 L548.3,1487.2 L547.1,1487.2 L545.8,1486.8 L544.3,1487.8 L543.1,1486.8 L541.7,1487.4 L540.5,1489.1 L539.2,1487.5 L538.1,1486.8 L536.7,1488.2 L535.7,1486.8 L534.4,1487.1 L533.1,1487.2 L532.2,1486.7 L531.0,1487.0 L529.9,1488.0 L528.5,1486.7 L527.2,1486.8 L525.9,1487.8 L524.6,1486.6 L523.2,1487.1 L521.8,1486.8 L520.8,1486.7 L519.8,1486.7 L518.8,1487.2 L517.8,1486.7 L516.9,1487.7 L516.0,1488.0 L514.5,1486.6 L513.2,1486.7 L512.0,1486.9 L510.8,1486.8 L509.4,1486.8 L508.0,1486.7 L506.5,1487.2 L505.2,1486.7 L503.8,1487.0 L502.5,1487.1 L501.2,1486.6 L500.3,1488.3 L498.9,1487.6 L497.9,1487.0 L496.7,1486.8 L495.7,1487.2 L494.6,1487.7 L493.6,1487.0 L492.6,1486.6 L491.5,1487.0 L490.3,1486.8 L488.9,1486.8 L487.8,1487.8 L486.3,1487.8 L485.1,1486.5 L483.9,1486.9 L482.8,1486.7 L481.4,1487.2 L480.5,1487.3 L479.5,1487.9 L478.3,1487.2 L477.1,1486.8 L475.9,1487.1 L474.9,1486.9 L473.4,1486.4 L472.2,1486.7 L471.0,1487.4 L469.8,1486.6 L468.8,1486.5 L467.7,1486.7 L466.5,1486.5 L465.5,1486.6 L464.4,1486.6 L463.1,1487.3 L462.1,1486.2 L460.9,1486.6 L459.9,1486.6 L458.5,1487.5 L457.6,1487.1 L456.3,1487.5 L455.2,1486.7 L453.8,1487.1 L452.4,1486.6 L451.0,1487.1 L449.9,1487.2 L448.7,1486.5 L447.5,1487.1 L446.6,1486.1 L445.4,1486.8 L444.5,1486.7 L443.6,1487.6 L442.4,1487.0 L441.0,1487.0 L439.8,1486.6 L438.4,1486.4 L437.1,1486.5 L436.2,1486.6 L434.8,1488.0 L433.7,1486.5 L432.6,1487.4 L431.2,1486.7 L429.7,1485.9 L428.4,1486.4 L427.2,1486.7 L425.8,1487.1 L424.3,1487.0 L423.1,1487.2 L422.2,1487.5 L420.9,1486.5 L419.7,1486.5 L418.2,1486.4 L417.2,1486.4 L415.8,1486.8 L414.3,1486.5 L413.1,1486.6 L412.0,1486.5 L410.6,1486.3 L409.2,1486.5 L408.0,1486.6 L406.5,1486.4 L405.0,1486.5 L403.8,1486.6 L402.5,1487.1 L401.1,1486.9 L399.9,1487.5 L398.5,1486.4 L397.0,1486.1 L395.8,1486.8 L394.3,1486.5 L393.1,1486.8 L391.7,1486.1 L390.8,1486.8 L389.3,1486.3 L388.3,1486.4 L386.9,1486.2 L385.7,1487.2 L384.7,1486.3 L383.7,1486.6 L382.6,1486.3 L381.7,1486.6 L380.8,1486.3 L379.7,1486.5 L378.4,1486.4 L377.4,1487.7 L376.2,1488.2 L374.8,1486.4 L373.8,1486.1 L372.6,1487.6 L371.7,1486.7 L370.4,1489.2 L369.3,1486.4 L368.2,1487.4 L367.3,1486.3 L366.2,1486.3 L365.0,1486.3 L363.9,1486.5 L362.9,1486.2 L361.5,1486.6 L360.6,1486.0 L359.4,1486.0 L358.4,1486.6 L357.1,1487.1 L355.7,1486.2 L354.6,1485.8 L353.2,1487.0 L352.2,1487.1 L351.0,1486.3 L350.0,1487.0 L349.0,1486.0 L348.0,1487.7 L346.6,1486.0 L345.1,1486.5 L344.0,1486.1 L342.8,1486.2 L341.6,1486.5 L340.6,1487.1 L339.3,1486.8 L338.3,1486.4 L337.1,1486.5 L336.1,1486.8 L334.6,1486.3 L333.3,1486.0 L332.0,1485.9 L331.0,1486.8 L330.0,1486.0 L328.6,1486.3 L327.2,1486.2 L325.9,1485.9 L324.5,1486.0 L323.0,1486.2 L321.6,1485.8 L320.2,1486.3 L319.3,1486.5 L317.8,1486.6 L316.8,1485.8 L315.6,1485.8 L314.4,1485.7 L313.3,1486.0 L312.3,1486.2 L311.1,1486.1 L309.7,1485.8 L308.4,1485.8 L306.9,1487.1 L305.9,1485.7 L304.9,1485.5 L303.6,1485.8 L302.1,1485.6 L300.8,1485.6 L299.9,1485.7 L298.5,1485.3 L297.3,1485.9 L296.1,1485.6 L294.9,1485.7 L294.0,1485.6 L293.0,1485.5 L291.8,1485.5 L290.4,1485.3 L289.2,1486.3 L287.7,1485.5 L286.5,1486.7 L285.5,1486.3 L284.2,1486.6 L283.2,1485.9 L281.9,1485.9 L280.4,1485.3 L279.2,1485.6 L277.9,1485.4 L276.8,1485.3 L275.6,1485.4 L274.2,1486.4 L273.3,1487.1 L272.0,1485.2 L270.7,1486.0 L269.7,1485.5 L268.5,1485.7 L267.3,1485.0 L266.4,1485.1 L265.2,1485.6 L264.0,1485.7 L262.7,1485.4 L261.3,1486.0 L260.2,1485.9 L258.8,1485.4 L257.4,1485.5 L256.2,1485.7 L254.8,1485.3 L253.5,1484.9 L252.2,1484.9 L251.2,1484.7 L250.0,1484.9 L248.5,1484.7 L247.1,1485.3 L245.7,1484.8 L244.7,1484.7 L243.7,1484.3 L242.3,1484.6 L241.0,1484.7 L240.0,1484.8 L238.6,1485.2 L237.7,1485.1 L236.7,1484.8 L235.6,1484.3 L234.1,1486.0 L232.7,1484.5 L231.5,1484.9 L230.6,1484.3 L229.3,1484.1 L228.3,1484.4 L227.3,1484.6 L226.2,1484.0 L225.3,1484.5 L224.2,1484.1 L222.9,1484.9 L221.7,1485.2 L220.7,1484.5 L219.5,1484.5 L218.6,1484.0 L217.5,1483.9 L216.3,1484.1 L215.0,1486.1 L213.6,1485.5 L212.2,1483.6 L211.2,1483.7 L209.7,1484.5 L208.8,1483.5 L207.5,1483.9 L206.0,1483.8 L205.1,1483.7 L204.2,1484.6 L203.0,1484.1 L202.1,1483.6 L200.7,1483.3 L199.4,1483.4 L197.9,1483.9 L196.8,1483.6 L195.4,1484.4 L193.9,1483.3 L192.7,1483.7 L191.5,1483.7 L190.4,1483.5 L189.4,1483.4 L188.5,1483.0 L187.3,1482.9 L186.3,1482.7 L185.1,1484.5 L184.2,1483.5 L182.9,1482.9 L181.5,1483.0 L180.6,1482.8 L179.3,1482.6 L177.9,1482.8 L176.9,1482.7 L175.8,1483.0 L174.4,1482.7 L173.3,1483.2 L172.3,1483.0 L171.1,1483.3 L169.7,1483.1 L168.3,1482.4 L167.2,1482.1 L165.9,1483.3 L164.8,1482.1 L163.4,1482.1 L162.0,1481.8 L160.9,1482.6 L160.0,1482.2 L158.8,1481.7 L157.4,1481.8 L156.0,1481.8 L154.8,1482.5 L153.8,1481.5 L152.3,1482.2 L150.9,1482.2 L149.5,1481.5 L148.5,1481.1 L147.2,1481.1 L146.3,1481.0 L144.8,1481.0 L143.5,1481.0 L142.3,1482.6 L141.0,1481.3 L139.9,1481.3 L138.8,1480.6 L137.6,1480.9 L136.2,1482.4 L135.1,1480.5 L133.8,1480.5 L132.6,1480.2 L131.3,1480.5 L129.8,1480.1 L128.8,1480.4 L127.6,1479.6 L126.2,1479.7 L124.8,1481.2 L123.4,1480.0 L122.0,1479.7Z" fill="#b8499b" stroke="#b8499b" stroke-width="0.6" stroke-linejoin="round"/>
<path d="M604.0,1486.7 Q609.6,1484.2 609.6,1453.7 L610.8,1322.5 L611.7,1320.0 L612.9,1320.0 L613.8,1322.5 L615.0,1453.7 Q615.0,1484.2 620.6,1486.7 Z" fill="#b8499b"/>
</g>
<rect x="186.60" y="1455.5" width="2.8" height="31.0" fill="#000"/>
<rect x="272.40" y="1441.0" width="3.2" height="45.5" fill="#000"/>
<rect x="319.30" y="1243.0" width="4.2" height="243.5" fill="#000"/>
<rect x="385.70" y="1429.0" width="3.2" height="57.5" fill="#000"/>
<rect x="442.30" y="1138.0" width="4.2" height="348.5" fill="#000"/>
<rect x="490.70" y="1400.0" width="3.4" height="86.5" fill="#000"/>
<rect x="560.60" y="1462.5" width="2.8" height="24.0" fill="#000"/>
<rect x="609.20" y="1317.0" width="3.4" height="169.5" fill="#000"/>
<text transform="translate(102.4,1064.3)" font-size="25" text-anchor="end" fill="#111" stroke="#111" stroke-width="0.4">7000</text>
<text transform="translate(102.4,1115.8)" font-size="25" text-anchor="end" fill="#111" stroke="#111" stroke-width="0.4">6000</text>
<text transform="translate(102.4,1178.3)" font-size="25" text-anchor="end" fill="#111" stroke="#111" stroke-width="0.4">5000</text>
<text transform="translate(102.4,1240.5)" font-size="25" text-anchor="end" fill="#111" stroke="#111" stroke-width="0.4">4000</text>
<text transform="translate(102.4,1302.2)" font-size="25" text-anchor="end" fill="#111" stroke="#111" stroke-width="0.4">3000</text>
<text transform="translate(102.4,1364.8)" font-size="25" text-anchor="end" fill="#111" stroke="#111" stroke-width="0.4">2000</text>
<text transform="translate(102.4,1426.6)" font-size="25" text-anchor="end" fill="#111" stroke="#111" stroke-width="0.4">1000</text>
<text transform="translate(93.8,1497.8)" font-size="25" text-anchor="middle" fill="#111" stroke="#111" stroke-width="0.4">0</text>
<text transform="translate(240.2,1517.1) scale(1.005,1)" font-size="25.3" text-anchor="middle" fill="#111" stroke="#111" stroke-width="0.4">30000</text>
<text transform="translate(370.3,1517.1) scale(1.005,1)" font-size="25.3" text-anchor="middle" fill="#111" stroke="#111" stroke-width="0.4">40000</text>
<text transform="translate(496.3,1517.1) scale(1.005,1)" font-size="25.3" text-anchor="middle" fill="#111" stroke="#111" stroke-width="0.4">50000</text>
<text transform="translate(622.5,1517.1) scale(1.005,1)" font-size="25.3" text-anchor="middle" fill="#111" stroke="#111" stroke-width="0.4">60000</text>
<text transform="translate(748.4,1517.1) scale(1.005,1)" font-size="25.3" text-anchor="middle" fill="#111" stroke="#111" stroke-width="0.4">70000</text>
<text transform="translate(857.1,1517.1) scale(1.005,1)" font-size="25.3" text-anchor="middle" fill="#111" stroke="#111" stroke-width="0.4">80000</text>
<text transform="translate(559.4,1551.8) scale(1.030,1)" font-size="38" text-anchor="middle" fill="#111" stroke="#111" stroke-width="0.4">sin</text>
<text transform="translate(25.4,1258.8) rotate(-90) scale(0.990,1)" font-size="38.5" text-anchor="middle" fill="#111" stroke="#111" stroke-width="0.4">cps</text>
<text transform="translate(845.8,1086.0) scale(1.058,1)" font-size="36.5" text-anchor="end" fill="#1a1a1a" stroke="#1a1a1a" stroke-width="0.4">Brachiopod</text>
<text transform="translate(450.5,1138.0)" font-size="25" text-anchor="middle" fill="#111" stroke="#111" stroke-width="0.4">FeKa</text>
<text transform="translate(325.0,1226.7)" font-size="25" text-anchor="middle" fill="#111" stroke="#111" stroke-width="0.4">CuKa</text>
<text transform="translate(617.0,1320.0)" font-size="25" text-anchor="middle" fill="#111" stroke="#111" stroke-width="0.4">S Ka</text>
<text transform="translate(508.0,1386.0)" font-size="25" text-anchor="middle" fill="#111" stroke="#111" stroke-width="0.4">CuLa</text>
<text transform="translate(455.0,1409.8)" font-size="25" text-anchor="middle" fill="#111" stroke="#111" stroke-width="0.4">FeKa</text>
<text transform="translate(345.7,1419.8)" font-size="25" text-anchor="middle" fill="#111" stroke="#111" stroke-width="0.4">CaKa</text>
<text transform="translate(406.4,1435.4)" font-size="25" text-anchor="middle" fill="#111" stroke="#111" stroke-width="0.4">FeKb</text>
<text transform="translate(282.0,1437.4)" font-size="25" text-anchor="middle" fill="#111" stroke="#111" stroke-width="0.4">CuKb</text>
<text transform="translate(198.0,1453.0)" font-size="25" text-anchor="middle" fill="#111" stroke="#111" stroke-width="0.4">SiKa</text>
<text transform="translate(577.0,1460.5)" font-size="25" text-anchor="middle" fill="#111" stroke="#111" stroke-width="0.4">S Kb</text>
<rect x="1005.1" y="1049.8" width="745.2" height="437.7" fill="none" stroke="#000" stroke-width="2.8"/>
<clipPath id="c6"><rect x="1003.7" y="1048.3999999999999" width="746.6" height="445.7"/></clipPath>
<g clip-path="url(#c6)">
<path d="M1007.1,1487.2 H1031.1" stroke="#d8242b" stroke-width="1.6" stroke-dasharray="7 4 3 5 9 6" fill="none"/>
<path d="M1006.7,1482.4 L1007.9,1484.3 L1009.7,1484.0 L1011.3,1484.0 L1012.8,1482.5 L1014.0,1482.4 L1015.4,1484.3 L1016.8,1484.3 L1018.4,1484.7 L1019.6,1484.7 L1020.9,1481.7 L1022.3,1483.0 L1024.2,1484.0 L1025.7,1481.1 L1027.2,1470.6 L1029.0,1486.0 L1030.9,1485.0 L1032.7,1485.1 L1034.0,1484.1 L1035.3,1482.9 L1036.7,1486.0 L1038.6,1484.7 L1040.0,1484.7 L1041.7,1478.7 L1043.1,1485.0 L1044.6,1479.5 L1046.4,1481.3 L1048.3,1482.8 L1049.8,1483.4 L1051.1,1484.6 L1052.4,1484.6 L1054.0,1481.6 L1055.8,1481.5 L1057.8,1485.7 L1059.7,1482.3 L1061.1,1484.5 L1062.6,1483.6 L1064.5,1487.6 L1066.4,1485.7 L1067.9,1477.5 L1069.6,1484.7 L1071.3,1485.5 L1072.9,1481.8 L1074.2,1485.3 L1075.9,1482.6 L1077.3,1485.9 L1078.7,1485.3 L1080.4,1485.3 L1081.9,1485.8 L1083.4,1484.1 L1085.1,1481.5 L1087.0,1484.3 L1088.5,1485.0 L1089.8,1475.8 L1091.6,1485.4 L1093.2,1483.5 L1094.6,1485.3 L1096.6,1485.1 L1098.2,1482.7 L1099.5,1480.0 L1100.7,1484.7 L1102.6,1482.3 L1104.1,1482.3 L1105.8,1485.5 L1107.7,1484.1 L1109.6,1484.0 L1111.2,1483.2 L1112.8,1482.4 L1114.7,1483.8 L1116.2,1482.7 L1117.4,1485.9 L1118.9,1481.6 L1120.9,1486.3 L1122.9,1483.5 L1124.7,1484.0 L1126.5,1483.6 L1128.3,1479.9 L1129.8,1483.2 L1131.2,1486.1 L1132.5,1485.7 L1134.2,1482.2 L1135.4,1484.8 L1136.7,1485.3 L1138.0,1484.1 L1139.7,1486.5 L1141.6,1481.9 L1143.5,1485.6 L1145.3,1483.5 L1146.7,1485.9 L1148.3,1479.3 L1150.0,1485.3 L1151.6,1484.8 L1153.1,1484.8 L1155.0,1484.6 L1156.9,1485.6 L1158.3,1486.0 L1159.5,1486.2 L1161.0,1486.6 L1162.8,1485.3 L1164.4,1486.9 L1165.7,1485.5 L1167.3,1484.5 L1168.6,1485.4 L1170.1,1486.5 L1171.6,1486.5 L1172.8,1483.1 L1174.6,1486.3 L1176.4,1484.7 L1177.7,1485.5 L1178.9,1485.0 L1180.6,1486.0 L1182.0,1483.2 L1183.4,1486.4 L1184.8,1482.7 L1186.5,1483.4 L1188.1,1485.5 L1189.8,1486.5 L1191.3,1486.1 L1192.6,1486.4 L1194.2,1485.2 L1195.7,1486.1 L1197.4,1485.9 L1198.6,1485.8 L1200.3,1486.8 L1202.1,1485.6 L1203.8,1485.9 L1205.1,1485.4 L1206.8,1486.3 L1208.1,1483.9 L1210.1,1486.1 L1211.9,1485.9 L1213.6,1486.0 L1215.5,1486.4 L1217.4,1484.9 L1218.7,1484.7 L1220.2,1485.9 L1221.4,1486.0 L1222.6,1483.8 L1224.2,1486.4 L1225.7,1483.1 L1227.5,1484.7 L1229.0,1483.7 L1230.5,1485.5 L1232.0,1486.1 L1234.0,1486.4 L1235.7,1485.0 L1236.9,1485.3 L1238.2,1486.1 L1240.2,1484.4 L1241.9,1483.4 L1243.5,1484.5 L1244.8,1485.3 L1246.1,1483.8 L1248.0,1483.2 L1249.6,1485.7 L1251.1,1485.5 L1252.6,1481.2 L1254.1,1486.2 L1255.6,1486.1 L1257.0,1485.2 L1258.6,1484.0 L1260.4,1485.2 L1262.1,1486.0 L1264.0,1485.5 L1265.7,1485.5 L1266.9,1486.3 L1268.3,1486.8 L1270.0,1485.7 L1271.8,1484.3 L1273.4,1484.7 L1275.4,1486.1 L1276.8,1484.6 L1278.2,1485.6 L1280.1,1485.9 L1281.3,1486.0 L1283.3,1486.0 L1284.6,1485.3 L1286.4,1485.5 L1288.3,1482.2 L1289.9,1483.7 L1291.4,1486.5 L1293.1,1477.8 L1294.5,1484.4 L1296.4,1486.0 L1297.9,1486.3 L1299.7,1486.5 L1301.1,1486.3 L1302.9,1485.3 L1304.1,1486.0 L1305.7,1486.0 L1307.6,1485.8 L1309.5,1486.1 L1310.9,1485.2 L1312.6,1486.1 L1314.4,1485.4 L1316.4,1485.8 L1318.2,1487.5 L1319.5,1485.7 L1321.0,1485.7 L1323.0,1485.8 L1324.3,1485.3 L1325.7,1483.7 L1327.4,1483.7 L1329.1,1484.4 L1330.8,1485.5 L1332.8,1483.6 L1334.6,1484.7 L1335.9,1486.2 L1337.6,1484.0 L1339.4,1485.4 L1340.7,1484.8 L1342.2,1483.6 L1343.8,1486.4 L1345.7,1486.0 L1347.7,1486.3 L1348.9,1487.3 L1350.6,1486.4 L1352.6,1485.1 L1354.1,1486.2 L1355.4,1486.8 L1357.0,1482.7 L1359.0,1484.1 L1360.6,1483.4 L1362.0,1485.5 L1363.7,1487.0 L1365.3,1484.1 L1366.9,1486.3 L1368.1,1486.6 L1369.8,1485.4 L1371.2,1485.4 L1372.9,1486.3 L1374.3,1486.1 L1376.3,1485.2 L1378.2,1486.7 L1379.8,1482.9 L1381.5,1486.4 L1382.8,1487.2 L1384.4,1485.9 L1385.9,1483.7 L1387.6,1484.3 L1389.3,1484.9 L1390.9,1484.0 L1392.5,1486.1 L1394.1,1486.6 L1395.5,1483.8 L1397.1,1485.7 L1398.8,1483.5 L1400.1,1485.5 L1401.9,1486.3 L1403.9,1483.1 L1405.8,1486.2 L1407.3,1486.2 L1408.6,1486.8 L1410.5,1487.1 L1411.9,1484.7 L1413.6,1486.5 L1414.9,1485.3 L1416.1,1486.2 L1417.3,1486.6 L1419.2,1484.9 L1420.5,1485.5 L1422.2,1486.1 L1423.7,1486.1 L1425.2,1485.2 L1427.2,1485.9 L1428.4,1484.1 L1429.8,1484.9 L1431.6,1486.0 L1432.9,1484.6 L1434.2,1486.3 L1435.7,1486.5 L1437.6,1486.2 L1439.0,1485.9 L1440.3,1486.6 L1441.8,1486.2 L1443.6,1484.9 L1445.3,1485.8 L1446.5,1486.3 L1448.3,1485.6 L1450.0,1484.9 L1451.6,1486.4 L1453.5,1484.9 L1455.0,1484.9 L1456.2,1485.7 L1457.6,1483.9 L1458.9,1485.8 L1460.8,1486.6 L1462.1,1485.3 L1463.6,1485.1 L1464.9,1485.1 L1466.5,1486.6 L1468.5,1486.6 L1469.9,1484.0 L1471.7,1486.3 L1473.4,1486.2 L1474.9,1485.7 L1476.3,1485.1 L1478.1,1485.5 L1480.1,1486.8 L1481.9,1487.3 L1483.7,1484.6 L1485.0,1486.9 L1486.3,1485.4 L1488.1,1483.5 L1489.6,1484.8 L1491.1,1486.5 L1493.1,1487.0 L1494.5,1486.6 L1496.0,1486.6 L1497.9,1486.2 L1499.6,1485.4 L1500.8,1483.6 L1502.3,1486.5 L1504.0,1486.6 L1506.0,1486.5 L1507.2,1486.7 L1508.5,1486.1 L1510.1,1485.6 L1511.5,1486.3 L1513.4,1485.8 L1515.4,1485.3 L1516.9,1486.1 L1518.8,1486.2 L1520.0,1486.0 L1521.9,1484.2 L1523.3,1487.1 L1525.2,1485.5 L1526.4,1486.5 L1528.2,1484.3 L1529.9,1486.8 L1531.2,1485.4 L1532.8,1486.0 L1534.8,1486.1 L1536.1,1484.3 L1537.4,1486.3 L1539.1,1486.3 L1540.7,1483.9 L1542.6,1486.7 L1544.1,1479.4 L1545.5,1485.4 L1547.0,1486.5 L1548.3,1486.3 L1549.7,1486.3 L1551.2,1486.9 L1553.0,1486.7 L1554.6,1486.8 L1556.1,1486.7 L1557.7,1484.5 L1559.3,1484.8 L1560.7,1486.3 L1562.7,1486.5 L1563.9,1487.2 L1565.2,1486.0 L1567.1,1486.6 L1568.3,1484.6 L1570.0,1486.2 L1571.9,1485.1 L1573.7,1485.0 L1575.0,1486.2 L1576.9,1486.5 L1578.2,1485.8 L1580.2,1485.8 L1581.5,1485.7 L1582.9,1485.2 L1584.3,1486.5 L1585.5,1484.7 L1587.0,1484.6 L1588.8,1486.2 L1590.4,1486.1 L1591.6,1485.4 L1593.2,1486.8 L1594.8,1484.9 L1596.4,1484.4 L1597.7,1486.4 L1598.9,1486.9 L1600.2,1486.5 L1601.8,1485.8 L1603.2,1483.8 L1604.9,1486.6 L1606.6,1485.3 L1608.0,1486.5 L1609.4,1483.3 L1611.1,1485.5 L1612.6,1487.1 L1614.0,1486.5 L1615.9,1486.6 L1617.9,1486.6 L1619.8,1486.4 L1621.6,1486.1 L1623.5,1485.1 L1625.0,1486.7 L1626.6,1483.5 L1628.5,1486.2 L1630.5,1484.8 L1631.7,1486.1 L1633.4,1486.1 L1635.3,1484.4 L1637.0,1484.2 L1638.8,1485.8 L1640.5,1485.5 L1641.9,1485.8 L1643.4,1486.1 L1644.6,1486.3 L1646.3,1486.4 L1647.9,1486.3 L1649.4,1486.6 L1650.6,1486.1 L1651.9,1485.6 L1653.4,1486.7 L1655.3,1486.3 L1656.9,1486.1 L1658.4,1484.5 L1660.4,1485.6 L1661.8,1486.2 L1663.7,1485.8 L1665.2,1486.4 L1666.9,1482.7 L1668.4,1485.3 L1670.1,1486.5 L1671.7,1486.7 L1673.4,1485.3 L1675.2,1485.2 L1676.9,1484.3 L1678.9,1484.4 L1680.5,1486.6 L1681.9,1486.7 L1683.5,1486.2 L1685.3,1486.8 L1686.9,1486.4 L1688.2,1485.6 L1689.8,1483.2 L1691.3,1486.0 L1692.9,1486.5 L1694.2,1485.6 L1695.8,1485.5 L1697.8,1485.1 L1699.8,1486.3 L1701.5,1486.5 L1703.2,1486.9 L1704.5,1485.1 L1706.4,1485.4 L1707.8,1484.6 L1709.1,1486.7 L1710.7,1486.5 L1712.3,1484.9 L1714.1,1486.4 L1715.6,1485.9 L1717.1,1485.9 L1719.1,1485.5 L1720.5,1487.1 L1722.0,1484.8 L1723.6,1485.9 L1724.9,1485.6 L1726.7,1486.4 L1728.6,1487.1 L1730.1,1485.3 L1732.0,1486.5 L1733.7,1486.6 L1735.4,1486.0 L1737.1,1484.4 L1739.0,1485.3 L1740.6,1485.0 L1742.3,1487.0 L1743.5,1486.0 L1745.5,1486.6 L1747.3,1486.6 L1747.6,1488.8 L1745.8,1487.3 L1743.8,1487.3 L1742.6,1487.3 L1740.9,1487.5 L1739.3,1487.0 L1737.4,1487.8 L1735.7,1486.8 L1734.0,1487.2 L1732.3,1486.8 L1730.4,1488.6 L1728.9,1487.2 L1727.0,1487.1 L1725.2,1487.2 L1723.9,1487.2 L1722.3,1487.3 L1720.8,1487.0 L1719.4,1487.9 L1717.4,1487.2 L1715.9,1488.2 L1714.4,1487.4 L1712.6,1488.0 L1711.0,1487.8 L1709.4,1487.2 L1708.1,1487.0 L1706.7,1486.8 L1704.8,1487.3 L1703.5,1487.8 L1701.8,1487.2 L1700.1,1486.9 L1698.1,1487.2 L1696.1,1487.9 L1694.5,1488.7 L1693.2,1487.0 L1691.6,1487.2 L1690.1,1487.2 L1688.5,1487.3 L1687.2,1488.1 L1685.6,1487.2 L1683.8,1487.8 L1682.2,1488.4 L1680.8,1487.3 L1679.2,1488.4 L1677.2,1487.2 L1675.5,1488.2 L1673.7,1487.9 L1672.0,1488.8 L1670.4,1487.0 L1668.7,1487.6 L1667.2,1487.2 L1665.5,1486.7 L1664.0,1487.2 L1662.1,1487.1 L1660.7,1487.2 L1658.7,1488.0 L1657.2,1487.2 L1655.6,1486.9 L1653.7,1486.9 L1652.2,1488.4 L1650.9,1487.5 L1649.7,1487.6 L1648.2,1486.8 L1646.6,1488.0 L1644.9,1488.4 L1643.7,1487.9 L1642.2,1487.2 L1640.8,1487.6 L1639.1,1487.4 L1637.3,1487.3 L1635.6,1487.1 L1633.7,1488.2 L1632.0,1488.7 L1630.8,1487.4 L1628.8,1487.1 L1626.9,1487.1 L1625.3,1487.2 L1623.8,1487.3 L1621.9,1487.0 L1620.1,1487.9 L1618.2,1488.3 L1616.2,1488.0 L1614.3,1487.1 L1612.9,1487.3 L1611.4,1487.3 L1609.7,1489.2 L1608.3,1488.2 L1606.9,1487.2 L1605.2,1487.6 L1603.5,1488.5 L1602.1,1487.8 L1600.5,1487.0 L1599.2,1487.1 L1598.0,1487.4 L1596.7,1488.4 L1595.1,1487.2 L1593.5,1487.6 L1591.9,1487.6 L1590.7,1487.1 L1589.1,1487.2 L1587.3,1488.4 L1585.8,1487.8 L1584.6,1487.9 L1583.2,1487.1 L1581.8,1488.8 L1580.5,1487.4 L1578.5,1487.9 L1577.2,1487.6 L1575.3,1487.9 L1574.0,1487.3 L1572.2,1487.3 L1570.3,1487.1 L1568.6,1487.1 L1567.4,1487.2 L1565.5,1487.2 L1564.2,1487.9 L1563.0,1487.2 L1561.0,1487.2 L1559.6,1487.7 L1558.0,1487.0 L1556.4,1486.8 L1554.9,1487.2 L1553.3,1487.1 L1551.5,1487.1 L1550.0,1489.2 L1548.6,1487.4 L1547.3,1488.0 L1545.8,1487.2 L1544.4,1487.5 L1542.9,1487.4 L1541.0,1487.2 L1539.4,1487.9 L1537.7,1487.1 L1536.4,1488.1 L1535.1,1487.1 L1533.1,1488.2 L1531.5,1487.8 L1530.2,1487.4 L1528.5,1487.1 L1526.7,1488.0 L1525.5,1487.8 L1523.6,1487.6 L1522.2,1486.9 L1520.3,1487.8 L1519.1,1488.1 L1517.2,1488.2 L1515.7,1488.4 L1513.7,1487.6 L1511.8,1486.9 L1510.4,1488.3 L1508.8,1489.0 L1507.5,1488.3 L1506.3,1488.2 L1504.3,1488.1 L1502.6,1488.1 L1501.1,1486.8 L1499.9,1487.4 L1498.2,1487.0 L1496.3,1487.7 L1494.8,1487.2 L1493.4,1487.8 L1491.4,1487.1 L1489.9,1487.3 L1488.4,1487.2 L1486.6,1487.2 L1485.3,1486.8 L1484.0,1488.7 L1482.2,1487.2 L1480.4,1486.9 L1478.4,1486.9 L1476.6,1487.2 L1475.2,1487.1 L1473.7,1487.2 L1472.0,1488.5 L1470.2,1487.3 L1468.8,1487.3 L1466.8,1487.9 L1465.2,1488.0 L1463.9,1488.2 L1462.4,1487.3 L1461.1,1489.4 L1459.2,1487.4 L1457.9,1487.2 L1456.5,1487.1 L1455.3,1487.0 L1453.8,1487.9 L1451.9,1487.6 L1450.3,1487.3 L1448.6,1487.2 L1446.8,1487.2 L1445.6,1486.9 L1443.9,1487.5 L1442.1,1487.2 L1440.6,1488.7 L1439.3,1488.8 L1437.9,1487.2 L1436.0,1488.4 L1434.5,1487.2 L1433.2,1487.2 L1431.9,1487.0 L1430.1,1487.8 L1428.7,1488.0 L1427.5,1487.9 L1425.5,1487.5 L1424.0,1489.1 L1422.5,1487.2 L1420.8,1488.7 L1419.5,1487.6 L1417.6,1488.1 L1416.4,1487.9 L1415.2,1487.5 L1413.9,1487.0 L1412.2,1487.2 L1410.8,1487.1 L1408.9,1487.6 L1407.6,1487.8 L1406.1,1487.6 L1404.2,1487.7 L1402.2,1487.6 L1400.4,1486.7 L1399.1,1486.9 L1397.4,1488.6 L1395.8,1487.3 L1394.4,1487.2 L1392.8,1487.2 L1391.2,1487.5 L1389.6,1489.6 L1387.9,1487.3 L1386.2,1487.4 L1384.7,1486.8 L1383.1,1487.0 L1381.8,1487.0 L1380.1,1488.3 L1378.5,1486.7 L1376.6,1487.1 L1374.6,1487.1 L1373.2,1487.2 L1371.5,1488.3 L1370.1,1486.8 L1368.4,1487.5 L1367.2,1487.2 L1365.6,1488.0 L1364.0,1486.9 L1362.3,1487.0 L1360.9,1487.2 L1359.3,1490.2 L1357.3,1487.2 L1355.7,1487.0 L1354.4,1488.2 L1352.9,1487.1 L1350.9,1487.0 L1349.2,1489.4 L1348.0,1487.1 L1346.0,1488.2 L1344.1,1488.1 L1342.5,1486.7 L1341.0,1487.0 L1339.7,1487.3 L1337.9,1487.7 L1336.2,1487.3 L1334.9,1487.1 L1333.1,1487.0 L1331.1,1486.9 L1329.4,1487.4 L1327.7,1486.9 L1326.0,1487.3 L1324.6,1487.9 L1323.3,1487.2 L1321.3,1487.1 L1319.8,1487.3 L1318.5,1486.6 L1316.7,1488.7 L1314.7,1487.8 L1312.9,1487.0 L1311.2,1489.2 L1309.8,1487.6 L1307.9,1487.8 L1306.0,1487.9 L1304.4,1488.8 L1303.2,1487.1 L1301.4,1488.1 L1300.0,1487.6 L1298.2,1487.8 L1296.7,1487.6 L1294.8,1487.3 L1293.4,1487.1 L1291.7,1486.9 L1290.2,1487.7 L1288.6,1487.1 L1286.7,1487.4 L1284.9,1488.7 L1283.6,1489.2 L1281.6,1487.3 L1280.4,1487.2 L1278.5,1488.5 L1277.1,1487.3 L1275.7,1487.9 L1273.7,1487.8 L1272.1,1487.5 L1270.3,1487.2 L1268.6,1488.9 L1267.2,1486.9 L1266.0,1486.9 L1264.3,1487.3 L1262.4,1486.8 L1260.7,1487.5 L1258.9,1488.1 L1257.3,1487.2 L1255.9,1487.1 L1254.4,1487.3 L1252.9,1488.5 L1251.4,1487.1 L1249.9,1487.9 L1248.3,1487.8 L1246.4,1486.9 L1245.1,1487.3 L1243.8,1487.2 L1242.2,1488.1 L1240.5,1487.2 L1238.5,1487.9 L1237.2,1488.2 L1236.0,1487.3 L1234.3,1487.0 L1232.3,1488.1 L1230.8,1486.8 L1229.3,1487.5 L1227.8,1488.8 L1226.0,1486.8 L1224.5,1487.0 L1222.9,1488.1 L1221.7,1488.5 L1220.5,1487.0 L1219.0,1487.3 L1217.7,1487.5 L1215.8,1486.9 L1213.9,1487.3 L1212.2,1487.1 L1210.4,1487.8 L1208.4,1487.3 L1207.1,1487.2 L1205.4,1487.2 L1204.1,1487.6 L1202.4,1489.2 L1200.6,1487.2 L1198.9,1487.2 L1197.7,1488.1 L1196.0,1486.9 L1194.5,1487.3 L1192.9,1487.1 L1191.6,1487.1 L1190.1,1489.0 L1188.4,1489.7 L1186.8,1488.4 L1185.1,1487.0 L1183.7,1487.1 L1182.3,1488.4 L1180.9,1487.4 L1179.2,1488.3 L1178.0,1488.0 L1176.7,1487.7 L1174.9,1486.8 L1173.1,1487.7 L1171.9,1487.3 L1170.4,1486.9 L1168.9,1487.4 L1167.6,1487.6 L1166.0,1488.9 L1164.7,1489.9 L1163.1,1488.2 L1161.3,1486.6 L1159.8,1487.9 L1158.6,1488.2 L1157.2,1487.9 L1155.3,1489.1 L1153.4,1487.6 L1151.9,1487.6 L1150.3,1487.3 L1148.6,1487.2 L1147.0,1487.2 L1145.6,1486.3 L1143.8,1486.9 L1141.9,1488.1 L1140.0,1487.5 L1138.3,1487.0 L1137.0,1489.1 L1135.7,1487.2 L1134.5,1487.2 L1132.8,1487.0 L1131.5,1486.8 L1130.1,1488.9 L1128.6,1489.0 L1126.8,1488.5 L1125.0,1487.6 L1123.2,1486.9 L1121.2,1487.2 L1119.2,1489.2 L1117.7,1486.9 L1116.5,1487.0 L1115.0,1487.0 L1113.1,1486.7 L1111.5,1487.0 L1109.9,1486.9 L1108.0,1488.5 L1106.1,1487.0 L1104.4,1490.3 L1102.9,1488.2 L1101.0,1487.6 L1099.8,1486.9 L1098.5,1487.5 L1096.9,1486.8 L1094.9,1487.1 L1093.5,1489.6 L1091.9,1486.8 L1090.1,1489.6 L1088.8,1486.6 L1087.3,1488.9 L1085.4,1488.0 L1083.7,1487.4 L1082.2,1486.4 L1080.7,1486.8 L1079.0,1488.2 L1077.6,1487.0 L1076.2,1487.1 L1074.5,1487.1 L1073.2,1487.6 L1071.6,1487.6 L1069.9,1487.7 L1068.2,1488.6 L1066.7,1486.9 L1064.8,1488.5 L1062.9,1487.2 L1061.4,1487.2 L1060.0,1487.1 L1058.1,1487.9 L1056.1,1488.2 L1054.3,1487.0 L1052.7,1487.2 L1051.4,1487.9 L1050.1,1486.6 L1048.6,1487.6 L1046.7,1488.7 L1044.9,1487.4 L1043.4,1488.2 L1042.0,1487.1 L1040.3,1488.1 L1038.9,1487.1 L1037.0,1488.2 L1035.6,1487.4 L1034.3,1487.0 L1033.0,1487.3 L1031.2,1486.6 L1029.3,1489.6 L1027.5,1491.4 L1026.0,1487.0 L1024.5,1487.2 L1022.6,1488.8 L1021.2,1487.0 L1019.9,1488.7 L1018.7,1486.8 L1017.1,1487.0 L1015.7,1487.0 L1014.3,1486.6 L1013.1,1486.7 L1011.6,1487.1 L1010.0,1489.8 L1008.2,1486.9 L1007.0,1486.5Z" fill="#2f54a4" stroke="#2f54a4" stroke-width="0.6" stroke-linejoin="round"/>
<path d="M1006.7,1480.8 L1008.5,1478.2 L1009.9,1481.3 L1011.0,1482.7 L1012.9,1482.9 L1014.2,1480.4 L1015.7,1483.9 L1016.9,1481.5 L1018.1,1482.8 L1019.5,1483.4 L1020.9,1481.8 L1022.8,1479.6 L1024.1,1478.4 L1025.4,1484.1 L1027.2,1481.9 L1028.6,1483.7 L1029.8,1483.2 L1031.2,1480.5 L1032.7,1482.3 L1034.5,1484.0 L1036.0,1481.1 L1037.7,1484.3 L1039.3,1481.9 L1040.6,1478.7 L1041.9,1483.2 L1043.1,1484.0 L1044.9,1483.6 L1046.7,1484.1 L1047.9,1484.3 L1049.6,1482.2 L1050.8,1483.4 L1052.3,1483.8 L1053.4,1481.7 L1054.8,1483.1 L1056.3,1483.5 L1057.6,1483.7 L1059.4,1481.1 L1060.6,1483.5 L1061.9,1484.2 L1063.2,1485.1 L1064.5,1480.9 L1066.0,1482.8 L1067.7,1478.6 L1068.9,1483.7 L1070.3,1484.3 L1071.4,1483.4 L1072.6,1477.9 L1074.0,1484.5 L1075.5,1479.2 L1077.2,1484.5 L1078.9,1483.0 L1080.5,1478.4 L1081.8,1485.8 L1083.6,1475.1 L1084.9,1484.6 L1086.8,1483.3 L1088.3,1481.1 L1089.5,1482.5 L1091.1,1481.2 L1092.4,1482.6 L1093.8,1478.8 L1095.4,1477.7 L1096.9,1484.2 L1098.3,1483.5 L1099.6,1480.2 L1101.5,1483.4 L1103.0,1484.8 L1104.5,1478.7 L1105.9,1484.1 L1107.6,1483.4 L1109.1,1483.7 L1110.8,1481.8 L1111.9,1484.0 L1113.1,1480.0 L1114.3,1478.1 L1115.9,1479.3 L1117.1,1484.3 L1118.2,1479.3 L1119.6,1479.8 L1120.8,1483.4 L1122.0,1483.0 L1123.5,1481.3 L1124.8,1484.4 L1126.5,1482.2 L1127.7,1483.6 L1129.3,1483.7 L1130.8,1481.9 L1132.1,1476.8 L1133.4,1484.5 L1135.1,1480.0 L1136.7,1484.4 L1138.2,1484.1 L1139.7,1484.1 L1141.4,1483.6 L1143.1,1485.9 L1144.5,1479.6 L1145.8,1482.7 L1147.0,1484.4 L1148.4,1481.7 L1149.7,1482.8 L1151.5,1479.2 L1153.1,1477.6 L1154.9,1483.6 L1156.8,1483.1 L1158.0,1484.6 L1159.8,1483.5 L1161.3,1482.0 L1162.4,1482.2 L1164.0,1483.4 L1165.7,1484.4 L1167.2,1481.8 L1168.7,1483.7 L1170.3,1483.1 L1172.1,1476.8 L1173.3,1486.0 L1174.7,1479.4 L1175.9,1482.9 L1177.5,1485.9 L1179.3,1480.1 L1181.2,1484.7 L1182.8,1483.0 L1184.5,1483.2 L1186.3,1484.1 L1187.6,1483.1 L1188.8,1481.7 L1190.1,1483.8 L1191.6,1480.7 L1193.0,1481.6 L1194.8,1481.4 L1196.2,1482.4 L1197.6,1485.3 L1199.3,1485.0 L1201.0,1484.9 L1202.4,1483.3 L1203.9,1483.8 L1205.4,1484.1 L1206.6,1483.3 L1208.1,1484.9 L1210.0,1485.3 L1211.4,1483.8 L1213.1,1480.8 L1214.8,1483.9 L1216.3,1484.8 L1218.0,1483.9 L1219.8,1483.5 L1221.5,1483.2 L1222.9,1481.3 L1224.5,1482.1 L1226.1,1481.5 L1227.2,1484.8 L1228.9,1482.4 L1230.4,1484.1 L1232.1,1479.3 L1233.7,1481.9 L1235.1,1481.6 L1236.3,1484.9 L1237.4,1482.6 L1239.0,1482.2 L1240.4,1482.4 L1241.8,1479.1 L1243.5,1484.8 L1245.0,1483.8 L1246.7,1480.6 L1248.0,1484.6 L1249.7,1481.3 L1251.3,1484.0 L1252.6,1482.6 L1254.1,1481.4 L1255.3,1482.6 L1256.9,1484.9 L1258.4,1484.1 L1259.7,1484.0 L1260.8,1483.7 L1262.4,1480.8 L1263.6,1478.8 L1265.4,1484.2 L1266.7,1484.4 L1268.2,1480.8 L1270.1,1483.8 L1271.4,1483.9 L1272.9,1484.0 L1274.4,1484.3 L1275.9,1484.6 L1277.7,1484.5 L1279.0,1481.0 L1280.7,1481.1 L1282.1,1484.0 L1283.6,1482.6 L1285.0,1483.7 L1286.9,1483.8 L1288.6,1485.1 L1290.5,1478.7 L1292.3,1479.4 L1293.7,1485.1 L1295.2,1483.8 L1297.1,1482.7 L1298.4,1484.4 L1299.7,1485.3 L1301.0,1482.7 L1302.7,1486.7 L1304.1,1483.0 L1306.0,1483.0 L1307.7,1485.8 L1309.2,1482.1 L1310.6,1483.5 L1311.8,1483.8 L1313.4,1483.9 L1315.1,1479.2 L1317.0,1484.1 L1318.5,1483.1 L1320.3,1483.2 L1322.1,1484.0 L1323.3,1484.3 L1325.0,1484.7 L1326.6,1484.8 L1328.3,1484.0 L1329.7,1484.4 L1330.9,1479.1 L1332.1,1484.7 L1333.7,1483.7 L1335.5,1481.3 L1337.3,1482.0 L1338.8,1483.6 L1340.5,1482.2 L1342.1,1484.0 L1343.5,1484.2 L1345.1,1484.9 L1346.3,1480.2 L1348.1,1481.3 L1349.8,1483.5 L1351.0,1482.0 L1352.5,1483.5 L1354.3,1484.7 L1355.6,1483.9 L1356.7,1484.0 L1358.5,1481.5 L1360.0,1484.5 L1361.6,1483.3 L1363.2,1484.0 L1364.3,1483.9 L1365.9,1485.0 L1367.3,1484.5 L1369.1,1479.1 L1370.6,1484.2 L1372.2,1484.1 L1373.8,1485.4 L1375.1,1484.3 L1376.9,1484.6 L1378.1,1480.8 L1379.5,1481.8 L1380.7,1484.1 L1382.1,1483.9 L1383.4,1480.5 L1385.2,1484.2 L1386.8,1481.9 L1388.0,1485.4 L1389.6,1484.9 L1391.4,1484.4 L1393.1,1482.9 L1394.4,1482.3 L1396.2,1483.8 L1397.7,1484.4 L1399.5,1481.1 L1400.9,1484.4 L1402.5,1484.7 L1404.3,1484.4 L1405.5,1479.6 L1407.0,1481.8 L1408.2,1484.2 L1409.5,1483.0 L1411.2,1482.8 L1413.0,1483.8 L1414.6,1484.4 L1415.8,1484.8 L1417.3,1483.4 L1418.7,1484.3 L1420.6,1482.2 L1421.8,1483.3 L1423.6,1483.6 L1424.8,1482.3 L1426.0,1483.7 L1427.2,1484.2 L1428.4,1483.4 L1430.0,1481.9 L1431.2,1479.5 L1433.0,1483.9 L1434.2,1484.1 L1435.9,1484.4 L1437.2,1480.9 L1438.5,1482.9 L1439.8,1484.3 L1441.2,1480.2 L1442.5,1484.0 L1444.3,1477.4 L1445.7,1481.6 L1447.3,1484.5 L1449.2,1483.7 L1450.7,1484.4 L1452.4,1483.2 L1454.0,1484.3 L1455.6,1478.8 L1457.2,1481.0 L1459.0,1483.2 L1460.4,1482.0 L1462.0,1483.4 L1463.6,1485.2 L1465.0,1484.5 L1466.6,1484.2 L1468.3,1484.5 L1469.7,1480.1 L1471.2,1481.6 L1472.7,1483.9 L1474.3,1479.0 L1475.7,1480.5 L1477.5,1484.9 L1478.7,1484.7 L1480.0,1484.3 L1481.5,1481.5 L1482.7,1484.5 L1484.5,1481.9 L1485.6,1481.8 L1487.0,1484.4 L1488.2,1481.5 L1489.7,1484.1 L1491.5,1484.0 L1493.2,1484.2 L1494.8,1484.8 L1496.4,1482.9 L1497.9,1483.7 L1499.3,1484.0 L1500.5,1484.3 L1501.6,1484.3 L1503.4,1482.7 L1504.7,1481.0 L1506.2,1484.8 L1507.9,1483.7 L1509.1,1486.0 L1510.3,1482.6 L1511.7,1485.7 L1513.2,1481.1 L1514.6,1484.8 L1516.3,1484.8 L1517.7,1483.5 L1519.3,1484.2 L1520.9,1478.7 L1522.5,1484.1 L1524.0,1483.4 L1525.6,1485.3 L1527.3,1482.2 L1528.9,1482.6 L1530.4,1483.9 L1532.1,1484.9 L1533.2,1481.9 L1534.6,1484.3 L1535.9,1483.1 L1537.5,1481.6 L1538.9,1483.1 L1540.3,1484.6 L1542.1,1484.7 L1543.6,1481.6 L1545.4,1482.5 L1546.5,1478.1 L1548.0,1484.1 L1549.5,1482.0 L1550.7,1481.1 L1552.5,1484.9 L1553.6,1482.6 L1555.4,1483.7 L1557.1,1478.8 L1558.9,1483.7 L1560.1,1484.7 L1561.6,1481.1 L1562.9,1478.8 L1564.2,1483.8 L1565.6,1484.5 L1567.2,1484.7 L1569.0,1484.8 L1570.4,1482.1 L1571.8,1484.6 L1573.3,1484.4 L1575.1,1482.8 L1576.8,1485.0 L1578.6,1484.5 L1579.8,1482.2 L1581.3,1484.7 L1583.0,1484.2 L1584.8,1484.5 L1586.0,1483.9 L1587.6,1483.9 L1589.4,1480.9 L1591.0,1483.3 L1592.2,1482.2 L1594.0,1484.8 L1595.7,1482.2 L1597.4,1485.0 L1598.5,1484.4 L1599.9,1482.7 L1601.8,1484.8 L1603.0,1484.3 L1604.4,1484.4 L1606.0,1479.0 L1607.4,1484.2 L1609.2,1484.8 L1610.6,1484.6 L1611.9,1484.9 L1613.5,1482.6 L1615.3,1484.7 L1616.5,1481.2 L1617.7,1481.7 L1619.5,1482.0 L1621.0,1481.4 L1622.5,1482.2 L1624.2,1482.3 L1625.9,1483.1 L1627.2,1483.5 L1628.5,1484.2 L1630.3,1484.3 L1632.0,1484.3 L1633.5,1484.2 L1635.0,1485.2 L1636.7,1484.2 L1638.2,1484.1 L1639.8,1480.7 L1641.5,1484.9 L1643.4,1484.9 L1644.6,1478.7 L1646.2,1484.9 L1647.9,1484.7 L1649.3,1485.7 L1650.7,1485.0 L1651.8,1484.6 L1653.5,1483.7 L1655.2,1485.3 L1656.8,1485.3 L1658.3,1484.0 L1659.5,1484.6 L1661.1,1485.2 L1662.9,1485.5 L1664.3,1484.7 L1665.5,1484.4 L1667.0,1484.5 L1668.2,1483.4 L1669.7,1484.4 L1671.4,1481.4 L1673.0,1485.1 L1674.5,1482.9 L1675.6,1484.5 L1677.0,1482.1 L1678.4,1484.6 L1679.7,1485.2 L1681.2,1484.6 L1682.7,1483.5 L1684.4,1484.5 L1686.2,1485.2 L1687.4,1484.6 L1688.6,1484.5 L1689.8,1484.0 L1691.6,1481.2 L1692.7,1484.3 L1694.4,1484.0 L1695.9,1485.0 L1697.1,1484.2 L1698.4,1480.4 L1699.6,1486.5 L1701.2,1483.8 L1702.7,1486.0 L1704.3,1485.1 L1706.0,1484.6 L1707.3,1485.2 L1708.8,1480.8 L1710.2,1482.0 L1712.1,1484.7 L1713.4,1484.9 L1714.7,1482.6 L1716.0,1484.4 L1717.5,1485.1 L1719.3,1481.3 L1720.8,1484.2 L1722.3,1484.6 L1723.9,1482.7 L1725.8,1484.4 L1727.0,1484.0 L1728.7,1488.0 L1730.1,1485.4 L1731.4,1484.6 L1732.6,1481.9 L1734.4,1485.4 L1736.1,1485.3 L1737.6,1484.6 L1738.9,1483.4 L1740.7,1485.7 L1742.3,1484.9 L1744.0,1484.4 L1745.3,1481.9 L1746.9,1481.9 L1748.4,1481.6 L1748.7,1488.0 L1747.2,1487.2 L1745.6,1487.8 L1744.3,1488.3 L1742.6,1486.8 L1741.0,1487.7 L1739.2,1488.3 L1737.9,1487.1 L1736.4,1487.0 L1734.7,1487.2 L1732.9,1487.7 L1731.7,1487.9 L1730.4,1487.3 L1729.0,1486.7 L1727.3,1487.2 L1726.1,1487.9 L1724.2,1488.6 L1722.6,1487.2 L1721.1,1489.2 L1719.6,1486.6 L1717.8,1487.0 L1716.3,1487.1 L1715.0,1487.6 L1713.7,1487.1 L1712.4,1488.4 L1710.5,1487.2 L1709.1,1487.3 L1707.6,1487.7 L1706.3,1486.9 L1704.6,1487.4 L1703.0,1487.2 L1701.5,1487.1 L1699.9,1486.9 L1698.7,1487.2 L1697.4,1487.1 L1696.2,1487.4 L1694.7,1486.9 L1693.0,1487.1 L1691.9,1487.6 L1690.1,1487.1 L1688.9,1488.3 L1687.7,1487.5 L1686.5,1487.4 L1684.7,1487.6 L1683.0,1487.3 L1681.5,1487.2 L1680.0,1487.2 L1678.7,1487.0 L1677.3,1487.3 L1675.9,1487.3 L1674.8,1487.8 L1673.3,1487.0 L1671.7,1486.9 L1670.0,1487.4 L1668.5,1487.3 L1667.3,1487.1 L1665.8,1487.1 L1664.6,1487.4 L1663.2,1487.1 L1661.4,1488.6 L1659.8,1487.4 L1658.6,1487.8 L1657.1,1487.2 L1655.5,1487.3 L1653.8,1487.3 L1652.1,1487.7 L1651.0,1488.5 L1649.6,1486.9 L1648.2,1486.7 L1646.5,1487.3 L1644.9,1487.1 L1643.7,1486.7 L1641.8,1487.1 L1640.1,1487.3 L1638.5,1487.2 L1637.0,1486.8 L1635.3,1488.5 L1633.8,1487.3 L1632.3,1487.3 L1630.6,1489.0 L1628.8,1486.9 L1627.5,1487.1 L1626.2,1487.4 L1624.5,1488.1 L1622.8,1487.2 L1621.3,1487.8 L1619.8,1487.3 L1618.0,1487.3 L1616.8,1487.2 L1615.6,1487.2 L1613.8,1487.1 L1612.2,1487.0 L1610.9,1486.9 L1609.5,1487.3 L1607.7,1487.8 L1606.3,1487.1 L1604.7,1487.7 L1603.3,1487.8 L1602.1,1487.2 L1600.2,1487.5 L1598.8,1487.1 L1597.7,1487.5 L1596.0,1488.4 L1594.3,1486.8 L1592.5,1487.8 L1591.3,1487.3 L1589.7,1487.3 L1587.9,1489.1 L1586.3,1488.3 L1585.1,1488.1 L1583.3,1486.8 L1581.6,1487.1 L1580.1,1488.3 L1578.9,1487.8 L1577.1,1486.9 L1575.4,1487.2 L1573.6,1487.1 L1572.1,1487.1 L1570.7,1488.2 L1569.3,1486.9 L1567.5,1487.1 L1565.9,1487.1 L1564.5,1487.3 L1563.2,1487.8 L1561.9,1487.3 L1560.4,1487.4 L1559.2,1487.8 L1557.4,1487.2 L1555.7,1489.1 L1553.9,1487.4 L1552.8,1487.3 L1551.0,1487.4 L1549.8,1487.8 L1548.3,1487.0 L1546.8,1487.2 L1545.7,1488.3 L1543.9,1486.9 L1542.4,1486.9 L1540.6,1488.0 L1539.2,1487.3 L1537.8,1487.8 L1536.2,1487.3 L1534.9,1486.9 L1533.5,1487.4 L1532.4,1486.8 L1530.7,1488.7 L1529.2,1487.8 L1527.6,1487.2 L1525.9,1487.1 L1524.3,1487.6 L1522.8,1487.0 L1521.2,1487.3 L1519.6,1489.3 L1518.0,1487.5 L1516.6,1486.8 L1514.9,1487.3 L1513.5,1487.2 L1512.0,1487.2 L1510.6,1486.9 L1509.4,1487.8 L1508.2,1489.1 L1506.5,1488.4 L1505.0,1487.6 L1503.7,1488.4 L1501.9,1486.9 L1500.8,1487.5 L1499.6,1487.9 L1498.2,1487.6 L1496.7,1487.1 L1495.1,1487.5 L1493.5,1487.2 L1491.8,1487.3 L1490.0,1487.5 L1488.5,1487.1 L1487.3,1487.2 L1485.9,1487.1 L1484.8,1487.0 L1483.0,1487.2 L1481.8,1487.0 L1480.3,1487.3 L1479.0,1488.1 L1477.8,1486.8 L1476.0,1487.3 L1474.6,1488.7 L1473.0,1487.2 L1471.5,1486.9 L1470.0,1487.1 L1468.6,1487.7 L1466.9,1487.2 L1465.3,1487.0 L1463.9,1489.2 L1462.3,1487.7 L1460.7,1487.4 L1459.3,1488.4 L1457.5,1487.4 L1455.9,1488.9 L1454.3,1488.7 L1452.7,1488.0 L1451.0,1487.6 L1449.5,1487.4 L1447.6,1487.3 L1446.0,1488.4 L1444.6,1488.3 L1442.8,1487.2 L1441.5,1487.7 L1440.1,1488.3 L1438.8,1488.5 L1437.5,1488.5 L1436.2,1487.1 L1434.5,1486.9 L1433.3,1488.3 L1431.5,1487.1 L1430.3,1489.7 L1428.7,1489.0 L1427.5,1488.1 L1426.3,1486.9 L1425.1,1487.6 L1423.9,1486.9 L1422.1,1487.9 L1420.9,1487.2 L1419.0,1487.2 L1417.6,1487.9 L1416.1,1488.1 L1414.9,1487.2 L1413.3,1486.8 L1411.5,1486.6 L1409.8,1487.0 L1408.5,1488.1 L1407.3,1487.3 L1405.8,1488.6 L1404.6,1486.9 L1402.8,1487.2 L1401.2,1487.3 L1399.8,1489.3 L1398.0,1488.6 L1396.5,1487.7 L1394.7,1487.1 L1393.4,1488.7 L1391.7,1488.3 L1389.9,1487.2 L1388.3,1487.1 L1387.1,1487.3 L1385.5,1488.9 L1383.7,1487.2 L1382.4,1486.7 L1381.0,1487.6 L1379.8,1488.2 L1378.4,1486.9 L1377.2,1488.1 L1375.4,1486.9 L1374.1,1487.1 L1372.5,1487.1 L1370.9,1488.5 L1369.4,1486.9 L1367.6,1488.6 L1366.2,1488.2 L1364.6,1488.5 L1363.5,1487.4 L1361.9,1487.2 L1360.3,1486.7 L1358.8,1491.9 L1357.0,1487.6 L1355.9,1486.5 L1354.6,1488.2 L1352.8,1487.1 L1351.3,1486.7 L1350.1,1487.4 L1348.4,1487.0 L1346.6,1487.1 L1345.4,1487.3 L1343.8,1488.2 L1342.4,1487.1 L1340.8,1488.8 L1339.1,1487.7 L1337.6,1486.9 L1335.8,1486.5 L1334.0,1487.3 L1332.4,1487.7 L1331.2,1489.2 L1330.0,1488.7 L1328.6,1487.2 L1326.9,1487.1 L1325.3,1487.5 L1323.6,1487.7 L1322.4,1488.0 L1320.6,1486.8 L1318.8,1487.1 L1317.3,1487.0 L1315.4,1487.1 L1313.7,1487.0 L1312.1,1487.2 L1310.9,1487.1 L1309.5,1487.2 L1308.0,1488.0 L1306.3,1489.2 L1304.4,1487.1 L1303.0,1489.1 L1301.3,1487.1 L1300.0,1486.9 L1298.7,1487.2 L1297.4,1488.0 L1295.5,1487.1 L1294.0,1488.4 L1292.6,1487.7 L1290.8,1487.3 L1288.9,1487.2 L1287.2,1487.0 L1285.3,1487.9 L1283.9,1488.1 L1282.4,1487.0 L1281.0,1486.9 L1279.3,1488.0 L1278.0,1488.1 L1276.2,1489.0 L1274.7,1488.8 L1273.2,1489.4 L1271.7,1487.2 L1270.4,1486.6 L1268.5,1487.1 L1267.0,1487.2 L1265.7,1486.7 L1263.9,1487.3 L1262.7,1487.6 L1261.1,1487.4 L1260.0,1488.1 L1258.7,1488.7 L1257.2,1488.4 L1255.6,1487.7 L1254.4,1487.0 L1252.9,1489.4 L1251.6,1487.6 L1250.0,1487.0 L1248.3,1487.3 L1247.0,1487.4 L1245.3,1487.1 L1243.8,1488.1 L1242.1,1487.6 L1240.7,1487.1 L1239.3,1487.3 L1237.7,1488.2 L1236.6,1487.2 L1235.4,1488.2 L1234.0,1487.2 L1232.4,1487.2 L1230.7,1489.0 L1229.2,1487.3 L1227.5,1487.2 L1226.4,1489.3 L1224.8,1487.0 L1223.2,1487.2 L1221.8,1487.3 L1220.1,1487.6 L1218.3,1487.2 L1216.6,1487.1 L1215.1,1488.7 L1213.4,1488.5 L1211.7,1488.0 L1210.3,1487.1 L1208.4,1487.7 L1206.9,1487.9 L1205.7,1487.1 L1204.2,1487.3 L1202.7,1488.8 L1201.3,1486.5 L1199.6,1486.9 L1197.9,1486.5 L1196.5,1487.1 L1195.1,1487.8 L1193.3,1487.4 L1191.9,1490.5 L1190.4,1488.6 L1189.1,1489.8 L1187.9,1488.5 L1186.6,1486.9 L1184.8,1488.6 L1183.1,1488.8 L1181.5,1487.5 L1179.6,1488.3 L1177.8,1487.1 L1176.2,1488.6 L1175.0,1486.8 L1173.6,1487.9 L1172.4,1487.2 L1170.6,1488.5 L1169.0,1487.5 L1167.5,1487.2 L1166.0,1486.8 L1164.3,1487.6 L1162.7,1488.1 L1161.6,1489.4 L1160.1,1489.2 L1158.3,1489.2 L1157.1,1487.0 L1155.2,1488.7 L1153.4,1486.8 L1151.8,1486.7 L1150.0,1490.1 L1148.7,1487.1 L1147.3,1489.6 L1146.1,1486.8 L1144.8,1487.0 L1143.4,1487.9 L1141.7,1487.5 L1140.0,1487.8 L1138.5,1489.8 L1137.0,1487.1 L1135.4,1487.1 L1133.7,1488.6 L1132.4,1487.2 L1131.1,1489.6 L1129.6,1487.3 L1128.0,1487.0 L1126.8,1488.9 L1125.1,1487.3 L1123.8,1488.2 L1122.3,1488.4 L1121.1,1487.0 L1119.9,1486.9 L1118.5,1489.9 L1117.4,1487.0 L1116.2,1487.7 L1114.6,1489.2 L1113.4,1486.8 L1112.2,1490.2 L1111.1,1486.8 L1109.4,1486.8 L1107.9,1487.2 L1106.2,1487.6 L1104.8,1486.6 L1103.3,1487.6 L1101.8,1488.1 L1099.9,1488.0 L1098.6,1487.6 L1097.2,1487.1 L1095.7,1486.9 L1094.1,1487.1 L1092.7,1488.1 L1091.4,1487.5 L1089.8,1487.2 L1088.6,1487.2 L1087.1,1487.7 L1085.2,1486.9 L1083.9,1487.6 L1082.1,1486.8 L1080.8,1487.5 L1079.2,1488.8 L1077.5,1487.3 L1075.8,1488.6 L1074.3,1488.6 L1072.9,1488.5 L1071.7,1487.1 L1070.6,1487.1 L1069.2,1487.0 L1068.0,1486.9 L1066.3,1490.5 L1064.8,1486.8 L1063.5,1487.2 L1062.2,1487.2 L1060.9,1487.2 L1059.7,1486.8 L1057.9,1488.6 L1056.6,1487.0 L1055.1,1488.1 L1053.7,1487.1 L1052.6,1486.9 L1051.1,1487.0 L1049.9,1488.6 L1048.2,1487.1 L1047.0,1489.1 L1045.2,1486.8 L1043.4,1486.6 L1042.2,1489.0 L1040.9,1488.2 L1039.6,1487.0 L1038.0,1489.6 L1036.3,1487.4 L1034.8,1487.9 L1033.0,1488.5 L1031.5,1486.9 L1030.1,1487.6 L1028.9,1486.9 L1027.5,1486.7 L1025.7,1487.2 L1024.4,1487.7 L1023.1,1486.2 L1021.2,1487.4 L1019.8,1491.3 L1018.4,1487.8 L1017.2,1486.7 L1016.0,1487.2 L1014.5,1486.9 L1013.2,1487.2 L1011.3,1488.9 L1010.2,1487.0 L1008.8,1488.8 L1007.0,1487.0Z" fill="#5ab947" stroke="#5ab947" stroke-width="0.6" stroke-linejoin="round"/>
<path d="M1051.5,1488.7 Q1053.3,1486.2 1053.3,1483.2 L1054.0,1475.3 L1054.9,1472.8 L1056.7,1472.8 L1057.6,1475.3 L1058.3,1483.2 Q1058.2,1486.2 1060.0,1488.7 Z" fill="#2f54a4"/>
<path d="M1065.2,1488.7 Q1068.3,1486.2 1068.2,1475.8 L1068.8,1450.5 L1069.7,1448.0 L1069.5,1448.0 L1070.4,1450.5 L1071.0,1475.8 Q1070.9,1486.2 1074.0,1488.7 Z" fill="#2f54a4"/>
<path d="M1069.8,1487.7 L1072.5,1381.3 L1073.5,1063.2 L1074.5,1063.2 L1075.5,1381.3 L1077.4,1487.7" fill="none" stroke="#2f54a4" stroke-width="2.7" stroke-linejoin="round"/>
<path d="M1124.3,1488.7 Q1127.1,1486.2 1127.0,1480.6 L1127.6,1466.5 L1128.5,1464.0 L1128.3,1464.0 L1129.2,1466.5 L1129.8,1480.6 Q1129.7,1486.2 1132.5,1488.7 Z" fill="#2f54a4"/>
<path d="M1128.6,1487.7 L1130.7,1445.0 L1131.8,1318.2 L1132.7,1318.2 L1133.7,1445.0 L1135.4,1487.7" fill="none" stroke="#2f54a4" stroke-width="2.7" stroke-linejoin="round"/>
<path d="M1264.0,1488.7 Q1266.6,1486.2 1266.8,1483.9 L1267.8,1477.5 L1268.7,1475.0 L1268.9,1475.0 L1269.8,1477.5 L1270.8,1483.9 Q1271.0,1486.2 1273.6,1488.7 Z" fill="#5ab947"/>
<path d="M1318.3,1488.7 Q1321.5,1486.2 1321.7,1472.8 L1322.9,1440.5 L1323.8,1438.0 L1325.2,1438.0 L1326.1,1440.5 L1327.3,1472.8 Q1327.5,1486.2 1330.7,1488.7 Z" fill="#5ab947"/>
<path d="M1408.8,1488.7 Q1411.6,1486.2 1411.7,1478.9 L1412.5,1460.8 L1413.4,1458.3 L1414.8,1458.3 L1415.7,1460.8 L1416.5,1478.9 Q1416.5,1486.2 1419.4,1488.7 Z" fill="#2f54a4"/>
<path d="M1525.4,1488.7 Q1527.9,1486.2 1528.0,1485.1 L1529.1,1481.5 L1530.0,1479.0 L1531.2,1479.0 L1532.1,1481.5 L1533.1,1485.1 Q1533.3,1486.2 1535.8,1488.7 Z" fill="#2f54a4"/>
<path d="M1672.7,1488.7 Q1675.5,1486.2 1675.5,1480.1 L1676.2,1465.0 L1677.1,1462.5 L1678.3,1462.5 L1679.2,1465.0 L1679.9,1480.1 Q1679.9,1486.2 1682.7,1488.7 Z" fill="#5ab947"/>
<path d="M1005.1,1426.0 L1008.4,1485.0" stroke="#b8499b" stroke-width="3.2" fill="none" stroke-linecap="round"/>
<path d="M1008.3,1484.0 L1009.8,1484.1 L1011.1,1482.9 L1012.4,1483.7 L1013.8,1484.0 L1014.9,1483.2 L1016.3,1482.8 L1017.5,1481.6 L1018.9,1482.8 L1019.9,1480.8 L1020.9,1479.8 L1022.0,1483.7 L1023.0,1482.1 L1024.3,1483.4 L1025.2,1479.5 L1026.7,1480.3 L1028.1,1481.3 L1029.1,1483.5 L1030.5,1481.4 L1031.7,1484.0 L1033.1,1482.9 L1034.5,1480.9 L1035.9,1484.1 L1037.3,1481.0 L1038.5,1483.6 L1039.7,1483.2 L1040.9,1479.7 L1042.3,1478.5 L1043.8,1482.9 L1044.8,1483.9 L1046.1,1481.1 L1047.4,1483.6 L1048.9,1483.3 L1050.1,1484.0 L1051.4,1481.1 L1052.8,1483.5 L1053.8,1481.9 L1054.9,1480.3 L1056.3,1483.8 L1057.3,1483.9 L1058.6,1483.5 L1059.5,1483.0 L1060.5,1483.3 L1061.6,1481.3 L1063.0,1483.9 L1064.1,1480.2 L1065.6,1479.7 L1066.7,1481.8 L1067.7,1483.2 L1068.9,1482.1 L1070.2,1483.5 L1071.3,1482.0 L1072.6,1482.2 L1073.5,1484.2 L1074.7,1483.3 L1075.8,1482.9 L1077.0,1483.1 L1078.4,1481.6 L1079.4,1483.5 L1080.9,1483.8 L1082.1,1483.7 L1083.2,1480.0 L1084.4,1483.0 L1085.5,1484.5 L1086.5,1482.8 L1087.8,1483.8 L1088.8,1483.5 L1090.1,1484.0 L1091.2,1483.3 L1092.5,1483.9 L1093.5,1481.9 L1094.7,1477.3 L1096.0,1484.1 L1097.3,1482.1 L1098.2,1483.6 L1099.3,1483.5 L1100.2,1484.0 L1101.4,1482.6 L1102.3,1486.3 L1103.7,1484.0 L1105.1,1484.1 L1106.4,1484.2 L1107.9,1484.0 L1108.9,1483.3 L1110.3,1483.8 L1111.8,1480.8 L1112.9,1483.6 L1114.4,1483.7 L1115.7,1484.3 L1116.9,1483.3 L1118.2,1483.7 L1119.1,1483.9 L1120.4,1481.5 L1121.7,1482.5 L1123.1,1480.7 L1124.6,1484.2 L1125.9,1484.2 L1127.1,1484.0 L1128.4,1482.7 L1129.4,1484.1 L1130.8,1484.5 L1132.0,1484.0 L1133.3,1483.1 L1134.3,1485.0 L1135.5,1481.1 L1136.7,1483.3 L1138.0,1482.3 L1139.1,1482.8 L1140.1,1478.8 L1141.2,1481.1 L1142.2,1484.5 L1143.1,1483.9 L1144.3,1483.8 L1145.5,1484.3 L1146.7,1484.1 L1148.0,1483.9 L1149.2,1480.8 L1150.5,1484.5 L1151.6,1482.4 L1152.8,1482.8 L1154.2,1484.7 L1155.4,1484.3 L1156.7,1482.3 L1157.6,1485.0 L1159.0,1481.0 L1159.9,1484.8 L1161.2,1483.9 L1162.6,1482.7 L1163.9,1484.3 L1165.3,1483.9 L1166.7,1484.3 L1167.7,1482.9 L1168.7,1484.0 L1169.9,1481.8 L1170.9,1484.2 L1171.8,1483.2 L1172.9,1484.0 L1174.3,1484.1 L1175.7,1482.6 L1176.7,1479.6 L1177.8,1482.2 L1178.9,1484.6 L1180.0,1484.3 L1181.4,1483.1 L1182.5,1483.4 L1183.7,1484.2 L1184.8,1483.0 L1186.1,1480.8 L1187.4,1481.5 L1188.5,1484.1 L1189.6,1484.3 L1191.0,1484.8 L1192.2,1484.2 L1193.5,1480.8 L1194.5,1484.3 L1195.5,1483.8 L1196.7,1484.7 L1198.0,1484.0 L1199.5,1484.2 L1200.7,1483.8 L1202.1,1481.0 L1203.6,1484.1 L1204.6,1484.1 L1205.6,1484.9 L1206.8,1484.0 L1208.1,1481.7 L1209.2,1484.5 L1210.1,1484.1 L1211.5,1484.1 L1212.9,1483.5 L1214.1,1483.8 L1215.1,1482.9 L1216.6,1482.4 L1217.9,1482.3 L1219.3,1484.7 L1220.4,1484.2 L1221.4,1481.9 L1222.7,1481.2 L1223.7,1484.5 L1224.7,1483.5 L1226.1,1481.9 L1227.4,1480.4 L1228.7,1481.9 L1229.7,1484.9 L1230.7,1483.0 L1232.0,1483.5 L1233.3,1484.8 L1234.8,1485.0 L1235.8,1483.7 L1237.3,1484.3 L1238.7,1483.8 L1239.9,1482.7 L1241.0,1481.0 L1242.3,1484.4 L1243.5,1483.6 L1244.8,1483.4 L1246.0,1484.7 L1247.3,1485.1 L1248.5,1484.3 L1249.6,1484.1 L1250.8,1481.5 L1252.2,1484.7 L1253.3,1483.5 L1254.4,1484.3 L1255.6,1484.4 L1256.9,1486.0 L1258.3,1481.6 L1259.5,1485.1 L1260.6,1483.0 L1261.6,1485.3 L1262.5,1481.9 L1263.7,1485.1 L1264.9,1483.0 L1266.3,1484.4 L1267.5,1484.2 L1268.7,1481.8 L1269.8,1484.3 L1270.8,1484.9 L1271.9,1484.2 L1273.3,1484.5 L1274.7,1484.6 L1275.6,1484.3 L1277.1,1485.1 L1278.4,1484.6 L1279.4,1484.5 L1280.7,1484.2 L1282.1,1483.3 L1283.3,1484.8 L1284.7,1483.7 L1286.2,1482.3 L1287.5,1483.5 L1288.9,1484.5 L1290.2,1484.5 L1291.5,1483.9 L1292.8,1485.1 L1293.9,1484.4 L1295.1,1484.3 L1296.4,1483.5 L1297.6,1484.5 L1299.0,1483.5 L1300.1,1482.7 L1301.2,1484.5 L1302.5,1484.3 L1303.5,1484.8 L1304.8,1483.9 L1306.2,1484.8 L1307.3,1483.9 L1308.2,1484.2 L1309.3,1484.3 L1310.7,1484.8 L1311.9,1484.3 L1312.8,1483.7 L1313.9,1480.8 L1315.0,1484.5 L1316.2,1483.2 L1317.6,1485.5 L1318.7,1484.8 L1320.2,1484.1 L1321.6,1484.3 L1323.0,1484.2 L1324.4,1484.8 L1325.7,1483.7 L1326.9,1484.3 L1327.8,1485.0 L1328.7,1484.4 L1330.2,1483.8 L1331.3,1482.6 L1332.7,1484.8 L1334.1,1484.5 L1335.3,1484.5 L1336.7,1483.8 L1338.1,1483.0 L1339.2,1485.3 L1340.2,1484.3 L1341.3,1483.6 L1342.5,1481.2 L1343.9,1484.2 L1345.1,1483.6 L1346.1,1483.4 L1347.6,1484.5 L1348.9,1483.2 L1350.4,1484.4 L1351.6,1484.2 L1353.0,1484.7 L1354.0,1483.1 L1355.3,1485.1 L1356.8,1483.0 L1358.1,1482.8 L1359.4,1484.9 L1360.6,1483.6 L1361.6,1485.2 L1362.8,1484.6 L1364.2,1485.0 L1365.7,1484.8 L1367.0,1485.2 L1367.9,1484.8 L1369.3,1484.6 L1370.7,1483.7 L1372.1,1483.3 L1373.0,1482.2 L1374.2,1482.8 L1375.1,1484.6 L1376.1,1484.2 L1377.5,1483.4 L1378.5,1485.0 L1379.6,1484.5 L1380.5,1484.6 L1381.5,1484.2 L1382.9,1485.3 L1384.0,1485.0 L1385.2,1484.6 L1386.2,1484.0 L1387.6,1484.7 L1389.0,1485.0 L1389.9,1482.8 L1391.2,1485.1 L1392.6,1482.6 L1393.6,1484.9 L1394.9,1484.4 L1396.3,1485.2 L1397.8,1483.6 L1399.3,1482.8 L1400.2,1483.2 L1401.4,1483.3 L1402.4,1485.8 L1403.9,1484.4 L1405.3,1484.5 L1406.6,1484.7 L1407.6,1485.1 L1408.7,1485.3 L1409.8,1483.3 L1410.8,1484.9 L1411.9,1484.7 L1413.2,1484.7 L1414.5,1484.2 L1415.9,1483.6 L1417.0,1484.3 L1418.4,1484.5 L1419.9,1484.9 L1421.1,1483.1 L1422.2,1484.6 L1423.2,1484.6 L1424.7,1485.3 L1425.9,1485.0 L1427.4,1484.6 L1428.4,1484.4 L1429.5,1484.8 L1430.6,1485.3 L1432.0,1484.5 L1433.2,1484.0 L1434.1,1484.2 L1435.2,1483.3 L1436.6,1484.9 L1437.7,1483.4 L1439.1,1483.6 L1440.4,1483.9 L1441.5,1484.3 L1442.9,1483.9 L1443.8,1483.8 L1444.8,1484.9 L1446.2,1484.8 L1447.4,1484.6 L1448.7,1485.3 L1449.6,1485.3 L1450.8,1484.9 L1452.1,1484.7 L1453.4,1484.5 L1454.7,1484.8 L1456.2,1483.8 L1457.4,1483.3 L1458.6,1483.3 L1459.5,1484.6 L1460.9,1484.2 L1462.1,1483.3 L1463.3,1484.2 L1464.7,1484.5 L1465.7,1484.4 L1467.0,1484.9 L1468.5,1484.7 L1469.4,1482.4 L1470.4,1485.0 L1471.7,1483.8 L1472.9,1482.1 L1474.2,1483.4 L1475.3,1485.1 L1476.6,1485.6 L1477.6,1484.4 L1479.0,1483.7 L1480.0,1484.3 L1480.9,1484.9 L1482.2,1483.6 L1483.3,1485.5 L1484.6,1483.5 L1485.6,1484.7 L1487.0,1484.5 L1488.4,1483.9 L1489.7,1482.8 L1490.9,1483.2 L1492.4,1483.2 L1493.3,1486.1 L1494.2,1483.2 L1495.3,1484.8 L1496.4,1485.0 L1497.7,1484.6 L1498.7,1482.7 L1499.6,1485.5 L1500.7,1484.6 L1501.9,1484.0 L1502.8,1483.9 L1504.1,1483.4 L1505.3,1485.1 L1506.4,1483.7 L1507.6,1484.9 L1508.7,1483.8 L1510.2,1483.9 L1511.3,1484.7 L1512.3,1484.3 L1513.3,1484.1 L1514.7,1484.2 L1515.7,1485.9 L1516.9,1484.1 L1518.1,1483.9 L1519.0,1483.4 L1520.4,1483.5 L1521.5,1484.6 L1522.7,1484.2 L1524.0,1485.5 L1525.0,1483.9 L1526.2,1484.6 L1527.3,1483.6 L1528.5,1484.7 L1529.7,1483.6 L1530.9,1483.4 L1532.0,1482.5 L1533.2,1485.2 L1534.4,1485.0 L1535.8,1485.1 L1537.0,1485.0 L1538.5,1483.9 L1539.9,1483.3 L1540.8,1484.8 L1542.0,1485.0 L1543.3,1485.1 L1544.5,1484.0 L1545.4,1485.2 L1546.3,1485.3 L1547.4,1483.4 L1548.5,1484.3 L1549.9,1484.6 L1551.2,1484.7 L1552.3,1485.0 L1553.7,1485.0 L1555.1,1484.9 L1556.5,1483.8 L1557.5,1485.2 L1559.0,1483.9 L1560.0,1485.0 L1561.0,1484.7 L1562.1,1485.1 L1563.4,1484.5 L1564.8,1483.6 L1565.9,1484.2 L1567.3,1483.5 L1568.7,1482.3 L1569.8,1484.3 L1570.7,1484.6 L1572.2,1484.9 L1573.5,1484.4 L1574.7,1485.0 L1575.7,1485.1 L1576.8,1484.7 L1577.9,1482.8 L1579.3,1485.1 L1580.5,1483.5 L1581.7,1484.9 L1582.9,1485.4 L1584.2,1483.1 L1585.4,1484.0 L1586.9,1484.8 L1588.2,1485.2 L1589.3,1481.5 L1590.3,1484.9 L1591.4,1483.1 L1592.4,1484.5 L1593.8,1484.5 L1595.1,1482.5 L1596.2,1484.7 L1597.2,1485.4 L1598.4,1485.1 L1599.8,1484.0 L1601.2,1484.6 L1602.6,1484.9 L1604.0,1484.8 L1605.3,1484.4 L1606.6,1484.5 L1607.8,1484.9 L1608.8,1484.9 L1609.9,1484.5 L1611.0,1484.8 L1612.0,1484.8 L1613.1,1484.6 L1614.5,1483.8 L1615.6,1485.4 L1617.0,1483.9 L1618.2,1484.4 L1619.4,1483.6 L1620.5,1485.3 L1621.4,1484.9 L1622.6,1484.7 L1623.6,1484.8 L1624.9,1485.1 L1625.9,1483.4 L1626.8,1484.1 L1627.9,1484.7 L1629.3,1484.6 L1630.2,1482.8 L1631.3,1484.7 L1632.2,1484.6 L1633.7,1483.9 L1634.7,1483.3 L1636.2,1482.6 L1637.1,1484.6 L1638.4,1484.6 L1639.3,1484.8 L1640.5,1484.7 L1641.8,1484.7 L1643.1,1484.8 L1644.2,1484.7 L1645.5,1481.4 L1646.8,1483.4 L1647.9,1483.4 L1649.1,1483.7 L1650.0,1485.1 L1651.3,1484.8 L1652.8,1483.9 L1654.0,1485.0 L1655.4,1484.4 L1656.6,1485.1 L1658.0,1483.8 L1659.1,1484.8 L1660.5,1484.9 L1661.4,1482.1 L1662.8,1484.9 L1664.0,1484.9 L1665.1,1481.8 L1666.2,1484.7 L1667.1,1484.7 L1668.1,1484.6 L1669.2,1484.6 L1670.2,1485.0 L1671.3,1485.2 L1672.3,1484.8 L1673.4,1483.8 L1674.3,1484.6 L1675.3,1485.1 L1676.4,1485.0 L1677.7,1484.7 L1678.7,1484.7 L1679.8,1481.2 L1681.0,1484.0 L1682.3,1485.0 L1683.2,1484.8 L1684.6,1484.8 L1685.9,1485.1 L1687.0,1484.2 L1688.2,1484.8 L1689.4,1484.7 L1690.3,1484.8 L1691.8,1483.7 L1693.0,1484.2 L1694.2,1484.6 L1695.2,1483.5 L1696.1,1483.1 L1697.1,1484.6 L1698.3,1485.2 L1699.7,1485.2 L1700.9,1484.8 L1702.4,1484.7 L1703.4,1485.0 L1704.6,1485.0 L1706.1,1485.0 L1707.1,1484.6 L1708.6,1481.2 L1709.9,1483.1 L1711.0,1484.3 L1711.9,1485.2 L1713.2,1483.5 L1714.3,1485.1 L1715.7,1484.8 L1717.0,1485.0 L1718.0,1484.8 L1719.3,1484.8 L1720.6,1484.9 L1721.7,1484.7 L1723.1,1485.1 L1724.4,1483.6 L1725.8,1485.0 L1726.8,1483.7 L1728.3,1485.0 L1729.5,1484.1 L1730.6,1484.7 L1732.1,1484.2 L1733.4,1484.6 L1734.5,1482.7 L1735.5,1482.0 L1736.6,1483.5 L1737.9,1485.0 L1738.9,1484.9 L1740.3,1482.3 L1741.4,1484.7 L1742.9,1484.8 L1743.8,1484.4 L1744.1,1488.3 L1743.2,1488.7 L1741.7,1488.6 L1740.6,1488.4 L1739.2,1488.6 L1738.2,1488.5 L1736.9,1488.9 L1735.8,1488.6 L1734.8,1489.2 L1733.7,1488.5 L1732.4,1489.7 L1730.9,1488.4 L1729.8,1488.6 L1728.6,1488.5 L1727.1,1488.7 L1726.1,1488.7 L1724.7,1488.4 L1723.4,1489.2 L1722.0,1487.7 L1720.9,1489.2 L1719.6,1489.0 L1718.3,1488.7 L1717.3,1488.7 L1716.0,1489.0 L1714.6,1488.5 L1713.5,1488.3 L1712.2,1488.4 L1711.3,1488.2 L1710.2,1488.3 L1708.9,1488.5 L1707.4,1488.4 L1706.4,1489.0 L1704.9,1489.1 L1703.7,1488.3 L1702.7,1488.6 L1701.2,1488.5 L1700.0,1488.5 L1698.6,1488.4 L1697.4,1488.4 L1696.4,1488.5 L1695.5,1488.9 L1694.5,1488.4 L1693.3,1489.1 L1692.1,1488.2 L1690.6,1488.5 L1689.7,1489.0 L1688.5,1488.4 L1687.3,1488.7 L1686.2,1488.9 L1684.9,1488.9 L1683.5,1489.4 L1682.6,1488.9 L1681.3,1488.6 L1680.1,1489.0 L1679.0,1489.2 L1678.0,1488.4 L1676.7,1488.8 L1675.6,1488.3 L1674.6,1488.6 L1673.7,1488.5 L1672.6,1488.5 L1671.6,1488.4 L1670.5,1488.8 L1669.5,1488.9 L1668.4,1488.5 L1667.4,1488.7 L1666.5,1488.4 L1665.4,1489.1 L1664.3,1489.0 L1663.1,1488.9 L1661.7,1488.8 L1660.8,1488.5 L1659.4,1489.0 L1658.3,1488.8 L1656.9,1488.6 L1655.7,1488.6 L1654.3,1488.6 L1653.1,1488.4 L1651.6,1488.1 L1650.3,1489.6 L1649.4,1488.4 L1648.2,1489.1 L1647.1,1489.7 L1645.8,1488.4 L1644.5,1488.4 L1643.4,1488.2 L1642.1,1488.5 L1640.8,1488.3 L1639.6,1489.0 L1638.7,1488.6 L1637.4,1488.4 L1636.5,1488.6 L1635.0,1488.4 L1634.0,1488.7 L1632.5,1488.5 L1631.6,1489.0 L1630.5,1489.6 L1629.6,1489.7 L1628.2,1488.4 L1627.1,1488.9 L1626.2,1488.5 L1625.2,1489.3 L1623.9,1488.4 L1622.9,1488.5 L1621.7,1488.3 L1620.8,1488.6 L1619.7,1488.9 L1618.5,1488.8 L1617.3,1488.5 L1615.9,1488.2 L1614.8,1488.4 L1613.4,1488.3 L1612.3,1488.9 L1611.3,1489.5 L1610.2,1488.5 L1609.1,1488.5 L1608.1,1488.4 L1606.9,1488.5 L1605.6,1488.4 L1604.3,1488.5 L1602.9,1488.3 L1601.5,1488.3 L1600.1,1489.4 L1598.7,1488.4 L1597.5,1488.5 L1596.5,1488.4 L1595.4,1489.0 L1594.1,1488.9 L1592.7,1488.6 L1591.7,1488.5 L1590.6,1488.5 L1589.6,1488.8 L1588.5,1488.9 L1587.2,1488.5 L1585.7,1488.2 L1584.5,1488.3 L1583.2,1488.5 L1582.0,1488.7 L1580.8,1488.2 L1579.6,1488.9 L1578.2,1488.5 L1577.1,1488.4 L1576.0,1488.8 L1575.0,1488.4 L1573.8,1488.8 L1572.5,1489.2 L1571.0,1488.5 L1570.1,1488.4 L1569.0,1488.9 L1567.6,1488.5 L1566.2,1488.5 L1565.1,1488.3 L1563.7,1488.6 L1562.4,1488.4 L1561.3,1489.7 L1560.3,1488.6 L1559.3,1489.0 L1557.8,1488.3 L1556.8,1489.3 L1555.4,1488.6 L1554.0,1489.0 L1552.6,1488.5 L1551.5,1488.5 L1550.2,1488.7 L1548.8,1489.0 L1547.7,1489.2 L1546.6,1488.4 L1545.7,1488.4 L1544.8,1489.6 L1543.6,1489.0 L1542.3,1488.8 L1541.1,1488.2 L1540.2,1489.1 L1538.8,1488.1 L1537.3,1488.7 L1536.1,1488.8 L1534.7,1488.5 L1533.5,1489.2 L1532.3,1489.3 L1531.2,1489.2 L1530.0,1488.5 L1528.8,1488.7 L1527.6,1488.5 L1526.5,1488.7 L1525.3,1488.5 L1524.3,1488.3 L1523.0,1488.5 L1521.8,1488.5 L1520.7,1488.9 L1519.3,1488.7 L1518.4,1488.5 L1517.2,1488.7 L1516.0,1488.5 L1515.0,1488.1 L1513.6,1488.4 L1512.6,1488.5 L1511.6,1489.5 L1510.5,1488.2 L1509.0,1488.6 L1507.9,1488.3 L1506.7,1488.0 L1505.6,1488.4 L1504.4,1488.5 L1503.1,1489.4 L1502.2,1489.3 L1501.0,1488.6 L1499.9,1488.4 L1499.0,1488.8 L1498.0,1488.7 L1496.7,1489.2 L1495.6,1488.3 L1494.5,1488.5 L1493.6,1488.7 L1492.7,1489.6 L1491.2,1488.4 L1490.0,1489.1 L1488.7,1488.6 L1487.3,1488.3 L1485.9,1489.0 L1484.9,1488.4 L1483.6,1488.2 L1482.5,1488.6 L1481.2,1489.4 L1480.3,1488.8 L1479.3,1488.4 L1477.9,1488.7 L1476.9,1488.8 L1475.6,1488.4 L1474.5,1488.4 L1473.2,1488.4 L1472.0,1488.6 L1470.7,1489.2 L1469.7,1488.4 L1468.8,1488.7 L1467.3,1489.5 L1466.0,1488.7 L1465.0,1488.3 L1463.6,1488.4 L1462.4,1488.5 L1461.2,1488.4 L1459.8,1488.6 L1458.9,1488.3 L1457.7,1488.7 L1456.5,1488.6 L1455.0,1488.5 L1453.7,1488.9 L1452.4,1488.8 L1451.1,1488.6 L1449.9,1488.5 L1449.0,1489.6 L1447.7,1488.4 L1446.5,1488.7 L1445.1,1489.4 L1444.1,1488.3 L1443.2,1489.0 L1441.8,1489.3 L1440.7,1488.3 L1439.4,1488.5 L1438.0,1488.5 L1436.9,1488.3 L1435.5,1489.3 L1434.4,1488.5 L1433.5,1488.4 L1432.3,1489.1 L1430.9,1488.6 L1429.8,1488.4 L1428.7,1488.7 L1427.7,1489.1 L1426.2,1488.5 L1425.0,1488.3 L1423.5,1489.7 L1422.5,1488.2 L1421.4,1489.0 L1420.2,1488.5 L1418.7,1488.9 L1417.3,1489.5 L1416.2,1488.5 L1414.8,1488.4 L1413.5,1488.6 L1412.2,1488.7 L1411.1,1488.6 L1410.1,1488.7 L1409.0,1489.1 L1407.9,1488.2 L1406.9,1488.8 L1405.6,1489.1 L1404.2,1488.8 L1402.7,1488.7 L1401.7,1488.6 L1400.5,1488.3 L1399.6,1489.3 L1398.1,1489.1 L1396.6,1489.4 L1395.2,1488.4 L1393.9,1488.2 L1392.9,1488.4 L1391.5,1488.3 L1390.2,1488.5 L1389.3,1488.4 L1387.9,1488.8 L1386.5,1488.3 L1385.5,1489.0 L1384.3,1488.5 L1383.2,1488.8 L1381.8,1489.6 L1380.8,1488.3 L1379.9,1488.5 L1378.8,1488.6 L1377.8,1488.2 L1376.4,1488.6 L1375.4,1490.1 L1374.5,1488.4 L1373.3,1489.2 L1372.4,1488.4 L1371.0,1488.3 L1369.6,1489.1 L1368.2,1488.2 L1367.3,1488.2 L1366.0,1488.5 L1364.5,1488.6 L1363.1,1488.5 L1361.9,1488.6 L1360.9,1488.6 L1359.7,1489.2 L1358.4,1489.2 L1357.1,1488.5 L1355.6,1488.4 L1354.3,1488.9 L1353.3,1488.4 L1351.9,1488.4 L1350.7,1488.4 L1349.2,1489.2 L1347.9,1488.7 L1346.4,1489.2 L1345.4,1488.8 L1344.2,1488.3 L1342.8,1488.8 L1341.6,1488.5 L1340.5,1488.5 L1339.5,1488.2 L1338.4,1488.3 L1337.0,1488.9 L1335.6,1488.6 L1334.4,1488.4 L1333.0,1488.6 L1331.6,1488.5 L1330.5,1488.4 L1329.0,1488.7 L1328.1,1488.7 L1327.2,1488.4 L1326.0,1488.4 L1324.7,1488.7 L1323.3,1488.3 L1321.9,1488.1 L1320.5,1488.3 L1319.0,1489.6 L1317.9,1488.3 L1316.5,1488.4 L1315.3,1489.3 L1314.2,1489.3 L1313.1,1489.4 L1312.2,1488.4 L1311.0,1488.5 L1309.6,1488.4 L1308.5,1488.3 L1307.6,1488.7 L1306.5,1488.3 L1305.1,1488.3 L1303.8,1488.6 L1302.8,1488.7 L1301.5,1488.9 L1300.4,1488.2 L1299.3,1489.6 L1297.9,1488.3 L1296.7,1489.5 L1295.4,1488.3 L1294.2,1488.7 L1293.1,1488.3 L1291.8,1488.5 L1290.5,1488.5 L1289.2,1488.4 L1287.8,1489.5 L1286.5,1488.1 L1285.0,1488.2 L1283.6,1488.5 L1282.4,1488.8 L1281.0,1488.3 L1279.7,1488.2 L1278.7,1489.0 L1277.4,1488.7 L1275.9,1488.8 L1275.0,1489.5 L1273.6,1488.4 L1272.2,1488.1 L1271.1,1490.2 L1270.1,1488.3 L1269.0,1490.2 L1267.8,1488.6 L1266.6,1488.1 L1265.2,1489.4 L1264.0,1489.0 L1262.8,1488.0 L1261.9,1489.2 L1260.9,1489.2 L1259.8,1488.8 L1258.6,1488.4 L1257.2,1488.2 L1255.9,1489.9 L1254.7,1488.6 L1253.6,1488.2 L1252.5,1488.4 L1251.1,1489.4 L1249.9,1488.2 L1248.8,1488.4 L1247.6,1489.6 L1246.3,1488.4 L1245.1,1489.0 L1243.8,1488.7 L1242.6,1488.3 L1241.3,1488.0 L1240.2,1488.8 L1239.0,1488.4 L1237.6,1488.1 L1236.1,1489.6 L1235.1,1488.8 L1233.6,1489.3 L1232.3,1488.4 L1231.0,1488.9 L1230.0,1488.0 L1229.0,1489.6 L1227.7,1488.9 L1226.4,1489.2 L1225.0,1488.8 L1224.0,1488.7 L1223.0,1489.4 L1221.7,1488.4 L1220.7,1488.3 L1219.6,1488.2 L1218.2,1488.2 L1216.9,1489.0 L1215.4,1488.2 L1214.4,1488.4 L1213.2,1488.3 L1211.8,1488.1 L1210.4,1489.2 L1209.5,1488.5 L1208.4,1488.2 L1207.1,1488.4 L1205.9,1488.8 L1204.9,1488.3 L1203.9,1488.3 L1202.4,1488.5 L1201.0,1488.3 L1199.8,1488.3 L1198.3,1488.1 L1197.0,1488.3 L1195.8,1489.7 L1194.8,1488.4 L1193.8,1488.4 L1192.5,1489.3 L1191.3,1489.6 L1189.9,1488.2 L1188.8,1488.3 L1187.7,1488.2 L1186.4,1488.8 L1185.1,1487.9 L1184.0,1488.1 L1182.8,1488.1 L1181.7,1488.6 L1180.3,1488.1 L1179.2,1488.5 L1178.1,1489.0 L1177.0,1491.8 L1176.0,1488.5 L1174.6,1488.1 L1173.2,1488.4 L1172.1,1488.1 L1171.2,1488.3 L1170.2,1489.4 L1169.0,1489.2 L1168.0,1489.0 L1167.0,1488.1 L1165.6,1488.0 L1164.2,1488.2 L1162.9,1488.5 L1161.5,1488.1 L1160.2,1489.0 L1159.3,1488.5 L1157.9,1488.5 L1157.0,1488.0 L1155.7,1489.2 L1154.5,1487.9 L1153.1,1487.9 L1151.9,1488.6 L1150.8,1489.2 L1149.5,1488.7 L1148.3,1490.0 L1147.0,1489.5 L1145.8,1488.6 L1144.6,1488.6 L1143.4,1489.5 L1142.5,1488.3 L1141.5,1488.2 L1140.4,1489.8 L1139.4,1489.7 L1138.3,1488.3 L1137.0,1488.3 L1135.8,1488.6 L1134.6,1488.1 L1133.6,1488.2 L1132.3,1488.0 L1131.1,1488.9 L1129.7,1488.8 L1128.7,1488.2 L1127.4,1489.1 L1126.2,1488.5 L1124.9,1488.1 L1123.4,1488.1 L1122.0,1488.4 L1120.7,1488.0 L1119.4,1487.6 L1118.5,1489.1 L1117.2,1488.1 L1116.0,1488.1 L1114.7,1488.0 L1113.2,1488.5 L1112.1,1488.2 L1110.6,1488.3 L1109.2,1488.0 L1108.2,1490.1 L1106.7,1488.1 L1105.4,1488.1 L1104.0,1488.2 L1102.6,1488.1 L1101.7,1487.9 L1100.5,1489.1 L1099.6,1487.7 L1098.5,1487.9 L1097.6,1488.3 L1096.3,1489.1 L1095.0,1489.4 L1093.8,1488.4 L1092.8,1487.8 L1091.5,1487.9 L1090.4,1488.8 L1089.1,1488.9 L1088.1,1488.1 L1086.8,1487.9 L1085.8,1488.4 L1084.7,1487.8 L1083.5,1488.7 L1082.4,1489.7 L1081.2,1488.6 L1079.7,1487.9 L1078.7,1488.0 L1077.3,1487.6 L1076.1,1487.5 L1075.0,1488.0 L1073.8,1488.1 L1072.9,1488.2 L1071.6,1488.0 L1070.5,1488.6 L1069.2,1488.0 L1068.0,1488.0 L1067.0,1488.8 L1065.9,1488.6 L1064.4,1487.6 L1063.3,1488.1 L1061.9,1487.6 L1060.8,1489.4 L1059.8,1488.2 L1058.9,1487.7 L1057.6,1487.9 L1056.6,1489.9 L1055.2,1488.7 L1054.1,1488.1 L1053.1,1487.7 L1051.7,1487.9 L1050.4,1489.3 L1049.2,1488.3 L1047.7,1488.4 L1046.4,1488.9 L1045.1,1489.3 L1044.1,1488.2 L1042.6,1487.5 L1041.2,1488.6 L1040.0,1487.7 L1038.8,1488.9 L1037.6,1489.2 L1036.2,1487.3 L1034.8,1487.7 L1033.4,1487.8 L1032.0,1488.5 L1030.8,1489.6 L1029.4,1487.8 L1028.4,1488.5 L1027.0,1487.9 L1025.5,1488.0 L1024.6,1487.6 L1023.3,1487.6 L1022.3,1488.5 L1021.2,1487.7 L1020.2,1487.7 L1019.2,1488.1 L1017.8,1488.0 L1016.6,1489.0 L1015.2,1487.1 L1014.1,1488.8 L1012.7,1487.3 L1011.4,1488.1 L1010.1,1488.9 L1008.6,1487.5Z" fill="#b8499b" stroke="#b8499b" stroke-width="0.6" stroke-linejoin="round"/>
<path d="M1161.9,1488.7 Q1164.8,1486.2 1164.9,1478.8 L1165.8,1460.5 L1166.7,1458.0 L1167.3,1458.0 L1168.2,1460.5 L1169.1,1478.8 Q1169.2,1486.2 1172.1,1488.7 Z" fill="#b8499b"/>
<path d="M1194.3,1488.7 Q1200.1,1486.2 1200.6,1455.7 L1202.0,1317.0 L1202.9,1314.5 L1204.7,1314.5 L1205.6,1317.0 L1207.0,1455.7 Q1206.5,1486.2 1212.3,1488.7 Z" fill="#b8499b"/>
<path d="M1253.4,1488.7 Q1256.1,1486.2 1256.2,1481.8 L1257.1,1470.5 L1258.0,1468.0 L1258.6,1468.0 L1259.5,1470.5 L1260.4,1481.8 Q1260.5,1486.2 1263.2,1488.7 Z" fill="#b8499b"/>
<path d="M1484.0,1488.7 Q1486.6,1486.2 1486.7,1483.0 L1487.7,1474.5 L1488.6,1472.0 L1489.0,1472.0 L1489.9,1474.5 L1490.9,1483.0 Q1491.0,1486.2 1493.6,1488.7 Z" fill="#b8499b"/>
<path d="M1731.3,1488.7 Q1733.8,1486.2 1733.9,1485.1 L1734.8,1481.5 L1735.7,1479.0 L1736.3,1479.0 L1737.2,1481.5 L1738.1,1485.1 Q1738.2,1486.2 1740.7,1488.7 Z" fill="#b8499b"/>
</g>
<rect x="1072.10" y="1085.0" width="2.0" height="403.5" fill="#000"/>
<rect x="1131.20" y="1335.0" width="2.0" height="153.5" fill="#000"/>
<rect x="1166.60" y="1457.5" width="1.8" height="31.0" fill="#000"/>
<rect x="1203.90" y="1345.0" width="3.4" height="143.5" fill="#000"/>
<rect x="1257.95" y="1465.5" width="1.7" height="23.0" fill="#000"/>
<rect x="1323.40" y="1433.0" width="2.0" height="55.5" fill="#000"/>
<rect x="1487.20" y="1464.3" width="1.8" height="24.2" fill="#000"/>
<rect x="1677.10" y="1466.0" width="1.8" height="22.5" fill="#000"/>
<text transform="translate(996.4,1065.2) scale(0.990,1)" font-size="25.5" text-anchor="end" fill="#111" stroke="#111" stroke-width="0.4">9000</text>
<text transform="translate(996.4,1102.3) scale(0.990,1)" font-size="25.5" text-anchor="end" fill="#111" stroke="#111" stroke-width="0.4">8000</text>
<text transform="translate(996.4,1150.4) scale(0.990,1)" font-size="25.5" text-anchor="end" fill="#111" stroke="#111" stroke-width="0.4">7000</text>
<text transform="translate(996.4,1199.5) scale(0.990,1)" font-size="25.5" text-anchor="end" fill="#111" stroke="#111" stroke-width="0.4">6000</text>
<text transform="translate(996.4,1248.0) scale(0.990,1)" font-size="25.5" text-anchor="end" fill="#111" stroke="#111" stroke-width="0.4">5000</text>
<text transform="translate(996.4,1296.9) scale(0.990,1)" font-size="25.5" text-anchor="end" fill="#111" stroke="#111" stroke-width="0.4">4000</text>
<text transform="translate(996.4,1346.0) scale(0.990,1)" font-size="25.5" text-anchor="end" fill="#111" stroke="#111" stroke-width="0.4">3000</text>
<text transform="translate(996.4,1395.0) scale(0.990,1)" font-size="25.5" text-anchor="end" fill="#111" stroke="#111" stroke-width="0.4">2000</text>
<text transform="translate(996.4,1442.9) scale(0.990,1)" font-size="25.5" text-anchor="end" fill="#111" stroke="#111" stroke-width="0.4">1000</text>
<text transform="translate(986.8,1498.0) scale(0.990,1)" font-size="25.5" text-anchor="middle" fill="#111" stroke="#111" stroke-width="0.4">0</text>
<text transform="translate(1129.1,1519.4)" font-size="25" text-anchor="middle" fill="#111" stroke="#111" stroke-width="0.4">30000</text>
<text transform="translate(1251.6,1519.4)" font-size="25" text-anchor="middle" fill="#111" stroke="#111" stroke-width="0.4">40000</text>
<text transform="translate(1375.8,1519.4)" font-size="25" text-anchor="middle" fill="#111" stroke="#111" stroke-width="0.4">50000</text>
<text transform="translate(1498.4,1519.4)" font-size="25" text-anchor="middle" fill="#111" stroke="#111" stroke-width="0.4">60000</text>
<text transform="translate(1620.4,1519.4)" font-size="25" text-anchor="middle" fill="#111" stroke="#111" stroke-width="0.4">70000</text>
<text transform="translate(1722.9,1519.4)" font-size="25" text-anchor="middle" fill="#111" stroke="#111" stroke-width="0.4">80000</text>
<text transform="translate(1437.0,1551.7) scale(1.030,1)" font-size="38" text-anchor="middle" fill="#111" stroke="#111" stroke-width="0.4">sin</text>
<text transform="translate(933.3,1258.3) rotate(-90) scale(0.990,1)" font-size="39" text-anchor="middle" fill="#111" stroke="#111" stroke-width="0.4">cps</text>
<text transform="translate(1703.0,1087.7) scale(1.032,1)" font-size="36.5" text-anchor="end" fill="#1a1a1a" stroke="#1a1a1a" stroke-width="0.4">Gastropod</text>
<text transform="translate(1099.0,1096.7) scale(0.990,1)" font-size="25.5" text-anchor="middle" fill="#111" stroke="#111" stroke-width="0.4">SiKa</text>
<text transform="translate(1137.4,1321.0) scale(0.990,1)" font-size="25.5" text-anchor="middle" fill="#111" stroke="#111" stroke-width="0.4">AlKa</text>
<text transform="translate(1204.0,1325.0) scale(0.990,1)" font-size="25.5" text-anchor="middle" fill="#111" stroke="#111" stroke-width="0.4">CaKa</text>
<text transform="translate(1338.0,1433.0) scale(0.990,1)" font-size="25.5" text-anchor="middle" fill="#111" stroke="#111" stroke-width="0.4">FeKa</text>
<text transform="translate(1218.0,1444.0) scale(0.990,1)" font-size="25.5" text-anchor="middle" fill="#111" stroke="#111" stroke-width="0.4">MgKa</text>
<text transform="translate(1170.0,1461.5) scale(0.990,1)" font-size="25.5" text-anchor="middle" fill="#111" stroke="#111" stroke-width="0.4">CaKb</text>
<text transform="translate(1272.3,1466.5) scale(0.990,1)" font-size="25.5" text-anchor="middle" fill="#111" stroke="#111" stroke-width="0.4">K Ka</text>
<text transform="translate(1496.0,1465.0) scale(0.990,1)" font-size="25.5" text-anchor="middle" fill="#111" stroke="#111" stroke-width="0.4">S Ka</text>
<text transform="translate(1678.7,1462.5) scale(0.990,1)" font-size="25.5" text-anchor="middle" fill="#111" stroke="#111" stroke-width="0.4">CaKb</text>
<rect x="122.4" y="1605" width="753.6" height="417.0" fill="none" stroke="#000" stroke-width="2.8"/>
<clipPath id="c7"><rect x="121.0" y="1603.6" width="755.0" height="425.0"/></clipPath>
<g clip-path="url(#c7)">
<path d="M124.4,2021.7 H142.4" stroke="#d8242b" stroke-width="1.6" stroke-dasharray="7 4 3 5 9 6" fill="none"/>
<path d="M124.0,2018.4 L125.6,2018.4 L127.2,2017.2 L128.5,2017.7 L130.0,2017.5 L131.3,2016.7 L133.0,2018.9 L134.2,2017.3 L135.9,2019.1 L137.3,2019.4 L138.7,2017.2 L140.0,2018.7 L141.7,2016.9 L143.4,2020.1 L145.1,2014.9 L146.9,2018.7 L148.5,2017.5 L149.8,2018.6 L151.4,2020.3 L152.8,2019.3 L154.1,2017.9 L155.8,2018.7 L157.4,2015.1 L159.2,2013.8 L161.0,2019.4 L162.3,2017.2 L163.5,2017.4 L164.7,2016.4 L166.2,2019.1 L167.8,2019.2 L169.2,2017.6 L170.8,2015.6 L172.8,2016.5 L174.1,2018.5 L175.5,2016.3 L177.4,2019.0 L178.6,2017.1 L180.6,2020.8 L182.1,2018.7 L183.8,2015.4 L185.6,2016.1 L187.4,2019.6 L189.2,2016.8 L191.0,2018.5 L192.9,2016.5 L194.3,2019.9 L196.1,2021.0 L197.9,2018.7 L199.6,2019.2 L201.1,2020.2 L203.0,2020.2 L204.6,2019.2 L206.1,2019.4 L207.8,2019.0 L209.2,2018.9 L211.1,2020.3 L212.9,2020.3 L214.6,2015.5 L216.6,2018.7 L217.9,2019.3 L219.8,2017.4 L221.7,2017.9 L223.3,2015.2 L224.9,2019.7 L226.1,2020.9 L227.8,2019.7 L229.8,2017.0 L231.2,2017.9 L232.6,2016.6 L233.9,2016.4 L235.8,2020.4 L237.1,2018.0 L239.0,2019.6 L240.3,2019.2 L241.7,2019.5 L243.2,2016.6 L244.9,2018.7 L246.7,2020.4 L248.3,2020.4 L250.1,2020.1 L251.4,2016.5 L252.7,2017.3 L254.1,2019.9 L255.5,2014.1 L257.4,2020.1 L259.0,2020.2 L260.4,2016.4 L261.9,2019.4 L263.6,2020.0 L265.6,2017.7 L267.5,2017.5 L268.8,2020.6 L270.6,2021.1 L272.0,2018.7 L273.9,2020.7 L275.5,2016.1 L277.1,2019.9 L278.4,2019.9 L280.3,2020.5 L282.2,2020.6 L283.6,2019.9 L284.8,2020.0 L286.2,2020.6 L288.2,2018.1 L289.7,2017.6 L291.1,2018.6 L292.7,2018.9 L294.6,2020.0 L295.8,2017.6 L297.2,2020.3 L299.0,2019.4 L300.9,2020.1 L302.5,2020.4 L303.8,2019.1 L305.2,2020.4 L307.1,2018.9 L308.8,2020.0 L310.6,2020.6 L311.9,2020.6 L313.9,2020.1 L315.4,2019.4 L317.0,2019.2 L318.3,2019.7 L319.7,2020.1 L321.2,2020.7 L322.5,2020.3 L324.2,2019.2 L325.7,2021.6 L326.9,2017.1 L328.6,2018.1 L330.5,2018.6 L332.1,2020.7 L333.9,2021.6 L335.3,2017.7 L336.7,2020.8 L338.3,2020.7 L339.5,2020.3 L341.4,2020.6 L343.2,2020.2 L344.7,2020.2 L345.9,2020.5 L347.8,2020.2 L349.2,2019.6 L350.7,2018.1 L352.2,2021.0 L353.6,2018.3 L355.1,2017.1 L357.0,2020.4 L358.3,2020.5 L359.6,2018.7 L360.9,2019.0 L362.7,2020.4 L364.7,2019.6 L366.2,2018.1 L367.5,2019.0 L368.9,2020.4 L370.7,2020.6 L372.6,2022.1 L374.2,2015.9 L375.8,2021.7 L377.6,2018.9 L379.0,2021.0 L380.8,2020.2 L382.3,2016.5 L383.5,2018.5 L384.9,2021.0 L386.8,2020.4 L388.5,2021.0 L389.9,2018.2 L391.4,2018.2 L393.1,2019.5 L395.0,2019.9 L396.3,2018.0 L398.2,2020.8 L399.5,2021.0 L400.8,2019.9 L402.2,2018.7 L403.6,2019.4 L404.9,2020.9 L406.2,2020.5 L408.2,2020.6 L410.1,2018.7 L411.4,2016.6 L413.0,2018.9 L414.6,2021.2 L416.1,2020.7 L418.1,2018.8 L419.4,2017.5 L420.7,2018.8 L422.5,2018.7 L424.4,2019.8 L426.0,2020.6 L427.9,2018.2 L429.8,2018.7 L431.2,2021.1 L432.8,2020.5 L434.2,2020.1 L435.8,2019.7 L437.3,2020.6 L439.1,2019.8 L440.6,2019.5 L442.4,2020.0 L444.4,2019.5 L445.6,2021.0 L447.0,2020.0 L448.4,2020.5 L449.7,2018.3 L451.1,2020.2 L452.6,2018.9 L453.8,2018.1 L455.3,2018.2 L456.8,2018.2 L458.2,2021.5 L459.7,2020.0 L461.2,2021.7 L462.9,2020.3 L464.4,2020.1 L466.1,2020.8 L467.4,2018.5 L469.0,2020.5 L470.4,2020.8 L471.8,2020.1 L473.2,2015.7 L475.2,2019.8 L476.9,2020.1 L478.1,2018.3 L480.0,2020.5 L481.4,2018.8 L483.2,2020.8 L484.8,2021.4 L486.5,2019.4 L488.0,2020.2 L489.4,2019.4 L491.1,2020.8 L493.0,2020.8 L494.6,2020.6 L496.6,2020.3 L498.1,2020.1 L499.8,2020.8 L501.3,2019.3 L503.1,2017.2 L504.4,2017.5 L506.3,2020.8 L508.1,2020.1 L509.5,2020.7 L511.5,2021.6 L513.0,2021.4 L514.6,2019.9 L516.0,2019.5 L517.2,2021.2 L518.8,2021.1 L520.2,2020.0 L521.9,2018.1 L523.6,2020.9 L524.9,2020.3 L526.8,2021.1 L528.4,2021.4 L529.8,2020.7 L531.6,2019.7 L532.9,2021.6 L534.4,2020.8 L535.8,2020.8 L537.1,2018.1 L538.4,2021.7 L540.0,2019.8 L541.5,2019.0 L543.1,2020.9 L544.6,2020.6 L546.4,2020.9 L548.2,2020.9 L549.8,2020.8 L551.6,2020.7 L553.2,2020.9 L554.5,2021.1 L556.5,2018.7 L558.4,2020.8 L560.2,2021.3 L561.8,2019.6 L563.6,2017.5 L565.0,2020.6 L566.7,2020.8 L568.7,2020.9 L570.1,2018.8 L571.6,2020.9 L573.3,2019.4 L575.0,2018.6 L576.4,2020.9 L577.6,2020.7 L579.2,2021.2 L581.1,2020.3 L583.0,2018.8 L584.2,2018.5 L585.5,2020.3 L587.4,2020.4 L589.2,2021.1 L590.6,2020.8 L592.5,2021.0 L594.1,2019.1 L595.7,2022.4 L597.3,2021.3 L598.8,2020.0 L600.0,2021.2 L602.0,2021.2 L603.8,2020.9 L605.4,2021.5 L606.9,2021.5 L608.4,2021.0 L610.1,2020.3 L611.8,2021.7 L613.7,2020.8 L615.1,2018.9 L617.0,2021.1 L618.7,2020.8 L620.5,2019.3 L622.4,2020.9 L624.1,2020.6 L625.6,2021.9 L626.8,2018.7 L628.4,2019.2 L630.4,2021.1 L631.8,2020.4 L633.1,2020.0 L634.3,2020.7 L635.5,2020.3 L636.8,2021.2 L638.2,2016.7 L639.9,2020.4 L641.2,2018.7 L642.9,2021.3 L644.4,2021.0 L646.2,2018.3 L647.5,2018.5 L649.1,2018.0 L650.7,2019.6 L652.6,2019.9 L654.1,2021.4 L656.0,2019.6 L657.9,2019.9 L659.2,2021.4 L661.1,2020.4 L662.5,2020.7 L663.7,2019.8 L665.7,2019.4 L667.0,2020.3 L668.7,2021.1 L670.7,2020.8 L672.0,2021.0 L673.2,2017.9 L674.6,2020.4 L676.5,2018.8 L677.8,2020.3 L679.4,2017.8 L680.9,2018.1 L682.6,2018.7 L683.9,2016.5 L685.3,2021.3 L686.6,2020.2 L687.8,2019.2 L689.3,2021.3 L690.7,2019.5 L692.0,2020.7 L693.2,2019.8 L695.1,2019.7 L697.0,2021.0 L698.6,2020.8 L700.4,2020.9 L701.9,2020.0 L703.2,2021.1 L705.2,2018.0 L706.8,2020.7 L708.8,2017.6 L710.7,2018.6 L711.9,2020.2 L713.8,2020.9 L715.1,2020.9 L716.9,2020.5 L718.5,2020.7 L720.4,2020.9 L721.9,2020.7 L723.8,2018.8 L725.3,2019.9 L726.8,2020.0 L728.4,2021.2 L730.3,2019.9 L732.1,2018.2 L733.7,2021.7 L735.1,2020.4 L736.3,2019.0 L738.0,2021.2 L739.9,2020.7 L741.5,2020.7 L743.2,2020.2 L744.5,2019.2 L746.4,2021.1 L747.8,2020.6 L749.7,2018.6 L751.3,2017.7 L753.0,2021.0 L754.6,2020.0 L756.6,2021.2 L757.8,2020.9 L759.4,2019.1 L761.0,2019.6 L762.3,2021.6 L763.8,2020.9 L765.3,2021.0 L766.9,2019.7 L768.3,2020.8 L769.8,2020.8 L771.3,2020.7 L772.7,2021.2 L774.2,2020.6 L775.7,2019.5 L777.0,2020.2 L778.5,2021.1 L780.3,2021.4 L781.9,2020.2 L783.8,2018.5 L785.8,2021.1 L787.5,2021.0 L788.9,2021.1 L790.7,2019.8 L792.2,2019.7 L794.1,2021.1 L795.5,2022.2 L797.1,2021.7 L799.1,2021.2 L800.6,2021.0 L802.2,2019.7 L803.9,2018.3 L805.6,2019.5 L806.9,2021.2 L808.2,2019.2 L810.1,2020.9 L811.7,2020.4 L813.2,2017.5 L815.1,2021.1 L816.9,2021.2 L818.6,2020.7 L820.2,2020.9 L821.5,2020.1 L823.2,2020.4 L824.7,2020.8 L825.9,2019.3 L827.4,2018.2 L829.0,2021.1 L830.9,2021.0 L832.6,2019.3 L834.1,2020.7 L835.7,2020.4 L837.0,2019.7 L838.6,2021.0 L840.5,2020.9 L841.9,2018.9 L843.7,2019.9 L845.2,2019.5 L847.0,2021.5 L848.6,2020.5 L850.0,2019.4 L851.7,2020.1 L853.3,2020.8 L855.0,2020.8 L856.9,2021.0 L858.3,2021.0 L859.7,2019.3 L861.7,2020.3 L863.1,2018.9 L864.6,2021.0 L866.1,2020.9 L867.9,2020.7 L869.2,2020.9 L870.9,2019.7 L872.3,2021.3 L874.2,2020.4 L874.5,2021.6 L872.6,2022.7 L871.2,2023.0 L869.5,2022.5 L868.2,2021.7 L866.4,2021.7 L864.9,2021.5 L863.4,2022.0 L862.0,2021.4 L860.0,2022.6 L858.6,2021.8 L857.2,2022.8 L855.3,2022.5 L853.6,2023.0 L852.0,2023.2 L850.3,2021.6 L848.9,2022.6 L847.3,2023.1 L845.5,2021.5 L844.0,2022.1 L842.2,2022.0 L840.8,2022.2 L838.9,2022.3 L837.3,2021.8 L836.0,2021.6 L834.4,2021.6 L832.9,2021.7 L831.2,2023.2 L829.3,2021.7 L827.7,2022.3 L826.2,2021.6 L825.0,2021.6 L823.5,2021.7 L821.8,2022.1 L820.5,2022.0 L818.9,2022.8 L817.2,2021.6 L815.4,2022.8 L813.5,2021.8 L812.0,2022.2 L810.4,2022.0 L808.5,2021.6 L807.2,2023.6 L805.9,2021.8 L804.2,2021.4 L802.5,2022.2 L800.9,2021.7 L799.4,2021.8 L797.4,2021.8 L795.8,2023.2 L794.4,2023.1 L792.5,2022.6 L791.0,2021.6 L789.2,2022.4 L787.8,2022.4 L786.1,2021.7 L784.1,2021.8 L782.2,2021.5 L780.6,2021.8 L778.8,2022.7 L777.3,2023.7 L776.0,2022.1 L774.5,2021.7 L773.0,2021.7 L771.6,2021.8 L770.1,2022.3 L768.6,2021.6 L767.2,2021.5 L765.6,2022.1 L764.1,2021.8 L762.6,2021.5 L761.3,2021.7 L759.7,2021.7 L758.1,2021.7 L756.9,2021.5 L754.9,2021.9 L753.3,2022.5 L751.6,2021.7 L750.0,2021.6 L748.1,2022.5 L746.7,2021.8 L744.8,2021.3 L743.5,2021.7 L741.8,2022.2 L740.2,2021.7 L738.3,2021.7 L736.6,2023.1 L735.4,2022.1 L734.0,2021.7 L732.4,2022.4 L730.6,2021.6 L728.7,2022.1 L727.1,2023.1 L725.6,2021.7 L724.1,2021.6 L722.2,2021.7 L720.7,2021.7 L718.8,2022.3 L717.2,2022.1 L715.4,2021.7 L714.1,2021.8 L712.2,2021.4 L711.0,2022.2 L709.1,2021.8 L707.1,2022.4 L705.5,2022.4 L703.5,2021.8 L702.2,2022.3 L700.7,2021.8 L698.9,2021.7 L697.3,2021.6 L695.4,2022.5 L693.5,2021.7 L692.3,2021.8 L691.0,2022.4 L689.6,2021.6 L688.1,2022.8 L686.9,2021.4 L685.6,2023.2 L684.2,2021.5 L682.9,2021.7 L681.2,2023.2 L679.7,2021.6 L678.1,2021.9 L676.8,2021.8 L674.9,2021.6 L673.5,2021.8 L672.3,2021.6 L671.0,2022.1 L669.0,2022.9 L667.3,2022.3 L666.0,2021.6 L664.0,2021.4 L662.8,2023.1 L661.4,2022.9 L659.5,2021.7 L658.2,2021.5 L656.3,2021.4 L654.4,2021.3 L652.9,2021.6 L651.0,2021.6 L649.4,2021.7 L647.8,2021.7 L646.5,2021.7 L644.7,2021.5 L643.2,2022.3 L641.5,2021.6 L640.2,2021.7 L638.5,2021.6 L637.1,2021.5 L635.8,2021.4 L634.6,2021.6 L633.4,2021.8 L632.1,2021.9 L630.7,2021.9 L628.7,2021.9 L627.1,2022.8 L625.9,2021.4 L624.4,2022.5 L622.7,2021.6 L620.8,2022.1 L619.0,2021.6 L617.3,2021.6 L615.4,2021.6 L614.0,2021.8 L612.1,2021.5 L610.4,2021.6 L608.7,2021.8 L607.2,2021.6 L605.7,2021.7 L604.1,2021.6 L602.3,2021.8 L600.3,2021.6 L599.1,2021.8 L597.6,2021.7 L596.0,2021.7 L594.4,2022.1 L592.8,2021.7 L590.9,2021.5 L589.5,2021.3 L587.7,2021.7 L585.8,2023.2 L584.5,2021.7 L583.3,2024.2 L581.4,2021.7 L579.5,2022.3 L577.9,2021.6 L576.7,2022.3 L575.3,2022.9 L573.6,2021.4 L571.9,2021.7 L570.4,2022.9 L569.0,2021.8 L567.0,2022.3 L565.3,2021.9 L563.9,2023.5 L562.1,2021.7 L560.5,2021.8 L558.7,2021.8 L556.8,2022.1 L554.8,2021.4 L553.5,2021.6 L551.9,2021.4 L550.1,2022.9 L548.5,2021.3 L546.7,2022.1 L544.9,2021.2 L543.4,2021.6 L541.8,2022.0 L540.3,2023.0 L538.7,2023.5 L537.4,2021.7 L536.1,2022.7 L534.7,2021.3 L533.2,2022.2 L531.9,2022.6 L530.1,2022.2 L528.7,2021.7 L527.1,2021.8 L525.2,2021.8 L523.9,2022.5 L522.2,2022.6 L520.5,2023.1 L519.1,2023.2 L517.5,2021.9 L516.3,2021.8 L514.9,2023.5 L513.3,2022.4 L511.8,2021.8 L509.8,2023.2 L508.4,2023.3 L506.6,2021.6 L504.7,2022.2 L503.4,2021.5 L501.6,2021.3 L500.1,2021.4 L498.4,2022.0 L496.9,2022.0 L494.9,2022.4 L493.3,2021.3 L491.4,2021.4 L489.7,2021.6 L488.3,2023.3 L486.8,2021.7 L485.1,2022.4 L483.5,2021.3 L481.7,2022.2 L480.3,2021.5 L478.4,2021.2 L477.2,2021.6 L475.5,2022.3 L473.5,2022.4 L472.1,2021.8 L470.7,2021.6 L469.3,2021.9 L467.7,2022.5 L466.4,2021.9 L464.7,2023.0 L463.2,2021.8 L461.5,2021.8 L460.0,2021.8 L458.5,2021.2 L457.1,2023.2 L455.6,2021.8 L454.1,2021.8 L452.9,2021.5 L451.4,2021.7 L450.0,2023.7 L448.7,2024.0 L447.3,2021.7 L445.9,2023.1 L444.7,2021.7 L442.7,2021.6 L440.9,2021.8 L439.4,2021.5 L437.6,2021.8 L436.1,2022.1 L434.5,2021.3 L433.1,2021.9 L431.5,2022.4 L430.1,2022.7 L428.2,2022.4 L426.3,2022.1 L424.7,2021.6 L422.8,2023.2 L421.0,2021.7 L419.7,2023.5 L418.4,2022.5 L416.4,2021.8 L414.9,2021.3 L413.3,2021.4 L411.7,2021.9 L410.4,2021.8 L408.5,2023.0 L406.5,2021.5 L405.2,2022.6 L403.9,2023.5 L402.5,2021.9 L401.1,2022.5 L399.8,2021.6 L398.5,2022.0 L396.6,2021.7 L395.3,2021.8 L393.4,2021.8 L391.7,2021.8 L390.2,2023.5 L388.8,2023.0 L387.1,2021.7 L385.2,2022.5 L383.8,2022.5 L382.6,2021.7 L381.1,2022.2 L379.3,2023.1 L377.9,2021.3 L376.1,2021.9 L374.5,2021.6 L372.9,2021.3 L371.0,2022.5 L369.2,2024.3 L367.8,2021.7 L366.5,2020.8 L365.0,2023.6 L363.0,2021.9 L361.2,2021.8 L359.9,2021.8 L358.6,2021.5 L357.3,2022.4 L355.4,2021.4 L353.9,2021.8 L352.5,2021.1 L351.0,2021.7 L349.5,2021.6 L348.1,2021.4 L346.2,2022.7 L345.0,2023.3 L343.5,2022.0 L341.7,2021.9 L339.8,2022.9 L338.6,2021.6 L337.0,2021.4 L335.6,2021.6 L334.2,2022.2 L332.4,2021.1 L330.8,2021.8 L328.9,2021.8 L327.2,2022.1 L326.0,2022.7 L324.5,2021.6 L322.8,2024.6 L321.5,2022.5 L320.0,2023.2 L318.6,2022.2 L317.3,2024.1 L315.7,2022.4 L314.2,2023.4 L312.2,2022.0 L310.9,2021.6 L309.1,2021.7 L307.4,2021.4 L305.5,2021.8 L304.1,2021.6 L302.8,2023.6 L301.2,2022.8 L299.3,2021.7 L297.5,2023.4 L296.1,2021.8 L294.9,2021.6 L293.0,2021.7 L291.4,2021.7 L290.0,2021.0 L288.5,2027.7 L286.5,2021.8 L285.1,2023.5 L283.9,2021.2 L282.5,2021.5 L280.6,2021.8 L278.7,2023.6 L277.4,2021.7 L275.8,2021.8 L274.2,2021.6 L272.3,2021.9 L270.9,2021.4 L269.1,2021.7 L267.8,2021.5 L265.9,2024.8 L263.9,2021.1 L262.2,2023.3 L260.7,2023.0 L259.3,2021.8 L257.7,2022.8 L255.8,2021.6 L254.4,2023.0 L253.0,2021.2 L251.7,2022.6 L250.4,2021.5 L248.6,2020.9 L247.0,2022.4 L245.2,2023.0 L243.5,2021.9 L242.0,2021.5 L240.6,2022.1 L239.3,2022.4 L237.4,2021.5 L236.1,2021.3 L234.2,2022.4 L232.9,2024.0 L231.5,2022.7 L230.1,2022.4 L228.1,2021.8 L226.4,2021.7 L225.2,2022.5 L223.6,2021.8 L222.0,2021.7 L220.1,2023.4 L218.2,2022.3 L216.9,2021.6 L214.9,2021.2 L213.2,2022.2 L211.4,2022.4 L209.5,2021.4 L208.1,2021.6 L206.4,2021.3 L204.9,2021.9 L203.3,2021.8 L201.4,2022.2 L199.9,2023.1 L198.2,2022.7 L196.4,2021.7 L194.6,2021.7 L193.2,2023.7 L191.3,2022.4 L189.5,2021.7 L187.7,2021.9 L185.9,2022.8 L184.1,2021.4 L182.4,2022.7 L180.9,2022.8 L178.9,2022.0 L177.7,2021.5 L175.8,2020.8 L174.4,2021.3 L173.1,2021.3 L171.1,2023.1 L169.5,2021.6 L168.1,2021.9 L166.5,2022.3 L165.0,2021.4 L163.8,2021.8 L162.6,2022.2 L161.3,2022.6 L159.5,2022.7 L157.7,2021.6 L156.1,2021.9 L154.4,2022.7 L153.1,2022.4 L151.7,2021.5 L150.1,2023.1 L148.8,2022.4 L147.2,2024.4 L145.4,2022.6 L143.7,2022.5 L142.0,2021.5 L140.3,2021.8 L139.0,2021.8 L137.6,2021.6 L136.2,2022.1 L134.5,2023.8 L133.3,2021.5 L131.6,2022.6 L130.3,2021.8 L128.8,2023.7 L127.5,2022.1 L125.9,2022.5 L124.3,2022.5Z" fill="#2f54a4" stroke="#2f54a4" stroke-width="0.6" stroke-linejoin="round"/>
<path d="M124.0,2016.5 L125.3,2014.8 L126.7,2018.2 L128.5,2019.9 L130.3,2019.4 L131.7,2020.2 L132.9,2018.7 L134.7,2018.9 L136.1,2018.7 L137.8,2018.6 L139.2,2016.2 L140.5,2019.0 L142.2,2016.6 L143.9,2017.7 L145.2,2016.5 L146.6,2016.7 L147.9,2018.0 L149.1,2018.8 L150.5,2018.8 L152.4,2019.1 L153.7,2018.3 L155.4,2018.5 L157.2,2016.3 L158.6,2016.6 L160.2,2019.4 L161.7,2019.4 L163.5,2019.4 L165.1,2015.2 L167.0,2017.8 L168.6,2013.9 L170.1,2018.7 L171.4,2019.5 L172.7,2018.7 L174.0,2016.6 L175.8,2014.2 L177.5,2015.1 L179.1,2015.9 L180.4,2018.0 L181.9,2015.5 L183.3,2019.5 L184.6,2016.2 L185.9,2016.1 L187.5,2018.0 L189.0,2016.4 L190.8,2019.7 L192.7,2018.6 L193.9,2015.6 L195.6,2016.9 L197.2,2018.1 L199.0,2019.7 L200.8,2016.6 L202.4,2018.0 L204.2,2018.6 L205.8,2018.2 L207.1,2017.7 L208.3,2017.4 L209.8,2018.9 L211.6,2019.8 L212.8,2018.8 L214.5,2017.1 L215.9,2019.0 L217.7,2018.8 L219.5,2018.8 L221.0,2019.3 L222.5,2018.7 L223.7,2016.5 L225.2,2018.7 L227.0,2015.7 L228.7,2019.4 L230.5,2014.8 L232.2,2018.7 L233.7,2018.9 L235.6,2019.4 L237.0,2018.4 L238.4,2019.3 L239.8,2019.1 L241.1,2016.0 L242.7,2016.5 L244.5,2016.2 L245.8,2017.3 L247.1,2019.1 L248.7,2017.4 L249.9,2017.0 L251.1,2020.3 L252.4,2019.3 L254.1,2018.8 L255.7,2019.2 L257.1,2013.5 L258.3,2019.7 L259.5,2016.2 L261.0,2019.7 L262.6,2019.3 L264.3,2018.4 L265.7,2018.9 L266.9,2019.9 L268.7,2018.2 L269.9,2016.2 L271.8,2019.0 L273.6,2018.4 L275.5,2019.9 L276.9,2019.5 L278.1,2019.2 L279.6,2020.3 L280.9,2018.8 L282.2,2018.6 L283.5,2019.2 L284.8,2018.7 L286.3,2017.7 L287.8,2020.2 L289.2,2017.9 L291.1,2018.8 L292.2,2017.7 L293.4,2018.9 L295.1,2010.4 L296.8,2018.9 L298.3,2018.4 L300.1,2016.9 L301.3,2019.0 L302.5,2019.4 L303.8,2014.2 L305.1,2018.8 L306.5,2020.1 L308.1,2019.8 L309.9,2019.0 L311.7,2019.4 L313.6,2015.7 L315.2,2019.2 L317.0,2016.9 L318.3,2019.4 L319.5,2018.9 L321.3,2018.5 L323.0,2019.6 L324.3,2019.5 L325.7,2016.7 L327.2,2018.6 L328.7,2020.3 L330.4,2019.9 L332.2,2016.7 L333.4,2017.9 L335.1,2019.7 L337.0,2019.1 L338.7,2016.9 L340.0,2019.4 L341.3,2019.1 L342.6,2019.1 L344.2,2017.9 L345.8,2019.0 L347.5,2019.1 L348.9,2019.7 L350.7,2019.1 L351.9,2018.8 L353.7,2018.9 L355.2,2017.6 L356.6,2019.8 L358.3,2019.1 L360.0,2018.8 L361.7,2018.1 L362.9,2019.4 L364.5,2019.8 L366.3,2017.7 L368.2,2019.0 L370.0,2019.8 L371.3,2016.2 L372.6,2016.3 L374.1,2019.6 L375.9,2019.2 L377.3,2019.6 L378.7,2019.3 L380.5,2021.6 L382.1,2014.7 L383.4,2016.4 L385.0,2019.2 L386.2,2017.6 L387.9,2016.7 L389.7,2019.3 L390.9,2018.0 L392.3,2019.4 L394.0,2016.6 L395.2,2019.8 L396.4,2020.2 L397.6,2018.4 L399.4,2019.6 L400.9,2018.1 L402.5,2019.3 L404.3,2018.1 L405.8,2017.0 L407.0,2019.4 L408.3,2018.5 L409.5,2020.3 L410.6,2019.3 L412.2,2019.4 L413.4,2017.1 L414.9,2018.4 L416.4,2019.3 L417.9,2019.7 L419.2,2017.8 L421.0,2013.7 L422.6,2019.2 L423.9,2016.8 L425.7,2016.5 L427.4,2019.0 L429.2,2016.0 L430.6,2018.1 L432.5,2019.7 L434.1,2019.2 L435.4,2018.6 L437.1,2019.9 L438.8,2019.3 L440.5,2016.1 L442.4,2019.6 L444.2,2016.0 L445.8,2020.3 L447.1,2016.4 L449.0,2018.6 L450.2,2019.5 L451.9,2019.2 L453.5,2015.2 L455.1,2018.0 L456.9,2014.4 L458.6,2019.9 L459.9,2019.9 L461.1,2019.2 L462.8,2014.7 L464.1,2019.3 L465.9,2020.3 L467.7,2021.3 L468.9,2019.0 L470.4,2018.4 L471.9,2017.3 L473.7,2019.2 L475.6,2019.8 L477.1,2019.8 L479.0,2015.2 L480.4,2019.0 L481.6,2019.2 L482.8,2020.6 L484.5,2019.4 L486.0,2020.9 L487.7,2020.5 L489.0,2017.5 L490.4,2017.4 L492.1,2017.4 L493.5,2013.6 L495.3,2018.4 L496.6,2019.6 L497.9,2017.0 L499.6,2019.2 L501.1,2019.7 L503.0,2019.7 L504.7,2015.1 L506.5,2019.1 L508.2,2019.4 L509.5,2020.3 L511.2,2020.5 L512.7,2018.4 L514.2,2020.2 L515.6,2017.0 L517.2,2019.7 L519.0,2018.1 L520.6,2020.7 L522.4,2020.0 L524.0,2019.5 L525.8,2019.1 L527.4,2015.2 L528.6,2017.2 L529.8,2019.1 L531.6,2015.1 L533.1,2019.4 L534.9,2018.0 L536.0,2019.0 L537.2,2019.9 L538.7,2019.5 L540.4,2017.2 L541.9,2017.5 L543.4,2019.3 L544.6,2019.2 L546.3,2018.5 L548.2,2019.1 L549.8,2016.6 L551.5,2019.5 L553.1,2015.8 L554.5,2015.9 L555.7,2017.0 L557.5,2018.4 L558.7,2019.9 L559.8,2016.2 L561.3,2019.2 L562.5,2017.6 L563.6,2017.3 L565.4,2019.4 L567.2,2020.2 L569.0,2019.4 L570.3,2020.1 L571.8,2013.4 L573.2,2019.6 L574.8,2019.5 L576.0,2018.6 L577.7,2017.7 L578.9,2012.2 L580.2,2017.7 L581.8,2017.6 L583.5,2014.5 L585.2,2017.8 L587.0,2019.0 L588.8,2020.1 L590.0,2016.6 L591.1,2019.1 L592.6,2016.9 L593.8,2016.4 L595.4,2016.7 L596.8,2019.0 L598.5,2018.3 L600.1,2019.9 L601.7,2016.1 L603.4,2019.1 L604.9,2018.1 L606.5,2019.1 L607.7,2021.1 L609.4,2015.5 L610.7,2019.2 L612.6,2019.7 L614.3,2019.5 L615.9,2019.7 L617.4,2019.7 L619.2,2019.8 L620.5,2018.8 L622.4,2018.1 L624.1,2019.1 L625.7,2018.7 L627.3,2019.7 L628.5,2018.8 L629.7,2021.1 L631.4,2018.7 L633.0,2020.3 L634.4,2018.9 L636.2,2018.1 L637.5,2018.1 L639.1,2018.6 L640.5,2019.7 L641.6,2018.5 L643.3,2016.7 L644.8,2017.9 L646.2,2019.0 L647.6,2019.8 L648.8,2019.9 L650.2,2017.4 L651.5,2019.6 L652.7,2017.3 L654.2,2017.8 L656.0,2015.1 L657.5,2019.0 L658.7,2019.3 L659.9,2019.8 L661.3,2014.7 L662.4,2020.1 L664.1,2019.7 L665.7,2016.8 L667.5,2020.2 L669.0,2018.4 L670.5,2018.3 L672.3,2020.8 L673.6,2020.0 L675.5,2019.5 L677.4,2019.6 L678.8,2020.2 L680.0,2019.1 L681.5,2020.2 L682.7,2018.0 L684.3,2018.6 L685.9,2019.9 L687.6,2017.5 L688.8,2017.6 L690.1,2015.0 L691.9,2018.1 L693.2,2019.7 L695.0,2018.8 L696.3,2019.3 L697.8,2019.3 L699.3,2020.3 L700.9,2019.4 L702.7,2018.9 L704.1,2014.7 L705.5,2019.8 L706.8,2019.2 L708.2,2016.7 L709.6,2019.4 L710.7,2019.3 L712.4,2017.6 L714.3,2018.0 L716.0,2020.3 L717.3,2016.6 L718.5,2017.8 L719.8,2019.3 L721.0,2014.0 L722.5,2019.5 L723.7,2018.1 L725.3,2019.3 L726.8,2017.3 L728.1,2019.4 L729.8,2018.9 L731.4,2017.9 L733.1,2019.5 L734.3,2019.5 L735.8,2019.2 L737.1,2019.9 L738.4,2019.6 L739.7,2018.6 L741.4,2019.4 L743.0,2018.6 L744.8,2017.5 L746.3,2019.8 L748.0,2018.5 L749.4,2019.4 L751.0,2018.9 L752.8,2019.4 L754.2,2013.4 L755.6,2019.6 L757.3,2019.4 L759.2,2017.5 L760.4,2018.0 L761.7,2017.5 L762.9,2018.9 L764.6,2015.6 L766.1,2019.4 L767.4,2017.3 L768.7,2019.1 L770.0,2018.0 L771.3,2018.3 L772.9,2015.6 L774.7,2019.8 L776.1,2019.6 L777.4,2017.3 L779.1,2019.0 L780.8,2019.0 L782.2,2018.6 L784.0,2020.0 L785.2,2016.0 L786.3,2017.4 L788.1,2018.3 L789.4,2016.5 L790.7,2018.5 L792.1,2020.2 L793.7,2017.3 L795.1,2017.2 L796.8,2020.0 L798.5,2018.6 L800.1,2013.3 L801.6,2019.3 L803.3,2018.7 L805.0,2018.3 L806.4,2019.6 L807.8,2019.2 L809.4,2015.9 L811.2,2017.3 L812.9,2020.2 L814.4,2015.6 L816.3,2019.5 L817.7,2019.6 L819.2,2019.7 L820.9,2019.2 L822.1,2020.4 L823.8,2019.2 L825.5,2018.6 L826.7,2015.8 L828.2,2020.8 L829.5,2018.8 L830.9,2018.4 L832.2,2019.6 L834.1,2020.9 L835.7,2018.4 L837.5,2019.7 L839.1,2019.5 L840.3,2017.2 L842.1,2019.8 L843.7,2019.3 L845.5,2018.5 L847.3,2019.9 L849.1,2019.0 L850.6,2020.2 L852.4,2019.7 L854.0,2018.8 L855.4,2017.0 L857.1,2016.1 L858.3,2018.8 L859.6,2019.3 L861.2,2018.4 L862.4,2019.2 L864.2,2019.1 L865.4,2018.9 L866.6,2018.5 L868.5,2020.5 L869.8,2018.6 L871.0,2018.7 L872.2,2021.1 L873.9,2019.9 L874.2,2021.7 L872.5,2021.7 L871.3,2022.2 L870.1,2024.0 L868.8,2023.5 L866.9,2022.2 L865.7,2021.9 L864.5,2021.1 L862.7,2021.3 L861.5,2021.8 L859.9,2021.4 L858.6,2021.7 L857.4,2022.9 L855.7,2021.6 L854.3,2021.6 L852.7,2021.6 L850.9,2023.1 L849.4,2021.7 L847.6,2021.7 L845.8,2021.5 L844.0,2021.2 L842.4,2022.3 L840.6,2021.5 L839.4,2022.1 L837.8,2022.2 L836.0,2022.2 L834.4,2022.0 L832.5,2021.8 L831.2,2022.3 L829.8,2022.3 L828.5,2021.1 L827.0,2022.4 L825.8,2021.8 L824.1,2021.4 L822.4,2021.5 L821.2,2021.6 L819.5,2021.9 L818.0,2021.7 L816.6,2021.7 L814.7,2021.5 L813.2,2024.7 L811.5,2023.5 L809.7,2023.4 L808.1,2021.6 L806.7,2021.2 L805.3,2023.5 L803.6,2021.6 L801.9,2021.5 L800.4,2023.1 L798.8,2022.6 L797.1,2021.8 L795.4,2021.6 L794.0,2021.6 L792.4,2022.7 L791.0,2021.9 L789.7,2022.2 L788.4,2021.3 L786.6,2021.6 L785.5,2021.6 L784.3,2023.1 L782.5,2021.7 L781.1,2021.3 L779.4,2023.7 L777.7,2021.7 L776.4,2022.4 L775.0,2023.2 L773.2,2021.9 L771.6,2022.6 L770.3,2021.6 L769.0,2022.4 L767.7,2023.8 L766.4,2022.7 L764.9,2021.5 L763.2,2024.1 L762.0,2023.1 L760.7,2022.0 L759.5,2022.0 L757.6,2021.9 L755.9,2021.7 L754.5,2022.4 L753.1,2021.7 L751.3,2021.6 L749.7,2021.6 L748.3,2022.0 L746.6,2021.8 L745.1,2021.6 L743.3,2021.9 L741.7,2022.5 L740.0,2021.3 L738.7,2023.0 L737.4,2021.5 L736.1,2021.7 L734.6,2021.7 L733.4,2021.7 L731.7,2021.4 L730.1,2021.7 L728.4,2021.6 L727.1,2023.6 L725.6,2023.3 L724.0,2022.1 L722.8,2022.6 L721.3,2021.5 L720.1,2024.5 L718.8,2021.8 L717.6,2021.9 L716.3,2021.5 L714.6,2023.2 L712.7,2021.5 L711.0,2021.7 L709.9,2021.5 L708.5,2022.3 L707.1,2022.0 L705.8,2021.4 L704.4,2021.7 L703.0,2022.7 L701.2,2021.4 L699.6,2021.4 L698.1,2021.7 L696.6,2021.6 L695.3,2022.1 L693.5,2021.5 L692.2,2021.4 L690.4,2021.7 L689.1,2021.7 L687.9,2021.7 L686.2,2022.1 L684.6,2021.7 L683.0,2021.8 L681.8,2021.6 L680.3,2021.8 L679.1,2022.9 L677.7,2022.0 L675.8,2021.7 L673.9,2022.0 L672.6,2022.6 L670.8,2022.2 L669.3,2021.7 L667.8,2023.2 L666.0,2023.1 L664.4,2021.8 L662.7,2021.5 L661.6,2023.6 L660.2,2022.0 L659.0,2023.8 L657.8,2022.3 L656.3,2021.7 L654.5,2022.1 L653.0,2022.2 L651.8,2021.9 L650.5,2022.5 L649.1,2020.9 L647.9,2022.8 L646.5,2021.6 L645.1,2022.2 L643.6,2023.0 L641.9,2021.7 L640.8,2021.5 L639.4,2022.3 L637.8,2021.7 L636.5,2021.0 L634.7,2021.7 L633.3,2022.3 L631.7,2022.2 L630.0,2021.9 L628.8,2021.9 L627.6,2021.5 L626.0,2022.5 L624.4,2021.4 L622.7,2022.7 L620.8,2021.8 L619.5,2021.1 L617.7,2021.5 L616.2,2022.6 L614.6,2021.8 L612.9,2023.2 L611.0,2021.9 L609.7,2021.0 L608.0,2022.7 L606.8,2022.6 L605.2,2021.7 L603.7,2021.7 L602.0,2021.6 L600.4,2021.8 L598.8,2021.8 L597.1,2021.6 L595.7,2021.4 L594.1,2021.7 L592.9,2022.7 L591.4,2021.7 L590.3,2022.2 L589.1,2021.8 L587.3,2021.8 L585.5,2022.8 L583.8,2023.3 L582.1,2021.6 L580.5,2021.7 L579.2,2021.6 L578.0,2021.1 L576.3,2024.6 L575.1,2021.9 L573.5,2021.4 L572.1,2022.4 L570.6,2022.1 L569.3,2022.1 L567.5,2021.9 L565.7,2021.8 L563.9,2020.9 L562.8,2021.9 L561.6,2021.5 L560.1,2021.6 L559.0,2021.7 L557.8,2021.5 L556.0,2023.2 L554.8,2021.5 L553.4,2021.8 L551.8,2021.6 L550.1,2022.0 L548.5,2021.1 L546.6,2022.5 L544.9,2021.5 L543.7,2022.3 L542.2,2022.6 L540.7,2021.7 L539.0,2021.7 L537.5,2021.5 L536.3,2021.7 L535.2,2023.6 L533.4,2022.5 L531.9,2022.2 L530.1,2022.1 L528.9,2021.6 L527.7,2021.7 L526.1,2022.5 L524.3,2021.6 L522.7,2021.3 L520.9,2021.8 L519.3,2021.3 L517.5,2021.7 L515.9,2022.2 L514.5,2021.7 L513.0,2021.5 L511.5,2023.2 L509.8,2021.2 L508.5,2021.5 L506.8,2022.5 L505.0,2022.3 L503.3,2021.8 L501.4,2021.4 L499.9,2022.3 L498.2,2021.6 L496.9,2022.4 L495.6,2022.6 L493.8,2021.6 L492.4,2022.6 L490.7,2022.7 L489.3,2022.9 L488.0,2023.6 L486.3,2023.1 L484.8,2021.6 L483.1,2021.6 L481.9,2022.3 L480.7,2021.2 L479.3,2022.5 L477.4,2021.2 L475.9,2022.9 L474.0,2021.7 L472.2,2021.5 L470.7,2021.6 L469.2,2021.8 L468.0,2021.8 L466.2,2021.4 L464.4,2024.4 L463.1,2022.9 L461.4,2023.4 L460.2,2023.4 L458.9,2022.5 L457.2,2021.8 L455.4,2021.6 L453.8,2021.6 L452.2,2021.5 L450.5,2022.0 L449.3,2021.6 L447.4,2021.7 L446.1,2022.6 L444.5,2021.5 L442.7,2021.3 L440.8,2022.7 L439.1,2021.6 L437.4,2022.0 L435.7,2022.7 L434.4,2021.6 L432.8,2022.4 L430.9,2021.1 L429.5,2022.2 L427.7,2021.7 L426.0,2022.5 L424.2,2022.0 L422.9,2021.6 L421.3,2022.0 L419.5,2022.4 L418.2,2021.8 L416.7,2021.8 L415.2,2022.2 L413.7,2021.7 L412.5,2022.6 L410.9,2021.8 L409.8,2021.6 L408.6,2021.5 L407.3,2022.8 L406.1,2021.7 L404.6,2021.4 L402.8,2021.8 L401.2,2021.7 L399.7,2021.8 L397.9,2021.7 L396.7,2022.2 L395.5,2022.9 L394.3,2023.4 L392.6,2021.7 L391.2,2021.6 L390.0,2021.6 L388.2,2021.7 L386.5,2021.7 L385.3,2021.6 L383.7,2021.6 L382.4,2022.5 L380.8,2022.6 L379.0,2021.2 L377.6,2021.7 L376.2,2021.8 L374.4,2021.6 L372.9,2022.2 L371.6,2021.4 L370.3,2021.7 L368.5,2022.7 L366.6,2023.4 L364.8,2022.5 L363.2,2021.3 L362.0,2022.1 L360.3,2021.6 L358.6,2022.0 L356.9,2021.9 L355.5,2021.5 L354.0,2021.7 L352.2,2021.5 L351.0,2021.5 L349.2,2022.8 L347.8,2022.9 L346.1,2022.0 L344.5,2021.6 L342.9,2022.6 L341.6,2021.7 L340.3,2023.3 L339.0,2023.2 L337.3,2021.4 L335.4,2021.7 L333.7,2022.5 L332.5,2022.1 L330.7,2022.2 L329.0,2021.7 L327.5,2022.4 L326.0,2021.6 L324.6,2021.5 L323.3,2022.7 L321.6,2023.4 L319.8,2021.1 L318.6,2021.4 L317.3,2021.0 L315.5,2022.4 L313.9,2021.9 L312.0,2022.6 L310.2,2021.4 L308.4,2021.7 L306.8,2021.7 L305.4,2022.2 L304.1,2021.6 L302.8,2022.9 L301.6,2021.6 L300.4,2022.8 L298.6,2021.9 L297.1,2021.7 L295.4,2021.1 L293.7,2021.7 L292.5,2021.7 L291.4,2022.1 L289.5,2021.1 L288.1,2021.4 L286.6,2021.7 L285.1,2021.1 L283.8,2021.7 L282.5,2021.3 L281.2,2022.8 L279.9,2023.3 L278.4,2021.5 L277.2,2024.2 L275.8,2021.8 L273.9,2022.1 L272.1,2022.3 L270.2,2022.3 L269.0,2025.9 L267.2,2022.1 L266.0,2023.3 L264.6,2021.5 L262.9,2023.6 L261.3,2021.7 L259.8,2023.5 L258.6,2021.4 L257.4,2022.0 L256.0,2023.1 L254.4,2022.5 L252.7,2023.7 L251.4,2021.6 L250.2,2021.1 L249.0,2023.8 L247.4,2022.3 L246.1,2021.9 L244.8,2022.4 L243.0,2021.8 L241.4,2021.6 L240.1,2023.7 L238.7,2021.7 L237.3,2021.9 L235.9,2021.9 L234.0,2022.1 L232.5,2021.3 L230.8,2021.1 L229.0,2021.4 L227.3,2022.2 L225.5,2023.5 L224.0,2023.4 L222.8,2022.0 L221.3,2021.4 L219.8,2021.7 L218.0,2021.7 L216.2,2021.9 L214.8,2022.0 L213.1,2022.4 L211.9,2021.7 L210.1,2023.8 L208.6,2021.9 L207.4,2023.2 L206.1,2021.6 L204.5,2021.7 L202.7,2021.6 L201.1,2023.7 L199.3,2021.2 L197.5,2022.9 L195.9,2022.5 L194.2,2021.7 L193.0,2021.6 L191.1,2021.6 L189.3,2022.5 L187.8,2023.6 L186.2,2022.8 L184.9,2021.5 L183.6,2021.7 L182.2,2022.8 L180.7,2021.7 L179.4,2021.7 L177.8,2022.6 L176.1,2021.0 L174.3,2022.4 L173.0,2023.3 L171.7,2022.6 L170.4,2023.8 L168.9,2021.8 L167.3,2022.0 L165.4,2022.8 L163.8,2021.9 L162.0,2021.2 L160.5,2025.7 L158.9,2024.2 L157.5,2024.0 L155.7,2022.7 L154.0,2022.6 L152.7,2021.3 L150.8,2022.6 L149.4,2020.6 L148.2,2021.9 L146.9,2022.6 L145.5,2022.2 L144.2,2021.6 L142.5,2023.7 L140.8,2021.6 L139.5,2021.6 L138.1,2021.5 L136.4,2022.3 L135.0,2021.4 L133.2,2021.0 L132.0,2021.7 L130.6,2021.4 L128.8,2023.4 L127.0,2021.0 L125.6,2021.4 L124.3,2022.1Z" fill="#5ab947" stroke="#5ab947" stroke-width="0.6" stroke-linejoin="round"/>
<path d="M164.8,2023.2 Q167.4,2020.7 167.5,2017.6 L168.3,2009.5 L169.2,2007.0 L170.0,2007.0 L170.9,2009.5 L171.7,2017.6 Q171.8,2020.7 174.4,2023.2 Z" fill="#2f54a4"/>
<path d="M179.3,2023.2 Q182.4,2020.7 182.3,2011.3 L183.0,1988.5 L183.9,1986.0 L183.7,1986.0 L184.6,1988.5 L185.3,2011.3 Q185.2,2020.7 188.3,2023.2 Z" fill="#2f54a4"/>
<path d="M183.9,2022.2 L186.1,1928.7 L187.2,1649.2 L188.0,1649.2 L189.1,1928.7 L191.4,2022.2" fill="none" stroke="#2f54a4" stroke-width="2.7" stroke-linejoin="round"/>
<path d="M238.4,2023.2 Q241.2,2020.7 241.1,2015.5 L241.8,2002.5 L242.7,2000.0 L242.5,2000.0 L243.4,2002.5 L244.1,2015.5 Q244.0,2020.7 246.8,2023.2 Z" fill="#2f54a4"/>
<path d="M242.6,2022.2 L245.1,1988.9 L246.2,1890.2 L247.0,1890.2 L248.1,1988.9 L250.2,2022.2" fill="none" stroke="#2f54a4" stroke-width="2.7" stroke-linejoin="round"/>
<path d="M437.2,2023.2 Q439.8,2020.7 439.9,2017.3 L440.7,2008.5 L441.6,2006.0 L442.4,2006.0 L443.3,2008.5 L444.1,2017.3 Q444.2,2020.7 446.8,2023.2 Z" fill="#5ab947"/>
<path d="M529.2,2023.2 Q531.8,2020.7 532.0,2016.3 L532.9,2005.0 L533.8,2002.5 L534.8,2002.5 L535.7,2005.0 L536.6,2016.3 Q536.8,2020.7 539.4,2023.2 Z" fill="#2f54a4"/>
<path d="M647.3,2023.2 Q649.8,2020.7 649.9,2019.7 L650.9,2016.5 L651.8,2014.0 L652.2,2014.0 L653.1,2016.5 L654.1,2019.7 Q654.2,2020.7 656.7,2023.2 Z" fill="#2f54a4"/>
<path d="M796.1,2023.2 Q798.8,2020.7 798.8,2016.6 L799.6,2006.0 L800.5,2003.5 L801.5,2003.5 L802.4,2006.0 L803.2,2016.6 Q803.2,2020.7 805.9,2023.2 Z" fill="#5ab947"/>
<path d="M124.0,2018.7 L125.2,2016.6 L126.1,2016.3 L127.5,2018.3 L128.7,2012.7 L129.8,2017.9 L131.1,2014.9 L132.5,2017.6 L133.7,2017.7 L135.0,2015.6 L136.3,2019.0 L137.2,2017.6 L138.6,2017.6 L139.8,2017.6 L140.9,2013.5 L142.1,2016.4 L143.3,2015.5 L144.3,2017.7 L145.6,2015.8 L147.0,2015.5 L148.4,2015.6 L149.8,2018.5 L151.2,2016.8 L152.2,2015.7 L153.6,2017.0 L155.0,2018.3 L155.9,2014.8 L157.0,2018.9 L158.0,2018.1 L158.9,2018.5 L160.2,2017.6 L161.3,2012.7 L162.8,2018.4 L163.8,2016.7 L165.3,2018.1 L166.5,2016.0 L167.6,2016.5 L168.5,2018.3 L169.9,2018.3 L171.2,2017.9 L172.7,2018.4 L174.1,2019.7 L175.1,2017.5 L176.6,2018.5 L177.9,2014.8 L179.2,2018.0 L180.7,2012.3 L181.7,2018.1 L182.7,2017.3 L184.1,2016.8 L185.3,2018.2 L186.3,2017.9 L187.3,2018.6 L188.3,2018.6 L189.8,2018.3 L190.9,2015.9 L192.1,2016.8 L193.2,2015.7 L194.1,2015.6 L195.4,2016.1 L196.7,2018.2 L197.9,2018.2 L198.9,2018.4 L200.4,2018.3 L201.5,2018.3 L202.8,2014.3 L204.0,2017.2 L205.0,2015.3 L206.2,2016.3 L207.7,2015.6 L208.8,2016.0 L210.1,2018.8 L211.3,2017.4 L212.6,2016.3 L213.7,2018.2 L215.1,2016.7 L216.5,2019.5 L217.8,2017.6 L218.9,2019.0 L220.1,2018.8 L221.3,2018.4 L222.5,2018.2 L223.6,2019.0 L224.9,2017.9 L226.1,2018.2 L227.4,2018.8 L228.5,2015.7 L229.7,2019.0 L230.8,2016.1 L231.9,2018.4 L233.3,2017.2 L234.8,2018.0 L236.2,2018.9 L237.2,2018.1 L238.4,2019.0 L239.5,2018.4 L240.6,2018.7 L241.9,2018.7 L243.4,2018.2 L244.3,2018.8 L245.3,2018.1 L246.7,2014.9 L247.8,2019.2 L249.2,2018.5 L250.1,2018.7 L251.5,2019.0 L252.6,2018.4 L253.7,2018.4 L254.9,2019.0 L256.1,2017.5 L257.2,2017.8 L258.3,2019.0 L259.8,2018.7 L260.9,2019.0 L262.3,2018.8 L263.6,2019.0 L264.8,2017.8 L265.8,2016.3 L267.0,2018.2 L268.1,2018.7 L269.3,2018.8 L270.6,2017.7 L271.8,2018.2 L273.2,2019.4 L274.7,2017.6 L275.6,2014.9 L277.0,2017.3 L278.5,2019.5 L279.9,2017.7 L281.0,2018.1 L282.0,2018.7 L283.4,2017.0 L284.9,2017.7 L286.3,2019.3 L287.6,2019.5 L289.1,2018.8 L290.4,2018.9 L291.5,2019.7 L292.9,2017.7 L294.2,2018.9 L295.7,2019.3 L297.0,2019.2 L298.3,2019.2 L299.5,2016.1 L300.7,2019.3 L301.8,2017.1 L302.9,2019.3 L304.1,2019.0 L305.2,2018.2 L306.4,2019.2 L307.3,2017.2 L308.5,2019.1 L309.9,2018.5 L311.1,2016.9 L312.3,2018.8 L313.2,2018.7 L314.4,2018.8 L315.8,2018.8 L316.9,2017.1 L317.9,2016.5 L319.1,2018.8 L320.2,2019.5 L321.2,2019.6 L322.5,2019.4 L323.9,2017.6 L324.8,2019.3 L325.8,2019.0 L327.1,2019.5 L328.1,2019.2 L329.2,2018.5 L330.2,2018.8 L331.5,2019.0 L332.7,2017.6 L333.8,2019.1 L335.1,2018.2 L336.1,2017.4 L337.2,2018.8 L338.4,2016.2 L339.5,2017.4 L340.8,2018.9 L341.9,2018.9 L343.0,2018.1 L344.0,2018.3 L345.1,2018.9 L346.5,2016.3 L347.9,2018.5 L349.2,2019.0 L350.3,2019.2 L351.3,2018.4 L352.5,2019.6 L353.9,2019.1 L355.4,2018.9 L356.9,2019.4 L358.3,2018.5 L359.5,2019.0 L360.6,2019.7 L362.1,2019.3 L363.5,2019.2 L364.5,2015.8 L365.7,2018.4 L367.1,2017.6 L368.3,2019.1 L369.7,2019.1 L370.7,2019.1 L371.8,2018.3 L372.8,2019.0 L373.7,2017.5 L374.8,2019.0 L376.0,2019.3 L377.2,2016.3 L378.1,2019.2 L379.5,2018.1 L380.5,2019.1 L381.7,2017.0 L383.2,2019.1 L384.6,2019.4 L385.8,2019.7 L387.1,2018.7 L388.1,2018.1 L389.6,2019.7 L391.0,2018.8 L392.2,2019.9 L393.6,2019.3 L394.7,2019.3 L396.2,2018.4 L397.2,2019.8 L398.6,2019.9 L399.6,2019.2 L400.8,2019.2 L402.1,2017.8 L403.4,2016.7 L404.9,2017.9 L406.0,2019.3 L407.2,2017.7 L408.7,2017.8 L410.2,2019.4 L411.5,2018.9 L412.5,2019.0 L413.5,2019.3 L414.8,2019.3 L416.3,2019.1 L417.6,2018.4 L418.5,2019.2 L420.0,2019.5 L421.0,2018.7 L422.3,2017.6 L423.7,2018.8 L424.7,2016.7 L426.1,2018.9 L427.2,2017.8 L428.5,2018.2 L429.7,2017.6 L431.0,2019.2 L432.1,2018.4 L433.5,2018.8 L434.5,2017.4 L435.5,2019.1 L436.6,2018.1 L438.0,2018.8 L439.1,2019.2 L440.2,2019.3 L441.3,2016.8 L442.7,2019.2 L444.1,2018.5 L445.2,2017.9 L446.5,2019.2 L447.7,2019.3 L449.2,2018.0 L450.6,2019.7 L451.5,2018.0 L452.5,2019.2 L453.9,2019.2 L455.1,2019.6 L456.3,2019.3 L457.6,2020.2 L458.7,2017.9 L459.9,2019.2 L461.4,2019.6 L462.5,2018.7 L463.7,2020.0 L465.0,2019.3 L466.0,2017.9 L467.0,2019.3 L468.0,2019.5 L469.4,2019.8 L470.7,2019.4 L472.2,2019.4 L473.3,2018.8 L474.7,2018.9 L476.0,2019.4 L477.2,2018.0 L478.2,2019.0 L479.5,2019.3 L480.9,2019.3 L482.0,2018.4 L483.3,2019.8 L484.6,2019.7 L485.7,2018.4 L486.7,2019.3 L487.6,2019.2 L489.1,2019.4 L490.1,2014.7 L491.2,2018.9 L492.6,2019.3 L493.7,2018.5 L494.7,2019.6 L496.1,2019.3 L497.3,2019.6 L498.6,2017.3 L499.9,2019.2 L501.1,2019.4 L502.6,2018.1 L503.6,2018.5 L504.5,2019.8 L505.9,2020.1 L507.3,2019.8 L508.6,2018.8 L509.9,2019.4 L511.3,2019.3 L512.6,2017.0 L513.8,2019.0 L515.0,2017.5 L516.5,2016.9 L517.8,2019.3 L519.1,2018.7 L520.2,2018.8 L521.2,2018.0 L522.2,2020.6 L523.1,2018.8 L524.4,2017.8 L525.4,2019.9 L526.6,2019.3 L527.8,2018.4 L528.8,2018.4 L530.0,2017.1 L531.3,2019.4 L532.3,2019.8 L533.4,2018.5 L534.5,2018.1 L535.8,2019.8 L537.1,2019.7 L538.1,2019.6 L539.2,2019.6 L540.2,2017.7 L541.4,2019.6 L542.9,2019.4 L544.3,2019.0 L545.7,2019.7 L547.1,2019.0 L548.5,2019.5 L549.4,2018.8 L550.9,2019.5 L551.9,2017.9 L553.0,2019.6 L554.0,2019.4 L555.1,2019.5 L556.4,2019.4 L557.4,2019.5 L558.5,2019.6 L559.5,2020.0 L560.5,2019.2 L561.6,2019.7 L562.8,2018.7 L564.1,2019.6 L565.2,2019.5 L566.2,2019.6 L567.6,2019.5 L568.9,2019.6 L570.0,2019.7 L571.4,2019.5 L572.5,2020.0 L573.5,2017.8 L575.0,2019.4 L576.1,2018.8 L577.5,2018.0 L578.6,2015.1 L579.7,2019.0 L580.7,2019.7 L582.1,2018.9 L583.3,2019.9 L584.2,2019.3 L585.5,2019.3 L586.8,2018.3 L587.8,2019.5 L589.0,2018.7 L590.1,2019.3 L591.5,2018.0 L592.8,2018.9 L593.8,2019.7 L595.2,2018.8 L596.6,2019.5 L598.0,2020.0 L599.2,2019.4 L600.3,2018.4 L601.4,2018.2 L602.4,2019.1 L603.6,2019.7 L605.1,2019.0 L606.5,2019.9 L607.5,2019.3 L608.5,2020.1 L609.7,2019.5 L610.8,2019.4 L612.2,2019.5 L613.4,2019.3 L614.6,2019.1 L616.0,2020.1 L617.0,2018.4 L618.2,2017.7 L619.3,2019.6 L620.8,2019.5 L621.9,2018.8 L623.4,2019.2 L624.3,2019.7 L625.6,2019.6 L626.8,2019.9 L628.0,2018.7 L629.4,2019.6 L630.9,2019.3 L632.2,2018.1 L633.3,2019.5 L634.7,2018.4 L636.1,2018.8 L637.6,2019.4 L638.8,2019.7 L640.3,2019.5 L641.7,2019.4 L643.1,2019.5 L644.4,2019.5 L645.8,2020.0 L647.0,2019.5 L648.3,2018.9 L649.3,2019.3 L650.3,2018.6 L651.5,2019.5 L652.5,2019.5 L653.5,2018.0 L654.4,2019.6 L655.5,2018.3 L656.6,2018.7 L657.6,2019.8 L658.6,2018.5 L659.6,2019.5 L660.9,2019.4 L662.1,2019.6 L663.6,2018.4 L664.8,2019.5 L666.0,2018.6 L667.0,2019.9 L668.2,2019.5 L669.1,2019.2 L670.3,2019.6 L671.8,2019.7 L673.1,2018.8 L674.3,2018.8 L675.3,2019.3 L676.5,2017.6 L677.8,2019.3 L679.1,2019.6 L680.0,2019.6 L681.4,2019.4 L682.8,2018.9 L683.7,2018.1 L684.7,2019.2 L686.2,2019.9 L687.7,2019.2 L689.0,2019.4 L690.0,2019.6 L691.3,2020.0 L692.6,2019.7 L694.0,2019.7 L694.9,2019.6 L696.3,2019.6 L697.6,2019.3 L698.5,2018.7 L699.6,2019.6 L700.8,2018.6 L702.2,2019.5 L703.1,2019.0 L704.0,2019.5 L705.1,2018.8 L706.2,2019.8 L707.6,2019.5 L708.7,2019.1 L709.9,2019.6 L711.2,2019.8 L712.2,2018.6 L713.5,2019.1 L714.9,2019.1 L716.2,2019.6 L717.5,2019.3 L718.8,2020.0 L720.0,2019.2 L721.1,2018.6 L722.4,2019.6 L723.7,2018.3 L724.9,2019.9 L726.1,2018.2 L727.4,2020.0 L728.5,2019.8 L729.5,2019.6 L730.8,2016.5 L732.1,2020.2 L733.0,2019.8 L734.2,2019.1 L735.4,2019.8 L736.7,2018.9 L738.0,2020.4 L739.0,2019.7 L740.2,2020.1 L741.6,2019.5 L742.8,2018.3 L743.9,2018.8 L745.0,2019.5 L746.0,2019.4 L747.3,2019.4 L748.7,2020.1 L749.7,2019.6 L750.9,2019.2 L751.9,2019.6 L753.2,2018.3 L754.6,2019.2 L755.8,2019.8 L757.1,2019.7 L758.5,2018.8 L759.9,2019.2 L761.3,2019.6 L762.7,2019.3 L764.0,2018.4 L765.0,2018.8 L765.9,2020.1 L766.9,2019.8 L768.0,2019.7 L769.0,2018.9 L770.5,2019.3 L771.7,2018.5 L772.6,2019.8 L773.5,2018.9 L774.5,2019.1 L775.4,2019.8 L776.4,2019.3 L777.4,2019.2 L778.7,2019.4 L779.8,2020.2 L781.1,2019.6 L782.3,2019.7 L783.6,2019.6 L784.6,2019.4 L786.0,2018.1 L787.3,2018.0 L788.5,2019.6 L789.8,2019.6 L790.7,2019.7 L792.1,2019.8 L793.6,2019.5 L794.9,2019.8 L795.8,2018.4 L797.0,2018.7 L797.9,2018.4 L799.3,2018.2 L800.2,2020.0 L801.6,2019.5 L803.1,2019.9 L804.1,2019.6 L805.4,2019.9 L806.8,2020.1 L808.2,2018.5 L809.4,2019.7 L810.4,2019.9 L811.6,2019.6 L812.7,2019.4 L814.1,2019.5 L815.3,2019.7 L816.3,2019.7 L817.6,2019.8 L818.7,2017.2 L819.7,2019.2 L821.0,2019.5 L822.3,2019.2 L823.3,2018.7 L824.7,2018.9 L825.9,2019.5 L827.3,2018.0 L828.3,2019.6 L829.7,2019.7 L831.1,2019.4 L832.2,2019.8 L833.6,2019.6 L834.9,2019.3 L836.1,2019.1 L837.4,2019.5 L838.8,2019.1 L840.1,2019.2 L841.3,2019.8 L842.7,2019.3 L844.2,2019.7 L845.5,2019.8 L846.7,2019.7 L848.1,2019.6 L849.5,2018.5 L850.7,2019.5 L851.9,2019.7 L853.1,2020.0 L854.2,2019.0 L855.5,2019.6 L856.5,2019.9 L857.7,2019.2 L858.7,2019.7 L859.7,2019.4 L860.8,2019.1 L862.1,2019.6 L863.2,2019.6 L864.3,2019.8 L865.3,2019.7 L865.6,2023.3 L864.6,2023.9 L863.5,2023.5 L862.4,2023.6 L861.1,2023.3 L860.0,2023.7 L859.0,2023.4 L858.0,2023.6 L856.8,2023.7 L855.8,2024.2 L854.5,2023.4 L853.4,2024.1 L852.2,2024.6 L851.0,2023.3 L849.8,2023.7 L848.4,2023.6 L847.0,2023.5 L845.8,2023.7 L844.5,2023.9 L843.0,2023.6 L841.6,2024.3 L840.4,2023.3 L839.1,2023.2 L837.7,2023.4 L836.4,2023.5 L835.2,2023.6 L833.9,2023.6 L832.5,2023.8 L831.4,2023.5 L830.0,2023.8 L828.6,2023.6 L827.6,2023.3 L826.2,2023.8 L825.0,2023.7 L823.6,2023.3 L822.6,2023.4 L821.3,2023.4 L820.0,2023.4 L819.0,2023.9 L817.9,2023.5 L816.6,2024.4 L815.6,2023.3 L814.4,2023.5 L813.0,2023.4 L811.9,2023.5 L810.7,2023.9 L809.7,2024.1 L808.5,2024.7 L807.1,2023.4 L805.7,2023.3 L804.4,2024.0 L803.4,2023.3 L801.9,2023.5 L800.5,2023.7 L799.6,2023.4 L798.2,2024.2 L797.3,2023.6 L796.1,2023.6 L795.2,2023.5 L793.9,2023.5 L792.4,2023.6 L791.0,2023.4 L790.1,2023.5 L788.8,2023.4 L787.6,2023.6 L786.3,2023.3 L784.9,2023.3 L783.9,2023.9 L782.6,2024.1 L781.4,2024.5 L780.1,2023.3 L779.0,2024.1 L777.7,2023.3 L776.7,2024.2 L775.7,2023.4 L774.8,2023.2 L773.8,2023.5 L772.9,2023.2 L772.0,2023.5 L770.8,2023.4 L769.3,2023.6 L768.3,2024.3 L767.2,2023.5 L766.2,2024.3 L765.3,2023.4 L764.3,2024.0 L763.0,2024.2 L761.6,2023.6 L760.2,2023.5 L758.8,2023.7 L757.4,2024.4 L756.1,2023.6 L754.9,2023.8 L753.5,2023.2 L752.2,2024.6 L751.2,2023.4 L750.0,2023.5 L749.0,2023.7 L747.6,2023.4 L746.3,2023.4 L745.3,2024.1 L744.2,2023.4 L743.1,2023.8 L741.9,2023.6 L740.5,2023.3 L739.3,2023.9 L738.3,2023.5 L737.0,2023.5 L735.7,2023.4 L734.5,2023.6 L733.3,2023.6 L732.4,2023.5 L731.1,2023.5 L729.8,2023.3 L728.8,2023.4 L727.7,2023.2 L726.4,2023.1 L725.2,2024.5 L724.0,2023.9 L722.7,2023.5 L721.4,2023.4 L720.3,2023.8 L719.1,2023.5 L717.8,2023.7 L716.5,2023.4 L715.2,2023.4 L713.8,2023.9 L712.5,2023.2 L711.5,2023.3 L710.2,2023.5 L709.0,2024.4 L707.9,2023.5 L706.5,2023.8 L705.4,2023.5 L704.3,2023.5 L703.4,2023.7 L702.5,2023.5 L701.1,2023.4 L699.9,2023.5 L698.8,2023.3 L697.9,2024.1 L696.6,2023.4 L695.2,2023.7 L694.3,2023.4 L692.9,2023.2 L691.6,2023.5 L690.3,2023.6 L689.3,2023.9 L688.0,2023.2 L686.5,2023.9 L685.0,2023.4 L684.0,2024.0 L683.1,2023.2 L681.7,2023.5 L680.3,2023.9 L679.4,2023.9 L678.1,2023.6 L676.8,2023.5 L675.6,2023.3 L674.6,2023.6 L673.4,2023.5 L672.1,2024.1 L670.6,2023.4 L669.4,2023.6 L668.5,2023.3 L667.3,2024.7 L666.3,2023.4 L665.1,2023.4 L663.9,2023.5 L662.4,2023.7 L661.2,2023.3 L659.9,2023.3 L658.9,2023.9 L657.9,2024.0 L656.9,2023.5 L655.8,2023.9 L654.7,2023.7 L653.8,2023.5 L652.8,2024.4 L651.8,2023.5 L650.6,2023.4 L649.6,2023.5 L648.6,2023.4 L647.3,2024.1 L646.1,2023.7 L644.7,2023.7 L643.4,2023.4 L642.0,2024.0 L640.6,2024.5 L639.1,2024.0 L637.9,2023.6 L636.4,2023.8 L635.0,2023.8 L633.6,2023.8 L632.5,2024.2 L631.2,2023.5 L629.7,2023.5 L628.3,2024.5 L627.1,2023.6 L625.9,2024.3 L624.6,2023.5 L623.7,2023.9 L622.2,2023.9 L621.1,2023.2 L619.6,2024.2 L618.5,2024.1 L617.3,2023.8 L616.3,2026.0 L614.9,2023.4 L613.7,2023.5 L612.5,2023.3 L611.1,2023.3 L610.0,2024.8 L608.8,2023.4 L607.8,2023.4 L606.8,2022.8 L605.4,2023.7 L603.9,2023.5 L602.7,2023.5 L601.7,2023.3 L600.6,2023.3 L599.5,2023.2 L598.3,2023.7 L596.9,2023.4 L595.5,2023.2 L594.1,2023.9 L593.1,2023.8 L591.8,2023.4 L590.4,2023.4 L589.3,2023.9 L588.1,2023.4 L587.1,2024.0 L585.8,2023.4 L584.5,2023.5 L583.6,2023.4 L582.4,2023.7 L581.0,2023.3 L580.0,2024.0 L578.9,2024.3 L577.8,2023.5 L576.4,2023.4 L575.3,2024.6 L573.8,2023.4 L572.8,2023.4 L571.7,2023.4 L570.3,2024.3 L569.2,2023.5 L567.9,2023.6 L566.5,2024.9 L565.5,2023.3 L564.4,2023.8 L563.1,2023.4 L561.9,2023.6 L560.8,2024.0 L559.8,2024.0 L558.8,2023.4 L557.7,2024.2 L556.7,2023.6 L555.4,2023.4 L554.3,2023.4 L553.3,2023.4 L552.2,2023.4 L551.2,2023.4 L549.7,2023.3 L548.8,2023.6 L547.4,2023.4 L546.0,2023.6 L544.6,2023.4 L543.2,2024.1 L541.7,2023.8 L540.5,2023.6 L539.5,2023.9 L538.4,2023.8 L537.4,2023.4 L536.1,2023.5 L534.8,2024.1 L533.7,2023.2 L532.6,2023.4 L531.6,2023.2 L530.3,2023.8 L529.1,2023.6 L528.1,2023.4 L526.9,2023.9 L525.7,2023.5 L524.7,2023.7 L523.4,2023.5 L522.5,2024.2 L521.5,2024.5 L520.5,2023.6 L519.4,2023.4 L518.1,2023.5 L516.8,2023.4 L515.3,2024.0 L514.1,2023.2 L512.9,2023.9 L511.6,2023.4 L510.2,2023.5 L508.9,2023.5 L507.6,2024.8 L506.2,2023.8 L504.8,2023.3 L503.9,2024.1 L502.9,2024.3 L501.4,2023.4 L500.2,2024.2 L498.9,2025.0 L497.6,2023.6 L496.4,2023.3 L495.0,2023.4 L494.0,2023.9 L492.9,2023.6 L491.5,2024.7 L490.4,2023.4 L489.4,2024.5 L487.9,2024.2 L487.0,2023.4 L486.0,2023.8 L484.9,2023.3 L483.6,2023.8 L482.3,2023.5 L481.2,2023.5 L479.8,2023.9 L478.5,2023.5 L477.5,2023.0 L476.3,2024.4 L475.0,2023.2 L473.6,2024.6 L472.5,2023.3 L471.0,2023.4 L469.7,2023.8 L468.3,2023.6 L467.3,2023.5 L466.3,2023.8 L465.3,2023.3 L464.0,2023.4 L462.8,2023.1 L461.7,2023.5 L460.2,2024.0 L459.0,2024.8 L457.9,2024.1 L456.6,2023.7 L455.4,2023.9 L454.2,2023.4 L452.8,2023.3 L451.8,2023.2 L450.9,2023.2 L449.5,2023.4 L448.0,2024.1 L446.8,2023.1 L445.5,2023.2 L444.4,2024.0 L443.0,2024.0 L441.6,2023.3 L440.5,2024.7 L439.4,2024.0 L438.3,2023.3 L436.9,2023.6 L435.8,2024.4 L434.8,2024.0 L433.8,2023.7 L432.4,2023.8 L431.3,2023.4 L430.0,2024.4 L428.8,2023.3 L427.5,2023.1 L426.4,2023.2 L425.0,2023.5 L424.0,2023.4 L422.6,2024.3 L421.3,2023.8 L420.3,2024.0 L418.8,2024.2 L417.9,2024.2 L416.6,2024.3 L415.1,2024.2 L413.8,2023.8 L412.8,2023.5 L411.8,2023.5 L410.5,2023.3 L409.0,2023.6 L407.5,2023.4 L406.3,2024.5 L405.2,2023.1 L403.7,2023.9 L402.4,2024.1 L401.1,2023.7 L399.9,2023.5 L398.9,2023.4 L397.5,2024.1 L396.5,2024.1 L395.0,2023.3 L393.9,2023.4 L392.5,2024.3 L391.3,2024.0 L389.9,2023.9 L388.4,2024.1 L387.4,2023.4 L386.1,2023.8 L384.9,2023.3 L383.5,2023.7 L382.0,2023.3 L380.8,2023.3 L379.8,2024.2 L378.4,2023.2 L377.5,2023.5 L376.3,2023.5 L375.1,2023.6 L374.0,2023.4 L373.1,2023.6 L372.1,2023.4 L371.0,2023.8 L370.0,2023.4 L368.6,2024.1 L367.4,2023.1 L366.0,2023.4 L364.8,2023.3 L363.8,2023.3 L362.4,2023.9 L360.9,2023.3 L359.8,2023.4 L358.6,2024.0 L357.2,2023.2 L355.7,2024.7 L354.2,2025.4 L352.8,2023.5 L351.6,2023.3 L350.6,2023.4 L349.5,2024.3 L348.2,2023.6 L346.8,2024.4 L345.4,2024.5 L344.3,2024.3 L343.3,2023.5 L342.2,2023.5 L341.1,2023.4 L339.8,2023.7 L338.7,2023.3 L337.5,2023.3 L336.4,2023.7 L335.4,2023.3 L334.1,2023.7 L333.0,2024.1 L331.8,2023.8 L330.5,2023.3 L329.5,2023.3 L328.4,2023.4 L327.4,2023.2 L326.1,2024.5 L325.1,2023.3 L324.2,2023.8 L322.8,2023.7 L321.5,2024.3 L320.5,2024.0 L319.4,2023.8 L318.2,2023.8 L317.2,2024.2 L316.1,2023.3 L314.7,2024.1 L313.5,2023.8 L312.6,2023.4 L311.4,2023.9 L310.2,2024.4 L308.8,2023.5 L307.6,2023.4 L306.7,2023.4 L305.5,2023.9 L304.4,2023.5 L303.2,2023.0 L302.1,2023.2 L301.0,2023.3 L299.8,2023.5 L298.6,2023.6 L297.3,2024.5 L296.0,2023.7 L294.5,2023.3 L293.2,2023.4 L291.8,2023.5 L290.7,2023.8 L289.4,2024.7 L287.9,2023.8 L286.6,2023.4 L285.2,2023.2 L283.7,2023.5 L282.3,2024.1 L281.3,2023.6 L280.2,2026.5 L278.8,2024.0 L277.3,2026.0 L275.9,2023.3 L275.0,2023.2 L273.5,2023.3 L272.1,2023.2 L270.9,2024.0 L269.6,2024.4 L268.4,2023.4 L267.3,2023.9 L266.1,2023.4 L265.1,2023.1 L263.9,2023.8 L262.6,2024.1 L261.2,2024.8 L260.1,2023.8 L258.6,2023.3 L257.5,2023.4 L256.4,2023.5 L255.2,2023.9 L254.0,2023.5 L252.9,2023.3 L251.8,2023.4 L250.4,2023.9 L249.5,2024.8 L248.1,2023.4 L247.0,2025.0 L245.6,2024.1 L244.6,2024.5 L243.7,2024.5 L242.2,2023.4 L240.9,2022.9 L239.8,2023.6 L238.7,2024.7 L237.5,2023.3 L236.5,2024.8 L235.1,2023.9 L233.6,2023.3 L232.2,2024.4 L231.1,2024.4 L230.0,2023.0 L228.8,2023.8 L227.7,2023.2 L226.4,2023.1 L225.2,2024.3 L223.9,2024.2 L222.8,2025.3 L221.6,2024.8 L220.4,2023.5 L219.2,2023.5 L218.1,2024.4 L216.8,2023.2 L215.4,2023.5 L214.0,2023.5 L212.9,2024.8 L211.6,2023.5 L210.4,2024.4 L209.1,2023.9 L208.0,2023.9 L206.5,2024.4 L205.3,2023.3 L204.3,2024.6 L203.1,2023.5 L201.8,2023.3 L200.7,2024.0 L199.2,2023.8 L198.2,2023.3 L197.0,2023.2 L195.7,2023.8 L194.4,2024.6 L193.5,2023.3 L192.4,2023.4 L191.2,2024.1 L190.1,2023.4 L188.6,2023.1 L187.6,2023.6 L186.6,2023.3 L185.6,2023.5 L184.4,2024.3 L183.0,2023.9 L182.0,2023.2 L181.0,2023.5 L179.5,2024.0 L178.2,2024.1 L176.9,2023.5 L175.4,2023.4 L174.4,2023.3 L173.0,2024.5 L171.5,2023.5 L170.2,2023.2 L168.8,2023.4 L167.9,2023.5 L166.8,2023.2 L165.6,2023.3 L164.1,2024.0 L163.1,2024.9 L161.6,2023.3 L160.5,2023.2 L159.2,2023.7 L158.3,2023.2 L157.3,2023.9 L156.2,2023.3 L155.3,2023.3 L153.9,2025.3 L152.5,2023.4 L151.5,2023.9 L150.1,2025.2 L148.7,2023.7 L147.3,2023.7 L145.9,2024.4 L144.6,2023.4 L143.6,2023.4 L142.4,2023.1 L141.2,2023.2 L140.1,2023.3 L138.9,2024.9 L137.5,2023.9 L136.6,2024.4 L135.3,2024.7 L134.0,2025.5 L132.8,2024.7 L131.4,2022.8 L130.1,2024.0 L129.0,2023.3 L127.8,2024.2 L126.4,2022.6 L125.5,2023.9 L124.3,2024.8Z" fill="#b8499b" stroke="#b8499b" stroke-width="0.6" stroke-linejoin="round"/>
<path d="M275.9,2023.2 Q278.6,2020.7 280.1,2016.9 L281.8,2007.1 L282.7,2004.6 L282.9,2004.6 L283.8,2007.1 L285.6,2016.9 Q285.0,2020.7 287.7,2023.2 Z" fill="#b8499b"/>
<path d="M318.8,2022.2 L320.3,1997.1 L321.4,1922.9 L322.2,1922.9 L323.3,1997.1 L325.0,2022.2" fill="none" stroke="#b8499b" stroke-width="2.5" stroke-linejoin="round"/>
<path d="M372.8,2022.2 L374.1,2002.1 L375.2,1942.9 L376.1,1942.9 L377.1,2002.1 L378.4,2022.2" fill="none" stroke="#b8499b" stroke-width="2.4" stroke-linejoin="round"/>
<path d="M330.3,2023.2 Q332.8,2020.7 332.9,2019.7 L333.8,2016.5 L334.7,2014.0 L335.3,2014.0 L336.2,2016.5 L337.1,2019.7 Q337.2,2020.7 339.7,2023.2 Z" fill="#b8499b"/>
</g>
<rect x="190.10" y="2003.0" width="1.0" height="20.0" fill="#000"/>
<rect x="249.70" y="2005.0" width="1.0" height="18.0" fill="#000"/>
<rect x="284.90" y="2008.0" width="1.0" height="15.0" fill="#000"/>
<rect x="321.90" y="2005.5" width="3.4" height="17.5" fill="#000"/>
<rect x="377.50" y="2009.0" width="1.0" height="14.0" fill="#000"/>
<rect x="443.10" y="2010.0" width="2.8" height="13.0" fill="#000"/>
<rect x="801.30" y="2012.0" width="1.4" height="11.0" fill="#000"/>
<text transform="translate(104.8,1617.1)" font-size="24.5" text-anchor="end" fill="#111" stroke="#111" stroke-width="0.4">8000</text>
<text transform="translate(104.8,1661.0)" font-size="24.5" text-anchor="end" fill="#111" stroke="#111" stroke-width="0.4">7000</text>
<text transform="translate(104.8,1712.1)" font-size="24.5" text-anchor="end" fill="#111" stroke="#111" stroke-width="0.4">6000</text>
<text transform="translate(104.8,1764.7)" font-size="24.5" text-anchor="end" fill="#111" stroke="#111" stroke-width="0.4">5000</text>
<text transform="translate(104.8,1816.5)" font-size="24.5" text-anchor="end" fill="#111" stroke="#111" stroke-width="0.4">4000</text>
<text transform="translate(104.8,1869.2)" font-size="24.5" text-anchor="end" fill="#111" stroke="#111" stroke-width="0.4">3000</text>
<text transform="translate(104.8,1920.7)" font-size="24.5" text-anchor="end" fill="#111" stroke="#111" stroke-width="0.4">2000</text>
<text transform="translate(104.8,1973.0)" font-size="24.5" text-anchor="end" fill="#111" stroke="#111" stroke-width="0.4">1000</text>
<text transform="translate(96.8,2033.7)" font-size="24.5" text-anchor="middle" fill="#111" stroke="#111" stroke-width="0.4">0</text>
<text transform="translate(238.7,2051.0) scale(1.015,1)" font-size="24.7" text-anchor="middle" fill="#111" stroke="#111" stroke-width="0.4">30000</text>
<text transform="translate(371.3,2051.0) scale(1.015,1)" font-size="24.7" text-anchor="middle" fill="#111" stroke="#111" stroke-width="0.4">40000</text>
<text transform="translate(495.7,2051.0) scale(1.015,1)" font-size="24.7" text-anchor="middle" fill="#111" stroke="#111" stroke-width="0.4">50000</text>
<text transform="translate(620.5,2051.0) scale(1.015,1)" font-size="24.7" text-anchor="middle" fill="#111" stroke="#111" stroke-width="0.4">60000</text>
<text transform="translate(745.7,2051.0) scale(1.015,1)" font-size="24.7" text-anchor="middle" fill="#111" stroke="#111" stroke-width="0.4">70000</text>
<text transform="translate(845.4,2051.0) scale(1.015,1)" font-size="24.7" text-anchor="middle" fill="#111" stroke="#111" stroke-width="0.4">80000</text>
<text transform="translate(555.0,2091.1) scale(1.030,1)" font-size="38" text-anchor="middle" fill="#111" stroke="#111" stroke-width="0.4">sin</text>
<text transform="translate(26.1,1776.6) rotate(-90) scale(1.115,1)" font-size="38.5" text-anchor="middle" fill="#111" stroke="#111" stroke-width="0.4">cps</text>
<text transform="translate(855.0,1641.7) scale(1.030,1)" font-size="37.5" text-anchor="end" fill="#1a1a1a" stroke="#1a1a1a" stroke-width="0.4">Bivalve</text>
<text transform="translate(190.0,1640.7)" font-size="24.5" text-anchor="middle" fill="#111" stroke="#111" stroke-width="0.4">SiKa</text>
<text transform="translate(250.9,1896.6)" font-size="24.5" text-anchor="middle" fill="#111" stroke="#111" stroke-width="0.4">AlKa</text>
<text transform="translate(323.6,1916.7)" font-size="24.5" text-anchor="middle" fill="#111" stroke="#111" stroke-width="0.4">CaKa</text>
<text transform="translate(283.0,1988.4)" font-size="24.5" text-anchor="middle" fill="#111" stroke="#111" stroke-width="0.4">CaKb</text>
<text transform="translate(449.5,2003.5)" font-size="24.5" text-anchor="middle" fill="#111" stroke="#111" stroke-width="0.4">FeKa</text>
<text transform="translate(816.3,1996.0)" font-size="24.5" text-anchor="middle" fill="#111" stroke="#111" stroke-width="0.4">CaKb</text>
<text transform="translate(1003.6,1756.6)" font-size="38" text-anchor="start" fill="#d8242b">LIF</text>
<text transform="translate(1003.6,1821.8)" font-size="38" text-anchor="start" fill="#2f54a4">TAP</text>
<text transform="translate(1003.6,1869.5)" font-size="38" text-anchor="start" fill="#5ab947">LLIF</text>
<text transform="translate(1003.6,1934.7)" font-size="38" text-anchor="start" fill="#b8499b">PET</text>
</svg>
</body></html>
